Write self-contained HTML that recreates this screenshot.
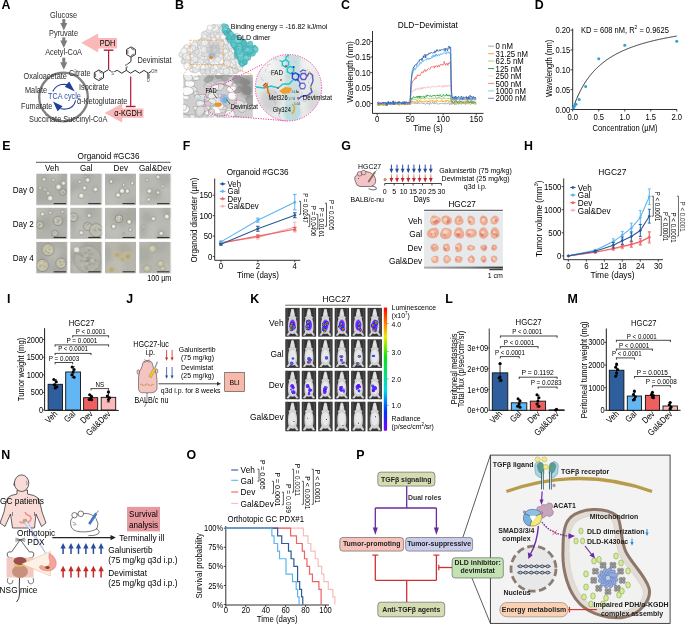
<!DOCTYPE html>
<html><head><meta charset="utf-8"><style>
html,body{margin:0;padding:0;background:#fff;width:685px;height:625px;overflow:hidden}
svg{display:block;font-family:"Liberation Sans",sans-serif;will-change:transform;filter:blur(0.3px)}
</style></head><body>
<svg width="685" height="625" viewBox="0 0 685 625">
<rect width="685" height="625" fill="#fff"/>
<text font-size="12.4" font-weight="bold" fill="#000" transform="translate(1.40 9.30)" >A</text>
<text font-size="7.35" text-anchor="middle" fill="#2a2a2a" transform="translate(63.50 17.60) translate(0 0.3) scale(1 1.15)" >Glucose</text>
<text font-size="7.35" text-anchor="middle" fill="#2a2a2a" transform="translate(63.50 35.60) translate(0 0.3) scale(1 1.15)" >Pyruvate</text>
<text font-size="7.35" text-anchor="middle" fill="#2a2a2a" transform="translate(63.50 54.60) translate(0 0.3) scale(1 1.15)" >Acetyl-CoA</text>
<line x1="63.80" y1="19.10" x2="63.80" y2="23.50" stroke="#7c7c7c" stroke-width="3.0" />
<polygon points="60.30,23.00 67.30,23.00 63.80,30.50" fill="#7c7c7c" />
<line x1="63.80" y1="37.40" x2="63.80" y2="41.00" stroke="#7c7c7c" stroke-width="3.0" />
<polygon points="60.30,40.50 67.30,40.50 63.80,48.00" fill="#7c7c7c" />
<line x1="63.80" y1="57.70" x2="63.80" y2="62.80" stroke="#7c7c7c" stroke-width="3.0" />
<polygon points="60.30,62.30 67.30,62.30 63.80,69.80" fill="#7c7c7c" />
<circle cx="63.50" cy="97.00" r="24.30" fill="none" stroke="#808080" stroke-width="2.3" />
<text font-size="7.35" fill="#2a2a2a" transform="translate(23.60 78.70) translate(0 0.3) scale(1 1.15)" >Oxaloacetate</text>
<text font-size="7.35" fill="#2a2a2a" transform="translate(69.00 75.50) translate(0 0.3) scale(1 1.15)" >Citrate</text>
<text font-size="7.35" fill="#2a2a2a" transform="translate(79.00 89.50) translate(0 0.3) scale(1 1.15)" >Isocitrate</text>
<text font-size="7.35" fill="#2a2a2a" transform="translate(77.00 104.00) translate(0 0.3) scale(1 1.15)" >α-Ketoglutarate</text>
<text font-size="7.35" fill="#2a2a2a" transform="translate(25.00 92.70) translate(0 0.3) scale(1 1.15)" >Malate</text>
<text font-size="7.35" fill="#2a2a2a" transform="translate(21.00 108.30) translate(0 0.3) scale(1 1.15)" >Fumarate</text>
<text font-size="7.35" fill="#2a2a2a" transform="translate(29.00 121.30) translate(0 0.3) scale(1 1.15)" >Succinate Succinyl-CoA</text>
<text font-size="7.3" text-anchor="middle" fill="#2a4f9e" transform="translate(64.50 99.00) translate(0 0.3) scale(1 1.15)" >TCA cycle</text>
<path d="M 52.8 91.6 Q 56 84.5 64 84.3 Q 67 84.4 68 85" fill="none" stroke="#1f3f98" stroke-width="1.1" />
<polygon points="69.20,81.60 64.80,86.80 74.80,91.60" fill="#1f3f98" />
<path d="M 75.6 100.3 Q 74 108 66 109 Q 62.5 109.3 60.5 108.5" fill="none" stroke="#1f3f98" stroke-width="1.1" />
<polygon points="53.00,101.40 57.60,111.20 62.60,106.20" fill="#1f3f98" />
<polygon points="81.10,42.80 98.20,33.50 98.20,38.00 117.00,38.00 117.00,48.40 98.20,48.40 98.20,52.40" fill="#f9b9b9" />
<text font-size="7.3" text-anchor="middle" transform="translate(107.50 45.60) translate(0 0.3) scale(1 1.15)" >PDH</text>
<polygon points="104.60,112.90 122.20,103.60 122.20,108.40 143.50,108.40 143.50,117.70 122.20,117.70 122.20,122.50" fill="#f9b9b9" />
<text font-size="7.3" text-anchor="middle" transform="translate(128.20 115.30) translate(0 0.3) scale(1 1.15)" >α-KGDH</text>
<line x1="108.60" y1="50.20" x2="108.60" y2="69.00" stroke="#b5173a" stroke-width="1.2" />
<line x1="103.80" y1="50.20" x2="113.40" y2="50.20" stroke="#b5173a" stroke-width="1.4" />
<line x1="130.70" y1="76.40" x2="130.70" y2="106.50" stroke="#b5173a" stroke-width="1.2" />
<line x1="125.90" y1="106.50" x2="135.50" y2="106.50" stroke="#b5173a" stroke-width="1.4" />
<text font-size="7.35" fill="#2a2a2a" transform="translate(137.40 62.80) translate(0 0.3) scale(1 1.15)" >Devimistat</text>
<polygon points="103.49,77.95 98.90,80.60 94.31,77.95 94.31,72.65 98.90,70.00 103.49,72.65" fill="none" stroke="#111" stroke-width="0.85" />
<line x1="102.20" y1="77.21" x2="98.90" y2="79.12" stroke="#111" stroke-width="0.6" />
<line x1="95.60" y1="77.21" x2="95.60" y2="73.39" stroke="#111" stroke-width="0.6" />
<line x1="98.90" y1="71.48" x2="102.20" y2="73.39" stroke="#111" stroke-width="0.6" />
<polygon points="135.42,54.55 131.00,57.10 126.58,54.55 126.58,49.45 131.00,46.90 135.42,49.45" fill="none" stroke="#111" stroke-width="0.85" />
<line x1="134.18" y1="53.84" x2="131.00" y2="55.67" stroke="#111" stroke-width="0.6" />
<line x1="127.82" y1="53.84" x2="127.82" y2="50.16" stroke="#111" stroke-width="0.6" />
<line x1="131.00" y1="48.33" x2="134.18" y2="50.16" stroke="#111" stroke-width="0.6" />
<polyline points="103.50,72.65 108.50,69.60 111.30,71.40" fill="none" stroke="#1a1a1a" stroke-width="0.9" />
<polyline points="114.20,71.80 117.20,70.30 121.80,73.20 126.30,70.40 130.60,73.20 135.10,70.40 139.60,73.20 144.00,70.40 148.30,73.20 151.20,71.40" fill="none" stroke="#1a1a1a" stroke-width="0.9" />
<polyline points="126.30,70.40 126.30,68.00" fill="none" stroke="#1a1a1a" stroke-width="0.9" />
<polyline points="127.30,64.20 131.00,61.50 131.00,57.10" fill="none" stroke="#1a1a1a" stroke-width="0.9" />
<line x1="147.80" y1="73.20" x2="147.80" y2="78.20" stroke="#1a1a1a" stroke-width="0.8" />
<line x1="149.00" y1="73.80" x2="149.00" y2="78.20" stroke="#1a1a1a" stroke-width="0.8" />
<text font-size="4.0" text-anchor="middle" fill="#333" transform="translate(112.70 74.40) translate(0 0.3) scale(1 1.15)" >S</text>
<text font-size="4.0" text-anchor="middle" fill="#333" transform="translate(126.30 67.60) translate(0 0.3) scale(1 1.15)" >S</text>
<text font-size="4.0" text-anchor="middle" fill="#333" transform="translate(148.40 81.60) translate(0 0.3) scale(1 1.15)" >O</text>
<text font-size="4.0" fill="#333" transform="translate(151.30 72.40) translate(0 0.3) scale(1 1.15)" >OH</text>
<text font-size="12.4" font-weight="bold" fill="#000" transform="translate(174.90 9.20)" >B</text>
<defs><filter id="bl1" x="-20%" y="-20%" width="140%" height="140%"><feGaussianBlur stdDeviation="1.2"/></filter><filter id="bl2" x="-20%" y="-20%" width="140%" height="140%"><feGaussianBlur stdDeviation="0.6"/></filter><filter id="bl3" x="-30%" y="-30%" width="160%" height="160%"><feGaussianBlur stdDeviation="2.5"/></filter><clipPath id="cpB1"><rect x="183.5" y="74.9" width="69" height="44"/></clipPath><clipPath id="cpB2"><circle cx="288.5" cy="87.7" r="33"/></clipPath></defs>
<polygon points="181.00,57.00 182.00,51.00 186.00,47.00 192.00,43.00 199.00,41.00 203.00,34.00 209.00,28.00 216.00,24.50 222.00,24.00 226.00,28.00 236.00,36.00 247.00,43.00 255.00,47.00 254.00,54.00 248.00,60.00 244.00,67.00 236.00,71.00 226.00,73.50 205.00,73.50 191.00,70.00 183.00,64.00" fill="#e2e2e2" />
<circle cx="198.56" cy="50.84" r="3.33" fill="#e8e8e8" stroke="#a4a4a4" stroke-width="0.35" />
<circle cx="208.86" cy="54.01" r="2.34" fill="#e8e8e8" stroke="#a4a4a4" stroke-width="0.35" />
<circle cx="229.52" cy="68.01" r="2.37" fill="#e8e8e8" stroke="#a4a4a4" stroke-width="0.35" />
<circle cx="220.81" cy="61.29" r="2.03" fill="#f8f8f8" stroke="#a4a4a4" stroke-width="0.35" />
<circle cx="236.07" cy="68.58" r="3.56" fill="#e0e0e0" stroke="#a4a4a4" stroke-width="0.35" />
<circle cx="235.70" cy="70.82" r="2.91" fill="#e8e8e8" stroke="#a4a4a4" stroke-width="0.35" />
<circle cx="210.81" cy="64.45" r="2.01" fill="#eeeeee" stroke="#a4a4a4" stroke-width="0.35" />
<circle cx="214.68" cy="71.59" r="2.08" fill="#eeeeee" stroke="#a4a4a4" stroke-width="0.35" />
<circle cx="219.56" cy="42.45" r="3.23" fill="#f8f8f8" stroke="#a4a4a4" stroke-width="0.35" />
<circle cx="207.37" cy="53.01" r="3.03" fill="#f8f8f8" stroke="#a4a4a4" stroke-width="0.35" />
<circle cx="225.57" cy="69.92" r="3.05" fill="#f3f3f3" stroke="#a4a4a4" stroke-width="0.35" />
<circle cx="233.19" cy="71.23" r="1.97" fill="#f8f8f8" stroke="#a4a4a4" stroke-width="0.35" />
<circle cx="186.90" cy="64.43" r="2.85" fill="#f3f3f3" stroke="#a4a4a4" stroke-width="0.35" />
<circle cx="212.02" cy="29.99" r="2.06" fill="#f8f8f8" stroke="#a4a4a4" stroke-width="0.35" />
<circle cx="202.92" cy="62.75" r="2.19" fill="#e0e0e0" stroke="#a4a4a4" stroke-width="0.35" />
<circle cx="195.40" cy="43.62" r="2.71" fill="#f3f3f3" stroke="#a4a4a4" stroke-width="0.35" />
<circle cx="204.48" cy="72.81" r="2.95" fill="#f8f8f8" stroke="#a4a4a4" stroke-width="0.35" />
<circle cx="215.91" cy="49.56" r="2.45" fill="#f8f8f8" stroke="#a4a4a4" stroke-width="0.35" />
<circle cx="230.22" cy="53.57" r="3.19" fill="#f3f3f3" stroke="#a4a4a4" stroke-width="0.35" />
<circle cx="223.62" cy="54.87" r="3.35" fill="#f3f3f3" stroke="#a4a4a4" stroke-width="0.35" />
<circle cx="213.63" cy="60.18" r="2.32" fill="#f3f3f3" stroke="#a4a4a4" stroke-width="0.35" />
<circle cx="212.39" cy="52.74" r="2.29" fill="#eeeeee" stroke="#a4a4a4" stroke-width="0.35" />
<circle cx="181.56" cy="54.64" r="2.88" fill="#e8e8e8" stroke="#a4a4a4" stroke-width="0.35" />
<circle cx="228.93" cy="46.71" r="3.12" fill="#f3f3f3" stroke="#a4a4a4" stroke-width="0.35" />
<circle cx="235.14" cy="61.12" r="3.11" fill="#e8e8e8" stroke="#a4a4a4" stroke-width="0.35" />
<circle cx="199.59" cy="46.18" r="2.31" fill="#f3f3f3" stroke="#a4a4a4" stroke-width="0.35" />
<circle cx="226.23" cy="38.96" r="2.62" fill="#e0e0e0" stroke="#a4a4a4" stroke-width="0.35" />
<circle cx="208.39" cy="38.57" r="2.40" fill="#e8e8e8" stroke="#a4a4a4" stroke-width="0.35" />
<circle cx="208.79" cy="53.57" r="3.58" fill="#f8f8f8" stroke="#a4a4a4" stroke-width="0.35" />
<circle cx="203.43" cy="41.99" r="2.74" fill="#f8f8f8" stroke="#a4a4a4" stroke-width="0.35" />
<circle cx="224.40" cy="60.96" r="1.89" fill="#e0e0e0" stroke="#a4a4a4" stroke-width="0.35" />
<circle cx="204.18" cy="33.79" r="2.57" fill="#f8f8f8" stroke="#a4a4a4" stroke-width="0.35" />
<circle cx="194.62" cy="45.07" r="3.20" fill="#eeeeee" stroke="#a4a4a4" stroke-width="0.35" />
<circle cx="205.11" cy="39.69" r="2.23" fill="#e0e0e0" stroke="#a4a4a4" stroke-width="0.35" />
<circle cx="206.26" cy="56.46" r="2.49" fill="#eeeeee" stroke="#a4a4a4" stroke-width="0.35" />
<circle cx="221.31" cy="32.11" r="2.46" fill="#e8e8e8" stroke="#a4a4a4" stroke-width="0.35" />
<circle cx="207.02" cy="44.10" r="1.90" fill="#e0e0e0" stroke="#a4a4a4" stroke-width="0.35" />
<circle cx="212.74" cy="43.70" r="3.39" fill="#e0e0e0" stroke="#a4a4a4" stroke-width="0.35" />
<circle cx="213.88" cy="72.36" r="3.12" fill="#e0e0e0" stroke="#a4a4a4" stroke-width="0.35" />
<circle cx="238.15" cy="66.35" r="3.08" fill="#f3f3f3" stroke="#a4a4a4" stroke-width="0.35" />
<circle cx="231.71" cy="49.51" r="1.82" fill="#f3f3f3" stroke="#a4a4a4" stroke-width="0.35" />
<circle cx="202.55" cy="40.08" r="2.71" fill="#e0e0e0" stroke="#a4a4a4" stroke-width="0.35" />
<circle cx="225.92" cy="37.21" r="2.59" fill="#eeeeee" stroke="#a4a4a4" stroke-width="0.35" />
<circle cx="231.71" cy="49.82" r="2.85" fill="#e8e8e8" stroke="#a4a4a4" stroke-width="0.35" />
<circle cx="212.27" cy="71.77" r="2.38" fill="#eeeeee" stroke="#a4a4a4" stroke-width="0.35" />
<circle cx="227.75" cy="40.09" r="2.47" fill="#f8f8f8" stroke="#a4a4a4" stroke-width="0.35" />
<circle cx="199.69" cy="67.67" r="1.80" fill="#eeeeee" stroke="#a4a4a4" stroke-width="0.35" />
<circle cx="217.22" cy="63.46" r="2.18" fill="#e0e0e0" stroke="#a4a4a4" stroke-width="0.35" />
<circle cx="207.44" cy="32.46" r="2.31" fill="#eeeeee" stroke="#a4a4a4" stroke-width="0.35" />
<circle cx="221.70" cy="65.29" r="1.85" fill="#f3f3f3" stroke="#a4a4a4" stroke-width="0.35" />
<circle cx="193.36" cy="63.96" r="2.76" fill="#f3f3f3" stroke="#a4a4a4" stroke-width="0.35" />
<circle cx="229.03" cy="67.72" r="3.29" fill="#e8e8e8" stroke="#a4a4a4" stroke-width="0.35" />
<circle cx="200.95" cy="49.95" r="2.59" fill="#f8f8f8" stroke="#a4a4a4" stroke-width="0.35" />
<circle cx="212.99" cy="47.06" r="2.02" fill="#e0e0e0" stroke="#a4a4a4" stroke-width="0.35" />
<circle cx="186.72" cy="48.61" r="2.20" fill="#e8e8e8" stroke="#a4a4a4" stroke-width="0.35" />
<circle cx="204.64" cy="38.67" r="3.40" fill="#f3f3f3" stroke="#a4a4a4" stroke-width="0.35" />
<circle cx="207.40" cy="56.29" r="2.79" fill="#eeeeee" stroke="#a4a4a4" stroke-width="0.35" />
<circle cx="225.76" cy="41.12" r="3.28" fill="#f8f8f8" stroke="#a4a4a4" stroke-width="0.35" />
<circle cx="189.65" cy="51.44" r="3.39" fill="#e0e0e0" stroke="#a4a4a4" stroke-width="0.35" />
<circle cx="209.12" cy="54.04" r="1.85" fill="#f3f3f3" stroke="#a4a4a4" stroke-width="0.35" />
<circle cx="213.66" cy="41.74" r="2.49" fill="#e0e0e0" stroke="#a4a4a4" stroke-width="0.35" />
<circle cx="218.70" cy="59.25" r="3.30" fill="#e8e8e8" stroke="#a4a4a4" stroke-width="0.35" />
<circle cx="212.80" cy="58.79" r="2.65" fill="#e8e8e8" stroke="#a4a4a4" stroke-width="0.35" />
<circle cx="215.95" cy="34.99" r="2.50" fill="#f8f8f8" stroke="#a4a4a4" stroke-width="0.35" />
<circle cx="221.80" cy="58.84" r="2.94" fill="#f8f8f8" stroke="#a4a4a4" stroke-width="0.35" />
<circle cx="213.22" cy="68.62" r="2.93" fill="#f3f3f3" stroke="#a4a4a4" stroke-width="0.35" />
<circle cx="200.45" cy="46.60" r="2.59" fill="#eeeeee" stroke="#a4a4a4" stroke-width="0.35" />
<circle cx="189.61" cy="65.10" r="2.95" fill="#eeeeee" stroke="#a4a4a4" stroke-width="0.35" />
<circle cx="231.66" cy="69.03" r="1.92" fill="#f3f3f3" stroke="#a4a4a4" stroke-width="0.35" />
<circle cx="188.04" cy="53.15" r="1.92" fill="#eeeeee" stroke="#a4a4a4" stroke-width="0.35" />
<circle cx="189.46" cy="66.73" r="2.38" fill="#e0e0e0" stroke="#a4a4a4" stroke-width="0.35" />
<circle cx="232.54" cy="66.32" r="2.94" fill="#eeeeee" stroke="#a4a4a4" stroke-width="0.35" />
<circle cx="223.99" cy="65.89" r="3.29" fill="#f3f3f3" stroke="#a4a4a4" stroke-width="0.35" />
<circle cx="199.50" cy="54.65" r="2.96" fill="#f8f8f8" stroke="#a4a4a4" stroke-width="0.35" />
<circle cx="208.66" cy="43.02" r="2.21" fill="#f3f3f3" stroke="#a4a4a4" stroke-width="0.35" />
<circle cx="207.32" cy="44.17" r="2.16" fill="#e0e0e0" stroke="#a4a4a4" stroke-width="0.35" />
<circle cx="186.49" cy="48.52" r="3.52" fill="#eeeeee" stroke="#a4a4a4" stroke-width="0.35" />
<circle cx="233.89" cy="62.07" r="2.95" fill="#eeeeee" stroke="#a4a4a4" stroke-width="0.35" />
<circle cx="232.56" cy="49.41" r="3.43" fill="#f8f8f8" stroke="#a4a4a4" stroke-width="0.35" />
<circle cx="217.73" cy="56.08" r="2.74" fill="#f8f8f8" stroke="#a4a4a4" stroke-width="0.35" />
<circle cx="187.48" cy="61.65" r="3.29" fill="#e8e8e8" stroke="#a4a4a4" stroke-width="0.35" />
<circle cx="214.56" cy="60.10" r="2.22" fill="#e0e0e0" stroke="#a4a4a4" stroke-width="0.35" />
<circle cx="195.54" cy="53.04" r="3.28" fill="#f8f8f8" stroke="#a4a4a4" stroke-width="0.35" />
<circle cx="204.56" cy="34.31" r="2.51" fill="#f3f3f3" stroke="#a4a4a4" stroke-width="0.35" />
<circle cx="203.08" cy="59.38" r="3.57" fill="#f8f8f8" stroke="#a4a4a4" stroke-width="0.35" />
<circle cx="212.23" cy="67.24" r="2.21" fill="#f8f8f8" stroke="#a4a4a4" stroke-width="0.35" />
<circle cx="225.60" cy="36.16" r="2.34" fill="#f8f8f8" stroke="#a4a4a4" stroke-width="0.35" />
<circle cx="217.40" cy="42.29" r="2.04" fill="#f8f8f8" stroke="#a4a4a4" stroke-width="0.35" />
<circle cx="205.12" cy="63.03" r="2.46" fill="#f8f8f8" stroke="#a4a4a4" stroke-width="0.35" />
<circle cx="217.41" cy="53.75" r="2.44" fill="#f8f8f8" stroke="#a4a4a4" stroke-width="0.35" />
<circle cx="216.51" cy="66.23" r="3.34" fill="#f8f8f8" stroke="#a4a4a4" stroke-width="0.35" />
<circle cx="217.54" cy="60.20" r="2.17" fill="#eeeeee" stroke="#a4a4a4" stroke-width="0.35" />
<circle cx="216.46" cy="34.17" r="3.10" fill="#f3f3f3" stroke="#a4a4a4" stroke-width="0.35" />
<circle cx="198.31" cy="60.04" r="2.93" fill="#e0e0e0" stroke="#a4a4a4" stroke-width="0.35" />
<circle cx="194.60" cy="59.35" r="3.37" fill="#e8e8e8" stroke="#a4a4a4" stroke-width="0.35" />
<circle cx="199.89" cy="67.85" r="2.13" fill="#eeeeee" stroke="#a4a4a4" stroke-width="0.35" />
<circle cx="204.45" cy="44.43" r="3.49" fill="#eeeeee" stroke="#a4a4a4" stroke-width="0.35" />
<circle cx="187.23" cy="66.20" r="3.47" fill="#f8f8f8" stroke="#a4a4a4" stroke-width="0.35" />
<circle cx="202.76" cy="40.90" r="2.51" fill="#e8e8e8" stroke="#a4a4a4" stroke-width="0.35" />
<circle cx="225.26" cy="57.80" r="2.37" fill="#eeeeee" stroke="#a4a4a4" stroke-width="0.35" />
<circle cx="214.03" cy="47.75" r="2.39" fill="#e8e8e8" stroke="#a4a4a4" stroke-width="0.35" />
<circle cx="196.39" cy="53.01" r="2.49" fill="#eeeeee" stroke="#a4a4a4" stroke-width="0.35" />
<circle cx="222.46" cy="28.32" r="2.23" fill="#f3f3f3" stroke="#a4a4a4" stroke-width="0.35" />
<circle cx="201.43" cy="57.27" r="2.50" fill="#e8e8e8" stroke="#a4a4a4" stroke-width="0.35" />
<circle cx="203.05" cy="57.82" r="2.31" fill="#f3f3f3" stroke="#a4a4a4" stroke-width="0.35" />
<circle cx="231.02" cy="64.72" r="2.27" fill="#f3f3f3" stroke="#a4a4a4" stroke-width="0.35" />
<circle cx="200.72" cy="61.97" r="3.12" fill="#e8e8e8" stroke="#a4a4a4" stroke-width="0.35" />
<circle cx="221.82" cy="28.00" r="2.20" fill="#e0e0e0" stroke="#a4a4a4" stroke-width="0.35" />
<circle cx="218.52" cy="40.66" r="2.11" fill="#e8e8e8" stroke="#a4a4a4" stroke-width="0.35" />
<circle cx="236.01" cy="57.96" r="2.24" fill="#e8e8e8" stroke="#a4a4a4" stroke-width="0.35" />
<circle cx="224.18" cy="31.64" r="2.19" fill="#f3f3f3" stroke="#a4a4a4" stroke-width="0.35" />
<circle cx="230.36" cy="55.44" r="2.90" fill="#e8e8e8" stroke="#a4a4a4" stroke-width="0.35" />
<circle cx="193.97" cy="69.17" r="3.03" fill="#f8f8f8" stroke="#a4a4a4" stroke-width="0.35" />
<circle cx="205.86" cy="60.19" r="2.51" fill="#f8f8f8" stroke="#a4a4a4" stroke-width="0.35" />
<circle cx="226.60" cy="51.41" r="2.56" fill="#e8e8e8" stroke="#a4a4a4" stroke-width="0.35" />
<circle cx="230.50" cy="46.26" r="2.93" fill="#e0e0e0" stroke="#a4a4a4" stroke-width="0.35" />
<circle cx="185.35" cy="59.94" r="2.47" fill="#eeeeee" stroke="#a4a4a4" stroke-width="0.35" />
<circle cx="200.74" cy="42.32" r="3.22" fill="#e0e0e0" stroke="#a4a4a4" stroke-width="0.35" />
<circle cx="219.37" cy="35.10" r="2.68" fill="#f8f8f8" stroke="#a4a4a4" stroke-width="0.35" />
<circle cx="205.96" cy="43.38" r="2.12" fill="#f8f8f8" stroke="#a4a4a4" stroke-width="0.35" />
<circle cx="222.24" cy="62.90" r="3.42" fill="#e0e0e0" stroke="#a4a4a4" stroke-width="0.35" />
<circle cx="207.52" cy="66.88" r="2.20" fill="#f8f8f8" stroke="#a4a4a4" stroke-width="0.35" />
<circle cx="212.50" cy="61.40" r="3.58" fill="#f3f3f3" stroke="#a4a4a4" stroke-width="0.35" />
<circle cx="211.08" cy="32.26" r="2.53" fill="#f8f8f8" stroke="#a4a4a4" stroke-width="0.35" />
<circle cx="221.15" cy="52.12" r="2.67" fill="#e8e8e8" stroke="#a4a4a4" stroke-width="0.35" />
<circle cx="223.10" cy="52.90" r="2.01" fill="#e0e0e0" stroke="#a4a4a4" stroke-width="0.35" />
<circle cx="226.91" cy="60.52" r="2.41" fill="#e8e8e8" stroke="#a4a4a4" stroke-width="0.35" />
<circle cx="231.63" cy="48.07" r="2.85" fill="#eeeeee" stroke="#a4a4a4" stroke-width="0.35" />
<circle cx="220.84" cy="46.41" r="2.43" fill="#e8e8e8" stroke="#a4a4a4" stroke-width="0.35" />
<circle cx="195.09" cy="50.07" r="3.33" fill="#e0e0e0" stroke="#a4a4a4" stroke-width="0.35" />
<circle cx="230.38" cy="45.54" r="2.93" fill="#e8e8e8" stroke="#a4a4a4" stroke-width="0.35" />
<circle cx="224.15" cy="72.83" r="3.35" fill="#e0e0e0" stroke="#a4a4a4" stroke-width="0.35" />
<circle cx="222.03" cy="71.28" r="2.47" fill="#eeeeee" stroke="#a4a4a4" stroke-width="0.35" />
<circle cx="205.20" cy="68.14" r="2.85" fill="#e8e8e8" stroke="#a4a4a4" stroke-width="0.35" />
<circle cx="192.54" cy="48.35" r="2.92" fill="#f8f8f8" stroke="#a4a4a4" stroke-width="0.35" />
<circle cx="234.54" cy="50.48" r="2.87" fill="#f8f8f8" stroke="#a4a4a4" stroke-width="0.35" />
<circle cx="212.92" cy="56.41" r="3.41" fill="#f3f3f3" stroke="#a4a4a4" stroke-width="0.35" />
<circle cx="203.76" cy="46.61" r="2.77" fill="#e0e0e0" stroke="#a4a4a4" stroke-width="0.35" />
<circle cx="194.09" cy="69.67" r="3.30" fill="#f3f3f3" stroke="#a4a4a4" stroke-width="0.35" />
<circle cx="208.94" cy="50.05" r="3.46" fill="#e0e0e0" stroke="#a4a4a4" stroke-width="0.35" />
<circle cx="215.88" cy="32.35" r="3.02" fill="#f3f3f3" stroke="#a4a4a4" stroke-width="0.35" />
<circle cx="211.49" cy="30.92" r="2.56" fill="#f3f3f3" stroke="#a4a4a4" stroke-width="0.35" />
<circle cx="193.12" cy="47.98" r="2.82" fill="#e8e8e8" stroke="#a4a4a4" stroke-width="0.35" />
<circle cx="214.95" cy="43.61" r="2.33" fill="#e8e8e8" stroke="#a4a4a4" stroke-width="0.35" />
<circle cx="211.46" cy="43.02" r="2.81" fill="#e0e0e0" stroke="#a4a4a4" stroke-width="0.35" />
<circle cx="217.02" cy="30.73" r="3.08" fill="#f3f3f3" stroke="#a4a4a4" stroke-width="0.35" />
<circle cx="228.55" cy="40.36" r="2.80" fill="#f3f3f3" stroke="#a4a4a4" stroke-width="0.35" />
<circle cx="236.76" cy="36.58" r="3.45" fill="#e0e0e0" stroke="#a4a4a4" stroke-width="0.35" />
<circle cx="184.21" cy="56.68" r="2.11" fill="#e0e0e0" stroke="#a4a4a4" stroke-width="0.35" />
<circle cx="203.77" cy="54.17" r="2.64" fill="#e0e0e0" stroke="#a4a4a4" stroke-width="0.35" />
<circle cx="202.89" cy="67.04" r="2.80" fill="#f3f3f3" stroke="#a4a4a4" stroke-width="0.35" />
<circle cx="206.07" cy="58.04" r="1.99" fill="#eeeeee" stroke="#a4a4a4" stroke-width="0.35" />
<circle cx="237.70" cy="60.90" r="2.89" fill="#e8e8e8" stroke="#a4a4a4" stroke-width="0.35" />
<circle cx="212.35" cy="34.16" r="2.10" fill="#e8e8e8" stroke="#a4a4a4" stroke-width="0.35" />
<circle cx="236.21" cy="54.10" r="2.01" fill="#f8f8f8" stroke="#a4a4a4" stroke-width="0.35" />
<circle cx="217.99" cy="30.16" r="2.77" fill="#e0e0e0" stroke="#a4a4a4" stroke-width="0.35" />
<circle cx="216.42" cy="62.20" r="3.36" fill="#f8f8f8" stroke="#a4a4a4" stroke-width="0.35" />
<circle cx="198.50" cy="66.71" r="2.37" fill="#f3f3f3" stroke="#a4a4a4" stroke-width="0.35" />
<circle cx="230.11" cy="68.56" r="1.92" fill="#f3f3f3" stroke="#a4a4a4" stroke-width="0.35" />
<circle cx="206.03" cy="41.61" r="3.03" fill="#e8e8e8" stroke="#a4a4a4" stroke-width="0.35" />
<circle cx="186.31" cy="56.40" r="3.49" fill="#eeeeee" stroke="#a4a4a4" stroke-width="0.35" />
<circle cx="191.91" cy="56.16" r="2.18" fill="#eeeeee" stroke="#a4a4a4" stroke-width="0.35" />
<circle cx="197.17" cy="51.81" r="2.66" fill="#e0e0e0" stroke="#a4a4a4" stroke-width="0.35" />
<circle cx="212.73" cy="63.40" r="2.07" fill="#f3f3f3" stroke="#a4a4a4" stroke-width="0.35" />
<circle cx="227.14" cy="63.80" r="3.53" fill="#e8e8e8" stroke="#a4a4a4" stroke-width="0.35" />
<circle cx="221.75" cy="31.97" r="2.28" fill="#f8f8f8" stroke="#a4a4a4" stroke-width="0.35" />
<circle cx="195.54" cy="69.34" r="3.51" fill="#e8e8e8" stroke="#a4a4a4" stroke-width="0.35" />
<circle cx="186.69" cy="46.66" r="2.24" fill="#f3f3f3" stroke="#a4a4a4" stroke-width="0.35" />
<circle cx="197.37" cy="65.96" r="3.22" fill="#f3f3f3" stroke="#a4a4a4" stroke-width="0.35" />
<circle cx="228.00" cy="56.02" r="3.43" fill="#eeeeee" stroke="#a4a4a4" stroke-width="0.35" />
<circle cx="239.39" cy="68.20" r="3.36" fill="#e8e8e8" stroke="#a4a4a4" stroke-width="0.35" />
<circle cx="206.99" cy="53.96" r="3.15" fill="#e8e8e8" stroke="#a4a4a4" stroke-width="0.35" />
<circle cx="214.76" cy="27.88" r="3.57" fill="#f3f3f3" stroke="#a4a4a4" stroke-width="0.35" />
<circle cx="222.06" cy="46.60" r="3.55" fill="#f3f3f3" stroke="#a4a4a4" stroke-width="0.35" />
<circle cx="207.00" cy="47.68" r="3.29" fill="#e8e8e8" stroke="#a4a4a4" stroke-width="0.35" />
<circle cx="185.58" cy="51.29" r="2.10" fill="#e0e0e0" stroke="#a4a4a4" stroke-width="0.35" />
<circle cx="230.58" cy="54.11" r="2.29" fill="#f8f8f8" stroke="#a4a4a4" stroke-width="0.35" />
<circle cx="213.60" cy="26.46" r="2.04" fill="#e0e0e0" stroke="#a4a4a4" stroke-width="0.35" />
<circle cx="227.75" cy="71.36" r="3.14" fill="#f8f8f8" stroke="#a4a4a4" stroke-width="0.35" />
<circle cx="221.79" cy="44.19" r="2.82" fill="#f8f8f8" stroke="#a4a4a4" stroke-width="0.35" />
<circle cx="202.78" cy="71.51" r="2.57" fill="#e0e0e0" stroke="#a4a4a4" stroke-width="0.35" />
<circle cx="220.52" cy="55.88" r="2.26" fill="#f8f8f8" stroke="#a4a4a4" stroke-width="0.35" />
<circle cx="183.16" cy="61.49" r="2.29" fill="#e0e0e0" stroke="#a4a4a4" stroke-width="0.35" />
<circle cx="201.53" cy="44.92" r="2.08" fill="#eeeeee" stroke="#a4a4a4" stroke-width="0.35" />
<circle cx="206.89" cy="61.33" r="2.11" fill="#eeeeee" stroke="#a4a4a4" stroke-width="0.35" />
<circle cx="191.95" cy="62.42" r="2.18" fill="#e8e8e8" stroke="#a4a4a4" stroke-width="0.35" />
<circle cx="209.06" cy="30.55" r="2.71" fill="#e8e8e8" stroke="#a4a4a4" stroke-width="0.35" />
<circle cx="204.33" cy="46.55" r="3.33" fill="#f3f3f3" stroke="#a4a4a4" stroke-width="0.35" />
<circle cx="221.02" cy="50.73" r="2.26" fill="#f8f8f8" stroke="#a4a4a4" stroke-width="0.35" />
<circle cx="208.06" cy="67.19" r="2.81" fill="#f3f3f3" stroke="#a4a4a4" stroke-width="0.35" />
<circle cx="202.24" cy="46.55" r="2.16" fill="#e8e8e8" stroke="#a4a4a4" stroke-width="0.35" />
<circle cx="203.20" cy="34.86" r="2.19" fill="#eeeeee" stroke="#a4a4a4" stroke-width="0.35" />
<circle cx="190.26" cy="50.14" r="2.67" fill="#f3f3f3" stroke="#a4a4a4" stroke-width="0.35" />
<circle cx="221.80" cy="30.78" r="2.07" fill="#f8f8f8" stroke="#a4a4a4" stroke-width="0.35" />
<circle cx="213.72" cy="39.93" r="2.41" fill="#f8f8f8" stroke="#a4a4a4" stroke-width="0.35" />
<circle cx="184.00" cy="50.94" r="3.12" fill="#f3f3f3" stroke="#a4a4a4" stroke-width="0.35" />
<circle cx="199.28" cy="64.51" r="2.05" fill="#f8f8f8" stroke="#a4a4a4" stroke-width="0.35" />
<circle cx="212.62" cy="35.80" r="1.94" fill="#e8e8e8" stroke="#a4a4a4" stroke-width="0.35" />
<circle cx="228.94" cy="57.79" r="1.97" fill="#eeeeee" stroke="#a4a4a4" stroke-width="0.35" />
<circle cx="239.15" cy="63.84" r="2.93" fill="#f8f8f8" stroke="#a4a4a4" stroke-width="0.35" />
<circle cx="219.69" cy="66.04" r="2.50" fill="#e0e0e0" stroke="#a4a4a4" stroke-width="0.35" />
<circle cx="223.04" cy="36.82" r="2.80" fill="#f8f8f8" stroke="#a4a4a4" stroke-width="0.35" />
<circle cx="230.16" cy="69.54" r="2.60" fill="#e8e8e8" stroke="#a4a4a4" stroke-width="0.35" />
<circle cx="231.91" cy="71.22" r="3.06" fill="#eeeeee" stroke="#a4a4a4" stroke-width="0.35" />
<circle cx="212.33" cy="49.48" r="1.93" fill="#e0e0e0" stroke="#a4a4a4" stroke-width="0.35" />
<circle cx="222.67" cy="43.63" r="2.11" fill="#eeeeee" stroke="#a4a4a4" stroke-width="0.35" />
<circle cx="207.45" cy="46.11" r="2.41" fill="#f3f3f3" stroke="#a4a4a4" stroke-width="0.35" />
<circle cx="204.56" cy="49.67" r="3.30" fill="#f3f3f3" stroke="#a4a4a4" stroke-width="0.35" />
<circle cx="212.13" cy="67.11" r="1.98" fill="#e8e8e8" stroke="#a4a4a4" stroke-width="0.35" />
<circle cx="224.81" cy="51.14" r="2.50" fill="#f8f8f8" stroke="#a4a4a4" stroke-width="0.35" />
<circle cx="218.03" cy="36.83" r="2.60" fill="#f3f3f3" stroke="#a4a4a4" stroke-width="0.35" />
<circle cx="235.33" cy="70.32" r="2.93" fill="#e0e0e0" stroke="#a4a4a4" stroke-width="0.35" />
<circle cx="187.99" cy="57.44" r="2.61" fill="#eeeeee" stroke="#a4a4a4" stroke-width="0.35" />
<circle cx="208.96" cy="49.28" r="2.42" fill="#e8e8e8" stroke="#a4a4a4" stroke-width="0.35" />
<circle cx="209.90" cy="65.89" r="2.08" fill="#e0e0e0" stroke="#a4a4a4" stroke-width="0.35" />
<circle cx="204.66" cy="36.36" r="1.97" fill="#f3f3f3" stroke="#a4a4a4" stroke-width="0.35" />
<circle cx="204.76" cy="42.80" r="3.57" fill="#eeeeee" stroke="#a4a4a4" stroke-width="0.35" />
<circle cx="221.05" cy="61.38" r="2.78" fill="#f8f8f8" stroke="#a4a4a4" stroke-width="0.35" />
<circle cx="217.66" cy="36.20" r="2.24" fill="#eeeeee" stroke="#a4a4a4" stroke-width="0.35" />
<circle cx="191.25" cy="69.99" r="1.84" fill="#eeeeee" stroke="#a4a4a4" stroke-width="0.35" />
<circle cx="232.62" cy="56.29" r="2.86" fill="#e8e8e8" stroke="#a4a4a4" stroke-width="0.35" />
<circle cx="194.79" cy="65.60" r="2.15" fill="#f8f8f8" stroke="#a4a4a4" stroke-width="0.35" />
<circle cx="209.83" cy="27.67" r="2.72" fill="#f8f8f8" stroke="#a4a4a4" stroke-width="0.35" />
<circle cx="207.49" cy="70.49" r="2.49" fill="#e8e8e8" stroke="#a4a4a4" stroke-width="0.35" />
<circle cx="207.64" cy="72.39" r="2.74" fill="#e0e0e0" stroke="#a4a4a4" stroke-width="0.35" />
<circle cx="217.84" cy="59.28" r="2.95" fill="#eeeeee" stroke="#a4a4a4" stroke-width="0.35" />
<circle cx="206.94" cy="61.65" r="2.12" fill="#e0e0e0" stroke="#a4a4a4" stroke-width="0.35" />
<circle cx="216.20" cy="50.52" r="2.70" fill="#eeeeee" stroke="#a4a4a4" stroke-width="0.35" />
<circle cx="214.50" cy="50.33" r="2.31" fill="#f8f8f8" stroke="#a4a4a4" stroke-width="0.35" />
<circle cx="226.36" cy="71.44" r="3.49" fill="#e8e8e8" stroke="#a4a4a4" stroke-width="0.35" />
<circle cx="232.19" cy="44.69" r="1.67" fill="#52bcbf" stroke="#36979b" stroke-width="0.3" />
<circle cx="232.02" cy="36.64" r="1.74" fill="#5cc6c8" stroke="#36979b" stroke-width="0.3" />
<circle cx="249.79" cy="47.48" r="2.00" fill="#52bcbf" stroke="#36979b" stroke-width="0.3" />
<circle cx="250.76" cy="46.41" r="2.26" fill="#5cc6c8" stroke="#36979b" stroke-width="0.3" />
<circle cx="246.95" cy="46.60" r="2.37" fill="#52bcbf" stroke="#36979b" stroke-width="0.3" />
<circle cx="248.44" cy="48.91" r="1.59" fill="#70d0d2" stroke="#36979b" stroke-width="0.3" />
<circle cx="235.64" cy="44.34" r="1.97" fill="#66cccd" stroke="#36979b" stroke-width="0.3" />
<circle cx="230.27" cy="39.17" r="3.10" fill="#52bcbf" stroke="#36979b" stroke-width="0.3" />
<circle cx="246.02" cy="57.70" r="1.76" fill="#66cccd" stroke="#36979b" stroke-width="0.3" />
<circle cx="228.11" cy="38.17" r="2.31" fill="#52bcbf" stroke="#36979b" stroke-width="0.3" />
<circle cx="243.38" cy="51.33" r="1.61" fill="#5cc6c8" stroke="#36979b" stroke-width="0.3" />
<circle cx="229.66" cy="30.72" r="1.54" fill="#70d0d2" stroke="#36979b" stroke-width="0.3" />
<circle cx="223.92" cy="30.57" r="2.20" fill="#52bcbf" stroke="#36979b" stroke-width="0.3" />
<circle cx="255.35" cy="49.11" r="2.62" fill="#70d0d2" stroke="#36979b" stroke-width="0.3" />
<circle cx="233.61" cy="42.69" r="2.69" fill="#70d0d2" stroke="#36979b" stroke-width="0.3" />
<circle cx="228.78" cy="32.96" r="1.96" fill="#70d0d2" stroke="#36979b" stroke-width="0.3" />
<circle cx="245.68" cy="56.93" r="2.71" fill="#5cc6c8" stroke="#36979b" stroke-width="0.3" />
<circle cx="239.13" cy="40.17" r="2.92" fill="#70d0d2" stroke="#36979b" stroke-width="0.3" />
<circle cx="240.12" cy="42.77" r="2.35" fill="#66cccd" stroke="#36979b" stroke-width="0.3" />
<circle cx="245.84" cy="56.33" r="2.50" fill="#66cccd" stroke="#36979b" stroke-width="0.3" />
<circle cx="225.81" cy="32.35" r="2.20" fill="#52bcbf" stroke="#36979b" stroke-width="0.3" />
<circle cx="232.63" cy="43.26" r="1.61" fill="#52bcbf" stroke="#36979b" stroke-width="0.3" />
<circle cx="232.68" cy="40.50" r="2.35" fill="#70d0d2" stroke="#36979b" stroke-width="0.3" />
<circle cx="229.75" cy="32.64" r="1.94" fill="#52bcbf" stroke="#36979b" stroke-width="0.3" />
<circle cx="241.69" cy="48.89" r="2.70" fill="#5cc6c8" stroke="#36979b" stroke-width="0.3" />
<circle cx="235.93" cy="46.36" r="2.36" fill="#70d0d2" stroke="#36979b" stroke-width="0.3" />
<circle cx="230.01" cy="31.78" r="1.65" fill="#52bcbf" stroke="#36979b" stroke-width="0.3" />
<circle cx="235.95" cy="38.56" r="2.91" fill="#70d0d2" stroke="#36979b" stroke-width="0.3" />
<circle cx="246.17" cy="50.48" r="3.09" fill="#66cccd" stroke="#36979b" stroke-width="0.3" />
<circle cx="241.73" cy="41.53" r="2.49" fill="#5cc6c8" stroke="#36979b" stroke-width="0.3" />
<circle cx="233.37" cy="35.96" r="2.09" fill="#5cc6c8" stroke="#36979b" stroke-width="0.3" />
<circle cx="239.46" cy="59.38" r="1.80" fill="#66cccd" stroke="#36979b" stroke-width="0.3" />
<circle cx="239.17" cy="40.36" r="3.04" fill="#66cccd" stroke="#36979b" stroke-width="0.3" />
<circle cx="240.63" cy="62.62" r="2.44" fill="#70d0d2" stroke="#36979b" stroke-width="0.3" />
<circle cx="235.01" cy="39.36" r="2.61" fill="#70d0d2" stroke="#36979b" stroke-width="0.3" />
<circle cx="241.79" cy="45.00" r="2.02" fill="#66cccd" stroke="#36979b" stroke-width="0.3" />
<circle cx="239.83" cy="43.68" r="2.64" fill="#52bcbf" stroke="#36979b" stroke-width="0.3" />
<circle cx="238.90" cy="56.34" r="2.50" fill="#52bcbf" stroke="#36979b" stroke-width="0.3" />
<circle cx="241.63" cy="62.27" r="2.58" fill="#52bcbf" stroke="#36979b" stroke-width="0.3" />
<circle cx="250.21" cy="43.67" r="2.67" fill="#66cccd" stroke="#36979b" stroke-width="0.3" />
<circle cx="255.01" cy="48.33" r="2.14" fill="#52bcbf" stroke="#36979b" stroke-width="0.3" />
<circle cx="223.64" cy="26.12" r="1.72" fill="#52bcbf" stroke="#36979b" stroke-width="0.3" />
<circle cx="248.19" cy="57.70" r="2.75" fill="#70d0d2" stroke="#36979b" stroke-width="0.3" />
<circle cx="244.80" cy="58.78" r="2.52" fill="#70d0d2" stroke="#36979b" stroke-width="0.3" />
<circle cx="240.88" cy="54.13" r="3.00" fill="#70d0d2" stroke="#36979b" stroke-width="0.3" />
<circle cx="231.26" cy="33.25" r="1.67" fill="#5cc6c8" stroke="#36979b" stroke-width="0.3" />
<circle cx="237.52" cy="40.71" r="2.23" fill="#70d0d2" stroke="#36979b" stroke-width="0.3" />
<circle cx="240.82" cy="55.53" r="2.27" fill="#70d0d2" stroke="#36979b" stroke-width="0.3" />
<circle cx="232.72" cy="38.14" r="2.11" fill="#70d0d2" stroke="#36979b" stroke-width="0.3" />
<circle cx="243.77" cy="41.42" r="2.11" fill="#52bcbf" stroke="#36979b" stroke-width="0.3" />
<circle cx="245.99" cy="43.99" r="1.77" fill="#5cc6c8" stroke="#36979b" stroke-width="0.3" />
<circle cx="246.41" cy="50.88" r="1.58" fill="#5cc6c8" stroke="#36979b" stroke-width="0.3" />
<circle cx="244.70" cy="45.77" r="2.94" fill="#52bcbf" stroke="#36979b" stroke-width="0.3" />
<circle cx="240.92" cy="45.58" r="2.27" fill="#70d0d2" stroke="#36979b" stroke-width="0.3" />
<circle cx="239.40" cy="43.26" r="2.50" fill="#52bcbf" stroke="#36979b" stroke-width="0.3" />
<circle cx="242.46" cy="49.67" r="1.51" fill="#5cc6c8" stroke="#36979b" stroke-width="0.3" />
<circle cx="238.20" cy="49.15" r="2.96" fill="#66cccd" stroke="#36979b" stroke-width="0.3" />
<circle cx="252.52" cy="54.22" r="2.03" fill="#70d0d2" stroke="#36979b" stroke-width="0.3" />
<circle cx="243.39" cy="45.83" r="2.02" fill="#70d0d2" stroke="#36979b" stroke-width="0.3" />
<circle cx="254.37" cy="46.91" r="1.89" fill="#52bcbf" stroke="#36979b" stroke-width="0.3" />
<circle cx="226.32" cy="26.51" r="2.18" fill="#52bcbf" stroke="#36979b" stroke-width="0.3" />
<circle cx="254.06" cy="49.88" r="2.82" fill="#66cccd" stroke="#36979b" stroke-width="0.3" />
<circle cx="231.43" cy="33.96" r="2.20" fill="#70d0d2" stroke="#36979b" stroke-width="0.3" />
<circle cx="237.15" cy="55.70" r="3.10" fill="#66cccd" stroke="#36979b" stroke-width="0.3" />
<circle cx="247.94" cy="51.65" r="2.95" fill="#66cccd" stroke="#36979b" stroke-width="0.3" />
<circle cx="250.39" cy="54.97" r="1.72" fill="#5cc6c8" stroke="#36979b" stroke-width="0.3" />
<circle cx="230.62" cy="39.69" r="3.08" fill="#52bcbf" stroke="#36979b" stroke-width="0.3" />
<circle cx="237.17" cy="54.18" r="2.75" fill="#70d0d2" stroke="#36979b" stroke-width="0.3" />
<circle cx="234.26" cy="46.38" r="2.01" fill="#66cccd" stroke="#36979b" stroke-width="0.3" />
<circle cx="234.80" cy="39.06" r="2.36" fill="#70d0d2" stroke="#36979b" stroke-width="0.3" />
<circle cx="245.95" cy="45.31" r="3.02" fill="#70d0d2" stroke="#36979b" stroke-width="0.3" />
<circle cx="255.39" cy="50.16" r="2.61" fill="#70d0d2" stroke="#36979b" stroke-width="0.3" />
<circle cx="242.97" cy="61.64" r="1.99" fill="#5cc6c8" stroke="#36979b" stroke-width="0.3" />
<circle cx="234.26" cy="36.54" r="2.33" fill="#52bcbf" stroke="#36979b" stroke-width="0.3" />
<circle cx="235.13" cy="48.91" r="1.63" fill="#66cccd" stroke="#36979b" stroke-width="0.3" />
<circle cx="237.42" cy="52.86" r="2.76" fill="#5cc6c8" stroke="#36979b" stroke-width="0.3" />
<circle cx="252.89" cy="53.33" r="2.77" fill="#66cccd" stroke="#36979b" stroke-width="0.3" />
<circle cx="243.56" cy="43.54" r="2.91" fill="#5cc6c8" stroke="#36979b" stroke-width="0.3" />
<circle cx="245.95" cy="58.08" r="2.89" fill="#70d0d2" stroke="#36979b" stroke-width="0.3" />
<circle cx="246.28" cy="49.82" r="2.80" fill="#70d0d2" stroke="#36979b" stroke-width="0.3" />
<circle cx="251.71" cy="51.91" r="2.06" fill="#52bcbf" stroke="#36979b" stroke-width="0.3" />
<circle cx="238.91" cy="58.24" r="1.71" fill="#52bcbf" stroke="#36979b" stroke-width="0.3" />
<circle cx="235.39" cy="47.13" r="2.57" fill="#52bcbf" stroke="#36979b" stroke-width="0.3" />
<circle cx="241.77" cy="63.23" r="1.97" fill="#66cccd" stroke="#36979b" stroke-width="0.3" />
<circle cx="243.17" cy="52.09" r="2.66" fill="#52bcbf" stroke="#36979b" stroke-width="0.3" />
<circle cx="232.89" cy="41.56" r="2.97" fill="#5cc6c8" stroke="#36979b" stroke-width="0.3" />
<circle cx="228.02" cy="30.13" r="2.20" fill="#5cc6c8" stroke="#36979b" stroke-width="0.3" />
<circle cx="244.88" cy="61.47" r="2.14" fill="#70d0d2" stroke="#36979b" stroke-width="0.3" />
<circle cx="242.20" cy="64.01" r="2.62" fill="#5cc6c8" stroke="#36979b" stroke-width="0.3" />
<circle cx="247.90" cy="48.76" r="2.03" fill="#52bcbf" stroke="#36979b" stroke-width="0.3" />
<circle cx="236.33" cy="50.90" r="2.07" fill="#52bcbf" stroke="#36979b" stroke-width="0.3" />
<circle cx="238.81" cy="55.54" r="2.19" fill="#66cccd" stroke="#36979b" stroke-width="0.3" />
<circle cx="245.25" cy="62.99" r="2.01" fill="#52bcbf" stroke="#36979b" stroke-width="0.3" />
<circle cx="241.86" cy="52.14" r="2.54" fill="#70d0d2" stroke="#36979b" stroke-width="0.3" />
<circle cx="226.21" cy="34.30" r="1.69" fill="#52bcbf" stroke="#36979b" stroke-width="0.3" />
<circle cx="241.05" cy="58.13" r="2.88" fill="#66cccd" stroke="#36979b" stroke-width="0.3" />
<circle cx="240.72" cy="49.88" r="2.13" fill="#5cc6c8" stroke="#36979b" stroke-width="0.3" />
<circle cx="238.55" cy="53.68" r="2.93" fill="#52bcbf" stroke="#36979b" stroke-width="0.3" />
<circle cx="248.13" cy="52.11" r="2.86" fill="#52bcbf" stroke="#36979b" stroke-width="0.3" />
<circle cx="237.54" cy="48.98" r="2.75" fill="#66cccd" stroke="#36979b" stroke-width="0.3" />
<circle cx="248.47" cy="51.02" r="2.40" fill="#5cc6c8" stroke="#36979b" stroke-width="0.3" />
<circle cx="226.49" cy="27.19" r="2.20" fill="#70d0d2" stroke="#36979b" stroke-width="0.3" />
<circle cx="235.17" cy="45.80" r="2.42" fill="#5cc6c8" stroke="#36979b" stroke-width="0.3" />
<circle cx="249.49" cy="50.04" r="3.13" fill="#5cc6c8" stroke="#36979b" stroke-width="0.3" />
<circle cx="239.13" cy="46.95" r="3.20" fill="#66cccd" stroke="#36979b" stroke-width="0.3" />
<circle cx="224.20" cy="30.53" r="2.20" fill="#70d0d2" stroke="#36979b" stroke-width="0.3" />
<circle cx="245.13" cy="52.03" r="2.95" fill="#52bcbf" stroke="#36979b" stroke-width="0.3" />
<circle cx="245.96" cy="50.18" r="2.12" fill="#70d0d2" stroke="#36979b" stroke-width="0.3" />
<circle cx="239.63" cy="58.07" r="1.63" fill="#70d0d2" stroke="#36979b" stroke-width="0.3" />
<circle cx="223.81" cy="25.54" r="2.14" fill="#66cccd" stroke="#36979b" stroke-width="0.3" />
<circle cx="229.88" cy="37.50" r="2.16" fill="#66cccd" stroke="#36979b" stroke-width="0.3" />
<circle cx="237.85" cy="48.49" r="2.79" fill="#52bcbf" stroke="#36979b" stroke-width="0.3" />
<circle cx="233.62" cy="44.85" r="2.73" fill="#5cc6c8" stroke="#36979b" stroke-width="0.3" />
<circle cx="244.99" cy="46.98" r="2.83" fill="#52bcbf" stroke="#36979b" stroke-width="0.3" />
<circle cx="240.09" cy="41.08" r="2.04" fill="#66cccd" stroke="#36979b" stroke-width="0.3" />
<circle cx="255.87" cy="49.07" r="2.39" fill="#70d0d2" stroke="#36979b" stroke-width="0.3" />
<circle cx="228.07" cy="30.20" r="1.82" fill="#52bcbf" stroke="#36979b" stroke-width="0.3" />
<circle cx="245.03" cy="61.91" r="2.44" fill="#52bcbf" stroke="#36979b" stroke-width="0.3" />
<circle cx="247.48" cy="49.77" r="2.22" fill="#70d0d2" stroke="#36979b" stroke-width="0.3" />
<circle cx="239.31" cy="49.19" r="2.63" fill="#70d0d2" stroke="#36979b" stroke-width="0.3" />
<circle cx="240.43" cy="54.44" r="3.14" fill="#70d0d2" stroke="#36979b" stroke-width="0.3" />
<circle cx="225.15" cy="29.13" r="2.20" fill="#70d0d2" stroke="#36979b" stroke-width="0.3" />
<circle cx="232.42" cy="37.45" r="2.34" fill="#52bcbf" stroke="#36979b" stroke-width="0.3" />
<circle cx="231.29" cy="35.71" r="1.53" fill="#70d0d2" stroke="#36979b" stroke-width="0.3" />
<circle cx="229.59" cy="40.08" r="2.43" fill="#5cc6c8" stroke="#36979b" stroke-width="0.3" />
<circle cx="225.06" cy="32.35" r="1.67" fill="#52bcbf" stroke="#36979b" stroke-width="0.3" />
<circle cx="229.61" cy="37.71" r="2.33" fill="#52bcbf" stroke="#36979b" stroke-width="0.3" />
<circle cx="244.13" cy="43.39" r="2.81" fill="#52bcbf" stroke="#36979b" stroke-width="0.3" />
<circle cx="238.87" cy="51.44" r="2.88" fill="#5cc6c8" stroke="#36979b" stroke-width="0.3" />
<circle cx="237.59" cy="39.99" r="3.17" fill="#70d0d2" stroke="#36979b" stroke-width="0.3" />
<g filter="url(#bl3)">
<ellipse cx="214.00" cy="50.00" rx="9.00" ry="7.00" fill="#b4b4b4" opacity="0.6"/>
</g>
<ellipse cx="212.00" cy="56.00" rx="3.50" ry="2.80" fill="#8f9fc8" opacity="0.6"/>
<ellipse cx="211.00" cy="57.50" rx="1.80" ry="1.40" fill="#d8902a" />
<rect x="190.00" y="40.30" width="33.60" height="24.20" fill="none" stroke="#f0a040" stroke-width="0.8" stroke-dasharray="1.6 1.2"/>
<line x1="190.00" y1="64.50" x2="183.50" y2="74.90" stroke="#f0a040" stroke-width="0.8" stroke-dasharray="1.6 1.2"/>
<line x1="223.60" y1="64.50" x2="252.50" y2="74.90" stroke="#f0a040" stroke-width="0.8" stroke-dasharray="1.6 1.2"/>
<clipPath id="cpB1b"><rect x="183.2" y="75.1" width="69.7" height="42.7"/></clipPath>
<g clip-path="url(#cpB1b)">
<rect x="183.20" y="75.10" width="69.70" height="42.70" fill="#cfcfcf" />
<g filter="url(#bl2)">
<path d="M 225.75 105.84 Q 227.18 107.39 226.84 109.24 Q 226.51 111.10 224.04 111.95 Q 221.57 112.80 218.88 112.06 Q 216.19 111.33 216.58 109.42 Q 216.98 107.50 218.21 106.26 Q 219.44 105.02 221.88 104.65 Q 224.32 104.29 225.75 105.84 Z" fill="#ececec" stroke="#8e8e8e" stroke-width="0.5" />
<path d="M 222.60 106.73 Q 223.66 106.09 224.91 106.53 Q 226.17 106.98 227.43 107.68 Q 228.68 108.38 227.35 109.03 Q 226.01 109.68 224.72 109.94 Q 223.43 110.21 222.24 109.66 Q 221.06 109.11 221.30 108.24 Q 221.54 107.37 222.60 106.73 Z" fill="#dcdcdc" stroke="#8e8e8e" stroke-width="0.5" />
<path d="M 187.38 76.30 Q 187.38 74.31 189.82 73.77 Q 192.26 73.24 194.87 73.01 Q 197.48 72.79 198.15 74.69 Q 198.82 76.58 198.08 78.53 Q 197.34 80.48 194.58 80.30 Q 191.82 80.11 189.60 79.21 Q 187.39 78.30 187.38 76.30 Z" fill="#f4f4f4" stroke="#8e8e8e" stroke-width="0.5" />
<path d="M 181.21 104.95 Q 183.91 103.97 186.47 105.14 Q 189.02 106.31 189.30 108.53 Q 189.57 110.76 187.75 112.23 Q 185.92 113.70 183.79 113.08 Q 181.65 112.47 180.10 111.36 Q 178.56 110.24 178.54 108.09 Q 178.52 105.94 181.21 104.95 Z" fill="#fafafa" stroke="#8e8e8e" stroke-width="0.5" />
<path d="M 214.77 107.33 Q 213.80 108.29 212.67 107.45 Q 211.54 106.62 210.42 105.40 Q 209.30 104.19 210.91 103.55 Q 212.52 102.90 213.68 102.85 Q 214.85 102.79 216.21 103.46 Q 217.56 104.14 216.65 105.25 Q 215.73 106.36 214.77 107.33 Z" fill="#dcdcdc" stroke="#8e8e8e" stroke-width="0.5" />
<path d="M 230.42 91.95 Q 232.74 91.04 234.72 92.16 Q 236.70 93.28 237.21 95.00 Q 237.73 96.72 236.47 98.32 Q 235.22 99.91 232.71 100.00 Q 230.20 100.08 228.77 98.44 Q 227.33 96.81 227.72 94.83 Q 228.10 92.85 230.42 91.95 Z" fill="#fafafa" stroke="#8e8e8e" stroke-width="0.5" />
<path d="M 236.12 89.73 Q 234.10 90.54 233.23 88.84 Q 232.36 87.15 231.58 85.54 Q 230.80 83.93 232.81 83.54 Q 234.82 83.16 236.66 83.05 Q 238.51 82.94 239.05 84.49 Q 239.60 86.05 238.87 87.49 Q 238.15 88.93 236.12 89.73 Z" fill="#e4e4e4" stroke="#8e8e8e" stroke-width="0.5" />
<path d="M 234.01 111.01 Q 234.10 111.97 233.02 112.52 Q 231.94 113.07 231.01 112.43 Q 230.08 111.79 229.46 110.89 Q 228.84 109.98 229.89 109.48 Q 230.94 108.97 231.91 108.78 Q 232.87 108.59 233.39 109.32 Q 233.92 110.06 234.01 111.01 Z" fill="#dcdcdc" stroke="#8e8e8e" stroke-width="0.5" />
<path d="M 239.10 89.15 Q 238.11 88.01 238.92 87.00 Q 239.72 85.99 240.82 85.08 Q 241.93 84.16 243.45 84.82 Q 244.97 85.47 245.15 86.70 Q 245.33 87.92 244.53 89.05 Q 243.73 90.17 241.91 90.23 Q 240.08 90.29 239.10 89.15 Z" fill="#a8a8a8" stroke="#8e8e8e" stroke-width="0.5" />
<path d="M 186.79 114.68 Q 188.62 114.34 189.95 115.26 Q 191.28 116.19 191.82 117.83 Q 192.37 119.46 191.00 120.61 Q 189.64 121.76 187.97 121.58 Q 186.29 121.39 184.95 120.08 Q 183.60 118.76 184.28 116.89 Q 184.95 115.01 186.79 114.68 Z" fill="#dcdcdc" stroke="#8e8e8e" stroke-width="0.5" />
<path d="M 213.09 107.67 Q 213.57 108.59 212.84 109.25 Q 212.10 109.91 210.95 110.38 Q 209.81 110.86 208.38 110.37 Q 206.96 109.88 206.94 108.80 Q 206.92 107.73 208.19 107.12 Q 209.47 106.51 211.04 106.63 Q 212.60 106.75 213.09 107.67 Z" fill="#fafafa" stroke="#8e8e8e" stroke-width="0.5" />
<path d="M 203.42 108.74 Q 202.13 109.39 200.54 109.73 Q 198.94 110.08 198.37 109.11 Q 197.80 108.14 198.18 107.45 Q 198.56 106.76 199.47 106.14 Q 200.38 105.53 201.88 105.81 Q 203.38 106.09 204.05 107.09 Q 204.71 108.08 203.42 108.74 Z" fill="#e4e4e4" stroke="#8e8e8e" stroke-width="0.5" />
<path d="M 188.21 74.86 Q 189.45 75.82 188.05 76.65 Q 186.65 77.49 185.18 77.92 Q 183.72 78.35 182.85 77.38 Q 181.99 76.41 181.43 75.14 Q 180.88 73.88 182.58 73.29 Q 184.28 72.71 185.62 73.31 Q 186.96 73.90 188.21 74.86 Z" fill="#f4f4f4" stroke="#8e8e8e" stroke-width="0.5" />
<path d="M 225.40 74.94 Q 226.51 75.74 227.73 76.88 Q 228.95 78.03 227.71 79.39 Q 226.47 80.76 224.47 80.62 Q 222.47 80.48 221.35 79.25 Q 220.24 78.02 220.85 76.70 Q 221.46 75.37 222.87 74.76 Q 224.28 74.14 225.40 74.94 Z" fill="#b4b4b4" stroke="#8e8e8e" stroke-width="0.5" />
<path d="M 188.22 99.27 Q 186.92 100.14 185.23 99.73 Q 183.54 99.32 182.33 98.51 Q 181.13 97.70 181.19 96.20 Q 181.26 94.69 183.63 94.99 Q 186.01 95.29 187.64 95.69 Q 189.27 96.09 189.39 97.24 Q 189.51 98.39 188.22 99.27 Z" fill="#f4f4f4" stroke="#8e8e8e" stroke-width="0.5" />
<path d="M 191.06 119.74 Q 189.47 119.78 188.78 118.50 Q 188.08 117.22 189.06 116.06 Q 190.04 114.91 191.83 114.55 Q 193.61 114.20 194.48 115.39 Q 195.35 116.58 195.28 117.72 Q 195.21 118.85 193.93 119.28 Q 192.65 119.70 191.06 119.74 Z" fill="#ececec" stroke="#8e8e8e" stroke-width="0.5" />
<path d="M 214.98 106.95 Q 215.25 108.03 215.20 109.35 Q 215.14 110.66 213.51 110.48 Q 211.88 110.30 210.99 109.63 Q 210.10 108.95 209.55 107.79 Q 208.99 106.63 210.45 106.19 Q 211.92 105.75 213.32 105.81 Q 214.71 105.87 214.98 106.95 Z" fill="#e4e4e4" stroke="#8e8e8e" stroke-width="0.5" />
<path d="M 220.46 94.11 Q 221.90 94.32 222.06 95.31 Q 222.22 96.29 221.99 97.22 Q 221.76 98.16 220.36 98.43 Q 218.97 98.71 218.38 97.83 Q 217.79 96.96 217.71 96.24 Q 217.63 95.53 218.33 94.71 Q 219.02 93.90 220.46 94.11 Z" fill="#e4e4e4" stroke="#8e8e8e" stroke-width="0.5" />
<path d="M 247.38 84.17 Q 246.31 84.66 245.09 84.68 Q 243.87 84.69 242.98 84.06 Q 242.08 83.42 242.71 82.70 Q 243.34 81.98 244.40 81.66 Q 245.45 81.35 247.14 81.43 Q 248.82 81.51 248.63 82.59 Q 248.45 83.67 247.38 84.17 Z" fill="#a8a8a8" stroke="#8e8e8e" stroke-width="0.5" />
<path d="M 212.20 90.55 Q 210.00 88.98 209.36 87.15 Q 208.71 85.32 211.11 84.36 Q 213.51 83.39 215.71 83.82 Q 217.90 84.25 219.83 85.32 Q 221.77 86.38 220.48 87.85 Q 219.20 89.32 216.80 90.72 Q 214.40 92.11 212.20 90.55 Z" fill="#dcdcdc" stroke="#8e8e8e" stroke-width="0.5" />
<path d="M 207.76 101.12 Q 205.69 101.77 203.58 102.20 Q 201.48 102.64 200.24 101.38 Q 198.99 100.12 199.33 98.62 Q 199.67 97.12 201.96 97.15 Q 204.26 97.19 206.58 97.25 Q 208.90 97.31 209.36 98.89 Q 209.83 100.47 207.76 101.12 Z" fill="#f4f4f4" stroke="#8e8e8e" stroke-width="0.5" />
<path d="M 240.63 88.10 Q 241.84 89.12 241.41 90.33 Q 240.98 91.53 239.39 92.47 Q 237.80 93.40 235.87 92.69 Q 233.93 91.98 232.65 90.56 Q 231.37 89.13 233.28 88.04 Q 235.20 86.95 237.31 87.01 Q 239.41 87.08 240.63 88.10 Z" fill="#a8a8a8" stroke="#8e8e8e" stroke-width="0.5" />
<path d="M 205.65 82.58 Q 207.36 81.22 209.92 80.97 Q 212.49 80.73 214.10 82.51 Q 215.70 84.29 214.80 86.29 Q 213.90 88.28 211.55 88.81 Q 209.20 89.35 206.68 88.78 Q 204.16 88.21 204.05 86.07 Q 203.94 83.94 205.65 82.58 Z" fill="#dcdcdc" stroke="#8e8e8e" stroke-width="0.5" />
<path d="M 209.40 109.57 Q 210.29 107.88 211.79 106.25 Q 213.29 104.61 215.27 105.87 Q 217.24 107.14 218.24 109.10 Q 219.24 111.05 217.22 112.03 Q 215.20 113.00 213.27 113.75 Q 211.35 114.50 209.93 112.87 Q 208.51 111.25 209.40 109.57 Z" fill="#e4e4e4" stroke="#8e8e8e" stroke-width="0.5" />
<path d="M 239.26 111.36 Q 237.31 109.40 237.52 106.85 Q 237.73 104.30 240.03 102.95 Q 242.33 101.60 245.30 101.92 Q 248.28 102.24 247.95 104.90 Q 247.62 107.55 246.81 109.26 Q 245.99 110.97 243.61 112.14 Q 241.22 113.31 239.26 111.36 Z" fill="#dcdcdc" stroke="#8e8e8e" stroke-width="0.5" />
<path d="M 214.97 88.10 Q 213.14 85.92 214.58 83.84 Q 216.01 81.75 218.09 81.22 Q 220.18 80.68 222.92 80.84 Q 225.67 80.99 225.08 83.32 Q 224.49 85.65 223.18 86.87 Q 221.87 88.10 219.33 89.18 Q 216.80 90.27 214.97 88.10 Z" fill="#dcdcdc" stroke="#8e8e8e" stroke-width="0.5" />
<path d="M 216.69 72.76 Q 217.65 71.51 219.15 72.14 Q 220.65 72.78 222.21 73.74 Q 223.76 74.69 222.78 76.22 Q 221.80 77.75 220.09 78.46 Q 218.37 79.17 216.69 78.21 Q 215.00 77.25 215.36 75.63 Q 215.72 74.02 216.69 72.76 Z" fill="#a8a8a8" stroke="#8e8e8e" stroke-width="0.5" />
<path d="M 216.17 109.69 Q 214.46 108.19 214.31 106.29 Q 214.16 104.39 215.21 102.68 Q 216.26 100.98 218.67 100.60 Q 221.07 100.23 222.97 102.29 Q 224.87 104.35 223.61 106.79 Q 222.35 109.22 220.12 110.21 Q 217.88 111.19 216.17 109.69 Z" fill="#fafafa" stroke="#8e8e8e" stroke-width="0.5" />
<path d="M 232.11 73.59 Q 233.21 74.34 232.61 75.49 Q 232.01 76.63 230.93 76.80 Q 229.86 76.97 228.93 76.70 Q 228.00 76.42 227.61 75.47 Q 227.21 74.52 227.91 73.63 Q 228.62 72.75 229.81 72.79 Q 231.00 72.84 232.11 73.59 Z" fill="#a8a8a8" stroke="#8e8e8e" stroke-width="0.5" />
<path d="M 203.90 104.30 Q 202.93 105.42 201.13 106.14 Q 199.33 106.85 197.74 105.95 Q 196.16 105.05 196.07 103.91 Q 195.98 102.77 196.95 101.53 Q 197.91 100.30 200.61 100.18 Q 203.30 100.05 204.08 101.61 Q 204.86 103.17 203.90 104.30 Z" fill="#ececec" stroke="#8e8e8e" stroke-width="0.5" />
<path d="M 196.45 108.90 Q 198.73 107.24 200.73 108.89 Q 202.72 110.54 203.19 112.12 Q 203.67 113.71 203.10 115.35 Q 202.54 117.00 200.49 117.59 Q 198.45 118.18 196.96 116.70 Q 195.47 115.23 194.82 112.90 Q 194.16 110.57 196.45 108.90 Z" fill="#dcdcdc" stroke="#8e8e8e" stroke-width="0.5" />
<path d="M 227.64 81.83 Q 229.04 80.89 230.05 82.10 Q 231.06 83.30 231.90 84.44 Q 232.73 85.59 231.35 86.32 Q 229.97 87.05 228.48 87.15 Q 226.98 87.25 226.42 86.14 Q 225.85 85.03 226.05 83.90 Q 226.24 82.76 227.64 81.83 Z" fill="#f4f4f4" stroke="#8e8e8e" stroke-width="0.5" />
<path d="M 216.58 93.57 Q 218.32 95.89 219.19 98.05 Q 220.06 100.22 218.16 101.65 Q 216.26 103.07 213.69 103.71 Q 211.11 104.35 209.44 102.01 Q 207.76 99.67 207.98 96.41 Q 208.20 93.14 211.52 92.20 Q 214.84 91.26 216.58 93.57 Z" fill="#ececec" stroke="#8e8e8e" stroke-width="0.5" />
<path d="M 195.81 92.17 Q 193.40 93.39 191.20 92.97 Q 189.00 92.56 187.48 91.31 Q 185.95 90.05 186.15 87.98 Q 186.35 85.90 188.95 85.91 Q 191.55 85.92 193.72 86.38 Q 195.88 86.84 197.05 88.90 Q 198.21 90.95 195.81 92.17 Z" fill="#e4e4e4" stroke="#8e8e8e" stroke-width="0.5" />
<path d="M 186.10 109.25 Q 185.36 111.02 182.94 110.20 Q 180.52 109.37 179.22 108.43 Q 177.92 107.49 178.57 106.32 Q 179.23 105.14 180.76 104.65 Q 182.29 104.15 184.53 104.25 Q 186.76 104.36 186.80 105.92 Q 186.84 107.48 186.10 109.25 Z" fill="#f4f4f4" stroke="#8e8e8e" stroke-width="0.5" />
<path d="M 205.10 96.04 Q 206.99 96.35 206.91 97.54 Q 206.83 98.74 206.38 100.20 Q 205.93 101.66 203.52 101.37 Q 201.10 101.07 199.55 100.05 Q 198.00 99.02 198.59 97.64 Q 199.17 96.25 201.19 95.99 Q 203.21 95.73 205.10 96.04 Z" fill="#f4f4f4" stroke="#8e8e8e" stroke-width="0.5" />
<path d="M 252.94 95.78 Q 255.45 96.24 256.92 98.21 Q 258.39 100.18 256.91 102.26 Q 255.43 104.34 252.66 104.47 Q 249.88 104.59 248.09 103.16 Q 246.29 101.73 245.70 99.45 Q 245.11 97.17 247.77 96.24 Q 250.43 95.31 252.94 95.78 Z" fill="#a8a8a8" stroke="#8e8e8e" stroke-width="0.5" />
<path d="M 196.10 110.06 Q 194.98 110.62 194.20 109.81 Q 193.42 108.99 193.01 108.03 Q 192.60 107.06 193.94 106.78 Q 195.29 106.50 196.41 106.60 Q 197.53 106.70 198.13 107.46 Q 198.72 108.23 197.97 108.87 Q 197.22 109.50 196.10 110.06 Z" fill="#ececec" stroke="#8e8e8e" stroke-width="0.5" />
<path d="M 203.64 94.35 Q 205.54 94.48 206.06 96.26 Q 206.59 98.03 205.47 99.77 Q 204.35 101.50 202.47 100.54 Q 200.58 99.58 199.29 98.80 Q 198.00 98.02 198.21 96.47 Q 198.41 94.92 200.08 94.57 Q 201.75 94.22 203.64 94.35 Z" fill="#e4e4e4" stroke="#8e8e8e" stroke-width="0.5" />
<path d="M 231.77 112.04 Q 231.50 113.42 230.06 113.61 Q 228.62 113.79 227.26 113.22 Q 225.90 112.64 226.10 111.22 Q 226.29 109.79 227.19 108.76 Q 228.09 107.73 229.36 108.19 Q 230.63 108.66 231.34 109.66 Q 232.04 110.65 231.77 112.04 Z" fill="#f4f4f4" stroke="#8e8e8e" stroke-width="0.5" />
<path d="M 209.75 110.19 Q 210.70 111.26 210.17 112.29 Q 209.64 113.32 208.76 114.33 Q 207.89 115.34 206.30 114.90 Q 204.71 114.46 204.95 113.21 Q 205.19 111.97 205.65 111.17 Q 206.10 110.37 207.45 109.74 Q 208.79 109.11 209.75 110.19 Z" fill="#fafafa" stroke="#8e8e8e" stroke-width="0.5" />
<path d="M 209.84 99.42 Q 209.53 100.23 208.79 100.57 Q 208.05 100.91 206.90 101.16 Q 205.75 101.41 205.30 100.55 Q 204.85 99.69 205.48 99.05 Q 206.11 98.40 207.09 97.99 Q 208.08 97.57 209.11 98.09 Q 210.14 98.61 209.84 99.42 Z" fill="#dcdcdc" stroke="#8e8e8e" stroke-width="0.5" />
<path d="M 183.90 114.14 Q 186.59 114.50 188.85 115.86 Q 191.11 117.21 189.40 118.96 Q 187.68 120.72 186.17 122.03 Q 184.66 123.34 182.69 122.38 Q 180.72 121.43 179.95 119.69 Q 179.19 117.96 180.19 115.87 Q 181.20 113.78 183.90 114.14 Z" fill="#dcdcdc" stroke="#8e8e8e" stroke-width="0.5" />
<path d="M 217.72 90.33 Q 215.31 89.37 215.48 87.92 Q 215.65 86.46 216.21 85.14 Q 216.76 83.82 219.20 83.52 Q 221.65 83.21 223.20 84.47 Q 224.74 85.73 223.95 87.05 Q 223.16 88.36 221.64 89.83 Q 220.12 91.30 217.72 90.33 Z" fill="#e4e4e4" stroke="#8e8e8e" stroke-width="0.5" />
<path d="M 195.84 95.61 Q 194.70 95.99 194.08 95.07 Q 193.47 94.16 193.44 93.23 Q 193.41 92.29 194.31 91.69 Q 195.21 91.09 196.48 91.23 Q 197.75 91.38 198.26 92.51 Q 198.76 93.64 197.88 94.43 Q 196.99 95.23 195.84 95.61 Z" fill="#dcdcdc" stroke="#8e8e8e" stroke-width="0.5" />
<path d="M 229.16 104.35 Q 227.70 105.03 226.13 105.18 Q 224.57 105.34 223.23 104.53 Q 221.88 103.72 222.71 102.69 Q 223.53 101.66 224.83 100.48 Q 226.13 99.29 227.48 100.45 Q 228.83 101.61 229.73 102.64 Q 230.62 103.66 229.16 104.35 Z" fill="#dcdcdc" stroke="#8e8e8e" stroke-width="0.5" />
<path d="M 204.42 78.89 Q 205.47 77.67 206.95 76.49 Q 208.44 75.31 211.15 75.81 Q 213.86 76.31 213.45 77.98 Q 213.04 79.65 211.87 80.56 Q 210.69 81.46 208.43 82.22 Q 206.16 82.98 204.77 81.54 Q 203.37 80.10 204.42 78.89 Z" fill="#a8a8a8" stroke="#8e8e8e" stroke-width="0.5" />
<path d="M 194.62 84.42 Q 193.81 86.41 191.29 87.40 Q 188.77 88.40 186.83 87.01 Q 184.89 85.62 184.83 84.07 Q 184.78 82.53 185.54 80.68 Q 186.31 78.83 188.69 79.61 Q 191.08 80.39 193.25 81.41 Q 195.42 82.43 194.62 84.42 Z" fill="#fafafa" stroke="#8e8e8e" stroke-width="0.5" />
<path d="M 210.42 85.90 Q 209.35 86.32 208.05 86.40 Q 206.74 86.49 206.04 85.64 Q 205.33 84.79 205.99 83.96 Q 206.64 83.12 207.86 83.09 Q 209.08 83.06 210.58 83.23 Q 212.08 83.41 211.79 84.44 Q 211.49 85.48 210.42 85.90 Z" fill="#dcdcdc" stroke="#8e8e8e" stroke-width="0.5" />
<path d="M 198.93 79.60 Q 197.56 80.39 196.21 80.46 Q 194.86 80.53 193.90 80.07 Q 192.94 79.60 192.92 78.87 Q 192.89 78.13 193.74 77.42 Q 194.60 76.71 196.51 76.63 Q 198.43 76.54 199.37 77.68 Q 200.31 78.81 198.93 79.60 Z" fill="#f4f4f4" stroke="#8e8e8e" stroke-width="0.5" />
<path d="M 234.51 86.12 Q 237.37 86.68 236.22 88.53 Q 235.07 90.38 233.70 91.65 Q 232.32 92.92 230.19 92.31 Q 228.05 91.71 227.08 90.51 Q 226.12 89.31 227.04 88.16 Q 227.95 87.01 229.81 86.28 Q 231.66 85.55 234.51 86.12 Z" fill="#fafafa" stroke="#8e8e8e" stroke-width="0.5" />
<path d="M 236.34 84.34 Q 234.25 82.87 233.00 80.79 Q 231.74 78.71 233.33 76.60 Q 234.92 74.48 237.21 75.38 Q 239.51 76.28 241.98 77.10 Q 244.46 77.91 244.07 80.64 Q 243.69 83.38 241.06 84.60 Q 238.44 85.81 236.34 84.34 Z" fill="#9c9c9c" stroke="#8e8e8e" stroke-width="0.5" />
<path d="M 243.00 86.60 Q 241.63 87.76 240.04 87.45 Q 238.45 87.15 237.44 86.41 Q 236.44 85.67 236.58 84.51 Q 236.73 83.36 238.00 82.81 Q 239.28 82.25 240.86 82.47 Q 242.44 82.69 243.40 84.07 Q 244.37 85.45 243.00 86.60 Z" fill="#b4b4b4" stroke="#8e8e8e" stroke-width="0.5" />
<path d="M 190.01 74.37 Q 192.15 75.33 192.59 77.19 Q 193.02 79.05 191.35 80.28 Q 189.69 81.51 187.80 81.06 Q 185.92 80.61 185.02 79.55 Q 184.13 78.50 183.60 76.69 Q 183.08 74.88 185.47 74.14 Q 187.87 73.40 190.01 74.37 Z" fill="#ececec" stroke="#8e8e8e" stroke-width="0.5" />
<path d="M 243.26 93.31 Q 241.56 92.06 241.93 89.89 Q 242.30 87.73 244.44 86.68 Q 246.58 85.63 248.91 86.45 Q 251.24 87.27 251.23 89.44 Q 251.22 91.60 250.36 93.63 Q 249.51 95.66 247.23 95.11 Q 244.95 94.56 243.26 93.31 Z" fill="#9c9c9c" stroke="#8e8e8e" stroke-width="0.5" />
<path d="M 206.59 105.88 Q 208.22 105.74 209.59 106.61 Q 210.95 107.49 209.96 108.50 Q 208.96 109.52 207.64 110.58 Q 206.32 111.64 204.38 110.90 Q 202.43 110.15 201.79 108.71 Q 201.15 107.26 203.05 106.64 Q 204.96 106.02 206.59 105.88 Z" fill="#e4e4e4" stroke="#8e8e8e" stroke-width="0.5" />
<path d="M 232.50 82.70 Q 232.19 83.88 231.47 85.26 Q 230.75 86.63 228.54 86.13 Q 226.33 85.62 225.01 84.58 Q 223.68 83.54 224.95 82.57 Q 226.22 81.60 227.75 80.77 Q 229.27 79.94 231.04 80.72 Q 232.81 81.51 232.50 82.70 Z" fill="#ececec" stroke="#8e8e8e" stroke-width="0.5" />
<path d="M 253.97 106.35 Q 255.02 107.44 253.62 108.26 Q 252.23 109.07 250.62 109.62 Q 249.00 110.17 248.36 108.86 Q 247.72 107.56 247.24 106.10 Q 246.77 104.65 248.65 104.61 Q 250.53 104.57 251.73 104.92 Q 252.93 105.26 253.97 106.35 Z" fill="#ececec" stroke="#8e8e8e" stroke-width="0.5" />
<path d="M 225.72 112.07 Q 226.59 110.19 229.95 110.02 Q 233.32 109.85 234.19 111.99 Q 235.06 114.14 235.09 116.24 Q 235.12 118.34 232.14 118.18 Q 229.16 118.02 226.16 117.97 Q 223.16 117.93 224.01 115.93 Q 224.85 113.94 225.72 112.07 Z" fill="#f4f4f4" stroke="#8e8e8e" stroke-width="0.5" />
<path d="M 239.48 107.84 Q 237.49 107.30 235.84 105.95 Q 234.19 104.61 234.62 102.22 Q 235.06 99.84 237.64 100.11 Q 240.23 100.37 242.20 100.97 Q 244.17 101.56 244.09 103.46 Q 244.00 105.36 242.74 106.87 Q 241.47 108.37 239.48 107.84 Z" fill="#e4e4e4" stroke="#8e8e8e" stroke-width="0.5" />
<path d="M 191.83 93.78 Q 189.77 94.86 187.15 95.54 Q 184.54 96.22 183.49 94.30 Q 182.44 92.37 182.05 90.11 Q 181.66 87.85 184.77 87.01 Q 187.87 86.18 190.56 87.31 Q 193.25 88.45 193.58 90.57 Q 193.90 92.70 191.83 93.78 Z" fill="#fafafa" stroke="#8e8e8e" stroke-width="0.5" />
<path d="M 211.58 74.84 Q 210.53 74.54 209.87 73.92 Q 209.21 73.29 209.65 72.44 Q 210.09 71.60 211.44 71.70 Q 212.79 71.80 213.87 72.20 Q 214.95 72.59 214.66 73.36 Q 214.37 74.13 213.50 74.63 Q 212.64 75.14 211.58 74.84 Z" fill="#b4b4b4" stroke="#8e8e8e" stroke-width="0.5" />
<path d="M 220.95 111.32 Q 222.31 113.19 219.48 113.53 Q 216.64 113.87 214.20 113.94 Q 211.76 114.02 211.12 112.21 Q 210.47 110.39 211.22 108.49 Q 211.96 106.59 214.80 106.28 Q 217.64 105.98 218.61 107.71 Q 219.58 109.45 220.95 111.32 Z" fill="#fafafa" stroke="#8e8e8e" stroke-width="0.5" />
<path d="M 224.68 103.97 Q 222.83 104.24 221.94 102.52 Q 221.04 100.80 221.71 99.03 Q 222.39 97.26 224.35 96.23 Q 226.32 95.20 227.39 97.01 Q 228.47 98.82 229.07 100.44 Q 229.67 102.06 228.10 102.88 Q 226.52 103.70 224.68 103.97 Z" fill="#ececec" stroke="#8e8e8e" stroke-width="0.5" />
<path d="M 218.44 88.70 Q 218.09 90.13 216.35 90.22 Q 214.61 90.32 213.51 89.48 Q 212.40 88.64 211.86 87.25 Q 211.31 85.87 212.81 85.02 Q 214.30 84.17 216.25 84.11 Q 218.20 84.06 218.50 85.66 Q 218.80 87.26 218.44 88.70 Z" fill="#f4f4f4" stroke="#8e8e8e" stroke-width="0.5" />
<path d="M 213.02 114.46 Q 215.89 114.99 217.36 116.79 Q 218.84 118.58 216.90 119.87 Q 214.97 121.15 213.17 121.75 Q 211.38 122.34 208.62 121.89 Q 205.86 121.45 206.33 119.37 Q 206.81 117.29 208.48 115.60 Q 210.16 113.92 213.02 114.46 Z" fill="#f4f4f4" stroke="#8e8e8e" stroke-width="0.5" />
<path d="M 204.23 112.11 Q 203.36 113.64 201.04 115.45 Q 198.71 117.26 197.23 114.92 Q 195.76 112.58 195.94 110.80 Q 196.12 109.02 197.51 107.36 Q 198.91 105.70 201.56 106.10 Q 204.21 106.50 204.66 108.53 Q 205.11 110.57 204.23 112.11 Z" fill="#dcdcdc" stroke="#8e8e8e" stroke-width="0.5" />
<path d="M 213.84 115.89 Q 212.45 117.09 210.20 116.93 Q 207.95 116.77 208.20 114.78 Q 208.45 112.79 208.47 110.91 Q 208.49 109.02 210.47 109.53 Q 212.46 110.03 213.43 110.92 Q 214.40 111.81 214.82 113.24 Q 215.24 114.68 213.84 115.89 Z" fill="#fafafa" stroke="#8e8e8e" stroke-width="0.5" />
<path d="M 197.97 99.08 Q 196.90 99.42 195.92 98.86 Q 194.94 98.29 194.67 97.23 Q 194.40 96.17 195.33 95.13 Q 196.27 94.08 197.80 94.47 Q 199.34 94.86 200.14 95.94 Q 200.94 97.01 199.98 97.87 Q 199.03 98.73 197.97 99.08 Z" fill="#e4e4e4" stroke="#8e8e8e" stroke-width="0.5" />
<path d="M 238.54 73.56 Q 238.73 74.62 237.12 74.78 Q 235.51 74.94 234.32 74.62 Q 233.13 74.30 232.59 73.46 Q 232.05 72.62 232.95 71.88 Q 233.85 71.14 235.34 71.00 Q 236.83 70.86 237.59 71.68 Q 238.34 72.50 238.54 73.56 Z" fill="#a8a8a8" stroke="#8e8e8e" stroke-width="0.5" />
<path d="M 222.47 104.24 Q 220.10 105.94 217.64 105.48 Q 215.17 105.03 213.46 103.66 Q 211.75 102.29 212.08 100.12 Q 212.41 97.94 214.83 97.49 Q 217.24 97.03 219.25 97.73 Q 221.26 98.42 223.05 100.48 Q 224.83 102.54 222.47 104.24 Z" fill="#e4e4e4" stroke="#8e8e8e" stroke-width="0.5" />
<path d="M 208.76 110.98 Q 209.32 109.93 210.66 109.06 Q 212.00 108.18 213.57 109.24 Q 215.15 110.29 214.22 111.83 Q 213.28 113.36 212.53 114.91 Q 211.77 116.45 210.42 115.38 Q 209.08 114.31 208.64 113.17 Q 208.20 112.03 208.76 110.98 Z" fill="#dcdcdc" stroke="#8e8e8e" stroke-width="0.5" />
<path d="M 234.17 122.29 Q 232.21 122.04 232.13 120.50 Q 232.04 118.96 232.69 118.01 Q 233.33 117.05 234.77 116.07 Q 236.21 115.09 237.11 116.45 Q 238.01 117.82 238.43 119.14 Q 238.85 120.46 237.49 121.50 Q 236.13 122.54 234.17 122.29 Z" fill="#e4e4e4" stroke="#8e8e8e" stroke-width="0.5" />
<path d="M 249.83 82.57 Q 249.48 84.18 247.46 85.24 Q 245.45 86.29 243.79 85.05 Q 242.14 83.81 240.61 82.40 Q 239.08 80.99 240.99 79.78 Q 242.91 78.56 244.86 78.97 Q 246.81 79.38 248.49 80.17 Q 250.17 80.96 249.83 82.57 Z" fill="#9c9c9c" stroke="#8e8e8e" stroke-width="0.5" />
<path d="M 214.62 103.61 Q 213.28 104.68 211.94 103.63 Q 210.60 102.57 209.12 101.66 Q 207.64 100.75 208.97 99.64 Q 210.29 98.52 212.07 98.69 Q 213.84 98.86 214.90 99.61 Q 215.96 100.35 215.96 101.44 Q 215.96 102.54 214.62 103.61 Z" fill="#ececec" stroke="#8e8e8e" stroke-width="0.5" />
</g>
<g filter="url(#bl3)">
<ellipse cx="247.00" cy="86.00" rx="9.00" ry="12.00" fill="#7a7a7a" opacity="0.55"/>
<ellipse cx="218.00" cy="77.00" rx="12.00" ry="3.50" fill="#8a8a8a" opacity="0.45"/>
</g>
<ellipse cx="200.00" cy="98.50" rx="6.00" ry="1.50" fill="#bfe0e0" opacity="0.8"/>
<ellipse cx="224.00" cy="99.00" rx="4.50" ry="5.00" fill="#a9a9e6" opacity="0.8"/>
<ellipse cx="225.00" cy="100.00" rx="2.50" ry="3.00" fill="#4cc0c8" opacity="0.8"/>
<ellipse cx="218.20" cy="104.70" rx="3.50" ry="2.10" fill="#e8962a" />
</g>
<circle cx="220.40" cy="100.00" r="16.00" fill="none" stroke="#e8389a" stroke-width="1.0" stroke-dasharray="1.2 1.3"/>
<line x1="223.30" y1="84.20" x2="262.00" y2="64.50" stroke="#e8389a" stroke-width="1.0" stroke-dasharray="1.2 1.3"/>
<line x1="225.60" y1="115.80" x2="288.00" y2="121.00" stroke="#e8389a" stroke-width="1.0" stroke-dasharray="1.2 1.3"/>
<text font-size="5.8" transform="translate(205.40 92.20) translate(0 0.3) scale(1 1.15)" >FAD</text>
<line x1="213.50" y1="93.50" x2="217.00" y2="98.50" stroke="#111" stroke-width="0.6" />
<text font-size="5.8" transform="translate(230.70 108.20) translate(0 0.3) scale(1 1.15)" >Devimistat</text>
<line x1="230.00" y1="104.00" x2="226.50" y2="99.50" stroke="#111" stroke-width="0.6" />
<g clip-path="url(#cpB2)">
<rect x="255.00" y="54.00" width="68.00" height="68.00" fill="#e8eaea" />
<g filter="url(#bl3)">
<ellipse cx="270.00" cy="100.00" rx="10.00" ry="12.00" fill="#d0d0d0" />
<ellipse cx="314.00" cy="102.00" rx="7.00" ry="12.00" fill="#d8d8d8" />
<ellipse cx="268.00" cy="66.00" rx="8.00" ry="8.00" fill="#f4f4f4" />
<ellipse cx="310.00" cy="64.00" rx="8.00" ry="6.00" fill="#f2f2f2" />
</g>
<path d="M 282.6 90.8 a 5.5 3.9 20 0 1 2.5 4.9" fill="none" stroke="#a8a8a8" stroke-width="0.45" />
<path d="M 257.9 62.7 a 2.5 1.8 46 0 1 1.4 2.1" fill="none" stroke="#a8a8a8" stroke-width="0.45" />
<path d="M 320.3 100.8 a 3.8 2.7 62 0 1 -3.2 2.2" fill="none" stroke="#a8a8a8" stroke-width="0.45" />
<path d="M 277.2 59.9 a 5.4 3.8 10 0 1 -4.0 -3.6" fill="none" stroke="#a8a8a8" stroke-width="0.45" />
<path d="M 260.6 61.2 a 5.9 4.1 56 0 1 4.6 3.7" fill="none" stroke="#a8a8a8" stroke-width="0.45" />
<path d="M 319.0 57.3 a 3.9 2.7 83 0 1 -3.8 0.6" fill="none" stroke="#a8a8a8" stroke-width="0.45" />
<path d="M 268.3 72.1 a 3.4 2.4 61 0 1 3.2 1.0" fill="none" stroke="#a8a8a8" stroke-width="0.45" />
<path d="M 309.1 83.8 a 2.6 1.8 66 0 1 -0.6 -2.6" fill="none" stroke="#a8a8a8" stroke-width="0.45" />
<path d="M 298.5 76.7 a 5.4 3.8 53 0 1 -3.7 -3.9" fill="none" stroke="#a8a8a8" stroke-width="0.45" />
<path d="M 291.1 70.4 a 4.1 2.9 62 0 1 1.1 -3.9" fill="none" stroke="#a8a8a8" stroke-width="0.45" />
<path d="M 278.5 109.1 a 5.4 3.8 14 0 1 5.2 1.5" fill="none" stroke="#a8a8a8" stroke-width="0.45" />
<path d="M 270.5 56.0 a 5.1 3.6 49 0 1 -3.1 -4.1" fill="none" stroke="#a8a8a8" stroke-width="0.45" />
<path d="M 320.7 78.5 a 3.2 2.2 31 0 1 2.4 2.1" fill="none" stroke="#a8a8a8" stroke-width="0.45" />
<path d="M 310.5 95.0 a 2.7 1.9 4 0 1 -2.5 1.1" fill="none" stroke="#a8a8a8" stroke-width="0.45" />
<path d="M 296.5 63.1 a 3.1 2.2 75 0 1 -2.0 -2.4" fill="none" stroke="#a8a8a8" stroke-width="0.45" />
<path d="M 296.3 74.4 a 4.8 3.3 1 0 1 -0.7 4.7" fill="none" stroke="#a8a8a8" stroke-width="0.45" />
<path d="M 273.8 100.4 a 4.7 3.3 76 0 1 1.7 4.4" fill="none" stroke="#a8a8a8" stroke-width="0.45" />
<path d="M 310.0 73.4 a 5.9 4.1 6 0 1 -0.5 5.8" fill="none" stroke="#a8a8a8" stroke-width="0.45" />
<path d="M 289.3 112.1 a 4.6 3.2 44 0 1 -4.4 -1.3" fill="none" stroke="#a8a8a8" stroke-width="0.45" />
<path d="M 274.5 74.8 a 3.9 2.7 85 0 1 -3.7 -1.1" fill="none" stroke="#a8a8a8" stroke-width="0.45" />
<path d="M 260.7 71.6 a 5.8 4.1 7 0 1 -3.2 -4.8" fill="none" stroke="#a8a8a8" stroke-width="0.45" />
<path d="M 284.7 98.0 a 5.7 4.0 81 0 1 4.9 2.9" fill="none" stroke="#a8a8a8" stroke-width="0.45" />
<path d="M 306.1 73.4 a 4.4 3.1 22 0 1 2.0 -3.9" fill="none" stroke="#a8a8a8" stroke-width="0.45" />
<path d="M 301.6 92.0 a 2.8 1.9 37 0 1 -0.4 2.7" fill="none" stroke="#a8a8a8" stroke-width="0.45" />
<path d="M 265.1 117.3 a 3.4 2.4 54 0 1 0.4 3.4" fill="none" stroke="#a8a8a8" stroke-width="0.45" />
<path d="M 290.3 76.1 a 3.6 2.5 82 0 1 -3.6 0.1" fill="none" stroke="#a8a8a8" stroke-width="0.45" />
<path d="M 261.1 115.2 a 5.8 4.0 72 0 1 -2.4 -5.3" fill="none" stroke="#a8a8a8" stroke-width="0.45" />
<path d="M 280.8 118.5 a 5.1 3.6 40 0 1 -2.0 -4.7" fill="none" stroke="#a8a8a8" stroke-width="0.45" />
<path d="M 270.3 100.6 a 5.1 3.6 28 0 1 5.1 0.2" fill="none" stroke="#a8a8a8" stroke-width="0.45" />
<path d="M 290.8 69.0 a 3.0 2.1 1 0 1 1.1 2.7" fill="none" stroke="#a8a8a8" stroke-width="0.45" />
<path d="M 263.8 80.8 a 4.3 3.0 28 0 1 -2.8 -3.2" fill="none" stroke="#a8a8a8" stroke-width="0.45" />
<path d="M 264.3 115.7 a 4.7 3.3 62 0 1 -2.0 -4.2" fill="none" stroke="#a8a8a8" stroke-width="0.45" />
<path d="M 276.9 94.2 a 3.6 2.5 74 0 1 -2.1 -3.0" fill="none" stroke="#a8a8a8" stroke-width="0.45" />
<path d="M 257.1 107.5 a 2.9 2.0 7 0 1 2.9 0.3" fill="none" stroke="#a8a8a8" stroke-width="0.45" />
<path d="M 292.6 111.6 a 5.7 4.0 39 0 1 3.1 4.8" fill="none" stroke="#a8a8a8" stroke-width="0.45" />
<path d="M 317.2 113.6 a 5.4 3.8 25 0 1 0.1 5.4" fill="none" stroke="#a8a8a8" stroke-width="0.45" />
<path d="M 265.7 72.4 a 3.9 2.7 59 0 1 1.1 -3.8" fill="none" stroke="#a8a8a8" stroke-width="0.45" />
<path d="M 267.2 66.8 a 4.1 2.9 43 0 1 3.1 -2.6" fill="none" stroke="#a8a8a8" stroke-width="0.45" />
<path d="M 307.3 100.5 a 5.6 3.9 34 0 1 -5.6 0.1" fill="none" stroke="#a8a8a8" stroke-width="0.45" />
<path d="M 285.7 107.9 a 3.5 2.4 75 0 1 1.2 3.3" fill="none" stroke="#a8a8a8" stroke-width="0.45" />
<path d="M 287.2 97.3 a 3.1 2.2 20 0 1 3.0 0.8" fill="none" stroke="#a8a8a8" stroke-width="0.45" />
<path d="M 283.9 57.2 a 3.5 2.4 39 0 1 3.2 -1.2" fill="none" stroke="#a8a8a8" stroke-width="0.45" />
<path d="M 256.3 108.0 a 3.6 2.5 57 0 1 1.7 3.1" fill="none" stroke="#a8a8a8" stroke-width="0.45" />
<path d="M 299.2 76.4 a 5.0 3.5 31 0 1 3.5 -3.5" fill="none" stroke="#a8a8a8" stroke-width="0.45" />
<path d="M 288.3 55.4 a 4.6 3.2 59 0 1 -1.2 4.4" fill="none" stroke="#a8a8a8" stroke-width="0.45" />
<g filter="url(#bl1)">
<rect x="285.00" y="54.00" width="15.00" height="68.00" fill="#a8d6d8" opacity="0.5"/>
<ellipse cx="292.00" cy="112.00" rx="9.00" ry="8.00" fill="#b4dada" opacity="0.7"/>
</g>
<polyline points="288.62,65.30 285.50,67.10 282.38,65.30 282.38,61.70 285.50,59.90 288.62,61.70 288.62,65.30" fill="none" stroke="#22c4cc" stroke-width="1.5" />
<polyline points="293.62,71.80 290.50,73.60 287.38,71.80 287.38,68.20 290.50,66.40 293.62,68.20 293.62,71.80" fill="none" stroke="#22c4cc" stroke-width="1.5" />
<polyline points="298.62,78.30 295.50,80.10 292.38,78.30 292.38,74.70 295.50,72.90 298.62,74.70 298.62,78.30" fill="none" stroke="#3050d0" stroke-width="1.4" />
<polyline points="285.50,59.90 286.50,56.50 289.00,55.20" fill="none" stroke="#22c4cc" stroke-width="1.3" />
<polyline points="282.40,61.70 279.50,60.50" fill="none" stroke="#22c4cc" stroke-width="1.3" />
<polyline points="293.00,80.00 289.00,84.00 283.00,84.00 278.00,88.00 271.00,86.00 264.00,88.00 256.00,87.00" fill="none" stroke="#22c4cc" stroke-width="1.4" />
<polyline points="264.00,88.00 267.00,84.00 268.00,92.00 270.00,95.00" fill="none" stroke="#d8781e" stroke-width="1.6" />
<line x1="263.00" y1="86.00" x2="266.00" y2="83.00" stroke="#b84a2a" stroke-width="1.3" />
<circle cx="293.60" cy="67.00" r="1.00" fill="#1a30c8" />
<circle cx="292.50" cy="73.50" r="1.00" fill="#1a30c8" />
<circle cx="298.60" cy="74.70" r="1.00" fill="#1a30c8" />
<circle cx="297.60" cy="80.10" r="1.00" fill="#1a30c8" />
<polyline points="306.90,76.50 305.20,79.44 301.80,79.44 300.10,76.50 301.80,73.56 305.20,73.56 306.90,76.50" fill="none" stroke="#5a5ac8" stroke-width="1.4" />
<polyline points="305.70,86.00 304.10,88.77 300.90,88.77 299.30,86.00 300.90,83.23 304.10,83.23 305.70,86.00" fill="none" stroke="#7070d0" stroke-width="1.3" />
<polyline points="298.00,80.00 300.00,83.00 299.50,86.00" fill="none" stroke="#5a5ac8" stroke-width="1.3" />
<polyline points="306.90,76.50 309.50,72.50 312.50,75.00 313.00,81.00 310.50,87.00 312.00,92.00 307.50,95.50 301.50,96.50 298.00,99.50" fill="none" stroke="#5a5ac8" stroke-width="1.4" />
<polyline points="300.00,72.00 303.00,70.00 306.00,71.00" fill="none" stroke="#5a5ac8" stroke-width="1.2" />
<circle cx="309.50" cy="72.50" r="1.00" fill="#d8c020" />
<circle cx="310.50" cy="87.00" r="1.00" fill="#d8c020" />
<polygon points="279.00,91.00 285.00,87.00 292.00,88.00 290.00,93.00 283.00,94.00" fill="#f0a030" />
<path d="M 292 104 Q 297 108 292 114" fill="none" stroke="#f0a030" stroke-width="1.6" />
<circle cx="298.00" cy="92.00" r="0.90" fill="#e03030" />
<circle cx="298.00" cy="98.00" r="0.90" fill="#e03030" />
<circle cx="281.00" cy="80.00" r="0.90" fill="#e03030" />
<circle cx="286.00" cy="66.00" r="0.90" fill="#e03030" />
<circle cx="278.00" cy="88.00" r="0.90" fill="#e03030" />
</g>
<circle cx="288.50" cy="87.70" r="33.20" fill="none" stroke="#e8389a" stroke-width="1.0" stroke-dasharray="1.2 1.3"/>
<text font-size="6.2" transform="translate(270.90 74.30) translate(0 0.3) scale(1 1.15)" >FAD</text>
<text font-size="5.7" transform="translate(268.60 99.80) translate(0 0.3) scale(1 1.15)" >Met326</text>
<text font-size="6.3" transform="translate(302.70 100.00) translate(0 0.3) scale(1 1.15)" >Devimistat</text>
<text font-size="5.7" transform="translate(272.80 111.30) translate(0 0.3) scale(1 1.15)" >Gly324</text>
<text font-size="2.6" fill="#444" transform="translate(291.50 92.50) translate(0 0.3) scale(1 1.15)" >3.6 Å</text>
<text font-size="2.6" fill="#444" transform="translate(289.00 99.50) translate(0 0.3) scale(1 1.15)" >2.7 Å</text>
<text font-size="2.6" fill="#444" transform="translate(294.00 104.50) translate(0 0.3) scale(1 1.15)" >3.4 Å</text>
<text font-size="7.0" transform="translate(230.80 29.00) translate(0 0.3) scale(1 1.15)" >Binding energy = -16.82 kJ/mol</text>
<text font-size="7.0" transform="translate(237.00 39.20) translate(0 0.3) scale(1 1.15)" >DLD dimer</text>
<text font-size="12.4" font-weight="bold" fill="#000" transform="translate(341.10 9.30)" >C</text>
<text font-size="8.3" text-anchor="middle" transform="translate(427.80 27.90) translate(0 0.3) scale(1 1.15)" >DLD−Devimistat</text>
<line x1="372.50" y1="31.00" x2="372.50" y2="113.40" stroke="#1a1a1a" stroke-width="0.9" />
<line x1="372.50" y1="113.40" x2="483.50" y2="113.40" stroke="#1a1a1a" stroke-width="0.9" />
<line x1="370.50" y1="41.50" x2="372.50" y2="41.50" stroke="#1a1a1a" stroke-width="0.8" />
<text font-size="7.9" text-anchor="end" transform="translate(370.60 44.30) translate(0 0.3) scale(1 1.15)" >0.20</text>
<line x1="370.50" y1="57.00" x2="372.50" y2="57.00" stroke="#1a1a1a" stroke-width="0.8" />
<text font-size="7.9" text-anchor="end" transform="translate(370.60 59.80) translate(0 0.3) scale(1 1.15)" >0.15</text>
<line x1="370.50" y1="72.50" x2="372.50" y2="72.50" stroke="#1a1a1a" stroke-width="0.8" />
<text font-size="7.9" text-anchor="end" transform="translate(370.60 75.30) translate(0 0.3) scale(1 1.15)" >0.10</text>
<line x1="370.50" y1="88.00" x2="372.50" y2="88.00" stroke="#1a1a1a" stroke-width="0.8" />
<text font-size="7.9" text-anchor="end" transform="translate(370.60 90.80) translate(0 0.3) scale(1 1.15)" >0.05</text>
<line x1="370.50" y1="103.50" x2="372.50" y2="103.50" stroke="#1a1a1a" stroke-width="0.8" />
<text font-size="7.9" text-anchor="end" transform="translate(370.60 106.30) translate(0 0.3) scale(1 1.15)" >0.00</text>
<line x1="377.20" y1="113.40" x2="377.20" y2="115.40" stroke="#1a1a1a" stroke-width="0.8" />
<text font-size="7.9" text-anchor="middle" transform="translate(377.20 121.80) translate(0 0.3) scale(1 1.15)" >0</text>
<line x1="410.20" y1="113.40" x2="410.20" y2="115.40" stroke="#1a1a1a" stroke-width="0.8" />
<text font-size="7.9" text-anchor="middle" transform="translate(410.20 121.80) translate(0 0.3) scale(1 1.15)" >50</text>
<line x1="443.20" y1="113.40" x2="443.20" y2="115.40" stroke="#1a1a1a" stroke-width="0.8" />
<text font-size="7.9" text-anchor="middle" transform="translate(443.20 121.80) translate(0 0.3) scale(1 1.15)" >100</text>
<line x1="476.20" y1="113.40" x2="476.20" y2="115.40" stroke="#1a1a1a" stroke-width="0.8" />
<text font-size="7.9" text-anchor="middle" transform="translate(476.20 121.80) translate(0 0.3) scale(1 1.15)" >150</text>
<text font-size="8.1" text-anchor="middle" transform="translate(428.00 130.20) translate(0 0.3) scale(1 1.15)" >Time (s)</text>
<text font-size="8.1" text-anchor="middle" transform="translate(352.30 72.00) rotate(-90) translate(0 0.3) scale(1 1.15)" >Wavelength (nm)</text>
<polyline points="377.20,105.08 377.66,104.22 378.12,103.88 378.59,104.67 379.05,105.09 379.51,104.41 379.97,104.11 380.43,103.78 380.90,104.98 381.36,105.01 381.82,103.95 382.28,104.06 382.74,103.49 383.21,103.77 383.67,104.33 384.13,104.41 384.59,102.90 385.05,104.40 385.52,104.65 385.98,104.82 386.44,104.16 386.90,104.13 387.36,104.37 387.83,104.21 388.29,104.03 388.75,103.79 389.21,103.57 389.67,104.03 390.14,105.07 390.60,103.75 391.06,104.85 391.52,104.18 391.98,104.86 392.45,104.07 392.91,104.47 393.37,103.94 393.83,102.30 394.29,104.05 394.76,103.57 395.22,104.70 395.68,104.15 396.14,103.64 396.60,104.02 397.07,103.77 397.53,103.90 397.99,104.47 398.45,103.63 398.91,104.35 399.38,102.92 399.84,104.16 400.30,103.53 400.76,103.88 401.22,103.36 401.69,104.17 402.15,103.32 402.61,103.90 403.07,103.16 403.53,103.48 404.00,103.73 404.46,104.20 404.92,103.37 405.38,103.52 405.84,102.89 406.31,103.95 406.77,103.44 407.23,103.46 407.69,103.56 408.15,103.59 408.62,103.60 409.08,104.00 409.54,104.21 410.00,103.87 410.46,103.19 410.93,102.70 411.39,102.99 411.85,102.94 412.31,103.09 412.77,103.13 413.24,103.40 413.70,103.09 414.16,102.57 414.62,103.67 415.08,103.87 415.55,102.47 416.01,103.37 416.47,102.99 416.93,103.04 417.39,104.10 417.86,102.22 418.32,102.56 418.78,103.41 419.24,103.10 419.70,103.43 420.17,103.97 420.63,103.56 421.09,103.30 421.55,102.91 422.01,103.13 422.48,103.47 422.94,102.79 423.40,103.90 423.86,103.08 424.32,102.91 424.79,103.65 425.25,104.44 425.71,103.98 426.17,103.38 426.63,103.22 427.10,102.68 427.56,104.03 428.02,103.50 428.48,103.16 428.94,103.58 429.41,104.75 429.87,103.07 430.33,102.28 430.79,102.97 431.25,103.98 431.72,103.72 432.18,103.38 432.64,102.19 433.10,103.17 433.56,103.44 434.03,102.68 434.49,103.54 434.95,102.52 435.41,103.86 435.87,103.75 436.34,103.12 436.80,102.75 437.26,103.16 437.72,103.34 438.18,104.46 438.65,103.88 439.11,103.82 439.57,103.78 440.03,103.19 440.49,103.68 440.96,103.08 441.42,103.46 441.88,103.68 442.34,103.44 442.80,103.27 443.27,103.05 443.73,103.75 444.19,103.62 444.65,104.22 445.11,102.65 445.58,102.73 446.04,103.59 446.50,103.75 446.96,104.15 447.42,103.41 447.89,103.39 448.35,102.35 448.81,103.37 449.27,103.91 449.73,104.79 450.20,102.76 450.66,103.40 451.12,104.35 451.58,103.40 452.04,104.35 452.51,101.67 452.97,102.91 453.43,103.20 453.89,103.59 454.35,104.63 454.82,103.57 455.28,104.32 455.74,103.19 456.20,104.63 456.66,103.98 457.13,102.86 457.59,102.63 458.05,104.12 458.51,104.31 458.97,103.04 459.44,103.05 459.90,104.02 460.36,103.87 460.82,103.87 461.28,104.13 461.75,103.86 462.21,102.84 462.67,103.14 463.13,102.42 463.59,103.55 464.06,103.57 464.52,104.02 464.98,103.57 465.44,104.19 465.90,104.44 466.37,103.13 466.83,102.74 467.29,103.06 467.75,102.80 468.21,103.37 468.68,103.88 469.14,103.45 469.60,103.70 470.06,104.09 470.52,104.39 470.99,104.28 471.45,103.50 471.91,103.42 472.37,103.75 472.83,102.75 473.30,103.41 473.76,103.19 474.22,102.86 474.68,103.93 475.14,104.54 475.61,103.10 476.07,103.86" fill="none" stroke="#a8a8a8" stroke-width="0.9" />
<polyline points="377.20,104.05 377.66,104.55 378.12,104.19 378.59,104.30 379.05,105.79 379.51,104.31 379.97,105.03 380.43,105.06 380.90,104.88 381.36,104.24 381.82,104.17 382.28,104.09 382.74,105.48 383.21,104.91 383.67,105.84 384.13,104.63 384.59,104.25 385.05,104.96 385.52,104.42 385.98,104.41 386.44,103.99 386.90,104.95 387.36,104.94 387.83,104.89 388.29,103.56 388.75,103.89 389.21,104.52 389.67,104.33 390.14,104.38 390.60,104.32 391.06,104.52 391.52,104.58 391.98,105.06 392.45,104.72 392.91,103.50 393.37,104.08 393.83,104.32 394.29,104.45 394.76,104.29 395.22,104.13 395.68,104.65 396.14,104.19 396.60,104.16 397.07,104.67 397.53,104.68 397.99,104.78 398.45,104.80 398.91,103.76 399.38,105.46 399.84,104.35 400.30,104.52 400.76,104.51 401.22,104.12 401.69,103.57 402.15,104.11 402.61,104.22 403.07,104.46 403.53,104.19 404.00,103.63 404.46,104.31 404.92,104.69 405.38,104.74 405.84,104.65 406.31,104.79 406.77,103.47 407.23,103.85 407.69,104.15 408.15,103.24 408.62,104.35 409.08,103.59 409.54,103.56 410.00,104.78 410.46,103.82 410.93,102.90 411.39,101.59 411.85,101.18 412.31,102.38 412.77,101.10 413.24,101.81 413.70,101.78 414.16,101.84 414.62,101.70 415.08,102.47 415.55,102.02 416.01,102.14 416.47,101.21 416.93,100.36 417.39,100.01 417.86,101.62 418.32,102.34 418.78,101.64 419.24,101.91 419.70,100.36 420.17,101.09 420.63,101.77 421.09,100.88 421.55,101.09 422.01,102.22 422.48,101.63 422.94,101.47 423.40,101.33 423.86,101.26 424.32,101.50 424.79,101.22 425.25,101.62 425.71,101.78 426.17,100.50 426.63,101.10 427.10,101.05 427.56,102.12 428.02,101.36 428.48,100.83 428.94,101.94 429.41,100.68 429.87,101.45 430.33,101.03 430.79,101.31 431.25,101.12 431.72,100.59 432.18,101.44 432.64,100.40 433.10,101.63 433.56,101.70 434.03,100.83 434.49,101.76 434.95,101.39 435.41,100.72 435.87,100.55 436.34,102.12 436.80,100.92 437.26,100.19 437.72,100.54 438.18,101.30 438.65,101.48 439.11,101.32 439.57,101.77 440.03,101.30 440.49,101.25 440.96,101.23 441.42,100.52 441.88,101.27 442.34,101.91 442.80,100.59 443.27,101.70 443.73,101.37 444.19,101.20 444.65,101.31 445.11,101.65 445.58,101.26 446.04,99.97 446.50,101.44 446.96,101.19 447.42,100.52 447.89,100.72 448.35,100.71 448.81,100.65 449.27,102.14 449.73,101.56 450.20,101.03 450.66,100.84 451.12,101.74 451.58,102.75 452.04,103.27 452.51,103.16 452.97,103.30 453.43,103.06 453.89,102.83 454.35,103.37 454.82,103.62 455.28,103.64 455.74,102.61 456.20,102.51 456.66,102.67 457.13,102.74 457.59,102.75 458.05,103.19 458.51,102.84 458.97,103.74 459.44,103.30 459.90,103.58 460.36,102.81 460.82,103.50 461.28,103.25 461.75,102.98 462.21,102.48 462.67,103.61 463.13,103.68 463.59,102.76 464.06,103.77 464.52,102.95 464.98,103.49 465.44,103.25 465.90,104.15 466.37,102.81 466.83,103.45 467.29,103.66 467.75,102.10 468.21,102.81 468.68,101.34 469.14,102.98 469.60,103.37 470.06,103.13 470.52,102.34 470.99,103.20 471.45,102.95 471.91,102.92 472.37,103.67 472.83,103.12 473.30,103.45 473.76,103.85 474.22,102.73 474.68,102.84 475.14,103.15 475.61,103.67 476.07,104.25" fill="none" stroke="#eda23a" stroke-width="0.9" />
<polyline points="377.20,104.17 377.66,104.47 378.12,105.30 378.59,104.43 379.05,105.19 379.51,104.39 379.97,104.29 380.43,104.17 380.90,104.23 381.36,104.24 381.82,104.92 382.28,104.51 382.74,104.57 383.21,104.41 383.67,104.14 384.13,103.94 384.59,103.39 385.05,105.60 385.52,104.02 385.98,104.33 386.44,103.01 386.90,103.71 387.36,105.06 387.83,103.97 388.29,104.44 388.75,103.64 389.21,104.70 389.67,104.19 390.14,104.20 390.60,104.17 391.06,104.41 391.52,105.06 391.98,103.84 392.45,103.55 392.91,104.10 393.37,104.59 393.83,103.93 394.29,103.73 394.76,104.11 395.22,104.01 395.68,103.25 396.14,104.57 396.60,104.27 397.07,104.97 397.53,104.32 397.99,104.33 398.45,104.44 398.91,104.29 399.38,102.96 399.84,104.00 400.30,103.95 400.76,102.72 401.22,103.90 401.69,104.77 402.15,103.63 402.61,104.33 403.07,102.96 403.53,104.47 404.00,104.11 404.46,104.64 404.92,103.73 405.38,104.30 405.84,103.79 406.31,103.95 406.77,104.06 407.23,103.23 407.69,103.22 408.15,103.67 408.62,104.17 409.08,104.25 409.54,103.53 410.00,102.40 410.46,102.65 410.93,101.56 411.39,100.76 411.85,100.51 412.31,100.17 412.77,99.59 413.24,98.61 413.70,99.29 414.16,99.50 414.62,100.03 415.08,99.03 415.55,99.13 416.01,99.73 416.47,99.62 416.93,99.05 417.39,98.47 417.86,98.64 418.32,98.84 418.78,99.10 419.24,98.73 419.70,98.89 420.17,97.71 420.63,99.43 421.09,99.01 421.55,98.13 422.01,98.91 422.48,98.00 422.94,98.76 423.40,98.64 423.86,98.89 424.32,99.41 424.79,99.17 425.25,97.48 425.71,98.29 426.17,98.29 426.63,98.09 427.10,98.28 427.56,98.03 428.02,98.69 428.48,98.65 428.94,98.00 429.41,98.69 429.87,99.20 430.33,98.60 430.79,98.75 431.25,98.13 431.72,98.82 432.18,98.99 432.64,98.59 433.10,97.59 433.56,98.42 434.03,98.30 434.49,98.37 434.95,98.21 435.41,97.86 435.87,97.61 436.34,99.20 436.80,97.61 437.26,98.32 437.72,98.48 438.18,97.03 438.65,98.38 439.11,97.26 439.57,97.76 440.03,98.81 440.49,98.00 440.96,97.86 441.42,98.31 441.88,99.46 442.34,98.41 442.80,98.32 443.27,98.80 443.73,97.24 444.19,98.33 444.65,98.40 445.11,98.34 445.58,98.59 446.04,98.58 446.50,98.12 446.96,98.00 447.42,98.42 447.89,98.20 448.35,98.88 448.81,97.87 449.27,98.53 449.73,98.02 450.20,98.60 450.66,98.39 451.12,100.62 451.58,102.52 452.04,100.87 452.51,102.26 452.97,102.29 453.43,102.65 453.89,101.42 454.35,101.53 454.82,102.10 455.28,102.98 455.74,102.53 456.20,101.94 456.66,102.53 457.13,102.88 457.59,102.89 458.05,102.67 458.51,102.25 458.97,102.60 459.44,102.25 459.90,100.79 460.36,101.33 460.82,102.81 461.28,102.08 461.75,102.21 462.21,102.33 462.67,101.71 463.13,102.44 463.59,102.43 464.06,102.46 464.52,102.31 464.98,101.58 465.44,101.85 465.90,102.97 466.37,102.49 466.83,102.68 467.29,101.83 467.75,102.14 468.21,101.79 468.68,102.29 469.14,103.27 469.60,102.02 470.06,102.14 470.52,101.99 470.99,102.95 471.45,102.22 471.91,102.62 472.37,102.62 472.83,102.07 473.30,102.07 473.76,102.73 474.22,103.16 474.68,103.56 475.14,102.56 475.61,101.67 476.07,102.29" fill="none" stroke="#a9d36a" stroke-width="0.9" />
<polyline points="377.20,105.31 377.66,104.56 378.12,103.88 378.59,103.21 379.05,103.46 379.51,103.87 379.97,103.95 380.43,104.60 380.90,104.27 381.36,104.20 381.82,104.42 382.28,103.97 382.74,104.20 383.21,103.80 383.67,103.21 384.13,103.57 384.59,103.73 385.05,104.06 385.52,104.73 385.98,103.97 386.44,103.62 386.90,104.42 387.36,103.22 387.83,104.05 388.29,103.66 388.75,104.02 389.21,104.50 389.67,102.74 390.14,104.43 390.60,103.32 391.06,104.09 391.52,103.64 391.98,104.20 392.45,103.98 392.91,103.27 393.37,102.71 393.83,104.18 394.29,103.71 394.76,103.21 395.22,104.03 395.68,103.31 396.14,104.09 396.60,103.35 397.07,103.42 397.53,103.00 397.99,103.44 398.45,104.25 398.91,103.26 399.38,104.18 399.84,103.19 400.30,102.78 400.76,103.25 401.22,103.85 401.69,102.92 402.15,103.45 402.61,104.18 403.07,103.70 403.53,102.75 404.00,103.65 404.46,103.42 404.92,103.65 405.38,104.35 405.84,103.72 406.31,103.25 406.77,103.32 407.23,103.51 407.69,104.53 408.15,102.75 408.62,103.00 409.08,102.83 409.54,102.68 410.00,103.58 410.46,102.23 410.93,99.88 411.39,98.06 411.85,99.16 412.31,97.98 412.77,97.98 413.24,97.13 413.70,96.54 414.16,97.37 414.62,97.80 415.08,97.06 415.55,97.18 416.01,97.80 416.47,96.47 416.93,97.17 417.39,96.50 417.86,97.51 418.32,96.20 418.78,97.50 419.24,96.15 419.70,97.62 420.17,95.90 420.63,96.79 421.09,97.38 421.55,96.65 422.01,96.32 422.48,96.99 422.94,96.69 423.40,96.26 423.86,96.46 424.32,97.96 424.79,96.54 425.25,96.06 425.71,96.11 426.17,95.71 426.63,96.58 427.10,94.84 427.56,95.74 428.02,95.97 428.48,95.54 428.94,95.59 429.41,96.02 429.87,96.38 430.33,95.49 430.79,95.78 431.25,96.98 431.72,96.55 432.18,95.70 432.64,95.87 433.10,95.76 433.56,95.55 434.03,95.80 434.49,95.02 434.95,96.15 435.41,96.03 435.87,95.64 436.34,95.40 436.80,95.36 437.26,94.98 437.72,96.00 438.18,95.12 438.65,95.47 439.11,96.26 439.57,95.77 440.03,94.58 440.49,95.25 440.96,95.90 441.42,96.91 441.88,96.02 442.34,95.99 442.80,95.57 443.27,94.38 443.73,95.19 444.19,95.41 444.65,96.06 445.11,96.18 445.58,95.65 446.04,95.78 446.50,93.94 446.96,95.73 447.42,95.83 447.89,94.90 448.35,95.45 448.81,96.13 449.27,94.80 449.73,95.63 450.20,96.16 450.66,95.28 451.12,99.30 451.58,101.54 452.04,101.44 452.51,101.48 452.97,102.41 453.43,103.03 453.89,103.21 454.35,102.02 454.82,101.30 455.28,101.42 455.74,101.22 456.20,100.97 456.66,101.94 457.13,101.39 457.59,102.76 458.05,101.59 458.51,101.74 458.97,102.00 459.44,102.18 459.90,102.54 460.36,101.88 460.82,101.28 461.28,102.14 461.75,101.67 462.21,102.30 462.67,101.82 463.13,102.48 463.59,101.75 464.06,102.06 464.52,101.78 464.98,102.27 465.44,102.57 465.90,102.12 466.37,101.40 466.83,101.12 467.29,102.12 467.75,101.53 468.21,101.55 468.68,101.74 469.14,102.77 469.60,101.78 470.06,102.46 470.52,101.33 470.99,101.53 471.45,101.62 471.91,103.29 472.37,101.62 472.83,101.58 473.30,102.62 473.76,101.44 474.22,101.91 474.68,102.05 475.14,102.33 475.61,102.49 476.07,102.18" fill="none" stroke="#2ea043" stroke-width="0.9" />
<polyline points="377.20,102.18 377.66,103.69 378.12,103.68 378.59,104.12 379.05,104.09 379.51,104.05 379.97,104.21 380.43,103.27 380.90,103.87 381.36,103.26 381.82,104.31 382.28,103.20 382.74,103.69 383.21,103.32 383.67,103.71 384.13,104.12 384.59,103.00 385.05,103.86 385.52,103.69 385.98,104.07 386.44,103.49 386.90,103.79 387.36,103.42 387.83,103.38 388.29,103.91 388.75,104.28 389.21,103.30 389.67,103.03 390.14,103.14 390.60,104.10 391.06,103.17 391.52,103.27 391.98,103.31 392.45,103.23 392.91,103.61 393.37,103.32 393.83,102.93 394.29,103.67 394.76,104.16 395.22,103.44 395.68,103.27 396.14,104.34 396.60,103.71 397.07,103.03 397.53,103.41 397.99,103.27 398.45,103.97 398.91,102.82 399.38,102.36 399.84,103.38 400.30,103.65 400.76,103.87 401.22,102.78 401.69,103.18 402.15,103.64 402.61,102.57 403.07,102.80 403.53,102.87 404.00,104.11 404.46,103.22 404.92,102.83 405.38,103.79 405.84,102.65 406.31,102.37 406.77,102.57 407.23,103.49 407.69,103.47 408.15,102.59 408.62,102.55 409.08,102.41 409.54,102.42 410.00,103.09 410.46,100.36 410.93,97.20 411.39,93.46 411.85,91.26 412.31,91.83 412.77,91.28 413.24,90.31 413.70,90.19 414.16,90.91 414.62,90.40 415.08,90.46 415.55,88.70 416.01,90.02 416.47,89.09 416.93,88.42 417.39,88.33 417.86,88.48 418.32,88.27 418.78,89.69 419.24,89.12 419.70,89.23 420.17,88.91 420.63,87.29 421.09,89.47 421.55,88.21 422.01,89.07 422.48,87.63 422.94,87.57 423.40,88.44 423.86,87.00 424.32,87.98 424.79,87.25 425.25,87.70 425.71,88.09 426.17,87.92 426.63,87.71 427.10,87.26 427.56,87.45 428.02,86.20 428.48,87.48 428.94,87.56 429.41,87.63 429.87,87.60 430.33,87.89 430.79,87.59 431.25,86.53 431.72,86.92 432.18,86.99 432.64,86.66 433.10,86.22 433.56,86.41 434.03,86.27 434.49,86.92 434.95,86.71 435.41,86.93 435.87,86.52 436.34,86.86 436.80,86.57 437.26,86.42 437.72,86.40 438.18,86.38 438.65,86.45 439.11,85.46 439.57,86.29 440.03,86.60 440.49,85.92 440.96,86.55 441.42,86.51 441.88,85.86 442.34,86.74 442.80,87.52 443.27,85.63 443.73,85.20 444.19,86.59 444.65,86.15 445.11,85.34 445.58,86.66 446.04,86.04 446.50,86.18 446.96,85.61 447.42,86.52 447.89,84.97 448.35,85.49 448.81,85.22 449.27,85.53 449.73,86.44 450.20,85.38 450.66,85.97 451.12,94.43 451.58,98.91 452.04,99.62 452.51,99.81 452.97,99.35 453.43,99.37 453.89,100.31 454.35,99.79 454.82,99.01 455.28,99.52 455.74,100.16 456.20,99.84 456.66,99.96 457.13,99.28 457.59,99.76 458.05,99.58 458.51,98.61 458.97,100.51 459.44,100.31 459.90,100.69 460.36,100.62 460.82,99.33 461.28,99.63 461.75,98.92 462.21,100.82 462.67,100.24 463.13,99.02 463.59,99.24 464.06,99.31 464.52,99.32 464.98,99.76 465.44,99.79 465.90,99.76 466.37,99.34 466.83,99.87 467.29,99.61 467.75,99.01 468.21,100.37 468.68,100.18 469.14,99.48 469.60,99.92 470.06,99.86 470.52,98.67 470.99,99.56 471.45,100.00 471.91,99.20 472.37,98.45 472.83,100.36 473.30,100.13 473.76,99.72 474.22,100.12 474.68,98.64 475.14,99.50 475.61,99.99 476.07,99.52" fill="none" stroke="#fbbcbc" stroke-width="0.9" />
<polyline points="377.20,104.50 377.66,104.32 378.12,103.70 378.59,101.70 379.05,105.72 379.51,103.39 379.97,102.57 380.43,103.09 380.90,102.05 381.36,103.32 381.82,103.57 382.28,103.80 382.74,104.42 383.21,102.25 383.67,104.69 384.13,103.75 384.59,104.09 385.05,104.31 385.52,105.54 385.98,103.94 386.44,103.47 386.90,103.46 387.36,102.84 387.83,103.70 388.29,104.11 388.75,103.27 389.21,102.95 389.67,104.30 390.14,104.83 390.60,104.39 391.06,102.57 391.52,102.61 391.98,104.23 392.45,103.36 392.91,102.71 393.37,102.28 393.83,103.99 394.29,103.62 394.76,102.17 395.22,101.29 395.68,102.05 396.14,104.36 396.60,102.96 397.07,103.60 397.53,103.38 397.99,103.90 398.45,103.73 398.91,103.31 399.38,101.72 399.84,102.67 400.30,102.90 400.76,103.23 401.22,103.90 401.69,103.43 402.15,102.15 402.61,102.49 403.07,101.50 403.53,102.97 404.00,103.20 404.46,104.57 404.92,102.81 405.38,104.64 405.84,101.81 406.31,103.67 406.77,103.12 407.23,104.28 407.69,103.52 408.15,103.89 408.62,102.09 409.08,102.85 409.54,104.07 410.00,104.72 410.46,97.84 410.93,91.42 411.39,87.79 411.85,83.68 412.31,82.63 412.77,81.17 413.24,80.89 413.70,80.17 414.16,79.48 414.62,79.96 415.08,77.55 415.55,77.30 416.01,78.73 416.47,76.74 416.93,75.43 417.39,75.85 417.86,74.56 418.32,75.56 418.78,74.97 419.24,75.76 419.70,75.08 420.17,75.55 420.63,74.42 421.09,73.12 421.55,72.58 422.01,71.72 422.48,72.33 422.94,73.02 423.40,71.50 423.86,71.73 424.32,69.79 424.79,69.38 425.25,70.00 425.71,71.57 426.17,70.79 426.63,69.94 427.10,70.49 427.56,69.19 428.02,68.83 428.48,68.48 428.94,68.80 429.41,69.56 429.87,69.33 430.33,68.51 430.79,67.06 431.25,66.65 431.72,66.99 432.18,67.35 432.64,66.90 433.10,66.60 433.56,66.03 434.03,66.24 434.49,68.16 434.95,65.84 435.41,66.19 435.87,66.77 436.34,65.77 436.80,65.84 437.26,66.00 437.72,67.28 438.18,65.59 438.65,65.07 439.11,65.47 439.57,66.68 440.03,64.79 440.49,64.44 440.96,64.80 441.42,64.47 441.88,65.04 442.34,65.20 442.80,64.07 443.27,64.73 443.73,64.16 444.19,61.40 444.65,63.51 445.11,63.92 445.58,65.35 446.04,63.77 446.50,63.11 446.96,64.29 447.42,63.81 447.89,65.48 448.35,62.96 448.81,63.88 449.27,62.69 449.73,62.03 450.20,63.28 450.66,62.22 451.12,85.86 451.58,96.34 452.04,98.90 452.51,100.01 452.97,98.31 453.43,98.69 453.89,100.34 454.35,98.74 454.82,100.10 455.28,100.78 455.74,98.43 456.20,100.58 456.66,98.44 457.13,99.30 457.59,98.69 458.05,99.03 458.51,98.47 458.97,99.17 459.44,98.97 459.90,99.25 460.36,98.52 460.82,99.81 461.28,98.59 461.75,98.16 462.21,99.52 462.67,99.09 463.13,99.92 463.59,99.72 464.06,99.24 464.52,99.77 464.98,100.24 465.44,99.50 465.90,99.30 466.37,99.19 466.83,98.85 467.29,101.01 467.75,98.24 468.21,99.62 468.68,100.14 469.14,99.79 469.60,99.09 470.06,98.71 470.52,99.79 470.99,99.33 471.45,100.85 471.91,99.32 472.37,99.57 472.83,99.84 473.30,98.70 473.76,97.91 474.22,98.57 474.68,100.15 475.14,98.14 475.61,99.76 476.07,99.51" fill="none" stroke="#f06a6a" stroke-width="0.9" />
<polyline points="377.20,104.00 377.66,103.09 378.12,103.00 378.59,103.34 379.05,103.64 379.51,103.57 379.97,103.78 380.43,102.58 380.90,103.86 381.36,103.53 381.82,103.57 382.28,104.03 382.74,103.57 383.21,104.63 383.67,102.99 384.13,102.87 384.59,103.59 385.05,101.97 385.52,104.02 385.98,102.81 386.44,102.87 386.90,103.74 387.36,103.47 387.83,102.48 388.29,103.19 388.75,102.98 389.21,102.01 389.67,103.02 390.14,104.64 390.60,103.82 391.06,102.45 391.52,103.28 391.98,104.09 392.45,104.85 392.91,102.85 393.37,101.82 393.83,104.19 394.29,104.97 394.76,102.66 395.22,103.54 395.68,103.32 396.14,103.33 396.60,103.82 397.07,102.65 397.53,102.23 397.99,102.70 398.45,103.48 398.91,102.09 399.38,103.07 399.84,102.47 400.30,103.76 400.76,102.38 401.22,102.29 401.69,101.81 402.15,102.89 402.61,102.52 403.07,103.39 403.53,102.12 404.00,102.20 404.46,101.93 404.92,103.18 405.38,103.89 405.84,102.89 406.31,102.99 406.77,103.45 407.23,102.27 407.69,101.97 408.15,102.43 408.62,101.81 409.08,102.41 409.54,103.58 410.00,103.23 410.46,95.78 410.93,85.41 411.39,79.42 411.85,76.46 412.31,73.35 412.77,73.32 413.24,71.54 413.70,69.25 414.16,69.41 414.62,68.25 415.08,70.19 415.55,69.47 416.01,68.27 416.47,66.18 416.93,65.19 417.39,66.66 417.86,66.54 418.32,66.14 418.78,65.63 419.24,63.99 419.70,64.35 420.17,62.10 420.63,62.72 421.09,63.57 421.55,62.44 422.01,62.44 422.48,61.30 422.94,60.89 423.40,61.65 423.86,60.29 424.32,60.27 424.79,60.55 425.25,59.98 425.71,59.35 426.17,59.94 426.63,60.00 427.10,58.09 427.56,58.93 428.02,59.21 428.48,58.08 428.94,59.51 429.41,57.99 429.87,58.99 430.33,57.99 430.79,58.95 431.25,57.85 431.72,56.29 432.18,57.02 432.64,57.73 433.10,55.04 433.56,56.89 434.03,54.93 434.49,56.48 434.95,57.13 435.41,54.16 435.87,55.96 436.34,54.80 436.80,54.29 437.26,56.30 437.72,54.99 438.18,55.41 438.65,54.28 439.11,54.69 439.57,55.64 440.03,54.40 440.49,53.69 440.96,54.49 441.42,53.65 441.88,54.48 442.34,53.98 442.80,53.54 443.27,53.62 443.73,52.57 444.19,52.76 444.65,52.76 445.11,52.78 445.58,53.19 446.04,54.23 446.50,52.26 446.96,51.61 447.42,52.83 447.89,53.16 448.35,52.91 448.81,51.79 449.27,52.51 449.73,53.52 450.20,52.77 450.66,53.22 451.12,81.98 451.58,95.40 452.04,98.55 452.51,97.33 452.97,97.89 453.43,100.20 453.89,99.67 454.35,99.22 454.82,99.17 455.28,100.02 455.74,98.09 456.20,100.21 456.66,98.25 457.13,98.25 457.59,99.16 458.05,99.40 458.51,98.79 458.97,98.72 459.44,100.62 459.90,99.91 460.36,98.39 460.82,98.94 461.28,99.20 461.75,99.69 462.21,99.44 462.67,99.49 463.13,96.47 463.59,99.91 464.06,97.54 464.52,98.44 464.98,98.66 465.44,98.68 465.90,99.17 466.37,97.48 466.83,98.41 467.29,98.87 467.75,98.95 468.21,98.67 468.68,99.81 469.14,99.11 469.60,99.37 470.06,98.32 470.52,98.33 470.99,100.43 471.45,99.03 471.91,98.00 472.37,99.94 472.83,99.85 473.30,97.99 473.76,98.95 474.22,99.23 474.68,99.87 475.14,98.70 475.61,99.32 476.07,98.66" fill="none" stroke="#5cb6f0" stroke-width="0.9" />
<polyline points="377.20,102.82 377.66,102.58 378.12,103.44 378.59,103.60 379.05,103.11 379.51,103.21 379.97,102.97 380.43,103.56 380.90,103.30 381.36,103.58 381.82,103.57 382.28,102.93 382.74,102.07 383.21,103.50 383.67,102.54 384.13,102.73 384.59,102.92 385.05,102.42 385.52,103.46 385.98,102.50 386.44,102.71 386.90,105.92 387.36,102.64 387.83,102.42 388.29,101.26 388.75,103.81 389.21,102.82 389.67,102.59 390.14,103.70 390.60,101.85 391.06,102.48 391.52,103.52 391.98,103.85 392.45,103.18 392.91,100.80 393.37,100.97 393.83,104.90 394.29,104.33 394.76,102.20 395.22,102.85 395.68,103.29 396.14,102.22 396.60,102.65 397.07,102.47 397.53,102.48 397.99,103.62 398.45,101.57 398.91,103.06 399.38,101.70 399.84,102.06 400.30,102.61 400.76,102.51 401.22,102.66 401.69,104.17 402.15,102.87 402.61,102.22 403.07,103.95 403.53,103.83 404.00,101.64 404.46,101.85 404.92,103.85 405.38,102.13 405.84,102.55 406.31,101.67 406.77,102.77 407.23,102.67 407.69,103.11 408.15,102.30 408.62,102.55 409.08,102.99 409.54,102.72 410.00,103.06 410.46,94.25 410.93,85.35 411.39,79.50 411.85,75.05 412.31,70.73 412.77,70.33 413.24,68.06 413.70,67.00 414.16,67.24 414.62,65.45 415.08,65.03 415.55,64.90 416.01,64.91 416.47,63.83 416.93,64.36 417.39,63.01 417.86,62.79 418.32,61.45 418.78,61.08 419.24,61.49 419.70,59.77 420.17,59.08 420.63,59.64 421.09,59.94 421.55,58.49 422.01,60.64 422.48,58.69 422.94,57.35 423.40,55.79 423.86,57.80 424.32,55.54 424.79,54.55 425.25,54.62 425.71,57.96 426.17,54.71 426.63,55.21 427.10,54.23 427.56,54.99 428.02,55.11 428.48,54.52 428.94,52.80 429.41,53.13 429.87,53.87 430.33,53.07 430.79,52.44 431.25,52.48 431.72,52.80 432.18,53.13 432.64,53.01 433.10,52.55 433.56,52.47 434.03,53.17 434.49,52.86 434.95,50.72 435.41,52.27 435.87,52.28 436.34,51.03 436.80,49.60 437.26,49.61 437.72,50.91 438.18,51.31 438.65,50.74 439.11,50.93 439.57,50.50 440.03,49.49 440.49,50.69 440.96,50.33 441.42,49.77 441.88,49.46 442.34,49.99 442.80,49.90 443.27,50.09 443.73,49.67 444.19,48.47 444.65,49.04 445.11,51.42 445.58,48.12 446.04,48.62 446.50,49.23 446.96,48.62 447.42,50.93 447.89,49.67 448.35,47.16 448.81,46.25 449.27,46.14 449.73,48.59 450.20,47.86 450.66,47.15 451.12,80.35 451.58,91.58 452.04,97.12 452.51,97.03 452.97,98.54 453.43,97.28 453.89,97.62 454.35,96.67 454.82,98.61 455.28,97.62 455.74,96.04 456.20,98.64 456.66,97.30 457.13,97.23 457.59,98.04 458.05,97.84 458.51,96.38 458.97,96.62 459.44,97.12 459.90,97.38 460.36,98.59 460.82,97.53 461.28,96.05 461.75,96.70 462.21,98.79 462.67,99.41 463.13,98.18 463.59,97.47 464.06,98.09 464.52,97.88 464.98,97.31 465.44,96.83 465.90,97.43 466.37,96.52 466.83,98.84 467.29,97.20 467.75,97.24 468.21,98.90 468.68,96.52 469.14,99.00 469.60,98.86 470.06,95.29 470.52,96.48 470.99,97.28 471.45,96.43 471.91,96.61 472.37,98.59 472.83,97.19 473.30,96.39 473.76,97.75 474.22,97.55 474.68,98.01 475.14,96.97 475.61,98.09 476.07,98.12" fill="none" stroke="#2f64aa" stroke-width="0.9" />
<line x1="488.10" y1="46.20" x2="494.00" y2="46.20" stroke="#b0b0b0" stroke-width="1.1" />
<text font-size="7.8" transform="translate(495.60 49.00) translate(0 0.3) scale(1 1.15)" >0 nM</text>
<line x1="488.10" y1="53.64" x2="494.00" y2="53.64" stroke="#f4b060" stroke-width="1.1" />
<text font-size="7.8" transform="translate(495.60 56.44) translate(0 0.3) scale(1 1.15)" >31.25 nM</text>
<line x1="488.10" y1="61.08" x2="494.00" y2="61.08" stroke="#b0d888" stroke-width="1.1" />
<text font-size="7.8" transform="translate(495.60 63.88) translate(0 0.3) scale(1 1.15)" >62.5 nM</text>
<line x1="488.10" y1="68.52" x2="494.00" y2="68.52" stroke="#3aa848" stroke-width="1.1" />
<text font-size="7.8" transform="translate(495.60 71.32) translate(0 0.3) scale(1 1.15)" >125 nM</text>
<line x1="488.10" y1="75.96" x2="494.00" y2="75.96" stroke="#fcdcdc" stroke-width="1.1" />
<text font-size="7.8" transform="translate(495.60 78.76) translate(0 0.3) scale(1 1.15)" >250 nM</text>
<line x1="488.10" y1="83.40" x2="494.00" y2="83.40" stroke="#f49090" stroke-width="1.1" />
<text font-size="7.8" transform="translate(495.60 86.20) translate(0 0.3) scale(1 1.15)" >500 nM</text>
<line x1="488.10" y1="90.84" x2="494.00" y2="90.84" stroke="#94cdf6" stroke-width="1.1" />
<text font-size="7.8" transform="translate(495.60 93.64) translate(0 0.3) scale(1 1.15)" >1000 nM</text>
<line x1="488.10" y1="98.28" x2="494.00" y2="98.28" stroke="#7896c4" stroke-width="1.1" />
<text font-size="7.8" transform="translate(495.60 101.08) translate(0 0.3) scale(1 1.15)" >2000 nM</text>
<text font-size="12.4" font-weight="bold" fill="#000" transform="translate(534.80 9.30)" >D</text>
<line x1="572.70" y1="28.50" x2="572.70" y2="109.50" stroke="#1a1a1a" stroke-width="0.9" />
<line x1="572.70" y1="109.50" x2="677.00" y2="109.50" stroke="#1a1a1a" stroke-width="0.9" />
<line x1="570.50" y1="30.20" x2="572.70" y2="30.20" stroke="#1a1a1a" stroke-width="0.8" />
<text font-size="7.6" text-anchor="end" transform="translate(570.30 32.90) translate(0 0.3) scale(1 1.15)" >0.20</text>
<line x1="570.50" y1="50.03" x2="572.70" y2="50.03" stroke="#1a1a1a" stroke-width="0.8" />
<text font-size="7.6" text-anchor="end" transform="translate(570.30 52.73) translate(0 0.3) scale(1 1.15)" >0.15</text>
<line x1="570.50" y1="69.85" x2="572.70" y2="69.85" stroke="#1a1a1a" stroke-width="0.8" />
<text font-size="7.6" text-anchor="end" transform="translate(570.30 72.55) translate(0 0.3) scale(1 1.15)" >0.10</text>
<line x1="570.50" y1="89.67" x2="572.70" y2="89.67" stroke="#1a1a1a" stroke-width="0.8" />
<text font-size="7.6" text-anchor="end" transform="translate(570.30 92.38) translate(0 0.3) scale(1 1.15)" >0.05</text>
<line x1="570.50" y1="109.50" x2="572.70" y2="109.50" stroke="#1a1a1a" stroke-width="0.8" />
<text font-size="7.6" text-anchor="end" transform="translate(570.30 112.20) translate(0 0.3) scale(1 1.15)" >0.00</text>
<line x1="572.70" y1="109.50" x2="572.70" y2="111.50" stroke="#1a1a1a" stroke-width="0.8" />
<text font-size="7.6" text-anchor="middle" transform="translate(572.70 119.90) translate(0 0.3) scale(1 1.15)" >0.0</text>
<line x1="598.73" y1="109.50" x2="598.73" y2="111.50" stroke="#1a1a1a" stroke-width="0.8" />
<text font-size="7.6" text-anchor="middle" transform="translate(598.73 119.90) translate(0 0.3) scale(1 1.15)" >0.5</text>
<line x1="624.75" y1="109.50" x2="624.75" y2="111.50" stroke="#1a1a1a" stroke-width="0.8" />
<text font-size="7.6" text-anchor="middle" transform="translate(624.75 119.90) translate(0 0.3) scale(1 1.15)" >1.0</text>
<line x1="650.78" y1="109.50" x2="650.78" y2="111.50" stroke="#1a1a1a" stroke-width="0.8" />
<text font-size="7.6" text-anchor="middle" transform="translate(650.78 119.90) translate(0 0.3) scale(1 1.15)" >1.5</text>
<line x1="676.80" y1="109.50" x2="676.80" y2="111.50" stroke="#1a1a1a" stroke-width="0.8" />
<text font-size="7.6" text-anchor="middle" transform="translate(676.80 119.90) translate(0 0.3) scale(1 1.15)" >2.0</text>
<text font-size="7.6" text-anchor="middle" transform="translate(625.00 130.50) translate(0 0.3) scale(1 1.15)" >Concentration (µM)</text>
<text font-size="7.6" text-anchor="middle" transform="translate(551.50 68.40) rotate(-90) translate(0 0.3) scale(1 1.15)" >Wavelength (nm)</text>
<text font-size="7.5" transform="translate(581.00 32.30) translate(0 0.3) scale(1 1.15)">KD = 608 nM, R<tspan font-size="5" dy="-2.9">2</tspan><tspan dy="2.9"> = 0.9625</tspan></text>
<polyline points="572.70,109.50 573.22,107.95 573.74,106.45 574.26,105.00 574.78,103.59 575.30,102.22 575.82,100.90 576.34,99.61 576.86,98.37 577.38,97.15 577.91,95.98 578.43,94.83 578.95,93.72 579.47,92.63 579.99,91.58 580.51,90.55 581.03,89.55 581.55,88.58 582.07,87.63 582.59,86.70 583.11,85.80 583.63,84.92 584.15,84.06 584.67,83.22 585.19,82.40 585.71,81.60 586.23,80.82 586.75,80.05 587.27,79.31 587.79,78.58 588.32,77.86 588.84,77.16 589.36,76.48 589.88,75.81 590.40,75.16 590.92,74.52 591.44,73.89 591.96,73.27 592.48,72.67 593.00,72.08 593.52,71.50 594.04,70.93 594.56,70.38 595.08,69.83 595.60,69.30 596.12,68.77 596.64,68.26 597.16,67.75 597.68,67.26 598.20,66.77 598.73,66.29 599.25,65.82 599.77,65.36 600.29,64.90 600.81,64.46 601.33,64.02 601.85,63.59 602.37,63.17 602.89,62.75 603.41,62.34 603.93,61.94 604.45,61.54 604.97,61.15 605.49,60.77 606.01,60.40 606.53,60.02 607.05,59.66 607.57,59.30 608.09,58.95 608.61,58.60 609.13,58.26 609.66,57.92 610.18,57.58 610.70,57.26 611.22,56.93 611.74,56.62 612.26,56.30 612.78,55.99 613.30,55.69 613.82,55.39 614.34,55.09 614.86,54.80 615.38,54.51 615.90,54.23 616.42,53.95 616.94,53.68 617.46,53.40 617.98,53.14 618.50,52.87 619.02,52.61 619.55,52.35 620.07,52.10 620.59,51.85 621.11,51.60 621.63,51.35 622.15,51.11 622.67,50.87 623.19,50.64 623.71,50.41 624.23,50.18 624.75,49.95 625.27,49.73 625.79,49.51 626.31,49.29 626.83,49.07 627.35,48.86 627.87,48.65 628.39,48.44 628.91,48.24 629.43,48.03 629.96,47.83 630.48,47.63 631.00,47.44 631.52,47.24 632.04,47.05 632.56,46.86 633.08,46.67 633.60,46.49 634.12,46.31 634.64,46.13 635.16,45.95 635.68,45.77 636.20,45.59 636.72,45.42 637.24,45.25 637.76,45.08 638.28,44.91 638.80,44.75 639.32,44.58 639.84,44.42 640.37,44.26 640.89,44.10 641.41,43.94 641.93,43.79 642.45,43.63 642.97,43.48 643.49,43.33 644.01,43.18 644.53,43.03 645.05,42.88 645.57,42.74 646.09,42.60 646.61,42.45 647.13,42.31 647.65,42.17 648.17,42.03 648.69,41.90 649.21,41.76 649.73,41.63 650.25,41.49 650.78,41.36 651.30,41.23 651.82,41.10 652.34,40.98 652.86,40.85 653.38,40.72 653.90,40.60 654.42,40.48 654.94,40.35 655.46,40.23 655.98,40.11 656.50,39.99 657.02,39.88 657.54,39.76 658.06,39.64 658.58,39.53 659.10,39.41 659.62,39.30 660.14,39.19 660.66,39.08 661.19,38.97 661.71,38.86 662.23,38.75 662.75,38.65 663.27,38.54 663.79,38.44 664.31,38.33 664.83,38.23 665.35,38.13 665.87,38.02 666.39,37.92 666.91,37.82 667.43,37.72 667.95,37.63 668.47,37.53 668.99,37.43 669.51,37.33 670.03,37.24 670.55,37.15 671.07,37.05 671.60,36.96 672.12,36.87 672.64,36.77 673.16,36.68 673.68,36.59 674.20,36.50 674.72,36.42 675.24,36.33 675.76,36.24 676.28,36.15 676.80,36.07" fill="none" stroke="#1a1a1a" stroke-width="0.9" />
<circle cx="573.51" cy="107.91" r="1.50" fill="#2aa2d6" />
<circle cx="574.31" cy="106.33" r="1.50" fill="#2aa2d6" />
<circle cx="575.95" cy="104.35" r="1.50" fill="#2aa2d6" />
<circle cx="579.21" cy="99.59" r="1.50" fill="#2aa2d6" />
<circle cx="585.71" cy="86.50" r="1.50" fill="#2aa2d6" />
<circle cx="598.73" cy="58.75" r="1.50" fill="#2aa2d6" />
<circle cx="624.75" cy="45.27" r="1.50" fill="#2aa2d6" />
<circle cx="676.80" cy="41.30" r="1.50" fill="#2aa2d6" />
<text font-size="12.4" font-weight="bold" fill="#000" transform="translate(2.20 149.90)" >E</text>
<text font-size="8.2" text-anchor="middle" transform="translate(108.50 158.60) translate(0 0.3) scale(1 1.15)" >Organoid #GC36</text>
<line x1="36.00" y1="162.40" x2="170.60" y2="162.40" stroke="#777" stroke-width="1.4" />
<text font-size="8.1" text-anchor="middle" transform="translate(52.05 170.80) translate(0 0.3) scale(1 1.15)" >Veh</text>
<text font-size="8.1" text-anchor="middle" transform="translate(86.35 170.80) translate(0 0.3) scale(1 1.15)" >Gal</text>
<text font-size="8.1" text-anchor="middle" transform="translate(120.80 170.80) translate(0 0.3) scale(1 1.15)" >Dev</text>
<text font-size="8.1" text-anchor="middle" transform="translate(155.25 170.80) translate(0 0.3) scale(1 1.15)" >Gal&amp;Dev</text>
<text font-size="8.1" text-anchor="end" transform="translate(33.80 192.25) translate(0 0.3) scale(1 1.15)" >Day 0</text>
<text font-size="8.1" text-anchor="end" transform="translate(33.80 226.25) translate(0 0.3) scale(1 1.15)" >Day 2</text>
<text font-size="8.1" text-anchor="end" transform="translate(33.80 260.45) translate(0 0.3) scale(1 1.15)" >Day 4</text>
<text font-size="7.2" text-anchor="end" transform="translate(171.30 280.60) translate(0 0.3) scale(1 1.15)" >100 µm</text>
<defs><filter id="orgb" x="-10%" y="-10%" width="120%" height="120%"><feGaussianBlur stdDeviation="0.45"/></filter><filter id="orgbg" x="-10%" y="-10%" width="120%" height="120%"><feGaussianBlur stdDeviation="2"/></filter></defs>
<svg x="36.30" y="173.70" width="30.90" height="31.30" overflow="hidden">
<rect x="0.00" y="0.00" width="30.90" height="31.30" fill="#b0b1ab" />
<g filter="url(#orgbg)">
<ellipse cx="5.10" cy="21.59" rx="7.17" ry="6.40" fill="#a6a6a0" opacity="0.7"/>
<ellipse cx="30.58" cy="14.86" rx="8.82" ry="4.92" fill="#a6a6a0" opacity="0.7"/>
<ellipse cx="24.36" cy="0.44" rx="8.66" ry="6.14" fill="#a6a6a0" opacity="0.7"/>
<ellipse cx="24.53" cy="7.27" rx="5.16" ry="4.21" fill="#a8a8a2" opacity="0.7"/>
<ellipse cx="19.03" cy="1.07" rx="5.64" ry="6.49" fill="#c2c2bc" opacity="0.7"/>
</g><g filter="url(#orgb)">
<circle cx="7.73" cy="5.63" r="1.80" fill="#dcdcd2" stroke="#66665a" stroke-width="0.45" />
<circle cx="7.73" cy="5.63" r="0.99" fill="#f2f2ea" />
<circle cx="17.00" cy="6.26" r="1.50" fill="#dcdcd2" stroke="#66665a" stroke-width="0.45" />
<circle cx="17.00" cy="6.26" r="0.83" fill="#f2f2ea" />
<circle cx="22.25" cy="13.15" r="2.80" fill="#dcdcd2" stroke="#66665a" stroke-width="0.45" />
<circle cx="22.25" cy="13.15" r="1.54" fill="#f2f2ea" />
<circle cx="26.27" cy="18.15" r="3.20" fill="#bcbcb0" stroke="#5c5c4e" stroke-width="0.55" />
<circle cx="26.27" cy="18.15" r="2.40" fill="none" stroke="#dedad0" stroke-width="0.5" />
<circle cx="25.32" cy="16.87" r="0.51" fill="#a8a490" />
<circle cx="26.35" cy="17.96" r="0.96" fill="#d8d8cc" />
<circle cx="26.92" cy="19.20" r="0.70" fill="#9a9a88" />
<circle cx="26.29" cy="18.21" r="0.93" fill="#9a9a88" />
<circle cx="27.19" cy="9.39" r="2.20" fill="#dcdcd2" stroke="#66665a" stroke-width="0.45" />
<circle cx="27.19" cy="9.39" r="1.21" fill="#f2f2ea" />
<circle cx="11.74" cy="19.41" r="1.60" fill="#dcdcd2" stroke="#66665a" stroke-width="0.45" />
<circle cx="11.74" cy="19.41" r="0.88" fill="#f2f2ea" />
<circle cx="13.91" cy="24.41" r="2.80" fill="#dcdcd2" stroke="#66665a" stroke-width="0.45" />
<circle cx="13.91" cy="24.41" r="1.54" fill="#f2f2ea" />
<circle cx="3.71" cy="14.09" r="1.40" fill="#dcdcd2" stroke="#66665a" stroke-width="0.45" />
<circle cx="3.71" cy="14.09" r="0.77" fill="#f2f2ea" />
<circle cx="8.65" cy="15.65" r="1.40" fill="#dcdcd2" stroke="#66665a" stroke-width="0.45" />
<circle cx="8.65" cy="15.65" r="0.77" fill="#f2f2ea" />
</g>
</svg>
<line x1="53.70" y1="203.60" x2="66.00" y2="203.60" stroke="#333" stroke-width="1.1" />
<svg x="36.30" y="207.80" width="30.90" height="31.10" overflow="hidden">
<rect x="0.00" y="0.00" width="30.90" height="31.10" fill="#b3b3ad" />
<g filter="url(#orgbg)">
<ellipse cx="2.31" cy="6.14" rx="7.37" ry="8.01" fill="#c2c2bc" opacity="0.7"/>
<ellipse cx="3.78" cy="14.81" rx="8.14" ry="5.01" fill="#a6a6a0" opacity="0.7"/>
<ellipse cx="27.43" cy="12.74" rx="5.83" ry="6.26" fill="#a8a8a2" opacity="0.7"/>
<ellipse cx="9.82" cy="15.07" rx="5.33" ry="8.17" fill="#a6a6a0" opacity="0.7"/>
<ellipse cx="22.19" cy="30.88" rx="6.48" ry="6.46" fill="#a6a6a0" opacity="0.7"/>
</g><g filter="url(#orgb)">
<circle cx="3.71" cy="17.10" r="3.50" fill="#bcbcb0" stroke="#5c5c4e" stroke-width="0.55" />
<circle cx="3.71" cy="17.10" r="2.70" fill="none" stroke="#dedad0" stroke-width="0.5" />
<circle cx="3.13" cy="16.83" r="0.99" fill="#9a9a88" />
<circle cx="3.85" cy="17.41" r="0.67" fill="#d8d8cc" />
<circle cx="3.03" cy="18.09" r="0.65" fill="#9a9a88" />
<circle cx="4.61" cy="18.72" r="0.59" fill="#d8d8cc" />
<circle cx="2.74" cy="18.07" r="0.84" fill="#a8a490" />
<circle cx="21.63" cy="13.06" r="4.50" fill="#bcbcb0" stroke="#5c5c4e" stroke-width="0.55" />
<circle cx="21.63" cy="13.06" r="3.70" fill="none" stroke="#dedad0" stroke-width="0.5" />
<circle cx="22.81" cy="12.74" r="0.99" fill="#a8a490" />
<circle cx="19.39" cy="11.64" r="0.75" fill="#d8d8cc" />
<circle cx="20.22" cy="10.63" r="0.62" fill="#a8a490" />
<circle cx="23.82" cy="14.08" r="0.89" fill="#d8d8cc" />
<circle cx="22.44" cy="13.37" r="0.93" fill="#a8a490" />
<circle cx="21.32" cy="14.28" r="0.59" fill="#9a9a88" />
<circle cx="18.54" cy="25.50" r="3.00" fill="#bcbcb0" stroke="#5c5c4e" stroke-width="0.55" />
<circle cx="18.54" cy="25.50" r="2.20" fill="none" stroke="#dedad0" stroke-width="0.5" />
<circle cx="19.20" cy="24.80" r="0.57" fill="#9a9a88" />
<circle cx="18.52" cy="24.78" r="0.63" fill="#a8a490" />
<circle cx="17.46" cy="25.33" r="0.51" fill="#9a9a88" />
<circle cx="18.98" cy="25.18" r="0.58" fill="#d8d8cc" />
<circle cx="6.18" cy="6.22" r="2.00" fill="#dcdcd2" stroke="#66665a" stroke-width="0.45" />
<circle cx="6.18" cy="6.22" r="1.10" fill="#f2f2ea" />
<circle cx="26.27" cy="3.73" r="1.50" fill="#dcdcd2" stroke="#66665a" stroke-width="0.45" />
<circle cx="26.27" cy="3.73" r="0.83" fill="#f2f2ea" />
<circle cx="13.91" cy="4.66" r="1.50" fill="#dcdcd2" stroke="#66665a" stroke-width="0.45" />
<circle cx="13.91" cy="4.66" r="0.83" fill="#f2f2ea" />
</g>
</svg>
<line x1="53.70" y1="237.50" x2="66.00" y2="237.50" stroke="#333" stroke-width="1.1" />
<svg x="36.30" y="241.90" width="30.90" height="31.30" overflow="hidden">
<rect x="0.00" y="0.00" width="30.90" height="31.30" fill="#aeaea6" />
<g filter="url(#orgbg)">
<ellipse cx="18.58" cy="13.34" rx="6.91" ry="8.25" fill="#bebeb8" opacity="0.7"/>
<ellipse cx="4.29" cy="18.42" rx="4.70" ry="7.60" fill="#a8a8a2" opacity="0.7"/>
<ellipse cx="21.18" cy="29.86" rx="4.12" ry="6.97" fill="#a6a6a0" opacity="0.7"/>
<ellipse cx="26.32" cy="18.29" rx="5.29" ry="6.03" fill="#a6a6a0" opacity="0.7"/>
<ellipse cx="4.13" cy="2.97" rx="4.47" ry="4.13" fill="#a8a8a2" opacity="0.7"/>
</g><g filter="url(#orgb)">
<circle cx="11.74" cy="7.82" r="6.00" fill="#c4c0a2" stroke="#66668c" stroke-width="0.6" />
<circle cx="11.74" cy="7.82" r="5.10" fill="none" stroke="#dedad0" stroke-width="0.4" />
<circle cx="11.81" cy="7.51" r="0.55" fill="#d8d4bc" />
<circle cx="13.44" cy="9.55" r="0.63" fill="#d8d4bc" />
<circle cx="13.87" cy="6.01" r="0.57" fill="#d8d4bc" />
<circle cx="12.75" cy="11.02" r="0.80" fill="#a8a488" />
<circle cx="11.75" cy="7.79" r="0.69" fill="#a8a488" />
<circle cx="9.70" cy="9.35" r="0.84" fill="#a8a488" />
<circle cx="11.69" cy="10.96" r="0.63" fill="#a8a488" />
<circle cx="11.77" cy="8.53" r="0.79" fill="#d8d4bc" />
<circle cx="13.22" cy="4.53" r="0.70" fill="#a8a488" />
<circle cx="11.48" cy="7.75" r="0.74" fill="#d8d4bc" />
<circle cx="13.11" cy="7.53" r="0.78" fill="#a8a488" />
<circle cx="15.12" cy="9.25" r="0.89" fill="#d8d4bc" />
<circle cx="6.18" cy="23.47" r="6.00" fill="#c4c0a2" stroke="#66668c" stroke-width="0.6" />
<circle cx="6.18" cy="23.47" r="5.10" fill="none" stroke="#dedad0" stroke-width="0.4" />
<circle cx="8.90" cy="24.66" r="0.67" fill="#a8a488" />
<circle cx="4.54" cy="21.18" r="0.82" fill="#d8d4bc" />
<circle cx="1.92" cy="23.35" r="0.77" fill="#d8d4bc" />
<circle cx="3.91" cy="23.90" r="0.85" fill="#a8a488" />
<circle cx="6.21" cy="23.69" r="0.67" fill="#a8a488" />
<circle cx="5.76" cy="26.09" r="0.66" fill="#d8d4bc" />
<circle cx="5.16" cy="23.77" r="0.65" fill="#d8d4bc" />
<circle cx="6.76" cy="27.55" r="0.76" fill="#a8a488" />
<circle cx="3.98" cy="23.76" r="0.79" fill="#a8a488" />
<circle cx="6.69" cy="20.70" r="0.80" fill="#d8d4bc" />
<circle cx="6.30" cy="27.60" r="0.65" fill="#d8d4bc" />
<circle cx="8.13" cy="19.60" r="0.90" fill="#a8a488" />
<circle cx="24.72" cy="21.28" r="5.00" fill="#c4c0a2" stroke="#66668c" stroke-width="0.6" />
<circle cx="24.72" cy="21.28" r="4.10" fill="none" stroke="#dedad0" stroke-width="0.4" />
<circle cx="25.09" cy="21.89" r="0.85" fill="#a8a488" />
<circle cx="25.24" cy="21.61" r="0.71" fill="#d8d4bc" />
<circle cx="24.64" cy="19.67" r="0.54" fill="#a8a488" />
<circle cx="24.51" cy="20.59" r="0.63" fill="#a8a488" />
<circle cx="24.50" cy="24.61" r="0.63" fill="#d8d4bc" />
<circle cx="27.90" cy="20.13" r="0.86" fill="#a8a488" />
<circle cx="24.90" cy="23.69" r="0.79" fill="#a8a488" />
<circle cx="26.24" cy="20.68" r="0.67" fill="#d8d4bc" />
<circle cx="23.58" cy="19.24" r="0.75" fill="#a8a488" />
<circle cx="25.99" cy="24.40" r="0.51" fill="#d8d4bc" />
<circle cx="17.00" cy="18.78" r="1.00" fill="#dcdcd2" stroke="#66665a" stroke-width="0.45" />
<circle cx="17.00" cy="18.78" r="0.55" fill="#f2f2ea" />
</g>
</svg>
<line x1="53.70" y1="271.80" x2="66.00" y2="271.80" stroke="#333" stroke-width="1.1" />
<svg x="70.30" y="173.70" width="31.50" height="31.30" overflow="hidden">
<rect x="0.00" y="0.00" width="31.50" height="31.30" fill="#b4b5b0" />
<g filter="url(#orgbg)">
<ellipse cx="0.60" cy="15.69" rx="4.20" ry="7.04" fill="#a8a8a2" opacity="0.7"/>
<ellipse cx="7.57" cy="0.24" rx="6.72" ry="4.47" fill="#bebeb8" opacity="0.7"/>
<ellipse cx="5.99" cy="11.60" rx="4.01" ry="4.83" fill="#a8a8a2" opacity="0.7"/>
<ellipse cx="16.68" cy="1.54" rx="4.94" ry="6.01" fill="#a6a6a0" opacity="0.7"/>
<ellipse cx="7.09" cy="25.11" rx="8.22" ry="8.63" fill="#c2c2bc" opacity="0.7"/>
</g><g filter="url(#orgb)">
<circle cx="9.45" cy="7.83" r="1.60" fill="#dcdcd2" stroke="#66665a" stroke-width="0.45" />
<circle cx="9.45" cy="7.83" r="0.88" fill="#f2f2ea" />
<circle cx="14.18" cy="14.09" r="2.20" fill="#dcdcd2" stroke="#66665a" stroke-width="0.45" />
<circle cx="14.18" cy="14.09" r="1.21" fill="#f2f2ea" />
<circle cx="25.20" cy="15.65" r="2.40" fill="#dcdcd2" stroke="#66665a" stroke-width="0.45" />
<circle cx="25.20" cy="15.65" r="1.32" fill="#f2f2ea" />
<circle cx="17.33" cy="6.26" r="2.40" fill="#dcdcd2" stroke="#66665a" stroke-width="0.45" />
<circle cx="17.33" cy="6.26" r="1.32" fill="#f2f2ea" />
<circle cx="11.02" cy="21.91" r="2.80" fill="#dcdcd2" stroke="#66665a" stroke-width="0.45" />
<circle cx="11.02" cy="21.91" r="1.54" fill="#f2f2ea" />
<circle cx="15.12" cy="2.50" r="1.10" fill="#dcdcd2" stroke="#66665a" stroke-width="0.45" />
<circle cx="15.12" cy="2.50" r="0.61" fill="#f2f2ea" />
</g>
</svg>
<line x1="88.30" y1="203.60" x2="100.60" y2="203.60" stroke="#333" stroke-width="1.1" />
<svg x="70.30" y="207.80" width="31.50" height="31.10" overflow="hidden">
<rect x="0.00" y="0.00" width="31.50" height="31.10" fill="#b6b6b0" />
<g filter="url(#orgbg)">
<ellipse cx="20.75" cy="2.27" rx="6.18" ry="8.16" fill="#a6a6a0" opacity="0.7"/>
<ellipse cx="4.79" cy="15.47" rx="6.63" ry="6.68" fill="#a8a8a2" opacity="0.7"/>
<ellipse cx="14.84" cy="24.88" rx="5.69" ry="5.35" fill="#bebeb8" opacity="0.7"/>
<ellipse cx="9.07" cy="19.90" rx="4.05" ry="8.03" fill="#c2c2bc" opacity="0.7"/>
<ellipse cx="5.87" cy="3.05" rx="8.14" ry="5.80" fill="#bebeb8" opacity="0.7"/>
</g><g filter="url(#orgb)">
<circle cx="3.15" cy="9.33" r="4.20" fill="#bcbcb0" stroke="#5c5c4e" stroke-width="0.55" />
<circle cx="3.15" cy="9.33" r="3.40" fill="none" stroke="#dedad0" stroke-width="0.5" />
<circle cx="3.24" cy="9.37" r="0.75" fill="#a8a490" />
<circle cx="3.41" cy="8.28" r="0.52" fill="#9a9a88" />
<circle cx="4.47" cy="8.71" r="0.70" fill="#a8a490" />
<circle cx="4.05" cy="11.74" r="0.71" fill="#d8d8cc" />
<circle cx="3.42" cy="8.82" r="0.52" fill="#d8d8cc" />
<circle cx="1.81" cy="8.27" r="0.82" fill="#9a9a88" />
<circle cx="17.33" cy="18.66" r="4.00" fill="#bcbcb0" stroke="#5c5c4e" stroke-width="0.55" />
<circle cx="17.33" cy="18.66" r="3.20" fill="none" stroke="#dedad0" stroke-width="0.5" />
<circle cx="17.01" cy="17.47" r="0.58" fill="#d8d8cc" />
<circle cx="18.11" cy="16.53" r="0.84" fill="#9a9a88" />
<circle cx="16.64" cy="17.19" r="0.81" fill="#a8a490" />
<circle cx="19.36" cy="17.33" r="0.70" fill="#d8d8cc" />
<circle cx="19.15" cy="17.89" r="0.51" fill="#d8d8cc" />
<circle cx="17.63" cy="19.25" r="0.51" fill="#d8d8cc" />
<circle cx="25.83" cy="22.39" r="6.50" fill="#bcbcb0" stroke="#5c5c4e" stroke-width="0.55" />
<circle cx="25.83" cy="22.39" r="5.70" fill="none" stroke="#dedad0" stroke-width="0.5" />
<circle cx="25.34" cy="21.75" r="0.97" fill="#a8a490" />
<circle cx="23.77" cy="22.39" r="0.61" fill="#a8a490" />
<circle cx="22.18" cy="21.09" r="0.87" fill="#d8d8cc" />
<circle cx="26.84" cy="21.75" r="0.80" fill="#d8d8cc" />
<circle cx="21.88" cy="21.39" r="0.68" fill="#9a9a88" />
<circle cx="30.38" cy="22.21" r="0.98" fill="#9a9a88" />
<circle cx="29.51" cy="22.02" r="0.87" fill="#9a9a88" />
<circle cx="28.18" cy="21.24" r="0.95" fill="#a8a490" />
<circle cx="25.60" cy="23.16" r="0.83" fill="#a8a490" />
<circle cx="18.90" cy="7.77" r="2.00" fill="#dcdcd2" stroke="#66665a" stroke-width="0.45" />
<circle cx="18.90" cy="7.77" r="1.10" fill="#f2f2ea" />
<circle cx="11.02" cy="24.88" r="2.20" fill="#dcdcd2" stroke="#66665a" stroke-width="0.45" />
<circle cx="11.02" cy="24.88" r="1.21" fill="#f2f2ea" />
</g>
</svg>
<line x1="88.30" y1="237.50" x2="100.60" y2="237.50" stroke="#333" stroke-width="1.1" />
<svg x="70.30" y="241.90" width="31.50" height="31.30" overflow="hidden">
<rect x="0.00" y="0.00" width="31.50" height="31.30" fill="#aaa9a0" />
<g filter="url(#orgbg)">
<ellipse cx="20.19" cy="24.13" rx="7.76" ry="7.25" fill="#bebeb8" opacity="0.7"/>
<ellipse cx="5.81" cy="25.89" rx="5.11" ry="6.39" fill="#c2c2bc" opacity="0.7"/>
<ellipse cx="16.94" cy="14.36" rx="4.18" ry="8.11" fill="#a8a8a2" opacity="0.7"/>
<ellipse cx="25.29" cy="23.05" rx="7.65" ry="8.97" fill="#a8a8a2" opacity="0.7"/>
<ellipse cx="4.48" cy="1.03" rx="7.89" ry="8.33" fill="#bebeb8" opacity="0.7"/>
</g><g filter="url(#orgb)">
<circle cx="17.33" cy="17.21" r="13.50" fill="#b2b2a8" stroke="#888" stroke-width="0.5" />
<circle cx="6.25" cy="11.47" r="0.64" fill="none" stroke="#7a7a70" stroke-width="0.35" />
<circle cx="22.04" cy="12.16" r="1.04" fill="none" stroke="#909088" stroke-width="0.35" />
<circle cx="21.68" cy="18.78" r="1.08" fill="none" stroke="#d0d0c8" stroke-width="0.35" />
<circle cx="15.10" cy="21.05" r="0.89" fill="none" stroke="#d0d0c8" stroke-width="0.35" />
<circle cx="10.26" cy="12.20" r="1.11" fill="none" stroke="#7a7a70" stroke-width="0.35" />
<circle cx="15.12" cy="19.43" r="1.05" fill="none" stroke="#7a7a70" stroke-width="0.35" />
<circle cx="19.56" cy="16.12" r="1.09" fill="none" stroke="#7a7a70" stroke-width="0.35" />
<circle cx="17.24" cy="14.11" r="0.59" fill="none" stroke="#d0d0c8" stroke-width="0.35" />
<circle cx="23.44" cy="21.91" r="0.95" fill="none" stroke="#909088" stroke-width="0.35" />
<circle cx="18.99" cy="23.21" r="1.00" fill="none" stroke="#7a7a70" stroke-width="0.35" />
<circle cx="28.35" cy="19.47" r="1.14" fill="none" stroke="#909088" stroke-width="0.35" />
<circle cx="15.69" cy="19.00" r="0.60" fill="none" stroke="#7a7a70" stroke-width="0.35" />
<circle cx="16.53" cy="27.50" r="0.54" fill="none" stroke="#909088" stroke-width="0.35" />
<circle cx="17.18" cy="17.00" r="1.01" fill="none" stroke="#909088" stroke-width="0.35" />
<circle cx="15.59" cy="11.37" r="0.88" fill="none" stroke="#909088" stroke-width="0.35" />
<circle cx="11.75" cy="22.88" r="0.95" fill="none" stroke="#d0d0c8" stroke-width="0.35" />
<circle cx="20.46" cy="21.14" r="0.81" fill="none" stroke="#909088" stroke-width="0.35" />
<circle cx="11.14" cy="18.94" r="0.66" fill="none" stroke="#7a7a70" stroke-width="0.35" />
<circle cx="25.30" cy="18.22" r="0.82" fill="none" stroke="#7a7a70" stroke-width="0.35" />
<circle cx="19.04" cy="6.07" r="1.02" fill="none" stroke="#d0d0c8" stroke-width="0.35" />
<circle cx="15.27" cy="17.35" r="1.06" fill="none" stroke="#d0d0c8" stroke-width="0.35" />
<circle cx="15.99" cy="13.72" r="1.18" fill="none" stroke="#d0d0c8" stroke-width="0.35" />
<circle cx="18.06" cy="18.96" r="0.94" fill="none" stroke="#7a7a70" stroke-width="0.35" />
<circle cx="17.58" cy="18.59" r="0.87" fill="none" stroke="#7a7a70" stroke-width="0.35" />
<circle cx="16.27" cy="16.11" r="0.59" fill="none" stroke="#909088" stroke-width="0.35" />
<circle cx="15.22" cy="10.82" r="0.56" fill="none" stroke="#7a7a70" stroke-width="0.35" />
<circle cx="18.68" cy="24.19" r="0.67" fill="none" stroke="#d0d0c8" stroke-width="0.35" />
<circle cx="8.26" cy="12.49" r="0.86" fill="none" stroke="#909088" stroke-width="0.35" />
<circle cx="19.23" cy="12.59" r="1.17" fill="none" stroke="#909088" stroke-width="0.35" />
<circle cx="11.20" cy="24.88" r="0.52" fill="none" stroke="#d0d0c8" stroke-width="0.35" />
<circle cx="22.16" cy="18.67" r="1.06" fill="none" stroke="#d0d0c8" stroke-width="0.35" />
<circle cx="22.12" cy="27.75" r="0.56" fill="none" stroke="#d0d0c8" stroke-width="0.35" />
<circle cx="18.78" cy="8.34" r="0.87" fill="none" stroke="#7a7a70" stroke-width="0.35" />
<circle cx="16.20" cy="21.72" r="0.84" fill="none" stroke="#d0d0c8" stroke-width="0.35" />
<circle cx="9.64" cy="23.64" r="0.54" fill="none" stroke="#d0d0c8" stroke-width="0.35" />
<circle cx="12.08" cy="14.13" r="1.07" fill="none" stroke="#7a7a70" stroke-width="0.35" />
<circle cx="17.36" cy="15.35" r="0.72" fill="none" stroke="#7a7a70" stroke-width="0.35" />
<circle cx="16.29" cy="25.62" r="1.13" fill="none" stroke="#7a7a70" stroke-width="0.35" />
<circle cx="9.73" cy="24.91" r="0.80" fill="none" stroke="#909088" stroke-width="0.35" />
<circle cx="26.87" cy="24.74" r="0.65" fill="none" stroke="#d0d0c8" stroke-width="0.35" />
<circle cx="6.30" cy="7.82" r="3.00" fill="#e8e8e4" stroke="#777" stroke-width="0.4" />
</g>
</svg>
<line x1="88.30" y1="271.80" x2="100.60" y2="271.80" stroke="#333" stroke-width="1.1" />
<svg x="105.00" y="173.70" width="31.00" height="31.30" overflow="hidden">
<rect x="0.00" y="0.00" width="31.00" height="31.30" fill="#b7b7b2" />
<g filter="url(#orgbg)">
<ellipse cx="22.50" cy="1.46" rx="7.13" ry="7.04" fill="#a8a8a2" opacity="0.7"/>
<ellipse cx="5.78" cy="28.59" rx="6.13" ry="5.00" fill="#c2c2bc" opacity="0.7"/>
<ellipse cx="6.75" cy="5.18" rx="8.82" ry="4.07" fill="#a6a6a0" opacity="0.7"/>
<ellipse cx="26.36" cy="30.17" rx="5.24" ry="5.77" fill="#a8a8a2" opacity="0.7"/>
<ellipse cx="5.88" cy="21.95" rx="8.49" ry="4.91" fill="#bebeb8" opacity="0.7"/>
</g><g filter="url(#orgb)">
<circle cx="6.20" cy="7.83" r="1.80" fill="#dcdcd2" stroke="#66665a" stroke-width="0.45" />
<circle cx="6.20" cy="7.83" r="0.99" fill="#f2f2ea" />
<circle cx="17.05" cy="17.22" r="2.60" fill="#dcdcd2" stroke="#66665a" stroke-width="0.45" />
<circle cx="17.05" cy="17.22" r="1.43" fill="#f2f2ea" />
<circle cx="13.02" cy="21.28" r="2.40" fill="#dcdcd2" stroke="#66665a" stroke-width="0.45" />
<circle cx="13.02" cy="21.28" r="1.32" fill="#f2f2ea" />
<circle cx="22.32" cy="17.22" r="2.20" fill="#dcdcd2" stroke="#66665a" stroke-width="0.45" />
<circle cx="22.32" cy="17.22" r="1.21" fill="#f2f2ea" />
<circle cx="27.28" cy="9.39" r="1.60" fill="#dcdcd2" stroke="#66665a" stroke-width="0.45" />
<circle cx="27.28" cy="9.39" r="0.88" fill="#f2f2ea" />
<circle cx="18.60" cy="10.96" r="1.40" fill="#dcdcd2" stroke="#66665a" stroke-width="0.45" />
<circle cx="18.60" cy="10.96" r="0.77" fill="#f2f2ea" />
</g>
</svg>
<line x1="122.50" y1="203.60" x2="134.80" y2="203.60" stroke="#333" stroke-width="1.1" />
<svg x="105.00" y="207.80" width="31.00" height="31.10" overflow="hidden">
<rect x="0.00" y="0.00" width="31.00" height="31.10" fill="#b8b8b3" />
<g filter="url(#orgbg)">
<ellipse cx="14.88" cy="10.22" rx="8.46" ry="8.23" fill="#a6a6a0" opacity="0.7"/>
<ellipse cx="8.92" cy="23.33" rx="7.48" ry="7.68" fill="#c2c2bc" opacity="0.7"/>
<ellipse cx="27.25" cy="7.65" rx="8.98" ry="5.64" fill="#a8a8a2" opacity="0.7"/>
<ellipse cx="25.45" cy="24.34" rx="7.61" ry="4.14" fill="#bebeb8" opacity="0.7"/>
<ellipse cx="28.40" cy="6.59" rx="8.92" ry="7.83" fill="#a6a6a0" opacity="0.7"/>
</g><g filter="url(#orgb)">
<circle cx="13.95" cy="10.88" r="3.80" fill="#bcbcb0" stroke="#5c5c4e" stroke-width="0.55" />
<circle cx="13.95" cy="10.88" r="3.00" fill="none" stroke="#dedad0" stroke-width="0.5" />
<circle cx="14.44" cy="8.94" r="0.95" fill="#d8d8cc" />
<circle cx="15.09" cy="10.73" r="0.85" fill="#a8a490" />
<circle cx="14.04" cy="11.26" r="0.95" fill="#d8d8cc" />
<circle cx="13.60" cy="10.30" r="0.56" fill="#d8d8cc" />
<circle cx="15.51" cy="11.38" r="0.88" fill="#9a9a88" />
<circle cx="8.68" cy="18.66" r="2.40" fill="#dcdcd2" stroke="#66665a" stroke-width="0.45" />
<circle cx="8.68" cy="18.66" r="1.32" fill="#f2f2ea" />
<circle cx="24.18" cy="13.99" r="2.40" fill="#dcdcd2" stroke="#66665a" stroke-width="0.45" />
<circle cx="24.18" cy="13.99" r="1.32" fill="#f2f2ea" />
<circle cx="25.42" cy="21.77" r="1.60" fill="#dcdcd2" stroke="#66665a" stroke-width="0.45" />
<circle cx="25.42" cy="21.77" r="0.88" fill="#f2f2ea" />
<circle cx="18.60" cy="25.50" r="0.80" fill="#dcdcd2" stroke="#66665a" stroke-width="0.45" />
<circle cx="18.60" cy="25.50" r="0.44" fill="#f2f2ea" />
</g>
</svg>
<line x1="122.50" y1="237.50" x2="134.80" y2="237.50" stroke="#333" stroke-width="1.1" />
<svg x="105.00" y="241.90" width="31.00" height="31.30" overflow="hidden">
<rect x="0.00" y="0.00" width="31.00" height="31.30" fill="#b8b6ac" />
<g filter="url(#orgbg)">
<ellipse cx="14.08" cy="23.89" rx="4.24" ry="7.18" fill="#c2c2bc" opacity="0.7"/>
<ellipse cx="5.47" cy="18.25" rx="7.26" ry="8.36" fill="#bebeb8" opacity="0.7"/>
<ellipse cx="12.82" cy="12.26" rx="7.64" ry="4.58" fill="#bebeb8" opacity="0.7"/>
<ellipse cx="0.17" cy="12.81" rx="7.96" ry="8.39" fill="#a8a8a2" opacity="0.7"/>
<ellipse cx="19.38" cy="9.79" rx="7.51" ry="8.23" fill="#a6a6a0" opacity="0.7"/>
</g><g filter="url(#orgb)">
<ellipse cx="11.78" cy="12.52" rx="4.00" ry="3.40" fill="#c4bc96" filter="url(#bl1)"/>
<ellipse cx="12.28" cy="12.82" rx="2.00" ry="1.60" fill="#a89a70" filter="url(#bl1)"/>
<ellipse cx="22.32" cy="14.08" rx="5.00" ry="4.25" fill="#c4bc96" filter="url(#bl1)"/>
<ellipse cx="22.82" cy="14.38" rx="2.50" ry="2.00" fill="#a89a70" filter="url(#bl1)"/>
<ellipse cx="17.05" cy="17.21" rx="3.00" ry="2.55" fill="#c4bc96" filter="url(#bl1)"/>
<ellipse cx="17.55" cy="17.51" rx="1.50" ry="1.20" fill="#a89a70" filter="url(#bl1)"/>
<ellipse cx="6.20" cy="27.54" rx="4.00" ry="3.40" fill="#c4bc96" filter="url(#bl1)"/>
<ellipse cx="6.70" cy="27.84" rx="2.00" ry="1.60" fill="#a89a70" filter="url(#bl1)"/>
</g>
</svg>
<line x1="122.50" y1="271.80" x2="134.80" y2="271.80" stroke="#333" stroke-width="1.1" />
<svg x="139.30" y="173.70" width="31.30" height="31.30" overflow="hidden">
<rect x="0.00" y="0.00" width="31.30" height="31.30" fill="#b9b9b4" />
<g filter="url(#orgbg)">
<ellipse cx="16.59" cy="20.39" rx="7.15" ry="5.02" fill="#a6a6a0" opacity="0.7"/>
<ellipse cx="25.62" cy="8.72" rx="7.92" ry="4.02" fill="#bebeb8" opacity="0.7"/>
<ellipse cx="1.35" cy="24.70" rx="7.47" ry="6.52" fill="#c2c2bc" opacity="0.7"/>
<ellipse cx="25.14" cy="5.43" rx="6.87" ry="6.77" fill="#a6a6a0" opacity="0.7"/>
<ellipse cx="26.51" cy="19.46" rx="4.84" ry="7.80" fill="#c2c2bc" opacity="0.7"/>
</g><g filter="url(#orgb)">
<circle cx="7.82" cy="6.26" r="1.50" fill="#dcdcd2" stroke="#66665a" stroke-width="0.45" />
<circle cx="7.82" cy="6.26" r="0.83" fill="#f2f2ea" />
<circle cx="18.78" cy="3.13" r="2.00" fill="#dcdcd2" stroke="#66665a" stroke-width="0.45" />
<circle cx="18.78" cy="3.13" r="1.10" fill="#f2f2ea" />
<circle cx="10.02" cy="17.22" r="2.40" fill="#dcdcd2" stroke="#66665a" stroke-width="0.45" />
<circle cx="10.02" cy="17.22" r="1.32" fill="#f2f2ea" />
<circle cx="18.78" cy="18.78" r="1.80" fill="#dcdcd2" stroke="#66665a" stroke-width="0.45" />
<circle cx="18.78" cy="18.78" r="0.99" fill="#f2f2ea" />
<circle cx="9.39" cy="25.67" r="1.80" fill="#dcdcd2" stroke="#66665a" stroke-width="0.45" />
<circle cx="9.39" cy="25.67" r="0.99" fill="#f2f2ea" />
<circle cx="23.47" cy="12.52" r="1.40" fill="#dcdcd2" stroke="#66665a" stroke-width="0.45" />
<circle cx="23.47" cy="12.52" r="0.77" fill="#f2f2ea" />
</g>
</svg>
<line x1="157.10" y1="203.60" x2="169.40" y2="203.60" stroke="#333" stroke-width="1.1" />
<svg x="139.30" y="207.80" width="31.30" height="31.10" overflow="hidden">
<rect x="0.00" y="0.00" width="31.30" height="31.10" fill="#babab5" />
<g filter="url(#orgbg)">
<ellipse cx="5.44" cy="22.76" rx="6.06" ry="5.63" fill="#a8a8a2" opacity="0.7"/>
<ellipse cx="12.02" cy="24.72" rx="5.48" ry="8.64" fill="#c2c2bc" opacity="0.7"/>
<ellipse cx="7.64" cy="9.99" rx="5.52" ry="6.17" fill="#a6a6a0" opacity="0.7"/>
<ellipse cx="31.17" cy="2.60" rx="8.82" ry="8.59" fill="#a8a8a2" opacity="0.7"/>
<ellipse cx="22.28" cy="29.04" rx="4.92" ry="7.60" fill="#a8a8a2" opacity="0.7"/>
</g><g filter="url(#orgb)">
<circle cx="14.08" cy="10.88" r="2.20" fill="#dcdcd2" stroke="#66665a" stroke-width="0.45" />
<circle cx="14.08" cy="10.88" r="1.21" fill="#f2f2ea" />
<circle cx="27.54" cy="8.71" r="2.60" fill="#dcdcd2" stroke="#66665a" stroke-width="0.45" />
<circle cx="27.54" cy="8.71" r="1.43" fill="#f2f2ea" />
<circle cx="21.91" cy="25.50" r="2.20" fill="#dcdcd2" stroke="#66665a" stroke-width="0.45" />
<circle cx="21.91" cy="25.50" r="1.21" fill="#f2f2ea" />
<circle cx="4.69" cy="18.66" r="1.20" fill="#dcdcd2" stroke="#66665a" stroke-width="0.45" />
<circle cx="4.69" cy="18.66" r="0.66" fill="#f2f2ea" />
<circle cx="7.82" cy="4.66" r="1.00" fill="#dcdcd2" stroke="#66665a" stroke-width="0.45" />
<circle cx="7.82" cy="4.66" r="0.55" fill="#f2f2ea" />
</g>
</svg>
<line x1="157.10" y1="237.50" x2="169.40" y2="237.50" stroke="#333" stroke-width="1.1" />
<svg x="139.30" y="241.90" width="31.30" height="31.30" overflow="hidden">
<rect x="0.00" y="0.00" width="31.30" height="31.30" fill="#b6b6ae" />
<g filter="url(#orgbg)">
<ellipse cx="30.73" cy="27.56" rx="8.56" ry="4.42" fill="#a8a8a2" opacity="0.7"/>
<ellipse cx="28.31" cy="29.20" rx="8.09" ry="8.55" fill="#c2c2bc" opacity="0.7"/>
<ellipse cx="22.62" cy="0.97" rx="5.55" ry="4.71" fill="#c2c2bc" opacity="0.7"/>
<ellipse cx="19.72" cy="1.96" rx="8.75" ry="8.83" fill="#a8a8a2" opacity="0.7"/>
<ellipse cx="2.82" cy="12.75" rx="8.92" ry="8.32" fill="#a8a8a2" opacity="0.7"/>
</g><g filter="url(#orgb)">
<circle cx="13.15" cy="6.89" r="4.00" fill="#c2c0a8" stroke="#8a8a72" stroke-width="0.45" />
<circle cx="12.85" cy="6.59" r="2.00" fill="#d0ceb8" />
<circle cx="21.28" cy="21.91" r="3.50" fill="#c2c0a8" stroke="#8a8a72" stroke-width="0.45" />
<circle cx="20.98" cy="21.61" r="1.75" fill="#d0ceb8" />
<circle cx="7.82" cy="26.60" r="3.50" fill="#c2c0a8" stroke="#8a8a72" stroke-width="0.45" />
<circle cx="7.52" cy="26.30" r="1.75" fill="#d0ceb8" />
<circle cx="23.47" cy="26.60" r="2.50" fill="#c2c0a8" stroke="#8a8a72" stroke-width="0.45" />
<circle cx="23.17" cy="26.30" r="1.25" fill="#d0ceb8" />
</g>
</svg>
<line x1="157.10" y1="271.80" x2="169.40" y2="271.80" stroke="#333" stroke-width="1.1" />
<text font-size="12.4" font-weight="bold" fill="#000" transform="translate(182.70 149.90)" >F</text>
<text font-size="8.2" text-anchor="middle" transform="translate(257.60 174.70) translate(0 0.3) scale(1 1.15)" >Organoid #GC36</text>
<line x1="214.70" y1="178.50" x2="214.70" y2="260.30" stroke="#1a1a1a" stroke-width="0.9" />
<line x1="214.70" y1="260.30" x2="300.30" y2="260.30" stroke="#1a1a1a" stroke-width="0.9" />
<line x1="212.70" y1="256.60" x2="214.70" y2="256.60" stroke="#1a1a1a" stroke-width="0.8" />
<text font-size="7.8" text-anchor="end" transform="translate(212.40 259.40) translate(0 0.3) scale(1 1.15)" >0</text>
<line x1="212.70" y1="236.14" x2="214.70" y2="236.14" stroke="#1a1a1a" stroke-width="0.8" />
<text font-size="7.8" text-anchor="end" transform="translate(212.40 238.94) translate(0 0.3) scale(1 1.15)" >50</text>
<line x1="212.70" y1="215.67" x2="214.70" y2="215.67" stroke="#1a1a1a" stroke-width="0.8" />
<text font-size="7.8" text-anchor="end" transform="translate(212.40 218.47) translate(0 0.3) scale(1 1.15)" >100</text>
<line x1="212.70" y1="195.21" x2="214.70" y2="195.21" stroke="#1a1a1a" stroke-width="0.8" />
<text font-size="7.8" text-anchor="end" transform="translate(212.40 198.01) translate(0 0.3) scale(1 1.15)" >150</text>
<line x1="220.90" y1="260.30" x2="220.90" y2="262.30" stroke="#1a1a1a" stroke-width="0.8" />
<text font-size="7.8" text-anchor="middle" transform="translate(220.90 268.80) translate(0 0.3) scale(1 1.15)" >0</text>
<line x1="257.84" y1="260.30" x2="257.84" y2="262.30" stroke="#1a1a1a" stroke-width="0.8" />
<text font-size="7.8" text-anchor="middle" transform="translate(257.84 268.80) translate(0 0.3) scale(1 1.15)" >2</text>
<line x1="294.78" y1="260.30" x2="294.78" y2="262.30" stroke="#1a1a1a" stroke-width="0.8" />
<text font-size="7.8" text-anchor="middle" transform="translate(294.78 268.80) translate(0 0.3) scale(1 1.15)" >4</text>
<text font-size="8.0" text-anchor="middle" transform="translate(258.00 277.20) translate(0 0.3) scale(1 1.15)" >Time (days)</text>
<text font-size="8.0" text-anchor="middle" transform="translate(196.50 220.00) rotate(-90) translate(0 0.3) scale(1 1.15)" >Organoid diameter (µm)</text>
<polyline points="220.90,242.27 257.84,237.36 294.78,227.13" fill="none" stroke="#f8b4b4" stroke-width="1.1" />
<line x1="220.90" y1="243.09" x2="220.90" y2="241.46" stroke="#f8b4b4" stroke-width="1.0" />
<line x1="219.10" y1="243.09" x2="222.70" y2="243.09" stroke="#f8b4b4" stroke-width="1.0" />
<line x1="219.10" y1="241.46" x2="222.70" y2="241.46" stroke="#f8b4b4" stroke-width="1.0" />
<polygon points="219.10,242.27 220.90,240.47 222.70,242.27 220.90,244.07" fill="#f8b4b4" />
<line x1="257.84" y1="239.00" x2="257.84" y2="235.73" stroke="#f8b4b4" stroke-width="1.0" />
<line x1="256.04" y1="239.00" x2="259.64" y2="239.00" stroke="#f8b4b4" stroke-width="1.0" />
<line x1="256.04" y1="235.73" x2="259.64" y2="235.73" stroke="#f8b4b4" stroke-width="1.0" />
<polygon points="256.04,237.36 257.84,235.56 259.64,237.36 257.84,239.16" fill="#f8b4b4" />
<line x1="294.78" y1="232.04" x2="294.78" y2="222.22" stroke="#f8b4b4" stroke-width="1.0" />
<line x1="292.98" y1="232.04" x2="296.58" y2="232.04" stroke="#f8b4b4" stroke-width="1.0" />
<line x1="292.98" y1="222.22" x2="296.58" y2="222.22" stroke="#f8b4b4" stroke-width="1.0" />
<polygon points="292.98,227.13 294.78,225.33 296.58,227.13 294.78,228.93" fill="#f8b4b4" />
<polyline points="220.90,243.09 257.84,236.14 294.78,229.18" fill="none" stroke="#ee6262" stroke-width="1.1" />
<line x1="220.90" y1="243.91" x2="220.90" y2="242.27" stroke="#ee6262" stroke-width="1.0" />
<line x1="219.10" y1="243.91" x2="222.70" y2="243.91" stroke="#ee6262" stroke-width="1.0" />
<line x1="219.10" y1="242.27" x2="222.70" y2="242.27" stroke="#ee6262" stroke-width="1.0" />
<polygon points="219.10,243.09 220.90,241.29 222.70,243.09 220.90,244.89" fill="#ee6262" />
<line x1="257.84" y1="237.36" x2="257.84" y2="234.91" stroke="#ee6262" stroke-width="1.0" />
<line x1="256.04" y1="237.36" x2="259.64" y2="237.36" stroke="#ee6262" stroke-width="1.0" />
<line x1="256.04" y1="234.91" x2="259.64" y2="234.91" stroke="#ee6262" stroke-width="1.0" />
<polygon points="256.04,236.14 257.84,234.34 259.64,236.14 257.84,237.94" fill="#ee6262" />
<line x1="294.78" y1="230.81" x2="294.78" y2="227.54" stroke="#ee6262" stroke-width="1.0" />
<line x1="292.98" y1="230.81" x2="296.58" y2="230.81" stroke="#ee6262" stroke-width="1.0" />
<line x1="292.98" y1="227.54" x2="296.58" y2="227.54" stroke="#ee6262" stroke-width="1.0" />
<polygon points="292.98,229.18 294.78,227.38 296.58,229.18 294.78,230.98" fill="#ee6262" />
<polyline points="220.90,241.87 257.84,220.17 294.78,202.16" fill="none" stroke="#5db5ee" stroke-width="1.1" />
<line x1="220.90" y1="242.68" x2="220.90" y2="241.05" stroke="#5db5ee" stroke-width="1.0" />
<line x1="219.10" y1="242.68" x2="222.70" y2="242.68" stroke="#5db5ee" stroke-width="1.0" />
<line x1="219.10" y1="241.05" x2="222.70" y2="241.05" stroke="#5db5ee" stroke-width="1.0" />
<polygon points="219.10,241.87 220.90,240.07 222.70,241.87 220.90,243.67" fill="#5db5ee" />
<line x1="257.84" y1="222.22" x2="257.84" y2="218.13" stroke="#5db5ee" stroke-width="1.0" />
<line x1="256.04" y1="222.22" x2="259.64" y2="222.22" stroke="#5db5ee" stroke-width="1.0" />
<line x1="256.04" y1="218.13" x2="259.64" y2="218.13" stroke="#5db5ee" stroke-width="1.0" />
<polygon points="256.04,220.17 257.84,218.37 259.64,220.17 257.84,221.97" fill="#5db5ee" />
<line x1="294.78" y1="209.94" x2="294.78" y2="194.39" stroke="#5db5ee" stroke-width="1.0" />
<line x1="292.98" y1="209.94" x2="296.58" y2="209.94" stroke="#5db5ee" stroke-width="1.0" />
<line x1="292.98" y1="194.39" x2="296.58" y2="194.39" stroke="#5db5ee" stroke-width="1.0" />
<polygon points="292.98,202.16 294.78,200.36 296.58,202.16 294.78,203.96" fill="#5db5ee" />
<polyline points="220.90,244.32 257.84,228.77 294.78,215.26" fill="none" stroke="#2b5a98" stroke-width="1.1" />
<line x1="220.90" y1="245.14" x2="220.90" y2="243.50" stroke="#2b5a98" stroke-width="1.0" />
<line x1="219.10" y1="245.14" x2="222.70" y2="245.14" stroke="#2b5a98" stroke-width="1.0" />
<line x1="219.10" y1="243.50" x2="222.70" y2="243.50" stroke="#2b5a98" stroke-width="1.0" />
<polygon points="219.10,244.32 220.90,242.52 222.70,244.32 220.90,246.12" fill="#2b5a98" />
<line x1="257.84" y1="231.22" x2="257.84" y2="226.31" stroke="#2b5a98" stroke-width="1.0" />
<line x1="256.04" y1="231.22" x2="259.64" y2="231.22" stroke="#2b5a98" stroke-width="1.0" />
<line x1="256.04" y1="226.31" x2="259.64" y2="226.31" stroke="#2b5a98" stroke-width="1.0" />
<polygon points="256.04,228.77 257.84,226.97 259.64,228.77 257.84,230.57" fill="#2b5a98" />
<line x1="294.78" y1="217.72" x2="294.78" y2="212.80" stroke="#2b5a98" stroke-width="1.0" />
<line x1="292.98" y1="217.72" x2="296.58" y2="217.72" stroke="#2b5a98" stroke-width="1.0" />
<line x1="292.98" y1="212.80" x2="296.58" y2="212.80" stroke="#2b5a98" stroke-width="1.0" />
<polygon points="292.98,215.26 294.78,213.46 296.58,215.26 294.78,217.06" fill="#2b5a98" />
<line x1="219.80" y1="183.90" x2="225.40" y2="183.90" stroke="#2b5a98" stroke-width="1.1" />
<polygon points="220.80,183.90 222.60,182.10 224.40,183.90 222.60,185.70" fill="#2b5a98" />
<text font-size="7.8" transform="translate(227.60 186.70) translate(0 0.3) scale(1 1.15)" >Veh</text>
<line x1="219.80" y1="191.35" x2="225.40" y2="191.35" stroke="#5db5ee" stroke-width="1.1" />
<polygon points="220.80,191.35 222.60,189.55 224.40,191.35 222.60,193.15" fill="#5db5ee" />
<text font-size="7.8" transform="translate(227.60 194.15) translate(0 0.3) scale(1 1.15)" >Gal</text>
<line x1="219.80" y1="198.80" x2="225.40" y2="198.80" stroke="#ee6262" stroke-width="1.1" />
<polygon points="220.80,198.80 222.60,197.00 224.40,198.80 222.60,200.60" fill="#ee6262" />
<text font-size="7.8" transform="translate(227.60 201.60) translate(0 0.3) scale(1 1.15)" >Dev</text>
<line x1="219.80" y1="206.25" x2="225.40" y2="206.25" stroke="#f8b4b4" stroke-width="1.1" />
<polygon points="220.80,206.25 222.60,204.45 224.40,206.25 222.60,208.05" fill="#f8b4b4" />
<text font-size="7.8" transform="translate(227.60 209.05) translate(0 0.3) scale(1 1.15)" >Gal&amp;Dev</text>
<line x1="300.60" y1="201.30" x2="300.60" y2="214.30" stroke="#1a1a1a" stroke-width="0.7" />
<line x1="299.00" y1="201.30" x2="300.60" y2="201.30" stroke="#1a1a1a" stroke-width="0.7" />
<line x1="299.00" y1="214.30" x2="300.60" y2="214.30" stroke="#1a1a1a" stroke-width="0.7" />
<text font-size="6.6" text-anchor="middle" transform="translate(303.02 208.00) rotate(90) translate(0 0.3) scale(1 1.15)" textLength="29.7" lengthAdjust="spacingAndGlyphs">P = 0.0247</text>
<line x1="309.70" y1="214.80" x2="309.70" y2="226.70" stroke="#1a1a1a" stroke-width="0.7" />
<line x1="308.10" y1="214.80" x2="309.70" y2="214.80" stroke="#1a1a1a" stroke-width="0.7" />
<line x1="308.10" y1="226.70" x2="309.70" y2="226.70" stroke="#1a1a1a" stroke-width="0.7" />
<text font-size="6.6" text-anchor="middle" transform="translate(311.12 221.00) rotate(90) translate(0 0.3) scale(1 1.15)" textLength="30.7" lengthAdjust="spacingAndGlyphs">P = 0.0406</text>
<line x1="317.80" y1="214.30" x2="317.80" y2="229.10" stroke="#1a1a1a" stroke-width="0.7" />
<line x1="316.20" y1="214.30" x2="317.80" y2="214.30" stroke="#1a1a1a" stroke-width="0.7" />
<line x1="316.20" y1="229.10" x2="317.80" y2="229.10" stroke="#1a1a1a" stroke-width="0.7" />
<text font-size="6.6" text-anchor="middle" transform="translate(319.72 222.50) rotate(90) translate(0 0.3) scale(1 1.15)" textLength="29.7" lengthAdjust="spacingAndGlyphs">P = 0.0161</text>
<line x1="326.50" y1="203.20" x2="326.50" y2="226.30" stroke="#1a1a1a" stroke-width="0.7" />
<line x1="324.90" y1="203.20" x2="326.50" y2="203.20" stroke="#1a1a1a" stroke-width="0.7" />
<line x1="324.90" y1="226.30" x2="326.50" y2="226.30" stroke="#1a1a1a" stroke-width="0.7" />
<text font-size="6.6" text-anchor="middle" transform="translate(328.92 215.00) rotate(90) translate(0 0.3) scale(1 1.15)" textLength="30.2" lengthAdjust="spacingAndGlyphs">P = 0.0005</text>
<text font-size="12.4" font-weight="bold" fill="#000" transform="translate(341.20 149.90)" >G</text>
<text font-size="6.9" text-anchor="middle" transform="translate(369.60 168.50) translate(0 0.3) scale(1 1.15)" >HGC27</text>
<text font-size="7.0" text-anchor="middle" transform="translate(367.30 201.50) translate(0 0.3) scale(1 1.15)" >BALB/c-nu</text>
<path d="M 356 183 Q 353 177 357 174.5 Q 360 171 366 171.5 Q 374 172.5 375.5 179 Q 376.5 185 371 186.5 L 360 186.5 Q 356.5 186 356 183 Z" fill="#f3c3c7" stroke="#333" stroke-width="0.6" />
<circle cx="359.60" cy="173.80" r="2.30" fill="#f3c3c7" stroke="#333" stroke-width="0.5" />
<circle cx="363.70" cy="172.60" r="2.30" fill="#f3c3c7" stroke="#333" stroke-width="0.5" />
<circle cx="358.50" cy="178.50" r="0.50" fill="#333" />
<path d="M 372 186 Q 377 186.5 376.5 189 Q 374 191 368.5 188.7" fill="none" stroke="#333" stroke-width="0.7" />
<line x1="368.40" y1="182.00" x2="375.00" y2="172.00" stroke="#555" stroke-width="1.6" />
<line x1="368.60" y1="181.70" x2="374.80" y2="172.30" stroke="#c8a030" stroke-width="0.6" />
<line x1="375.00" y1="172.00" x2="376.60" y2="170.50" stroke="#333" stroke-width="0.6" />
<line x1="384.70" y1="183.50" x2="441.40" y2="183.50" stroke="#1a1a1a" stroke-width="0.8" />
<line x1="384.70" y1="183.50" x2="384.70" y2="185.50" stroke="#1a1a1a" stroke-width="0.8" />
<text font-size="7.0" text-anchor="middle" transform="translate(384.70 193.80) translate(0 0.3) scale(1 1.15)" >0</text>
<line x1="394.15" y1="183.50" x2="394.15" y2="185.50" stroke="#1a1a1a" stroke-width="0.8" />
<text font-size="7.0" text-anchor="middle" transform="translate(394.15 193.80) translate(0 0.3) scale(1 1.15)" >5</text>
<line x1="403.60" y1="183.50" x2="403.60" y2="185.50" stroke="#1a1a1a" stroke-width="0.8" />
<text font-size="7.0" text-anchor="middle" transform="translate(403.60 193.80) translate(0 0.3) scale(1 1.15)" >10</text>
<line x1="413.05" y1="183.50" x2="413.05" y2="185.50" stroke="#1a1a1a" stroke-width="0.8" />
<text font-size="7.0" text-anchor="middle" transform="translate(413.05 193.80) translate(0 0.3) scale(1 1.15)" >15</text>
<line x1="422.50" y1="183.50" x2="422.50" y2="185.50" stroke="#1a1a1a" stroke-width="0.8" />
<text font-size="7.0" text-anchor="middle" transform="translate(422.50 193.80) translate(0 0.3) scale(1 1.15)" >20</text>
<line x1="431.95" y1="183.50" x2="431.95" y2="185.50" stroke="#1a1a1a" stroke-width="0.8" />
<text font-size="7.0" text-anchor="middle" transform="translate(431.95 193.80) translate(0 0.3) scale(1 1.15)" >25</text>
<line x1="441.40" y1="183.50" x2="441.40" y2="185.50" stroke="#1a1a1a" stroke-width="0.8" />
<text font-size="7.0" text-anchor="middle" transform="translate(441.40 193.80) translate(0 0.3) scale(1 1.15)" >30</text>
<circle cx="385.10" cy="179.60" r="1.20" fill="#d8b070" stroke="#333" stroke-width="0.4" />
<text font-size="7.1" text-anchor="middle" transform="translate(421.80 201.50) translate(0 0.3) scale(1 1.15)" >Days</text>
<defs><linearGradient id="gab" x1="0" y1="0" x2="0" y2="1"><stop offset="0" stop-color="#2a4c9c"/><stop offset="1" stop-color="#c8d4ee"/></linearGradient><linearGradient id="gar" x1="0" y1="0" x2="0" y2="1"><stop offset="0" stop-color="#f4c4c4"/><stop offset="1" stop-color="#c62828"/></linearGradient></defs>
<rect x="390.90" y="164.60" width="1.00" height="5.00" fill="#2a4c9c" />
<polygon points="389.50,168.80 393.30,168.80 391.40,173.30" fill="#2a4c9c" />
<rect x="390.90" y="173.80" width="1.00" height="5.00" fill="url(#gar)" />
<polygon points="389.50,178.00 393.30,178.00 391.40,182.50" fill="#c62828" />
<rect x="396.53" y="164.60" width="1.00" height="5.00" fill="#2a4c9c" />
<polygon points="395.13,168.80 398.93,168.80 397.03,173.30" fill="#2a4c9c" />
<rect x="396.53" y="173.80" width="1.00" height="5.00" fill="url(#gar)" />
<polygon points="395.13,178.00 398.93,178.00 397.03,182.50" fill="#c62828" />
<rect x="402.16" y="164.60" width="1.00" height="5.00" fill="#2a4c9c" />
<polygon points="400.76,168.80 404.56,168.80 402.66,173.30" fill="#2a4c9c" />
<rect x="402.16" y="173.80" width="1.00" height="5.00" fill="url(#gar)" />
<polygon points="400.76,178.00 404.56,178.00 402.66,182.50" fill="#c62828" />
<rect x="407.79" y="164.60" width="1.00" height="5.00" fill="#2a4c9c" />
<polygon points="406.39,168.80 410.19,168.80 408.29,173.30" fill="#2a4c9c" />
<rect x="407.79" y="173.80" width="1.00" height="5.00" fill="url(#gar)" />
<polygon points="406.39,178.00 410.19,178.00 408.29,182.50" fill="#c62828" />
<rect x="413.42" y="164.60" width="1.00" height="5.00" fill="#2a4c9c" />
<polygon points="412.02,168.80 415.82,168.80 413.92,173.30" fill="#2a4c9c" />
<rect x="413.42" y="173.80" width="1.00" height="5.00" fill="url(#gar)" />
<polygon points="412.02,178.00 415.82,178.00 413.92,182.50" fill="#c62828" />
<rect x="419.05" y="164.60" width="1.00" height="5.00" fill="#2a4c9c" />
<polygon points="417.65,168.80 421.45,168.80 419.55,173.30" fill="#2a4c9c" />
<rect x="419.05" y="173.80" width="1.00" height="5.00" fill="url(#gar)" />
<polygon points="417.65,178.00 421.45,178.00 419.55,182.50" fill="#c62828" />
<rect x="424.68" y="164.60" width="1.00" height="5.00" fill="#2a4c9c" />
<polygon points="423.28,168.80 427.08,168.80 425.18,173.30" fill="#2a4c9c" />
<rect x="424.68" y="173.80" width="1.00" height="5.00" fill="url(#gar)" />
<polygon points="423.28,178.00 427.08,178.00 425.18,182.50" fill="#c62828" />
<rect x="430.31" y="164.60" width="1.00" height="5.00" fill="#2a4c9c" />
<polygon points="428.91,168.80 432.71,168.80 430.81,173.30" fill="#2a4c9c" />
<rect x="430.31" y="173.80" width="1.00" height="5.00" fill="url(#gar)" />
<polygon points="428.91,178.00 432.71,178.00 430.81,182.50" fill="#c62828" />
<text font-size="7.0" text-anchor="middle" transform="translate(475.50 172.40) translate(0 0.3) scale(1 1.15)" >Galunisertib (75 mg/kg)</text>
<text font-size="7.0" text-anchor="middle" transform="translate(475.60 180.50) translate(0 0.3) scale(1 1.15)" >Devimistat (25 mg/kg)</text>
<text font-size="7.0" text-anchor="middle" transform="translate(475.30 188.80) translate(0 0.3) scale(1 1.15)" >q3d i.p.</text>
<text font-size="8.2" text-anchor="middle" transform="translate(462.10 207.00) translate(0 0.3) scale(1 1.15)" >HGC27</text>
<line x1="424.10" y1="210.30" x2="502.90" y2="210.30" stroke="#444" stroke-width="1.0" />
<rect x="424.10" y="211.50" width="78.80" height="57.10" fill="#e6eaec" />
<linearGradient id="rul" x1="0" x2="1"><stop offset="0" stop-color="#b0b0b0"/><stop offset="0.6" stop-color="#777"/><stop offset="1" stop-color="#333"/></linearGradient>
<rect x="424.10" y="266.60" width="78.80" height="2.00" fill="url(#rul)" />
<line x1="489.30" y1="269.60" x2="502.90" y2="269.60" stroke="#444" stroke-width="1.3" />
<text font-size="7.0" text-anchor="end" transform="translate(502.90 277.40) translate(0 0.3) scale(1 1.15)" >1 cm</text>
<text font-size="8.3" text-anchor="end" transform="translate(422.20 223.60) translate(0 0.3) scale(1 1.15)" >Veh</text>
<text font-size="8.3" text-anchor="end" transform="translate(422.20 236.80) translate(0 0.3) scale(1 1.15)" >Gal</text>
<text font-size="8.3" text-anchor="end" transform="translate(422.20 250.20) translate(0 0.3) scale(1 1.15)" >Dev</text>
<text font-size="8.3" text-anchor="end" transform="translate(422.20 263.30) translate(0 0.3) scale(1 1.15)" >Gal&amp;Dev</text>
<g filter="url(#orgb)">
<path d="M 430.52 223.17 Q 429.61 221.57 430.02 219.94 Q 430.43 218.32 431.44 216.67 Q 432.44 215.02 434.41 215.59 Q 436.39 216.16 438.11 216.84 Q 439.83 217.51 440.65 219.29 Q 441.47 221.08 439.95 222.39 Q 438.44 223.70 436.89 224.72 Q 435.35 225.73 433.39 225.25 Q 431.43 224.77 430.52 223.17 Z" fill="#eaac96" />
<path d="M 431.61 218.38 Q 432.85 218.08 433.89 218.29 Q 434.92 218.49 435.24 219.29 Q 435.56 220.10 435.22 220.99 Q 434.89 221.88 433.56 222.27 Q 432.23 222.67 431.33 221.77 Q 430.43 220.88 430.40 219.78 Q 430.37 218.68 431.61 218.38 Z" fill="#f4c8ac" />
<path d="M 437.48 223.27 Q 436.71 224.03 435.13 223.78 Q 433.56 223.53 433.03 222.57 Q 432.50 221.61 433.20 220.69 Q 433.91 219.77 435.44 219.85 Q 436.97 219.93 437.90 220.49 Q 438.83 221.06 438.55 221.79 Q 438.26 222.51 437.48 223.27 Z" fill="#e28a78" />
<path d="M 438.70 218.04 Q 438.79 219.18 438.36 220.24 Q 437.94 221.30 436.84 220.96 Q 435.74 220.62 434.88 220.10 Q 434.01 219.58 434.42 218.67 Q 434.82 217.77 435.54 217.08 Q 436.27 216.39 437.43 216.65 Q 438.60 216.91 438.70 218.04 Z" fill="#f2c0a4" />
<ellipse cx="434.18" cy="219.40" rx="1.65" ry="1.25" fill="#f8dcc8" opacity="0.9"/>
<ellipse cx="436.73" cy="220.73" rx="1.38" ry="1.00" fill="#d8685e" opacity="0.7"/>
<path d="M 449.89 216.91 Q 451.51 217.79 451.91 219.57 Q 452.32 221.35 451.28 222.92 Q 450.24 224.48 448.36 224.81 Q 446.48 225.14 444.89 224.50 Q 443.29 223.86 442.33 222.53 Q 441.37 221.21 441.23 219.37 Q 441.09 217.54 442.75 216.34 Q 444.42 215.14 446.34 215.59 Q 448.27 216.03 449.89 216.91 Z" fill="#eaac96" />
<path d="M 446.80 219.80 Q 447.24 218.93 448.23 219.01 Q 449.21 219.09 449.79 219.90 Q 450.37 220.71 450.07 221.64 Q 449.77 222.56 448.96 222.67 Q 448.15 222.77 447.24 222.71 Q 446.32 222.66 446.34 221.67 Q 446.37 220.67 446.80 219.80 Z" fill="#f2c0a4" />
<path d="M 442.79 221.05 Q 442.19 220.02 442.87 218.90 Q 443.56 217.78 444.99 217.54 Q 446.43 217.31 446.94 218.52 Q 447.45 219.72 447.78 220.99 Q 448.11 222.27 446.77 222.65 Q 445.44 223.03 444.41 222.55 Q 443.38 222.07 442.79 221.05 Z" fill="#f2c0a4" />
<path d="M 448.23 222.84 Q 447.48 223.00 447.10 222.04 Q 446.73 221.08 446.84 219.99 Q 446.94 218.90 447.70 218.53 Q 448.45 218.15 449.04 218.77 Q 449.62 219.38 450.00 220.41 Q 450.37 221.44 449.68 222.06 Q 448.99 222.69 448.23 222.84 Z" fill="#e28a78" />
<ellipse cx="445.68" cy="219.40" rx="1.65" ry="1.25" fill="#f8dcc8" opacity="0.9"/>
<ellipse cx="447.74" cy="222.42" rx="1.38" ry="1.00" fill="#d8685e" opacity="0.7"/>
<path d="M 454.49 222.29 Q 453.96 220.50 454.79 218.99 Q 455.62 217.49 456.82 216.28 Q 458.03 215.08 459.63 215.59 Q 461.23 216.10 462.13 217.42 Q 463.03 218.75 463.58 220.51 Q 464.13 222.28 462.75 223.43 Q 461.36 224.58 459.83 224.88 Q 458.29 225.18 456.66 224.63 Q 455.03 224.09 454.49 222.29 Z" fill="#eaac96" />
<path d="M 459.05 222.68 Q 458.51 223.05 457.66 222.97 Q 456.81 222.89 456.99 221.62 Q 457.17 220.34 457.46 219.13 Q 457.76 217.92 458.70 217.98 Q 459.65 218.03 460.04 219.26 Q 460.42 220.49 460.00 221.40 Q 459.59 222.32 459.05 222.68 Z" fill="#e28a78" />
<path d="M 458.67 220.07 Q 459.35 219.92 459.98 220.34 Q 460.60 220.76 460.46 221.44 Q 460.31 222.12 459.75 222.78 Q 459.18 223.43 458.28 223.09 Q 457.38 222.76 457.26 222.00 Q 457.14 221.24 457.56 220.73 Q 457.98 220.22 458.67 220.07 Z" fill="#f4c8ac" />
<path d="M 459.58 219.67 Q 460.39 219.92 460.94 220.72 Q 461.50 221.52 460.82 222.38 Q 460.14 223.23 458.92 223.33 Q 457.69 223.42 457.10 222.53 Q 456.50 221.64 456.89 220.85 Q 457.28 220.07 458.03 219.75 Q 458.77 219.43 459.58 219.67 Z" fill="#f2c0a4" />
<ellipse cx="458.32" cy="219.44" rx="1.35" ry="1.20" fill="#f8dcc8" opacity="0.9"/>
<ellipse cx="459.47" cy="220.60" rx="1.12" ry="0.96" fill="#d8685e" opacity="0.7"/>
<path d="M 470.52 215.63 Q 472.16 215.89 473.26 216.80 Q 474.35 217.71 474.90 219.08 Q 475.45 220.46 475.11 222.05 Q 474.77 223.64 473.46 224.55 Q 472.14 225.47 470.66 225.02 Q 469.18 224.58 468.38 223.23 Q 467.58 221.89 467.39 220.26 Q 467.20 218.63 468.04 217.00 Q 468.88 215.38 470.52 215.63 Z" fill="#eaac96" />
<path d="M 472.09 219.47 Q 472.71 219.99 472.87 221.22 Q 473.03 222.45 472.63 223.47 Q 472.22 224.48 471.49 224.76 Q 470.75 225.04 470.55 223.74 Q 470.34 222.44 470.27 221.24 Q 470.19 220.03 470.83 219.49 Q 471.46 218.95 472.09 219.47 Z" fill="#eeb298" />
<path d="M 468.98 220.23 Q 468.80 219.55 468.79 218.71 Q 468.78 217.87 469.59 217.68 Q 470.40 217.50 471.03 218.01 Q 471.67 218.53 471.46 219.27 Q 471.26 220.00 470.87 220.49 Q 470.48 220.98 469.82 220.95 Q 469.15 220.91 468.98 220.23 Z" fill="#eeb298" />
<path d="M 474.38 220.60 Q 474.60 221.81 473.98 222.79 Q 473.37 223.77 472.35 223.81 Q 471.34 223.85 470.84 222.80 Q 470.35 221.75 470.69 220.79 Q 471.04 219.83 471.71 219.35 Q 472.38 218.86 473.27 219.12 Q 474.17 219.38 474.38 220.60 Z" fill="#f2c0a4" />
<ellipse cx="470.75" cy="219.44" rx="1.29" ry="1.20" fill="#f8dcc8" opacity="0.9"/>
<ellipse cx="469.78" cy="221.90" rx="1.07" ry="0.96" fill="#d8685e" opacity="0.7"/>
<path d="M 479.76 220.66 Q 479.61 218.80 480.44 217.12 Q 481.27 215.44 482.82 215.53 Q 484.36 215.63 485.56 216.36 Q 486.76 217.10 487.45 218.60 Q 488.15 220.11 487.81 221.90 Q 487.47 223.70 486.19 224.71 Q 484.91 225.73 483.50 225.27 Q 482.09 224.81 481.00 223.66 Q 479.90 222.51 479.76 220.66 Z" fill="#eaac96" />
<path d="M 482.53 220.41 Q 481.92 219.73 481.61 218.45 Q 481.31 217.17 482.49 217.01 Q 483.67 216.86 484.45 217.23 Q 485.23 217.60 485.49 218.48 Q 485.76 219.36 485.46 220.48 Q 485.17 221.60 484.15 221.34 Q 483.13 221.08 482.53 220.41 Z" fill="#e28a78" />
<path d="M 483.24 219.57 Q 483.43 218.76 484.18 218.50 Q 484.93 218.25 485.69 218.70 Q 486.45 219.14 486.35 220.09 Q 486.24 221.05 485.71 221.76 Q 485.17 222.47 484.17 222.54 Q 483.16 222.61 483.11 221.49 Q 483.06 220.37 483.24 219.57 Z" fill="#e28a78" />
<path d="M 483.91 222.46 Q 482.79 222.80 482.10 221.80 Q 481.41 220.79 481.60 219.64 Q 481.78 218.49 482.83 218.28 Q 483.88 218.07 484.64 218.45 Q 485.40 218.84 485.70 219.66 Q 486.01 220.48 485.52 221.30 Q 485.04 222.13 483.91 222.46 Z" fill="#f4c8ac" />
<ellipse cx="483.25" cy="219.34" rx="1.29" ry="1.32" fill="#f8dcc8" opacity="0.9"/>
<path d="M 496.51 215.91 Q 498.06 216.64 498.81 218.30 Q 499.55 219.97 498.59 221.37 Q 497.63 222.78 496.59 223.74 Q 495.55 224.71 494.15 224.51 Q 492.76 224.32 491.56 223.38 Q 490.36 222.43 490.31 220.79 Q 490.26 219.15 491.19 217.92 Q 492.12 216.70 493.54 215.94 Q 494.96 215.19 496.51 215.91 Z" fill="#eaac96" />
<path d="M 492.62 219.01 Q 492.80 218.10 493.52 217.78 Q 494.24 217.45 494.81 217.93 Q 495.38 218.41 495.60 219.19 Q 495.83 219.96 495.35 220.59 Q 494.87 221.22 494.21 221.13 Q 493.54 221.04 492.99 220.48 Q 492.44 219.92 492.62 219.01 Z" fill="#f2c0a4" />
<path d="M 496.17 220.30 Q 496.21 221.65 495.13 222.42 Q 494.05 223.19 492.97 222.58 Q 491.90 221.97 491.31 220.83 Q 490.72 219.68 491.47 218.63 Q 492.21 217.58 493.28 217.60 Q 494.36 217.61 495.24 218.28 Q 496.13 218.96 496.17 220.30 Z" fill="#eeb298" />
<path d="M 492.39 219.52 Q 492.94 218.88 493.85 219.14 Q 494.76 219.40 494.96 220.24 Q 495.16 221.08 494.73 221.75 Q 494.30 222.42 493.56 222.34 Q 492.82 222.25 491.96 221.99 Q 491.10 221.73 491.47 220.94 Q 491.84 220.15 492.39 219.52 Z" fill="#f2c0a4" />
<ellipse cx="493.87" cy="219.50" rx="1.26" ry="1.12" fill="#f8dcc8" opacity="0.9"/>
<ellipse cx="495.91" cy="220.49" rx="1.05" ry="0.90" fill="#d8685e" opacity="0.7"/>
<path d="M 437.87 235.98 Q 436.83 237.45 434.99 237.88 Q 433.15 238.32 430.93 238.11 Q 428.70 237.91 427.47 235.98 Q 426.25 234.04 427.13 231.99 Q 428.01 229.95 429.90 228.95 Q 431.79 227.94 434.06 227.65 Q 436.34 227.35 437.75 229.04 Q 439.16 230.73 439.03 232.62 Q 438.91 234.50 437.87 235.98 Z" fill="#eaac96" />
<path d="M 433.56 234.31 Q 432.72 234.07 432.21 233.20 Q 431.69 232.32 432.29 231.31 Q 432.88 230.30 434.09 230.40 Q 435.31 230.50 435.71 231.39 Q 436.12 232.27 436.32 233.27 Q 436.52 234.26 435.46 234.41 Q 434.39 234.55 433.56 234.31 Z" fill="#f4c8ac" />
<path d="M 436.03 234.55 Q 435.63 235.90 434.73 236.73 Q 433.83 237.57 432.73 237.03 Q 431.62 236.50 430.92 235.11 Q 430.21 233.71 431.32 232.81 Q 432.42 231.92 433.41 231.84 Q 434.40 231.76 435.42 232.48 Q 436.44 233.20 436.03 234.55 Z" fill="#e28a78" />
<path d="M 433.29 233.08 Q 434.10 232.62 434.65 233.37 Q 435.19 234.12 435.25 234.88 Q 435.30 235.65 434.74 236.20 Q 434.18 236.75 433.30 236.75 Q 432.41 236.76 431.77 235.92 Q 431.12 235.08 431.80 234.31 Q 432.48 233.54 433.29 233.08 Z" fill="#f2c0a4" />
<ellipse cx="432.60" cy="232.20" rx="1.80" ry="1.38" fill="#f8dcc8" opacity="0.9"/>
<path d="M 440.17 233.13 Q 441.17 231.09 442.21 229.30 Q 443.25 227.51 445.30 227.80 Q 447.36 228.08 449.47 228.71 Q 451.58 229.33 451.79 231.56 Q 451.99 233.78 451.15 235.66 Q 450.30 237.54 448.44 238.43 Q 446.57 239.32 444.33 239.15 Q 442.08 238.98 440.63 237.08 Q 439.17 235.18 440.17 233.13 Z" fill="#eaac96" />
<path d="M 447.70 235.45 Q 446.99 236.28 445.85 236.52 Q 444.71 236.76 444.22 235.80 Q 443.73 234.84 443.87 234.00 Q 444.01 233.15 444.78 232.60 Q 445.55 232.04 446.53 232.37 Q 447.50 232.70 447.95 233.66 Q 448.41 234.62 447.70 235.45 Z" fill="#e28a78" />
<path d="M 449.62 234.97 Q 448.94 235.92 447.64 236.61 Q 446.34 237.30 445.52 235.86 Q 444.69 234.41 445.20 233.04 Q 445.70 231.66 446.70 230.49 Q 447.70 229.32 448.81 230.36 Q 449.92 231.40 450.11 232.71 Q 450.30 234.02 449.62 234.97 Z" fill="#eeb298" />
<path d="M 442.95 233.10 Q 442.00 232.13 442.60 231.13 Q 443.19 230.13 444.38 229.38 Q 445.56 228.63 447.11 229.16 Q 448.66 229.68 448.91 230.90 Q 449.15 232.12 448.13 233.01 Q 447.11 233.90 445.51 233.98 Q 443.91 234.07 442.95 233.10 Z" fill="#f4c8ac" />
<ellipse cx="445.10" cy="232.10" rx="1.80" ry="1.50" fill="#f8dcc8" opacity="0.9"/>
<path d="M 458.41 227.23 Q 460.61 226.94 461.89 228.62 Q 463.16 230.30 463.85 232.00 Q 464.54 233.71 464.14 235.81 Q 463.75 237.92 461.66 238.39 Q 459.56 238.86 457.77 238.30 Q 455.98 237.75 454.73 236.31 Q 453.48 234.86 453.87 233.02 Q 454.27 231.17 455.24 229.35 Q 456.21 227.52 458.41 227.23 Z" fill="#eaac96" />
<path d="M 460.75 233.99 Q 459.45 234.53 457.90 234.11 Q 456.36 233.70 456.48 232.42 Q 456.61 231.14 457.56 230.53 Q 458.51 229.92 459.64 229.83 Q 460.78 229.74 461.39 230.53 Q 462.01 231.33 462.03 232.39 Q 462.05 233.46 460.75 233.99 Z" fill="#eeb298" />
<path d="M 458.73 230.20 Q 460.16 229.88 461.32 230.08 Q 462.48 230.28 462.75 231.06 Q 463.01 231.84 462.84 232.76 Q 462.66 233.69 461.28 233.75 Q 459.89 233.80 459.01 233.18 Q 458.14 232.55 457.72 231.53 Q 457.31 230.52 458.73 230.20 Z" fill="#eeb298" />
<path d="M 457.13 233.47 Q 458.20 233.22 459.03 233.55 Q 459.87 233.89 460.10 234.52 Q 460.33 235.15 460.08 236.03 Q 459.83 236.91 458.50 236.91 Q 457.18 236.90 456.55 236.15 Q 455.92 235.40 456.00 234.56 Q 456.07 233.72 457.13 233.47 Z" fill="#e28a78" />
<ellipse cx="458.18" cy="232.20" rx="1.65" ry="1.38" fill="#f8dcc8" opacity="0.9"/>
<ellipse cx="458.60" cy="234.47" rx="1.38" ry="1.10" fill="#d8685e" opacity="0.7"/>
<path d="M 475.06 236.51 Q 473.50 237.61 471.62 237.73 Q 469.74 237.84 467.87 237.17 Q 465.99 236.50 465.53 234.74 Q 465.07 232.99 465.68 231.22 Q 466.29 229.45 468.33 229.03 Q 470.37 228.60 472.44 228.66 Q 474.51 228.72 475.88 230.21 Q 477.25 231.70 476.93 233.55 Q 476.61 235.40 475.06 236.51 Z" fill="#eaac96" />
<path d="M 471.23 234.03 Q 469.94 234.08 468.69 233.62 Q 467.44 233.17 467.83 232.18 Q 468.22 231.19 469.12 230.49 Q 470.01 229.79 471.03 230.33 Q 472.05 230.87 472.65 231.52 Q 473.25 232.17 472.88 233.08 Q 472.52 233.98 471.23 234.03 Z" fill="#f2c0a4" />
<path d="M 470.43 230.14 Q 471.54 230.01 472.46 230.89 Q 473.37 231.78 472.85 232.94 Q 472.33 234.11 471.59 234.67 Q 470.84 235.24 469.72 235.18 Q 468.59 235.13 468.46 233.80 Q 468.32 232.47 468.82 231.37 Q 469.32 230.27 470.43 230.14 Z" fill="#eeb298" />
<path d="M 473.45 231.00 Q 474.80 231.92 473.92 233.14 Q 473.04 234.36 471.95 234.77 Q 470.87 235.18 469.66 234.93 Q 468.45 234.67 468.33 233.60 Q 468.21 232.53 468.82 231.67 Q 469.42 230.81 470.77 230.44 Q 472.11 230.08 473.45 231.00 Z" fill="#f2c0a4" />
<ellipse cx="470.13" cy="232.30" rx="1.74" ry="1.25" fill="#f8dcc8" opacity="0.9"/>
<ellipse cx="469.15" cy="234.57" rx="1.45" ry="1.00" fill="#d8685e" opacity="0.7"/>
<path d="M 480.07 229.14 Q 481.22 227.48 483.38 227.35 Q 485.54 227.23 486.57 229.01 Q 487.60 230.79 488.32 232.47 Q 489.05 234.14 488.00 235.68 Q 486.96 237.22 485.30 238.36 Q 483.65 239.50 481.88 238.52 Q 480.12 237.54 479.36 235.91 Q 478.60 234.29 478.76 232.55 Q 478.92 230.80 480.07 229.14 Z" fill="#eaac96" />
<path d="M 485.09 232.36 Q 486.18 233.28 485.64 234.45 Q 485.09 235.62 483.99 236.37 Q 482.90 237.13 481.95 236.30 Q 481.00 235.46 480.39 234.59 Q 479.77 233.72 480.45 232.72 Q 481.13 231.71 482.56 231.58 Q 484.00 231.44 485.09 232.36 Z" fill="#e28a78" />
<path d="M 480.83 235.50 Q 480.25 234.61 480.66 233.79 Q 481.08 232.97 482.22 232.85 Q 483.35 232.73 484.51 232.95 Q 485.67 233.17 485.89 234.08 Q 486.10 234.98 485.14 235.59 Q 484.18 236.19 482.79 236.29 Q 481.41 236.38 480.83 235.50 Z" fill="#e28a78" />
<path d="M 481.80 233.30 Q 482.15 231.95 482.89 231.01 Q 483.62 230.08 484.65 230.52 Q 485.69 230.97 486.51 232.00 Q 487.34 233.03 486.56 234.11 Q 485.78 235.19 484.71 235.77 Q 483.63 236.34 482.54 235.50 Q 481.45 234.66 481.80 233.30 Z" fill="#eeb298" />
<ellipse cx="482.70" cy="232.24" rx="1.59" ry="1.32" fill="#f8dcc8" opacity="0.9"/>
<ellipse cx="482.13" cy="235.14" rx="1.32" ry="1.06" fill="#d8685e" opacity="0.7"/>
<path d="M 494.53 238.71 Q 492.71 238.92 491.62 237.30 Q 490.53 235.68 490.56 233.88 Q 490.59 232.08 491.12 230.14 Q 491.64 228.20 493.54 227.47 Q 495.43 226.75 496.91 228.09 Q 498.40 229.44 498.97 231.11 Q 499.54 232.78 499.49 234.69 Q 499.43 236.60 497.89 237.55 Q 496.35 238.50 494.53 238.71 Z" fill="#eaac96" />
<path d="M 494.38 234.44 Q 493.69 234.98 492.80 234.71 Q 491.90 234.44 491.51 233.53 Q 491.12 232.62 491.52 231.52 Q 491.92 230.42 493.01 230.73 Q 494.11 231.05 494.99 231.55 Q 495.88 232.05 495.47 232.98 Q 495.06 233.90 494.38 234.44 Z" fill="#e28a78" />
<path d="M 491.67 235.26 Q 491.01 234.59 491.49 233.84 Q 491.97 233.08 492.92 232.43 Q 493.87 231.78 494.69 232.55 Q 495.51 233.32 495.58 234.14 Q 495.65 234.95 495.16 235.97 Q 494.67 236.99 493.50 236.45 Q 492.33 235.92 491.67 235.26 Z" fill="#f2c0a4" />
<path d="M 495.68 231.43 Q 496.37 232.26 496.00 233.50 Q 495.64 234.73 494.82 235.24 Q 494.01 235.76 493.28 235.08 Q 492.55 234.41 492.26 233.17 Q 491.97 231.92 492.70 231.18 Q 493.44 230.44 494.21 230.52 Q 494.98 230.59 495.68 231.43 Z" fill="#e28a78" />
<ellipse cx="494.25" cy="232.20" rx="1.50" ry="1.38" fill="#f8dcc8" opacity="0.9"/>
<ellipse cx="496.95" cy="235.30" rx="1.25" ry="1.10" fill="#d8685e" opacity="0.7"/>
<path d="M 437.43 250.45 Q 436.01 251.05 434.62 251.51 Q 433.23 251.96 432.25 250.91 Q 431.27 249.86 430.69 248.61 Q 430.12 247.35 430.73 246.01 Q 431.35 244.67 432.76 243.93 Q 434.18 243.20 435.59 243.86 Q 437.01 244.53 437.93 245.66 Q 438.85 246.78 438.85 248.31 Q 438.86 249.84 437.43 250.45 Z" fill="#eaac96" />
<path d="M 434.52 246.21 Q 435.09 246.75 435.08 247.35 Q 435.08 247.96 434.48 248.45 Q 433.89 248.94 432.94 248.81 Q 431.99 248.68 431.63 248.00 Q 431.26 247.33 431.73 246.74 Q 432.19 246.15 433.07 245.91 Q 433.95 245.67 434.52 246.21 Z" fill="#e28a78" />
<path d="M 436.73 247.15 Q 437.08 247.81 436.23 248.12 Q 435.38 248.44 434.62 248.31 Q 433.87 248.17 433.16 247.69 Q 432.46 247.22 433.10 246.70 Q 433.75 246.17 434.46 245.98 Q 435.18 245.79 435.78 246.14 Q 436.38 246.50 436.73 247.15 Z" fill="#e28a78" />
<path d="M 436.45 247.72 Q 436.22 248.75 435.51 249.08 Q 434.81 249.41 434.23 248.78 Q 433.65 248.14 433.63 247.13 Q 433.60 246.11 434.09 245.46 Q 434.57 244.81 435.18 245.00 Q 435.79 245.19 436.24 245.94 Q 436.69 246.68 436.45 247.72 Z" fill="#f2c0a4" />
<ellipse cx="433.87" cy="247.00" rx="1.26" ry="1.00" fill="#f8dcc8" opacity="0.9"/>
<ellipse cx="434.60" cy="247.81" rx="1.05" ry="0.80" fill="#d8685e" opacity="0.7"/>
<path d="M 449.02 244.74 Q 449.68 246.14 450.05 247.65 Q 450.43 249.16 449.49 250.31 Q 448.56 251.46 447.34 251.69 Q 446.12 251.92 444.99 251.35 Q 443.87 250.78 443.20 249.45 Q 442.54 248.11 442.88 246.53 Q 443.22 244.95 444.44 244.33 Q 445.65 243.70 447.00 243.52 Q 448.36 243.35 449.02 244.74 Z" fill="#eaac96" />
<path d="M 445.10 247.60 Q 445.24 246.60 445.99 246.44 Q 446.75 246.29 447.04 247.27 Q 447.33 248.25 447.44 249.29 Q 447.54 250.32 446.89 250.87 Q 446.25 251.42 445.57 251.03 Q 444.88 250.64 444.92 249.62 Q 444.97 248.61 445.10 247.60 Z" fill="#e28a78" />
<path d="M 447.28 250.66 Q 446.73 250.75 446.15 250.24 Q 445.58 249.73 445.58 248.52 Q 445.57 247.31 446.26 246.72 Q 446.95 246.13 447.62 246.59 Q 448.30 247.06 448.36 248.08 Q 448.42 249.10 448.12 249.83 Q 447.83 250.57 447.28 250.66 Z" fill="#eeb298" />
<path d="M 445.56 250.49 Q 445.06 250.88 444.42 250.49 Q 443.78 250.10 443.81 249.06 Q 443.83 248.01 444.36 247.49 Q 444.88 246.97 445.55 246.88 Q 446.22 246.79 446.36 247.75 Q 446.50 248.71 446.28 249.40 Q 446.06 250.10 445.56 250.49 Z" fill="#e28a78" />
<ellipse cx="445.93" cy="246.90" rx="1.14" ry="1.12" fill="#f8dcc8" opacity="0.9"/>
<path d="M 457.69 243.16 Q 458.86 242.46 460.17 243.12 Q 461.47 243.77 462.07 245.55 Q 462.66 247.33 462.11 249.05 Q 461.56 250.78 460.45 251.47 Q 459.34 252.17 458.11 252.32 Q 456.89 252.47 456.06 251.16 Q 455.24 249.86 454.98 248.12 Q 454.72 246.38 455.61 245.12 Q 456.51 243.86 457.69 243.16 Z" fill="#eaac96" />
<path d="M 456.38 245.12 Q 456.93 244.36 457.49 244.55 Q 458.05 244.74 458.49 245.52 Q 458.94 246.30 458.68 247.37 Q 458.43 248.44 457.90 248.88 Q 457.37 249.32 456.95 248.67 Q 456.52 248.02 456.18 246.95 Q 455.84 245.88 456.38 245.12 Z" fill="#f4c8ac" />
<path d="M 458.52 248.46 Q 458.38 249.19 457.88 249.41 Q 457.38 249.63 456.87 249.38 Q 456.36 249.14 456.37 248.40 Q 456.39 247.66 456.70 247.20 Q 457.01 246.73 457.46 246.74 Q 457.92 246.75 458.29 247.24 Q 458.66 247.72 458.52 248.46 Z" fill="#eeb298" />
<path d="M 459.45 248.65 Q 458.97 249.44 458.27 249.04 Q 457.56 248.64 457.30 247.82 Q 457.04 247.00 457.29 246.18 Q 457.54 245.36 458.26 244.83 Q 458.98 244.29 459.65 245.06 Q 460.32 245.82 460.12 246.84 Q 459.93 247.86 459.45 248.65 Z" fill="#f2c0a4" />
<ellipse cx="457.98" cy="246.84" rx="1.05" ry="1.20" fill="#f8dcc8" opacity="0.9"/>
<ellipse cx="457.23" cy="247.92" rx="0.88" ry="0.96" fill="#d8685e" opacity="0.7"/>
<path d="M 469.03 245.10 Q 470.33 244.60 471.54 245.03 Q 472.75 245.46 474.02 246.03 Q 475.29 246.60 475.30 247.84 Q 475.32 249.08 474.11 249.77 Q 472.91 250.47 471.61 250.61 Q 470.30 250.76 468.93 250.40 Q 467.55 250.04 467.17 248.91 Q 466.80 247.77 467.26 246.68 Q 467.73 245.59 469.03 245.10 Z" fill="#eaac96" />
<path d="M 471.47 248.18 Q 471.63 248.57 471.17 248.86 Q 470.71 249.16 470.04 249.14 Q 469.38 249.11 468.72 248.79 Q 468.07 248.47 468.50 248.02 Q 468.94 247.57 469.61 247.46 Q 470.27 247.35 470.79 247.57 Q 471.32 247.79 471.47 248.18 Z" fill="#e28a78" />
<path d="M 471.71 248.39 Q 470.95 248.45 470.21 248.09 Q 469.47 247.73 469.45 246.86 Q 469.43 246.00 470.26 245.67 Q 471.09 245.34 471.74 245.66 Q 472.38 245.97 472.78 246.52 Q 473.18 247.06 472.82 247.70 Q 472.46 248.33 471.71 248.39 Z" fill="#eeb298" />
<path d="M 470.15 247.14 Q 470.76 246.71 471.69 246.66 Q 472.63 246.61 472.62 247.45 Q 472.60 248.30 472.38 248.88 Q 472.15 249.46 471.47 249.57 Q 470.79 249.68 470.15 249.34 Q 469.51 249.00 469.52 248.29 Q 469.54 247.57 470.15 247.14 Z" fill="#f4c8ac" />
<ellipse cx="470.43" cy="247.20" rx="1.14" ry="0.75" fill="#f8dcc8" opacity="0.9"/>
<path d="M 487.33 247.96 Q 487.31 249.10 486.54 250.07 Q 485.78 251.04 484.43 251.36 Q 483.07 251.69 482.22 250.69 Q 481.36 249.70 480.62 248.66 Q 479.87 247.62 480.41 246.39 Q 480.95 245.15 482.26 244.90 Q 483.57 244.64 484.80 244.73 Q 486.03 244.82 486.69 245.82 Q 487.36 246.81 487.33 247.96 Z" fill="#eaac96" />
<path d="M 485.04 250.27 Q 484.50 250.41 484.22 249.82 Q 483.95 249.23 484.01 248.63 Q 484.07 248.03 484.47 247.53 Q 484.87 247.03 485.38 247.39 Q 485.89 247.74 486.03 248.39 Q 486.17 249.04 485.87 249.59 Q 485.58 250.13 485.04 250.27 Z" fill="#e28a78" />
<path d="M 483.77 245.06 Q 484.47 245.55 484.38 246.39 Q 484.30 247.22 483.88 247.70 Q 483.47 248.19 482.85 248.23 Q 482.24 248.28 481.91 247.66 Q 481.58 247.05 481.59 246.21 Q 481.61 245.38 482.34 244.97 Q 483.07 244.56 483.77 245.06 Z" fill="#eeb298" />
<path d="M 486.24 246.66 Q 486.59 247.15 486.27 247.73 Q 485.95 248.32 485.29 248.28 Q 484.63 248.24 484.13 247.89 Q 483.63 247.55 483.71 246.95 Q 483.79 246.35 484.30 246.02 Q 484.82 245.69 485.36 245.92 Q 485.89 246.16 486.24 246.66 Z" fill="#e28a78" />
<ellipse cx="483.48" cy="247.14" rx="1.05" ry="0.82" fill="#f8dcc8" opacity="0.9"/>
<ellipse cx="482.88" cy="247.89" rx="0.88" ry="0.66" fill="#d8685e" opacity="0.7"/>
<path d="M 493.74 244.61 Q 494.80 244.24 495.81 244.91 Q 496.82 245.58 497.13 246.80 Q 497.45 248.03 496.76 248.97 Q 496.08 249.91 495.21 250.45 Q 494.34 250.99 493.36 250.70 Q 492.38 250.40 491.50 249.63 Q 490.63 248.86 491.10 247.77 Q 491.57 246.67 492.13 245.83 Q 492.68 244.98 493.74 244.61 Z" fill="#eaac96" />
<path d="M 495.03 248.65 Q 494.76 249.01 494.34 249.12 Q 493.92 249.23 493.74 248.80 Q 493.55 248.37 493.43 247.83 Q 493.32 247.30 493.79 247.11 Q 494.26 246.92 494.71 247.08 Q 495.16 247.23 495.22 247.76 Q 495.29 248.29 495.03 248.65 Z" fill="#e28a78" />
<path d="M 494.77 248.77 Q 494.38 248.78 494.12 248.34 Q 493.85 247.90 493.81 247.16 Q 493.77 246.42 494.23 246.03 Q 494.70 245.63 495.23 245.91 Q 495.76 246.19 495.68 246.99 Q 495.60 247.80 495.37 248.28 Q 495.15 248.77 494.77 248.77 Z" fill="#eeb298" />
<path d="M 494.02 247.79 Q 493.75 248.55 493.29 248.37 Q 492.84 248.18 492.44 247.80 Q 492.04 247.43 492.18 246.67 Q 492.33 245.90 492.67 245.35 Q 493.00 244.80 493.50 245.04 Q 493.99 245.29 494.14 246.16 Q 494.30 247.03 494.02 247.79 Z" fill="#e28a78" />
<ellipse cx="493.55" cy="247.16" rx="0.90" ry="0.80" fill="#f8dcc8" opacity="0.9"/>
<ellipse cx="493.21" cy="248.11" rx="0.75" ry="0.64" fill="#d8685e" opacity="0.7"/>
<path d="M 438.63 259.87 Q 438.66 261.19 437.61 262.28 Q 436.55 263.37 434.93 263.33 Q 433.31 263.29 432.32 262.16 Q 431.33 261.04 431.15 259.70 Q 430.96 258.36 431.86 257.42 Q 432.76 256.47 433.91 256.05 Q 435.06 255.63 436.60 255.65 Q 438.14 255.66 438.37 257.11 Q 438.60 258.55 438.63 259.87 Z" fill="#eaac96" />
<path d="M 436.28 259.26 Q 436.30 260.17 435.52 260.59 Q 434.73 261.01 434.07 260.67 Q 433.40 260.33 433.02 259.79 Q 432.63 259.26 433.00 258.71 Q 433.38 258.16 434.00 258.05 Q 434.62 257.94 435.44 258.15 Q 436.25 258.36 436.28 259.26 Z" fill="#f2c0a4" />
<path d="M 435.57 258.16 Q 435.71 259.04 435.08 259.62 Q 434.46 260.20 433.44 260.51 Q 432.42 260.81 431.78 259.81 Q 431.15 258.81 431.78 257.95 Q 432.40 257.09 433.17 256.72 Q 433.95 256.34 434.69 256.81 Q 435.43 257.28 435.57 258.16 Z" fill="#f4c8ac" />
<path d="M 434.57 261.17 Q 433.96 261.04 433.41 260.45 Q 432.85 259.87 433.12 258.94 Q 433.38 258.00 434.20 257.98 Q 435.02 257.96 435.73 258.31 Q 436.44 258.66 436.27 259.50 Q 436.10 260.34 435.64 260.82 Q 435.19 261.31 434.57 261.17 Z" fill="#f4c8ac" />
<ellipse cx="434.40" cy="258.34" rx="1.20" ry="0.95" fill="#f8dcc8" opacity="0.9"/>
<path d="M 443.36 258.52 Q 443.76 257.16 444.60 255.92 Q 445.44 254.68 446.87 254.97 Q 448.30 255.26 449.19 256.24 Q 450.07 257.21 450.91 258.58 Q 451.75 259.95 450.56 260.99 Q 449.37 262.03 448.20 262.98 Q 447.03 263.94 445.56 263.36 Q 444.09 262.79 443.53 261.33 Q 442.96 259.87 443.36 258.52 Z" fill="#eaac96" />
<path d="M 446.63 256.19 Q 447.30 255.62 447.92 256.24 Q 448.54 256.87 448.53 257.80 Q 448.52 258.74 448.31 259.76 Q 448.11 260.79 447.28 260.90 Q 446.45 261.00 446.17 259.92 Q 445.88 258.84 445.92 257.80 Q 445.96 256.76 446.63 256.19 Z" fill="#f2c0a4" />
<path d="M 444.69 259.84 Q 444.86 259.04 445.46 258.76 Q 446.06 258.48 446.54 259.01 Q 447.02 259.54 447.24 260.44 Q 447.47 261.34 446.90 261.96 Q 446.33 262.58 445.68 262.37 Q 445.03 262.16 444.77 261.40 Q 444.51 260.64 444.69 259.84 Z" fill="#eeb298" />
<path d="M 445.98 260.26 Q 445.65 259.28 446.14 258.52 Q 446.62 257.76 447.45 257.31 Q 448.28 256.87 449.10 257.51 Q 449.93 258.15 449.78 259.17 Q 449.63 260.20 448.90 260.60 Q 448.16 261.00 447.23 261.12 Q 446.30 261.24 445.98 260.26 Z" fill="#f2c0a4" />
<ellipse cx="446.40" cy="258.26" rx="1.20" ry="1.05" fill="#f8dcc8" opacity="0.9"/>
<path d="M 461.83 261.21 Q 461.35 262.48 459.72 262.75 Q 458.10 263.03 456.59 262.49 Q 455.09 261.95 454.85 260.67 Q 454.60 259.39 454.88 258.27 Q 455.15 257.15 456.24 256.33 Q 457.34 255.51 458.70 255.90 Q 460.06 256.29 461.58 256.80 Q 463.10 257.30 462.71 258.63 Q 462.32 259.95 461.83 261.21 Z" fill="#eaac96" />
<path d="M 456.26 259.18 Q 456.62 258.63 457.23 258.58 Q 457.84 258.53 458.53 258.81 Q 459.22 259.09 459.24 259.95 Q 459.26 260.81 458.54 261.30 Q 457.82 261.79 457.19 261.32 Q 456.56 260.86 456.23 260.30 Q 455.90 259.74 456.26 259.18 Z" fill="#f4c8ac" />
<path d="M 458.80 260.25 Q 458.44 260.83 457.53 260.76 Q 456.62 260.68 456.08 260.34 Q 455.54 259.99 455.44 259.45 Q 455.33 258.90 456.08 258.59 Q 456.83 258.29 457.78 258.35 Q 458.73 258.42 458.94 259.05 Q 459.15 259.67 458.80 260.25 Z" fill="#e28a78" />
<path d="M 460.22 260.98 Q 459.66 261.52 458.91 261.67 Q 458.16 261.83 457.81 260.98 Q 457.46 260.13 457.68 259.31 Q 457.90 258.49 458.56 258.19 Q 459.21 257.88 459.79 258.32 Q 460.36 258.77 460.57 259.60 Q 460.78 260.43 460.22 260.98 Z" fill="#eeb298" />
<ellipse cx="457.87" cy="258.40" rx="1.26" ry="0.88" fill="#f8dcc8" opacity="0.9"/>
<path d="M 469.17 262.23 Q 468.00 261.40 467.70 260.04 Q 467.40 258.69 468.22 257.65 Q 469.04 256.62 470.11 255.70 Q 471.18 254.77 472.42 255.49 Q 473.66 256.21 474.25 257.25 Q 474.84 258.29 475.13 259.62 Q 475.42 260.95 474.34 261.95 Q 473.27 262.95 471.80 263.01 Q 470.34 263.07 469.17 262.23 Z" fill="#eaac96" />
<path d="M 471.56 259.35 Q 471.01 258.97 470.71 258.46 Q 470.41 257.95 470.85 257.39 Q 471.29 256.83 472.01 257.10 Q 472.73 257.37 473.31 257.68 Q 473.88 257.99 473.56 258.49 Q 473.24 258.99 472.67 259.36 Q 472.11 259.73 471.56 259.35 Z" fill="#e28a78" />
<path d="M 470.61 258.28 Q 471.38 258.03 472.03 258.42 Q 472.67 258.82 472.72 259.60 Q 472.76 260.39 472.43 261.14 Q 472.10 261.90 471.26 261.96 Q 470.42 262.01 469.85 261.23 Q 469.28 260.44 469.56 259.49 Q 469.84 258.53 470.61 258.28 Z" fill="#f4c8ac" />
<path d="M 470.73 257.87 Q 471.32 257.72 471.85 258.02 Q 472.37 258.31 472.58 258.96 Q 472.79 259.61 472.18 259.98 Q 471.58 260.35 470.95 260.23 Q 470.33 260.12 469.98 259.62 Q 469.62 259.12 469.88 258.57 Q 470.14 258.02 470.73 257.87 Z" fill="#f4c8ac" />
<ellipse cx="470.94" cy="258.38" rx="1.11" ry="0.90" fill="#f8dcc8" opacity="0.9"/>
<path d="M 485.65 256.70 Q 486.21 257.81 486.63 259.15 Q 487.06 260.49 486.22 261.59 Q 485.38 262.70 484.20 262.84 Q 483.03 262.97 482.20 262.17 Q 481.37 261.37 480.76 260.30 Q 480.15 259.23 480.64 258.06 Q 481.14 256.90 482.01 256.24 Q 482.88 255.58 483.98 255.58 Q 485.09 255.58 485.65 256.70 Z" fill="#eaac96" />
<path d="M 482.58 260.57 Q 482.60 259.80 482.91 259.15 Q 483.22 258.50 483.83 258.65 Q 484.43 258.80 484.95 259.35 Q 485.47 259.90 485.17 260.70 Q 484.87 261.50 484.27 261.96 Q 483.68 262.42 483.12 261.88 Q 482.56 261.33 482.58 260.57 Z" fill="#e28a78" />
<path d="M 483.30 257.97 Q 483.84 257.47 484.30 258.08 Q 484.75 258.69 484.88 259.57 Q 485.01 260.46 484.73 261.26 Q 484.44 262.07 483.86 262.28 Q 483.27 262.48 483.08 261.49 Q 482.88 260.49 482.81 259.48 Q 482.75 258.46 483.30 257.97 Z" fill="#e28a78" />
<path d="M 484.54 260.00 Q 484.26 260.62 483.80 260.59 Q 483.35 260.56 483.11 259.93 Q 482.86 259.30 482.76 258.31 Q 482.65 257.31 483.25 257.09 Q 483.84 256.86 484.31 257.28 Q 484.78 257.69 484.80 258.54 Q 484.81 259.39 484.54 260.00 Z" fill="#eeb298" />
<ellipse cx="483.02" cy="258.34" rx="0.96" ry="0.95" fill="#f8dcc8" opacity="0.9"/>
<path d="M 491.72 256.15 Q 492.75 255.30 493.97 255.42 Q 495.20 255.53 496.29 256.26 Q 497.38 256.98 497.37 258.37 Q 497.36 259.76 496.70 260.77 Q 496.04 261.78 495.01 262.37 Q 493.99 262.96 493.05 262.25 Q 492.11 261.54 491.44 260.63 Q 490.77 259.71 490.73 258.35 Q 490.68 256.99 491.72 256.15 Z" fill="#eaac96" />
<path d="M 493.39 257.22 Q 493.96 257.60 494.29 258.22 Q 494.61 258.84 494.24 259.38 Q 493.87 259.92 493.42 260.15 Q 492.97 260.38 492.50 260.01 Q 492.04 259.64 491.96 258.87 Q 491.88 258.09 492.35 257.47 Q 492.81 256.84 493.39 257.22 Z" fill="#f4c8ac" />
<path d="M 492.19 258.87 Q 492.51 258.12 493.30 258.16 Q 494.09 258.20 494.67 258.76 Q 495.24 259.31 495.05 260.11 Q 494.85 260.90 494.23 261.45 Q 493.61 262.00 492.75 261.72 Q 491.89 261.44 491.88 260.53 Q 491.86 259.63 492.19 258.87 Z" fill="#e28a78" />
<path d="M 492.83 260.35 Q 492.61 259.49 492.90 258.69 Q 493.19 257.89 493.96 257.91 Q 494.73 257.94 495.48 258.27 Q 496.23 258.61 495.95 259.43 Q 495.68 260.24 495.20 260.80 Q 494.72 261.36 493.89 261.28 Q 493.06 261.21 492.83 260.35 Z" fill="#f4c8ac" />
<ellipse cx="493.52" cy="258.40" rx="0.96" ry="0.88" fill="#f8dcc8" opacity="0.9"/>
</g>
<text font-size="12.4" font-weight="bold" fill="#000" transform="translate(524.00 149.90)" >H</text>
<text font-size="8.4" text-anchor="middle" transform="translate(612.30 174.60) translate(0 0.3) scale(1 1.15)" >HGC27</text>
<line x1="563.70" y1="178.40" x2="563.70" y2="259.70" stroke="#1a1a1a" stroke-width="0.9" />
<line x1="563.70" y1="259.70" x2="663.00" y2="259.70" stroke="#1a1a1a" stroke-width="0.9" />
<line x1="561.70" y1="255.90" x2="563.70" y2="255.90" stroke="#1a1a1a" stroke-width="0.8" />
<text font-size="7.8" text-anchor="end" transform="translate(561.30 258.70) translate(0 0.3) scale(1 1.15)" >0</text>
<line x1="561.70" y1="232.80" x2="563.70" y2="232.80" stroke="#1a1a1a" stroke-width="0.8" />
<text font-size="7.8" text-anchor="end" transform="translate(561.30 235.60) translate(0 0.3) scale(1 1.15)" >500</text>
<line x1="561.70" y1="209.70" x2="563.70" y2="209.70" stroke="#1a1a1a" stroke-width="0.8" />
<text font-size="7.8" text-anchor="end" transform="translate(561.30 212.50) translate(0 0.3) scale(1 1.15)" >1000</text>
<line x1="561.70" y1="186.60" x2="563.70" y2="186.60" stroke="#1a1a1a" stroke-width="0.8" />
<text font-size="7.8" text-anchor="end" transform="translate(561.30 189.40) translate(0 0.3) scale(1 1.15)" >1500</text>
<line x1="568.30" y1="259.70" x2="568.30" y2="261.70" stroke="#1a1a1a" stroke-width="0.8" />
<text font-size="7.8" text-anchor="middle" transform="translate(568.30 268.20) translate(0 0.3) scale(1 1.15)" >0</text>
<line x1="586.30" y1="259.70" x2="586.30" y2="261.70" stroke="#1a1a1a" stroke-width="0.8" />
<text font-size="7.8" text-anchor="middle" transform="translate(586.30 268.20) translate(0 0.3) scale(1 1.15)" >6</text>
<line x1="604.30" y1="259.70" x2="604.30" y2="261.70" stroke="#1a1a1a" stroke-width="0.8" />
<text font-size="7.8" text-anchor="middle" transform="translate(604.30 268.20) translate(0 0.3) scale(1 1.15)" >12</text>
<line x1="622.30" y1="259.70" x2="622.30" y2="261.70" stroke="#1a1a1a" stroke-width="0.8" />
<text font-size="7.8" text-anchor="middle" transform="translate(622.30 268.20) translate(0 0.3) scale(1 1.15)" >18</text>
<line x1="640.30" y1="259.70" x2="640.30" y2="261.70" stroke="#1a1a1a" stroke-width="0.8" />
<text font-size="7.8" text-anchor="middle" transform="translate(640.30 268.20) translate(0 0.3) scale(1 1.15)" >24</text>
<line x1="658.30" y1="259.70" x2="658.30" y2="261.70" stroke="#1a1a1a" stroke-width="0.8" />
<text font-size="7.8" text-anchor="middle" transform="translate(658.30 268.20) translate(0 0.3) scale(1 1.15)" >30</text>
<text font-size="8.45" text-anchor="middle" transform="translate(612.50 277.60) translate(0 0.3) scale(1 1.15)" >Time (days)</text>
<text font-size="8.2" text-anchor="middle" transform="translate(541.30 218.80) rotate(-90) translate(0 0.3) scale(1 1.15)">Tumor volume (mm<tspan font-size="5.4" dy="-2.8">3</tspan><tspan dy="2.8">)</tspan></text>
<polyline points="568.30,255.90 595.30,252.20 613.30,248.97 622.30,247.12 631.30,244.81 640.30,242.50 649.30,236.50" fill="none" stroke="#f8b4b4" stroke-width="1.1" />
<polygon points="566.60,255.90 568.30,254.20 570.00,255.90 568.30,257.60" fill="#f8b4b4" />
<line x1="595.30" y1="252.90" x2="595.30" y2="251.51" stroke="#f8b4b4" stroke-width="1.0" />
<line x1="593.80" y1="252.90" x2="596.80" y2="252.90" stroke="#f8b4b4" stroke-width="0.9" />
<line x1="593.80" y1="251.51" x2="596.80" y2="251.51" stroke="#f8b4b4" stroke-width="0.9" />
<polygon points="593.60,252.20 595.30,250.50 597.00,252.20 595.30,253.90" fill="#f8b4b4" />
<line x1="613.30" y1="250.36" x2="613.30" y2="247.58" stroke="#f8b4b4" stroke-width="1.0" />
<line x1="611.80" y1="250.36" x2="614.80" y2="250.36" stroke="#f8b4b4" stroke-width="0.9" />
<line x1="611.80" y1="247.58" x2="614.80" y2="247.58" stroke="#f8b4b4" stroke-width="0.9" />
<polygon points="611.60,248.97 613.30,247.27 615.00,248.97 613.30,250.67" fill="#f8b4b4" />
<line x1="622.30" y1="248.97" x2="622.30" y2="245.27" stroke="#f8b4b4" stroke-width="1.0" />
<line x1="620.80" y1="248.97" x2="623.80" y2="248.97" stroke="#f8b4b4" stroke-width="0.9" />
<line x1="620.80" y1="245.27" x2="623.80" y2="245.27" stroke="#f8b4b4" stroke-width="0.9" />
<polygon points="620.60,247.12 622.30,245.42 624.00,247.12 622.30,248.82" fill="#f8b4b4" />
<line x1="631.30" y1="247.12" x2="631.30" y2="242.50" stroke="#f8b4b4" stroke-width="1.0" />
<line x1="629.80" y1="247.12" x2="632.80" y2="247.12" stroke="#f8b4b4" stroke-width="0.9" />
<line x1="629.80" y1="242.50" x2="632.80" y2="242.50" stroke="#f8b4b4" stroke-width="0.9" />
<polygon points="629.60,244.81 631.30,243.11 633.00,244.81 631.30,246.51" fill="#f8b4b4" />
<line x1="640.30" y1="245.27" x2="640.30" y2="239.73" stroke="#f8b4b4" stroke-width="1.0" />
<line x1="638.80" y1="245.27" x2="641.80" y2="245.27" stroke="#f8b4b4" stroke-width="0.9" />
<line x1="638.80" y1="239.73" x2="641.80" y2="239.73" stroke="#f8b4b4" stroke-width="0.9" />
<polygon points="638.60,242.50 640.30,240.80 642.00,242.50 640.30,244.20" fill="#f8b4b4" />
<line x1="649.30" y1="241.12" x2="649.30" y2="231.88" stroke="#f8b4b4" stroke-width="1.0" />
<line x1="647.80" y1="241.12" x2="650.80" y2="241.12" stroke="#f8b4b4" stroke-width="0.9" />
<line x1="647.80" y1="231.88" x2="650.80" y2="231.88" stroke="#f8b4b4" stroke-width="0.9" />
<polygon points="647.60,236.50 649.30,234.80 651.00,236.50 649.30,238.20" fill="#f8b4b4" />
<polyline points="568.30,255.90 595.30,252.20 613.30,248.51 622.30,246.20 631.30,244.35 640.30,241.58 649.30,237.42" fill="none" stroke="#ee6262" stroke-width="1.1" />
<polygon points="566.60,255.90 568.30,254.20 570.00,255.90 568.30,257.60" fill="#ee6262" />
<line x1="595.30" y1="252.90" x2="595.30" y2="251.51" stroke="#ee6262" stroke-width="1.0" />
<line x1="593.80" y1="252.90" x2="596.80" y2="252.90" stroke="#ee6262" stroke-width="0.9" />
<line x1="593.80" y1="251.51" x2="596.80" y2="251.51" stroke="#ee6262" stroke-width="0.9" />
<polygon points="593.60,252.20 595.30,250.50 597.00,252.20 595.30,253.90" fill="#ee6262" />
<line x1="613.30" y1="249.89" x2="613.30" y2="247.12" stroke="#ee6262" stroke-width="1.0" />
<line x1="611.80" y1="249.89" x2="614.80" y2="249.89" stroke="#ee6262" stroke-width="0.9" />
<line x1="611.80" y1="247.12" x2="614.80" y2="247.12" stroke="#ee6262" stroke-width="0.9" />
<polygon points="611.60,248.51 613.30,246.81 615.00,248.51 613.30,250.21" fill="#ee6262" />
<line x1="622.30" y1="248.05" x2="622.30" y2="244.35" stroke="#ee6262" stroke-width="1.0" />
<line x1="620.80" y1="248.05" x2="623.80" y2="248.05" stroke="#ee6262" stroke-width="0.9" />
<line x1="620.80" y1="244.35" x2="623.80" y2="244.35" stroke="#ee6262" stroke-width="0.9" />
<polygon points="620.60,246.20 622.30,244.50 624.00,246.20 622.30,247.90" fill="#ee6262" />
<line x1="631.30" y1="247.12" x2="631.30" y2="241.58" stroke="#ee6262" stroke-width="1.0" />
<line x1="629.80" y1="247.12" x2="632.80" y2="247.12" stroke="#ee6262" stroke-width="0.9" />
<line x1="629.80" y1="241.58" x2="632.80" y2="241.58" stroke="#ee6262" stroke-width="0.9" />
<polygon points="629.60,244.35 631.30,242.65 633.00,244.35 631.30,246.05" fill="#ee6262" />
<line x1="640.30" y1="244.81" x2="640.30" y2="238.34" stroke="#ee6262" stroke-width="1.0" />
<line x1="638.80" y1="244.81" x2="641.80" y2="244.81" stroke="#ee6262" stroke-width="0.9" />
<line x1="638.80" y1="238.34" x2="641.80" y2="238.34" stroke="#ee6262" stroke-width="0.9" />
<polygon points="638.60,241.58 640.30,239.88 642.00,241.58 640.30,243.28" fill="#ee6262" />
<line x1="649.30" y1="242.96" x2="649.30" y2="231.88" stroke="#ee6262" stroke-width="1.0" />
<line x1="647.80" y1="242.96" x2="650.80" y2="242.96" stroke="#ee6262" stroke-width="0.9" />
<line x1="647.80" y1="231.88" x2="650.80" y2="231.88" stroke="#ee6262" stroke-width="0.9" />
<polygon points="647.60,237.42 649.30,235.72 651.00,237.42 649.30,239.12" fill="#ee6262" />
<polyline points="568.30,255.90 595.30,250.36 613.30,241.58 622.30,235.11 631.30,228.18 640.30,217.55 649.30,196.76" fill="none" stroke="#5db5ee" stroke-width="1.1" />
<polygon points="566.60,255.90 568.30,254.20 570.00,255.90 568.30,257.60" fill="#5db5ee" />
<line x1="595.30" y1="251.28" x2="595.30" y2="249.43" stroke="#5db5ee" stroke-width="1.0" />
<line x1="593.80" y1="251.28" x2="596.80" y2="251.28" stroke="#5db5ee" stroke-width="0.9" />
<line x1="593.80" y1="249.43" x2="596.80" y2="249.43" stroke="#5db5ee" stroke-width="0.9" />
<polygon points="593.60,250.36 595.30,248.66 597.00,250.36 595.30,252.06" fill="#5db5ee" />
<line x1="613.30" y1="244.35" x2="613.30" y2="238.81" stroke="#5db5ee" stroke-width="1.0" />
<line x1="611.80" y1="244.35" x2="614.80" y2="244.35" stroke="#5db5ee" stroke-width="0.9" />
<line x1="611.80" y1="238.81" x2="614.80" y2="238.81" stroke="#5db5ee" stroke-width="0.9" />
<polygon points="611.60,241.58 613.30,239.88 615.00,241.58 613.30,243.28" fill="#5db5ee" />
<line x1="622.30" y1="238.81" x2="622.30" y2="231.41" stroke="#5db5ee" stroke-width="1.0" />
<line x1="620.80" y1="238.81" x2="623.80" y2="238.81" stroke="#5db5ee" stroke-width="0.9" />
<line x1="620.80" y1="231.41" x2="623.80" y2="231.41" stroke="#5db5ee" stroke-width="0.9" />
<polygon points="620.60,235.11 622.30,233.41 624.00,235.11 622.30,236.81" fill="#5db5ee" />
<line x1="631.30" y1="233.26" x2="631.30" y2="223.10" stroke="#5db5ee" stroke-width="1.0" />
<line x1="629.80" y1="233.26" x2="632.80" y2="233.26" stroke="#5db5ee" stroke-width="0.9" />
<line x1="629.80" y1="223.10" x2="632.80" y2="223.10" stroke="#5db5ee" stroke-width="0.9" />
<polygon points="629.60,228.18 631.30,226.48 633.00,228.18 631.30,229.88" fill="#5db5ee" />
<line x1="640.30" y1="224.48" x2="640.30" y2="210.62" stroke="#5db5ee" stroke-width="1.0" />
<line x1="638.80" y1="224.48" x2="641.80" y2="224.48" stroke="#5db5ee" stroke-width="0.9" />
<line x1="638.80" y1="210.62" x2="641.80" y2="210.62" stroke="#5db5ee" stroke-width="0.9" />
<polygon points="638.60,217.55 640.30,215.85 642.00,217.55 640.30,219.25" fill="#5db5ee" />
<line x1="649.30" y1="204.62" x2="649.30" y2="188.91" stroke="#5db5ee" stroke-width="1.0" />
<line x1="647.80" y1="204.62" x2="650.80" y2="204.62" stroke="#5db5ee" stroke-width="0.9" />
<line x1="647.80" y1="188.91" x2="650.80" y2="188.91" stroke="#5db5ee" stroke-width="0.9" />
<polygon points="647.60,196.76 649.30,195.06 651.00,196.76 649.30,198.46" fill="#5db5ee" />
<polyline points="568.30,255.90 595.30,251.28 613.30,245.27 622.30,240.65 631.30,236.50 640.30,230.49 649.30,216.17" fill="none" stroke="#2b5a98" stroke-width="1.1" />
<polygon points="566.60,255.90 568.30,254.20 570.00,255.90 568.30,257.60" fill="#2b5a98" />
<line x1="595.30" y1="252.20" x2="595.30" y2="250.36" stroke="#2b5a98" stroke-width="1.0" />
<line x1="593.80" y1="252.20" x2="596.80" y2="252.20" stroke="#2b5a98" stroke-width="0.9" />
<line x1="593.80" y1="250.36" x2="596.80" y2="250.36" stroke="#2b5a98" stroke-width="0.9" />
<polygon points="593.60,251.28 595.30,249.58 597.00,251.28 595.30,252.98" fill="#2b5a98" />
<line x1="613.30" y1="248.05" x2="613.30" y2="242.50" stroke="#2b5a98" stroke-width="1.0" />
<line x1="611.80" y1="248.05" x2="614.80" y2="248.05" stroke="#2b5a98" stroke-width="0.9" />
<line x1="611.80" y1="242.50" x2="614.80" y2="242.50" stroke="#2b5a98" stroke-width="0.9" />
<polygon points="611.60,245.27 613.30,243.57 615.00,245.27 613.30,246.97" fill="#2b5a98" />
<line x1="622.30" y1="244.35" x2="622.30" y2="236.96" stroke="#2b5a98" stroke-width="1.0" />
<line x1="620.80" y1="244.35" x2="623.80" y2="244.35" stroke="#2b5a98" stroke-width="0.9" />
<line x1="620.80" y1="236.96" x2="623.80" y2="236.96" stroke="#2b5a98" stroke-width="0.9" />
<polygon points="620.60,240.65 622.30,238.95 624.00,240.65 622.30,242.35" fill="#2b5a98" />
<line x1="631.30" y1="241.12" x2="631.30" y2="231.88" stroke="#2b5a98" stroke-width="1.0" />
<line x1="629.80" y1="241.12" x2="632.80" y2="241.12" stroke="#2b5a98" stroke-width="0.9" />
<line x1="629.80" y1="231.88" x2="632.80" y2="231.88" stroke="#2b5a98" stroke-width="0.9" />
<polygon points="629.60,236.50 631.30,234.80 633.00,236.50 631.30,238.20" fill="#2b5a98" />
<line x1="640.30" y1="236.50" x2="640.30" y2="224.48" stroke="#2b5a98" stroke-width="1.0" />
<line x1="638.80" y1="236.50" x2="641.80" y2="236.50" stroke="#2b5a98" stroke-width="0.9" />
<line x1="638.80" y1="224.48" x2="641.80" y2="224.48" stroke="#2b5a98" stroke-width="0.9" />
<polygon points="638.60,230.49 640.30,228.79 642.00,230.49 640.30,232.19" fill="#2b5a98" />
<line x1="649.30" y1="223.10" x2="649.30" y2="209.24" stroke="#2b5a98" stroke-width="1.0" />
<line x1="647.80" y1="223.10" x2="650.80" y2="223.10" stroke="#2b5a98" stroke-width="0.9" />
<line x1="647.80" y1="209.24" x2="650.80" y2="209.24" stroke="#2b5a98" stroke-width="0.9" />
<polygon points="647.60,216.17 649.30,214.47 651.00,216.17 649.30,217.87" fill="#2b5a98" />
<line x1="570.30" y1="187.50" x2="575.50" y2="187.50" stroke="#2b5a98" stroke-width="1.1" />
<polygon points="571.10,187.50 572.90,185.70 574.70,187.50 572.90,189.30" fill="#2b5a98" />
<text font-size="8.2" transform="translate(577.80 190.40) translate(0 0.3) scale(1 1.15)" >Veh</text>
<line x1="570.30" y1="195.10" x2="575.50" y2="195.10" stroke="#5db5ee" stroke-width="1.1" />
<polygon points="571.10,195.10 572.90,193.30 574.70,195.10 572.90,196.90" fill="#5db5ee" />
<text font-size="8.2" transform="translate(577.80 198.00) translate(0 0.3) scale(1 1.15)" >Gal</text>
<line x1="570.30" y1="202.70" x2="575.50" y2="202.70" stroke="#ee6262" stroke-width="1.1" />
<polygon points="571.10,202.70 572.90,200.90 574.70,202.70 572.90,204.50" fill="#ee6262" />
<text font-size="8.2" transform="translate(577.80 205.60) translate(0 0.3) scale(1 1.15)" >Dev</text>
<line x1="570.30" y1="210.30" x2="575.50" y2="210.30" stroke="#f8b4b4" stroke-width="1.1" />
<polygon points="571.10,210.30 572.90,208.50 574.70,210.30 572.90,212.10" fill="#f8b4b4" />
<text font-size="8.2" transform="translate(577.80 213.20) translate(0 0.3) scale(1 1.15)" >Gal&amp;Dev</text>
<line x1="653.30" y1="196.20" x2="653.30" y2="216.20" stroke="#1a1a1a" stroke-width="0.7" />
<line x1="651.70" y1="196.20" x2="653.30" y2="196.20" stroke="#1a1a1a" stroke-width="0.7" />
<line x1="651.70" y1="216.20" x2="653.30" y2="216.20" stroke="#1a1a1a" stroke-width="0.7" />
<text font-size="6.4" text-anchor="middle" transform="translate(655.20 206.60) rotate(90) translate(0 0.3) scale(1 1.15)" textLength="29.6" lengthAdjust="spacingAndGlyphs">P &lt; 0.0001</text>
<line x1="661.30" y1="216.20" x2="661.30" y2="235.40" stroke="#1a1a1a" stroke-width="0.7" />
<line x1="659.70" y1="216.20" x2="661.30" y2="216.20" stroke="#1a1a1a" stroke-width="0.7" />
<line x1="659.70" y1="235.40" x2="661.30" y2="235.40" stroke="#1a1a1a" stroke-width="0.7" />
<text font-size="6.4" text-anchor="middle" transform="translate(663.20 226.50) rotate(90) translate(0 0.3) scale(1 1.15)" textLength="29.1" lengthAdjust="spacingAndGlyphs">P &lt; 0.0001</text>
<line x1="669.60" y1="216.20" x2="669.60" y2="237.00" stroke="#1a1a1a" stroke-width="0.7" />
<line x1="668.00" y1="216.20" x2="669.60" y2="216.20" stroke="#1a1a1a" stroke-width="0.7" />
<line x1="668.00" y1="237.00" x2="669.60" y2="237.00" stroke="#1a1a1a" stroke-width="0.7" />
<text font-size="6.4" text-anchor="middle" transform="translate(671.50 227.60) rotate(90) translate(0 0.3) scale(1 1.15)" textLength="30.2" lengthAdjust="spacingAndGlyphs">P &lt; 0.0001</text>
<line x1="678.50" y1="196.20" x2="678.50" y2="236.00" stroke="#333" stroke-width="0.7" />
<line x1="676.90" y1="196.20" x2="678.50" y2="196.20" stroke="#333" stroke-width="0.7" />
<line x1="676.90" y1="236.00" x2="678.50" y2="236.00" stroke="#333" stroke-width="0.7" />
<text font-size="6.4" text-anchor="middle" fill="#333" transform="translate(680.30 216.70) rotate(90) translate(0 0.3) scale(1 1.15)" textLength="30.2" lengthAdjust="spacingAndGlyphs">P &lt; 0.0001</text>
<text font-size="12.4" font-weight="bold" fill="#000" transform="translate(7.10 303.20)" >I</text>
<text font-size="7.7" text-anchor="middle" transform="translate(81.60 325.20) translate(0 0.3) scale(1 1.15)" >HGC27</text>
<line x1="44.60" y1="328.20" x2="44.60" y2="410.40" stroke="#1a1a1a" stroke-width="1.0" />
<line x1="44.60" y1="410.40" x2="118.80" y2="410.40" stroke="#1a1a1a" stroke-width="1.0" />
<line x1="42.60" y1="410.00" x2="44.60" y2="410.00" stroke="#1a1a1a" stroke-width="0.8" />
<text font-size="7.4" text-anchor="end" transform="translate(43.20 412.70) translate(0 0.3) scale(1 1.15)" >0</text>
<line x1="42.60" y1="392.40" x2="44.60" y2="392.40" stroke="#1a1a1a" stroke-width="0.8" />
<text font-size="7.4" text-anchor="end" transform="translate(43.20 395.10) translate(0 0.3) scale(1 1.15)" >500</text>
<line x1="42.60" y1="374.80" x2="44.60" y2="374.80" stroke="#1a1a1a" stroke-width="0.8" />
<text font-size="7.4" text-anchor="end" transform="translate(43.20 377.50) translate(0 0.3) scale(1 1.15)" >1000</text>
<line x1="42.60" y1="357.20" x2="44.60" y2="357.20" stroke="#1a1a1a" stroke-width="0.8" />
<text font-size="7.4" text-anchor="end" transform="translate(43.20 359.90) translate(0 0.3) scale(1 1.15)" >1500</text>
<line x1="42.60" y1="339.60" x2="44.60" y2="339.60" stroke="#1a1a1a" stroke-width="0.8" />
<text font-size="7.4" text-anchor="end" transform="translate(43.20 342.30) translate(0 0.3) scale(1 1.15)" >2000</text>
<text font-size="7.6" text-anchor="middle" transform="translate(23.90 369.50) rotate(-90) translate(0 0.3) scale(1 1.15)" >Tumor weight (mg)</text>
<rect x="48.10" y="384.30" width="14.40" height="25.70" fill="#2e5f9c" stroke="#111" stroke-width="0.9" />
<line x1="55.30" y1="388.88" x2="55.30" y2="379.73" stroke="#1a1a1a" stroke-width="0.9" />
<line x1="53.70" y1="379.73" x2="56.90" y2="379.73" stroke="#1a1a1a" stroke-width="0.9" />
<line x1="53.70" y1="388.88" x2="56.90" y2="388.88" stroke="#1a1a1a" stroke-width="0.9" />
<circle cx="53.80" cy="379.38" r="1.50" fill="#000" />
<circle cx="56.30" cy="381.84" r="1.50" fill="#000" />
<circle cx="54.30" cy="384.66" r="1.50" fill="#000" />
<circle cx="56.80" cy="386.77" r="1.50" fill="#000" />
<circle cx="55.30" cy="387.82" r="1.50" fill="#000" />
<rect x="65.70" y="371.98" width="14.80" height="38.02" fill="#62b6f3" stroke="#111" stroke-width="0.9" />
<line x1="73.10" y1="377.26" x2="73.10" y2="366.70" stroke="#1a1a1a" stroke-width="0.9" />
<line x1="71.50" y1="366.70" x2="74.70" y2="366.70" stroke="#1a1a1a" stroke-width="0.9" />
<line x1="71.50" y1="377.26" x2="74.70" y2="377.26" stroke="#1a1a1a" stroke-width="0.9" />
<circle cx="72.10" cy="367.06" r="1.50" fill="#000" />
<circle cx="74.10" cy="369.52" r="1.50" fill="#000" />
<circle cx="73.10" cy="371.98" r="1.50" fill="#000" />
<circle cx="71.90" cy="374.80" r="1.50" fill="#000" />
<circle cx="74.10" cy="377.26" r="1.50" fill="#000" />
<rect x="83.60" y="397.68" width="14.10" height="12.32" fill="#ee6060" stroke="#111" stroke-width="0.9" />
<line x1="90.65" y1="400.14" x2="90.65" y2="395.22" stroke="#1a1a1a" stroke-width="0.9" />
<line x1="89.05" y1="395.22" x2="92.25" y2="395.22" stroke="#1a1a1a" stroke-width="0.9" />
<line x1="89.05" y1="400.14" x2="92.25" y2="400.14" stroke="#1a1a1a" stroke-width="0.9" />
<circle cx="89.65" cy="394.86" r="1.50" fill="#000" />
<circle cx="91.65" cy="396.62" r="1.50" fill="#000" />
<circle cx="90.65" cy="398.38" r="1.50" fill="#000" />
<circle cx="89.15" cy="399.44" r="1.50" fill="#000" />
<circle cx="91.65" cy="399.79" r="1.50" fill="#000" />
<rect x="101.20" y="397.33" width="14.50" height="12.67" fill="#fbbaba" stroke="#111" stroke-width="0.9" />
<line x1="108.45" y1="401.90" x2="108.45" y2="392.75" stroke="#1a1a1a" stroke-width="0.9" />
<line x1="106.85" y1="392.75" x2="110.05" y2="392.75" stroke="#1a1a1a" stroke-width="0.9" />
<line x1="106.85" y1="401.90" x2="110.05" y2="401.90" stroke="#1a1a1a" stroke-width="0.9" />
<circle cx="108.45" cy="391.70" r="1.50" fill="#000" />
<circle cx="107.25" cy="395.92" r="1.50" fill="#000" />
<circle cx="109.65" cy="397.68" r="1.50" fill="#000" />
<circle cx="108.45" cy="399.44" r="1.50" fill="#000" />
<line x1="72.70" y1="335.80" x2="108.60" y2="335.80" stroke="#1a1a1a" stroke-width="0.8" />
<line x1="72.70" y1="335.40" x2="72.70" y2="337.60" stroke="#1a1a1a" stroke-width="0.8" />
<line x1="108.60" y1="335.40" x2="108.60" y2="337.60" stroke="#1a1a1a" stroke-width="0.8" />
<text font-size="6.2" text-anchor="middle" transform="translate(90.70 333.50) translate(0 0.3) scale(1 1.15)" textLength="29.9" lengthAdjust="spacingAndGlyphs">P &lt; 0.0001</text>
<line x1="55.10" y1="344.90" x2="108.60" y2="344.90" stroke="#1a1a1a" stroke-width="0.8" />
<line x1="55.10" y1="344.50" x2="55.10" y2="346.70" stroke="#1a1a1a" stroke-width="0.8" />
<line x1="108.60" y1="344.50" x2="108.60" y2="346.70" stroke="#1a1a1a" stroke-width="0.8" />
<text font-size="6.2" text-anchor="middle" transform="translate(81.90 342.30) translate(0 0.3) scale(1 1.15)" textLength="31.0" lengthAdjust="spacingAndGlyphs">P = 0.0001</text>
<line x1="55.10" y1="353.40" x2="91.00" y2="353.40" stroke="#1a1a1a" stroke-width="0.8" />
<line x1="55.10" y1="353.00" x2="55.10" y2="355.20" stroke="#1a1a1a" stroke-width="0.8" />
<line x1="91.00" y1="353.00" x2="91.00" y2="355.20" stroke="#1a1a1a" stroke-width="0.8" />
<text font-size="6.2" text-anchor="middle" transform="translate(73.10 351.10) translate(0 0.3) scale(1 1.15)" textLength="29.9" lengthAdjust="spacingAndGlyphs">P &lt; 0.0001</text>
<line x1="55.10" y1="362.50" x2="72.70" y2="362.50" stroke="#1a1a1a" stroke-width="0.8" />
<line x1="55.10" y1="362.10" x2="55.10" y2="364.30" stroke="#1a1a1a" stroke-width="0.8" />
<line x1="72.70" y1="362.10" x2="72.70" y2="364.30" stroke="#1a1a1a" stroke-width="0.8" />
<text font-size="6.2" text-anchor="middle" transform="translate(64.00 360.40) translate(0 0.3) scale(1 1.15)" textLength="30.4" lengthAdjust="spacingAndGlyphs">P = 0.0003</text>
<line x1="91.00" y1="388.60" x2="108.60" y2="388.60" stroke="#1a1a1a" stroke-width="0.8" />
<line x1="91.00" y1="388.20" x2="91.00" y2="390.40" stroke="#1a1a1a" stroke-width="0.8" />
<line x1="108.60" y1="388.20" x2="108.60" y2="390.40" stroke="#1a1a1a" stroke-width="0.8" />
<text font-size="6.2" text-anchor="middle" transform="translate(99.80 386.30) translate(0 0.3) scale(1 1.15)" >NS</text>
<text font-size="7.7" text-anchor="end" transform="translate(57.90 414.20) rotate(-45) translate(0 0.3) scale(1 1.15)" >Veh</text>
<text font-size="7.7" text-anchor="end" transform="translate(75.70 414.20) rotate(-45) translate(0 0.3) scale(1 1.15)" >Gal</text>
<text font-size="7.7" text-anchor="end" transform="translate(93.25 414.20) rotate(-45) translate(0 0.3) scale(1 1.15)" >Dev</text>
<text font-size="7.7" text-anchor="end" transform="translate(111.05 414.20) rotate(-45) translate(0 0.3) scale(1 1.15)" >Gal&amp;Dev</text>
<text font-size="12.4" font-weight="bold" fill="#000" transform="translate(126.20 303.20)" >J</text>
<text font-size="7.2" text-anchor="middle" transform="translate(151.10 346.40) translate(0 0.3) scale(1 1.15)" >HGC27-luc</text>
<text font-size="7.2" text-anchor="middle" transform="translate(150.30 354.80) translate(0 0.3) scale(1 1.15)" >i.p.</text>
<path d="M 143 362.5 Q 147.5 358.5 152 362.5 L 153.5 368 Q 157 372 157 380 L 157 389 Q 156 392.5 152 392.8 L 142.5 392.8 Q 138.5 392.5 138.5 388 L 138.5 378 Q 138.5 371 141.5 368 Z" fill="#f4c4c0" stroke="#444" stroke-width="0.6" />
<ellipse cx="138.30" cy="372.00" rx="1.30" ry="2.20" fill="#f4c4c0" stroke="#444" stroke-width="0.5" />
<ellipse cx="156.60" cy="371.00" rx="1.30" ry="2.20" fill="#f4c4c0" stroke="#444" stroke-width="0.5" />
<path d="M 144 359 L 150 363 M 150 359 L 144 363 M 143.5 361 L 150.5 361" fill="none" stroke="#666" stroke-width="0.4" />
<path d="M 147 392.8 L 147 400 Q 146.5 404 144.5 407" fill="none" stroke="#555" stroke-width="0.7" />
<path d="M 140.5 384 Q 144 386.5 147 384 Q 150 386.5 153.5 384" fill="none" stroke="#b08a28" stroke-width="1.2" stroke-dasharray="0.9 0.7"/>
<polygon points="148.80,376.50 151.20,377.80 155.80,369.50 153.40,368.20" fill="#f0cc20" stroke="#777" stroke-width="0.4" />
<line x1="154.60" y1="368.80" x2="157.40" y2="361.80" stroke="#8a9aa4" stroke-width="1.3" />
<text font-size="7.2" text-anchor="middle" transform="translate(151.40 402.70) translate(0 0.3) scale(1 1.15)" >BALB/c nu</text>
<line x1="166.60" y1="350.00" x2="166.60" y2="358.50" stroke="#c62828" stroke-width="0.8" />
<polygon points="165.10,357.50 168.10,357.50 166.60,360.70" fill="#c62828" />
<line x1="166.60" y1="367.00" x2="166.60" y2="376.50" stroke="#2a4c9c" stroke-width="0.8" />
<polygon points="165.10,375.50 168.10,375.50 166.60,378.80" fill="#2a4c9c" />
<line x1="172.10" y1="350.00" x2="172.10" y2="358.50" stroke="#c62828" stroke-width="0.8" />
<polygon points="170.60,357.50 173.60,357.50 172.10,360.70" fill="#c62828" />
<line x1="172.10" y1="367.00" x2="172.10" y2="376.50" stroke="#2a4c9c" stroke-width="0.8" />
<polygon points="170.60,375.50 173.60,375.50 172.10,378.80" fill="#2a4c9c" />
<text font-size="6.9" text-anchor="middle" transform="translate(197.20 352.00) translate(0 0.3) scale(1 1.15)" >Galunisertib</text>
<text font-size="6.9" text-anchor="middle" transform="translate(197.50 360.00) translate(0 0.3) scale(1 1.15)" >(75 mg/kg)</text>
<text font-size="6.9" text-anchor="middle" transform="translate(197.20 369.90) translate(0 0.3) scale(1 1.15)" >Devimistat</text>
<text font-size="6.9" text-anchor="middle" transform="translate(197.50 378.00) translate(0 0.3) scale(1 1.15)" >(25 mg/kg)</text>
<line x1="158.50" y1="383.80" x2="218.00" y2="383.80" stroke="#333" stroke-width="0.9" />
<polygon points="217.00,381.80 221.00,383.80 217.00,385.80" fill="#333" />
<text font-size="6.9" text-anchor="middle" transform="translate(190.70 392.20) translate(0 0.3) scale(1 1.15)" >q3d i.p. for 8 weeks</text>
<rect x="224.70" y="372.30" width="19.90" height="19.40" fill="#f6b9ab" stroke="#444" stroke-width="0.6" />
<text font-size="6.9" text-anchor="middle" transform="translate(234.60 384.50) translate(0 0.3) scale(1 1.15)" >BLI</text>
<text font-size="12.4" font-weight="bold" fill="#000" transform="translate(250.20 303.20)" >K</text>
<text font-size="8.4" text-anchor="middle" transform="translate(336.50 301.90) translate(0 0.3) scale(1 1.15)" >HGC27</text>
<line x1="285.20" y1="305.20" x2="381.20" y2="305.20" stroke="#555" stroke-width="0.9" />
<text font-size="8.4" text-anchor="end" transform="translate(283.60 325.25) translate(0 0.3) scale(1 1.15)" >Veh</text>
<text font-size="8.4" text-anchor="end" transform="translate(283.60 356.60) translate(0 0.3) scale(1 1.15)" >Gal</text>
<text font-size="8.4" text-anchor="end" transform="translate(283.60 388.00) translate(0 0.3) scale(1 1.15)" >Dev</text>
<text font-size="8.4" text-anchor="end" transform="translate(283.60 419.50) translate(0 0.3) scale(1 1.15)" >Gal&amp;Dev</text>
<defs><radialGradient id="hot"><stop offset="0" stop-color="#ff2000"/><stop offset="0.35" stop-color="#ff3000"/><stop offset="0.55" stop-color="#20e020"/><stop offset="0.7" stop-color="#0040ff"/><stop offset="1" stop-color="#5000ff" stop-opacity="0.9"/></radialGradient><radialGradient id="hot2"><stop offset="0" stop-color="#20d020"/><stop offset="0.4" stop-color="#1060ff"/><stop offset="1" stop-color="#6010ff" stop-opacity="0.9"/></radialGradient></defs>
<defs><radialGradient id="pur"><stop offset="0" stop-color="#3020ff" stop-opacity="0.95"/><stop offset="0.7" stop-color="#6a10ff" stop-opacity="0.85"/><stop offset="1" stop-color="#8000ff" stop-opacity="0"/></radialGradient></defs>
<rect x="285.30" y="307.90" width="14.40" height="28.70" fill="#353535" />
<line x1="287.10" y1="307.90" x2="287.10" y2="336.60" stroke="#4a4a4a" stroke-width="1.4" />
<line x1="297.90" y1="307.90" x2="297.90" y2="336.60" stroke="#4a4a4a" stroke-width="1.4" />
<path d="M 291.3 309.09999999999997 Q 292.5 308.2 293.7 309.09999999999997 L 294.3 311.9 Q 295.1 314.4 294.9 315.9 L 296.7 317.4 L 295.9 318.4 Q 297.1 321.9 297.0 325.9 Q 297.2 329.9 296.3 331.9 L 298.5 335.40000000000003 L 296.5 335.8 L 294.7 333.6 L 292.5 334.1 L 290.3 333.6 L 288.5 335.8 L 286.5 335.40000000000003 L 288.7 331.9 Q 287.8 329.9 288.0 325.9 Q 287.9 321.9 289.1 318.4 L 288.3 317.4 L 290.1 315.9 Q 289.9 314.4 290.7 311.9 Z" fill="#d2d2d2" />
<ellipse cx="292.50" cy="324.90" rx="3.40" ry="6.50" fill="#e8e8e8" filter="url(#orgb)"/>
<ellipse cx="292.50" cy="312.90" rx="1.40" ry="3.00" fill="#e2e2e2" />
<ellipse cx="292.50" cy="325.12" rx="3.60" ry="6.50" fill="url(#pur)" />
<ellipse cx="292.13" cy="323.86" rx="1.70" ry="1.49" fill="url(#hot)" />
<ellipse cx="293.39" cy="326.24" rx="1.61" ry="2.31" fill="url(#hot)" />
<ellipse cx="291.42" cy="329.00" rx="1.76" ry="2.25" fill="url(#hot)" />
<ellipse cx="293.81" cy="327.25" rx="2.05" ry="2.10" fill="url(#hot)" />
<ellipse cx="290.93" cy="326.35" rx="1.45" ry="2.17" fill="url(#hot)" />
<rect x="301.75" y="307.90" width="14.40" height="28.70" fill="#353535" />
<line x1="303.55" y1="307.90" x2="303.55" y2="336.60" stroke="#4a4a4a" stroke-width="1.4" />
<line x1="314.35" y1="307.90" x2="314.35" y2="336.60" stroke="#4a4a4a" stroke-width="1.4" />
<path d="M 307.75 309.09999999999997 Q 308.95 308.2 310.15 309.09999999999997 L 310.75 311.9 Q 311.55 314.4 311.34999999999997 315.9 L 313.15 317.4 L 312.34999999999997 318.4 Q 313.55 321.9 313.45 325.9 Q 313.65 329.9 312.75 331.9 L 314.95 335.40000000000003 L 312.95 335.8 L 311.15 333.6 L 308.95 334.1 L 306.75 333.6 L 304.95 335.8 L 302.95 335.40000000000003 L 305.15 331.9 Q 304.25 329.9 304.45 325.9 Q 304.34999999999997 321.9 305.55 318.4 L 304.75 317.4 L 306.55 315.9 Q 306.34999999999997 314.4 307.15 311.9 Z" fill="#d2d2d2" />
<ellipse cx="308.95" cy="324.90" rx="3.40" ry="6.50" fill="#e8e8e8" filter="url(#orgb)"/>
<ellipse cx="308.95" cy="312.90" rx="1.40" ry="3.00" fill="#e2e2e2" />
<ellipse cx="308.95" cy="325.12" rx="3.60" ry="6.50" fill="url(#pur)" />
<ellipse cx="307.44" cy="327.90" rx="1.91" ry="2.35" fill="url(#hot)" />
<ellipse cx="307.70" cy="326.24" rx="2.27" ry="2.00" fill="url(#hot)" />
<ellipse cx="308.13" cy="321.64" rx="2.33" ry="1.82" fill="url(#hot)" />
<rect x="318.20" y="307.90" width="14.40" height="28.70" fill="#353535" />
<line x1="320.00" y1="307.90" x2="320.00" y2="336.60" stroke="#4a4a4a" stroke-width="1.4" />
<line x1="330.80" y1="307.90" x2="330.80" y2="336.60" stroke="#4a4a4a" stroke-width="1.4" />
<path d="M 324.2 309.09999999999997 Q 325.4 308.2 326.59999999999997 309.09999999999997 L 327.2 311.9 Q 328.0 314.4 327.79999999999995 315.9 L 329.59999999999997 317.4 L 328.79999999999995 318.4 Q 330.0 321.9 329.9 325.9 Q 330.09999999999997 329.9 329.2 331.9 L 331.4 335.40000000000003 L 329.4 335.8 L 327.59999999999997 333.6 L 325.4 334.1 L 323.2 333.6 L 321.4 335.8 L 319.4 335.40000000000003 L 321.59999999999997 331.9 Q 320.7 329.9 320.9 325.9 Q 320.79999999999995 321.9 322.0 318.4 L 321.2 317.4 L 323.0 315.9 Q 322.79999999999995 314.4 323.59999999999997 311.9 Z" fill="#d2d2d2" />
<ellipse cx="325.40" cy="324.90" rx="3.40" ry="6.50" fill="#e8e8e8" filter="url(#orgb)"/>
<ellipse cx="325.40" cy="312.90" rx="1.40" ry="3.00" fill="#e2e2e2" />
<ellipse cx="325.40" cy="325.12" rx="3.60" ry="6.50" fill="url(#pur)" />
<ellipse cx="323.85" cy="328.97" rx="2.19" ry="2.31" fill="url(#hot)" />
<ellipse cx="323.32" cy="324.55" rx="1.36" ry="2.13" fill="url(#hot)" />
<ellipse cx="324.77" cy="330.45" rx="1.71" ry="2.15" fill="url(#hot)" />
<ellipse cx="326.99" cy="323.22" rx="1.91" ry="2.35" fill="url(#hot)" />
<ellipse cx="325.52" cy="324.43" rx="1.59" ry="2.17" fill="url(#hot)" />
<rect x="334.65" y="307.90" width="14.40" height="28.70" fill="#353535" />
<line x1="336.45" y1="307.90" x2="336.45" y2="336.60" stroke="#4a4a4a" stroke-width="1.4" />
<line x1="347.25" y1="307.90" x2="347.25" y2="336.60" stroke="#4a4a4a" stroke-width="1.4" />
<path d="M 340.65 309.09999999999997 Q 341.84999999999997 308.2 343.04999999999995 309.09999999999997 L 343.65 311.9 Q 344.45 314.4 344.24999999999994 315.9 L 346.04999999999995 317.4 L 345.24999999999994 318.4 Q 346.45 321.9 346.34999999999997 325.9 Q 346.54999999999995 329.9 345.65 331.9 L 347.84999999999997 335.40000000000003 L 345.84999999999997 335.8 L 344.04999999999995 333.6 L 341.84999999999997 334.1 L 339.65 333.6 L 337.84999999999997 335.8 L 335.84999999999997 335.40000000000003 L 338.04999999999995 331.9 Q 337.15 329.9 337.34999999999997 325.9 Q 337.24999999999994 321.9 338.45 318.4 L 337.65 317.4 L 339.45 315.9 Q 339.24999999999994 314.4 340.04999999999995 311.9 Z" fill="#d2d2d2" />
<ellipse cx="341.85" cy="324.90" rx="3.40" ry="6.50" fill="#e8e8e8" filter="url(#orgb)"/>
<ellipse cx="341.85" cy="312.90" rx="1.40" ry="3.00" fill="#e2e2e2" />
<ellipse cx="341.85" cy="325.12" rx="3.60" ry="6.50" fill="url(#pur)" />
<ellipse cx="342.92" cy="329.14" rx="1.89" ry="2.29" fill="url(#hot)" />
<ellipse cx="340.77" cy="323.90" rx="1.68" ry="1.49" fill="url(#hot)" />
<ellipse cx="340.10" cy="326.59" rx="2.16" ry="1.67" fill="url(#hot)" />
<rect x="351.10" y="307.90" width="14.40" height="28.70" fill="#353535" />
<line x1="352.90" y1="307.90" x2="352.90" y2="336.60" stroke="#4a4a4a" stroke-width="1.4" />
<line x1="363.70" y1="307.90" x2="363.70" y2="336.60" stroke="#4a4a4a" stroke-width="1.4" />
<path d="M 357.1 309.09999999999997 Q 358.3 308.2 359.5 309.09999999999997 L 360.1 311.9 Q 360.90000000000003 314.4 360.7 315.9 L 362.5 317.4 L 361.7 318.4 Q 362.90000000000003 321.9 362.8 325.9 Q 363.0 329.9 362.1 331.9 L 364.3 335.40000000000003 L 362.3 335.8 L 360.5 333.6 L 358.3 334.1 L 356.1 333.6 L 354.3 335.8 L 352.3 335.40000000000003 L 354.5 331.9 Q 353.6 329.9 353.8 325.9 Q 353.7 321.9 354.90000000000003 318.4 L 354.1 317.4 L 355.90000000000003 315.9 Q 355.7 314.4 356.5 311.9 Z" fill="#d2d2d2" />
<ellipse cx="358.30" cy="324.90" rx="3.40" ry="6.50" fill="#e8e8e8" filter="url(#orgb)"/>
<ellipse cx="358.30" cy="312.90" rx="1.40" ry="3.00" fill="#e2e2e2" />
<ellipse cx="358.30" cy="325.12" rx="3.60" ry="6.50" fill="url(#pur)" />
<ellipse cx="359.39" cy="324.31" rx="1.81" ry="1.60" fill="url(#hot)" />
<ellipse cx="358.88" cy="328.14" rx="1.64" ry="1.38" fill="url(#hot)" />
<ellipse cx="360.40" cy="329.96" rx="1.32" ry="1.92" fill="url(#hot)" />
<rect x="367.55" y="307.90" width="14.40" height="28.70" fill="#353535" />
<line x1="369.35" y1="307.90" x2="369.35" y2="336.60" stroke="#4a4a4a" stroke-width="1.4" />
<line x1="380.15" y1="307.90" x2="380.15" y2="336.60" stroke="#4a4a4a" stroke-width="1.4" />
<path d="M 373.55 309.09999999999997 Q 374.75 308.2 375.95 309.09999999999997 L 376.55 311.9 Q 377.35 314.4 377.15 315.9 L 378.95 317.4 L 378.15 318.4 Q 379.35 321.9 379.25 325.9 Q 379.45 329.9 378.55 331.9 L 380.75 335.40000000000003 L 378.75 335.8 L 376.95 333.6 L 374.75 334.1 L 372.55 333.6 L 370.75 335.8 L 368.75 335.40000000000003 L 370.95 331.9 Q 370.05 329.9 370.25 325.9 Q 370.15 321.9 371.35 318.4 L 370.55 317.4 L 372.35 315.9 Q 372.15 314.4 372.95 311.9 Z" fill="#d2d2d2" />
<ellipse cx="374.75" cy="324.90" rx="3.40" ry="6.50" fill="#e8e8e8" filter="url(#orgb)"/>
<ellipse cx="374.75" cy="312.90" rx="1.40" ry="3.00" fill="#e2e2e2" />
<ellipse cx="374.75" cy="325.12" rx="3.60" ry="6.50" fill="url(#pur)" />
<ellipse cx="373.19" cy="325.69" rx="2.35" ry="2.38" fill="url(#hot)" />
<ellipse cx="376.12" cy="322.66" rx="2.39" ry="2.36" fill="url(#hot)" />
<ellipse cx="375.51" cy="329.93" rx="1.36" ry="2.37" fill="url(#hot)" />
<ellipse cx="373.91" cy="329.75" rx="1.65" ry="1.65" fill="url(#hot)" />
<ellipse cx="373.29" cy="325.02" rx="2.06" ry="1.64" fill="url(#hot)" />
<rect x="285.30" y="339.30" width="14.40" height="28.60" fill="#353535" />
<line x1="287.10" y1="339.30" x2="287.10" y2="367.90" stroke="#4a4a4a" stroke-width="1.4" />
<line x1="297.90" y1="339.30" x2="297.90" y2="367.90" stroke="#4a4a4a" stroke-width="1.4" />
<path d="M 291.3 340.5 Q 292.5 339.6 293.7 340.5 L 294.3 343.3 Q 295.1 345.8 294.9 347.3 L 296.7 348.8 L 295.9 349.8 Q 297.1 353.3 297.0 357.3 Q 297.2 361.3 296.3 363.3 L 298.5 366.7 L 296.5 367.09999999999997 L 294.7 364.9 L 292.5 365.4 L 290.3 364.9 L 288.5 367.09999999999997 L 286.5 366.7 L 288.7 363.3 Q 287.8 361.3 288.0 357.3 Q 287.9 353.3 289.1 349.8 L 288.3 348.8 L 290.1 347.3 Q 289.9 345.8 290.7 343.3 Z" fill="#d2d2d2" />
<ellipse cx="292.50" cy="356.30" rx="3.40" ry="6.50" fill="#e8e8e8" filter="url(#orgb)"/>
<ellipse cx="292.50" cy="344.30" rx="1.40" ry="3.00" fill="#e2e2e2" />
<ellipse cx="292.95" cy="358.49" rx="1.26" ry="1.27" fill="url(#hot2)" />
<ellipse cx="291.71" cy="363.25" rx="1.66" ry="1.84" fill="url(#hot2)" />
<rect x="301.75" y="339.30" width="14.40" height="28.60" fill="#353535" />
<line x1="303.55" y1="339.30" x2="303.55" y2="367.90" stroke="#4a4a4a" stroke-width="1.4" />
<line x1="314.35" y1="339.30" x2="314.35" y2="367.90" stroke="#4a4a4a" stroke-width="1.4" />
<path d="M 307.75 340.5 Q 308.95 339.6 310.15 340.5 L 310.75 343.3 Q 311.55 345.8 311.34999999999997 347.3 L 313.15 348.8 L 312.34999999999997 349.8 Q 313.55 353.3 313.45 357.3 Q 313.65 361.3 312.75 363.3 L 314.95 366.7 L 312.95 367.09999999999997 L 311.15 364.9 L 308.95 365.4 L 306.75 364.9 L 304.95 367.09999999999997 L 302.95 366.7 L 305.15 363.3 Q 304.25 361.3 304.45 357.3 Q 304.34999999999997 353.3 305.55 349.8 L 304.75 348.8 L 306.55 347.3 Q 306.34999999999997 345.8 307.15 343.3 Z" fill="#d2d2d2" />
<ellipse cx="308.95" cy="356.30" rx="3.40" ry="6.50" fill="#e8e8e8" filter="url(#orgb)"/>
<ellipse cx="308.95" cy="344.30" rx="1.40" ry="3.00" fill="#e2e2e2" />
<ellipse cx="310.07" cy="360.06" rx="1.86" ry="1.38" fill="url(#hot)" />
<ellipse cx="309.00" cy="358.85" rx="1.97" ry="1.80" fill="url(#hot2)" />
<ellipse cx="308.90" cy="362.06" rx="1.98" ry="1.68" fill="url(#hot)" />
<rect x="318.20" y="339.30" width="14.40" height="28.60" fill="#353535" />
<line x1="320.00" y1="339.30" x2="320.00" y2="367.90" stroke="#4a4a4a" stroke-width="1.4" />
<line x1="330.80" y1="339.30" x2="330.80" y2="367.90" stroke="#4a4a4a" stroke-width="1.4" />
<path d="M 324.2 340.5 Q 325.4 339.6 326.59999999999997 340.5 L 327.2 343.3 Q 328.0 345.8 327.79999999999995 347.3 L 329.59999999999997 348.8 L 328.79999999999995 349.8 Q 330.0 353.3 329.9 357.3 Q 330.09999999999997 361.3 329.2 363.3 L 331.4 366.7 L 329.4 367.09999999999997 L 327.59999999999997 364.9 L 325.4 365.4 L 323.2 364.9 L 321.4 367.09999999999997 L 319.4 366.7 L 321.59999999999997 363.3 Q 320.7 361.3 320.9 357.3 Q 320.79999999999995 353.3 322.0 349.8 L 321.2 348.8 L 323.0 347.3 Q 322.79999999999995 345.8 323.59999999999997 343.3 Z" fill="#d2d2d2" />
<ellipse cx="325.40" cy="356.30" rx="3.40" ry="6.50" fill="#e8e8e8" filter="url(#orgb)"/>
<ellipse cx="325.40" cy="344.30" rx="1.40" ry="3.00" fill="#e2e2e2" />
<ellipse cx="326.53" cy="357.85" rx="1.66" ry="1.94" fill="url(#hot2)" />
<rect x="334.65" y="339.30" width="14.40" height="28.60" fill="#353535" />
<line x1="336.45" y1="339.30" x2="336.45" y2="367.90" stroke="#4a4a4a" stroke-width="1.4" />
<line x1="347.25" y1="339.30" x2="347.25" y2="367.90" stroke="#4a4a4a" stroke-width="1.4" />
<path d="M 340.65 340.5 Q 341.84999999999997 339.6 343.04999999999995 340.5 L 343.65 343.3 Q 344.45 345.8 344.24999999999994 347.3 L 346.04999999999995 348.8 L 345.24999999999994 349.8 Q 346.45 353.3 346.34999999999997 357.3 Q 346.54999999999995 361.3 345.65 363.3 L 347.84999999999997 366.7 L 345.84999999999997 367.09999999999997 L 344.04999999999995 364.9 L 341.84999999999997 365.4 L 339.65 364.9 L 337.84999999999997 367.09999999999997 L 335.84999999999997 366.7 L 338.04999999999995 363.3 Q 337.15 361.3 337.34999999999997 357.3 Q 337.24999999999994 353.3 338.45 349.8 L 337.65 348.8 L 339.45 347.3 Q 339.24999999999994 345.8 340.04999999999995 343.3 Z" fill="#d2d2d2" />
<ellipse cx="341.85" cy="356.30" rx="3.40" ry="6.50" fill="#e8e8e8" filter="url(#orgb)"/>
<ellipse cx="341.85" cy="344.30" rx="1.40" ry="3.00" fill="#e2e2e2" />
<ellipse cx="341.31" cy="356.51" rx="1.98" ry="1.37" fill="url(#hot)" />
<ellipse cx="341.43" cy="360.11" rx="1.61" ry="1.62" fill="url(#hot2)" />
<ellipse cx="343.12" cy="362.74" rx="1.64" ry="1.34" fill="url(#hot)" />
<rect x="351.10" y="339.30" width="14.40" height="28.60" fill="#353535" />
<line x1="352.90" y1="339.30" x2="352.90" y2="367.90" stroke="#4a4a4a" stroke-width="1.4" />
<line x1="363.70" y1="339.30" x2="363.70" y2="367.90" stroke="#4a4a4a" stroke-width="1.4" />
<path d="M 357.1 340.5 Q 358.3 339.6 359.5 340.5 L 360.1 343.3 Q 360.90000000000003 345.8 360.7 347.3 L 362.5 348.8 L 361.7 349.8 Q 362.90000000000003 353.3 362.8 357.3 Q 363.0 361.3 362.1 363.3 L 364.3 366.7 L 362.3 367.09999999999997 L 360.5 364.9 L 358.3 365.4 L 356.1 364.9 L 354.3 367.09999999999997 L 352.3 366.7 L 354.5 363.3 Q 353.6 361.3 353.8 357.3 Q 353.7 353.3 354.90000000000003 349.8 L 354.1 348.8 L 355.90000000000003 347.3 Q 355.7 345.8 356.5 343.3 Z" fill="#d2d2d2" />
<ellipse cx="358.30" cy="356.30" rx="3.40" ry="6.50" fill="#e8e8e8" filter="url(#orgb)"/>
<ellipse cx="358.30" cy="344.30" rx="1.40" ry="3.00" fill="#e2e2e2" />
<ellipse cx="359.32" cy="356.21" rx="1.64" ry="1.56" fill="url(#hot)" />
<ellipse cx="357.62" cy="363.51" rx="1.86" ry="1.57" fill="url(#hot)" />
<rect x="367.55" y="339.30" width="14.40" height="28.60" fill="#353535" />
<line x1="369.35" y1="339.30" x2="369.35" y2="367.90" stroke="#4a4a4a" stroke-width="1.4" />
<line x1="380.15" y1="339.30" x2="380.15" y2="367.90" stroke="#4a4a4a" stroke-width="1.4" />
<path d="M 373.55 340.5 Q 374.75 339.6 375.95 340.5 L 376.55 343.3 Q 377.35 345.8 377.15 347.3 L 378.95 348.8 L 378.15 349.8 Q 379.35 353.3 379.25 357.3 Q 379.45 361.3 378.55 363.3 L 380.75 366.7 L 378.75 367.09999999999997 L 376.95 364.9 L 374.75 365.4 L 372.55 364.9 L 370.75 367.09999999999997 L 368.75 366.7 L 370.95 363.3 Q 370.05 361.3 370.25 357.3 Q 370.15 353.3 371.35 349.8 L 370.55 348.8 L 372.35 347.3 Q 372.15 345.8 372.95 343.3 Z" fill="#d2d2d2" />
<ellipse cx="374.75" cy="356.30" rx="3.40" ry="6.50" fill="#e8e8e8" filter="url(#orgb)"/>
<ellipse cx="374.75" cy="344.30" rx="1.40" ry="3.00" fill="#e2e2e2" />
<ellipse cx="373.46" cy="355.88" rx="1.73" ry="1.21" fill="url(#hot2)" />
<rect x="285.30" y="370.80" width="14.40" height="28.40" fill="#353535" />
<line x1="287.10" y1="370.80" x2="287.10" y2="399.20" stroke="#4a4a4a" stroke-width="1.4" />
<line x1="297.90" y1="370.80" x2="297.90" y2="399.20" stroke="#4a4a4a" stroke-width="1.4" />
<path d="M 291.3 372.0 Q 292.5 371.1 293.7 372.0 L 294.3 374.8 Q 295.1 377.3 294.9 378.8 L 296.7 380.3 L 295.9 381.3 Q 297.1 384.8 297.0 388.8 Q 297.2 392.8 296.3 394.8 L 298.5 398.0 L 296.5 398.4 L 294.7 396.2 L 292.5 396.7 L 290.3 396.2 L 288.5 398.4 L 286.5 398.0 L 288.7 394.8 Q 287.8 392.8 288.0 388.8 Q 287.9 384.8 289.1 381.3 L 288.3 380.3 L 290.1 378.8 Q 289.9 377.3 290.7 374.8 Z" fill="#d2d2d2" />
<ellipse cx="292.50" cy="387.80" rx="3.40" ry="6.50" fill="#e8e8e8" filter="url(#orgb)"/>
<ellipse cx="292.50" cy="375.80" rx="1.40" ry="3.00" fill="#e2e2e2" />
<ellipse cx="293.23" cy="387.57" rx="1.76" ry="2.38" fill="url(#pur)" />
<ellipse cx="293.46" cy="391.99" rx="2.39" ry="2.06" fill="url(#pur)" />
<ellipse cx="293.61" cy="392.87" rx="2.29" ry="1.63" fill="url(#pur)" />
<ellipse cx="292.15" cy="386.05" rx="2.36" ry="2.34" fill="url(#pur)" />
<ellipse cx="291.15" cy="389.59" rx="1.09" ry="1.14" fill="url(#hot2)" />
<ellipse cx="292.69" cy="391.98" rx="1.58" ry="1.18" fill="url(#hot2)" />
<rect x="301.75" y="370.80" width="14.40" height="28.40" fill="#353535" />
<line x1="303.55" y1="370.80" x2="303.55" y2="399.20" stroke="#4a4a4a" stroke-width="1.4" />
<line x1="314.35" y1="370.80" x2="314.35" y2="399.20" stroke="#4a4a4a" stroke-width="1.4" />
<path d="M 307.75 372.0 Q 308.95 371.1 310.15 372.0 L 310.75 374.8 Q 311.55 377.3 311.34999999999997 378.8 L 313.15 380.3 L 312.34999999999997 381.3 Q 313.55 384.8 313.45 388.8 Q 313.65 392.8 312.75 394.8 L 314.95 398.0 L 312.95 398.4 L 311.15 396.2 L 308.95 396.7 L 306.75 396.2 L 304.95 398.4 L 302.95 398.0 L 305.15 394.8 Q 304.25 392.8 304.45 388.8 Q 304.34999999999997 384.8 305.55 381.3 L 304.75 380.3 L 306.55 378.8 Q 306.34999999999997 377.3 307.15 374.8 Z" fill="#d2d2d2" />
<ellipse cx="308.95" cy="387.80" rx="3.40" ry="6.50" fill="#e8e8e8" filter="url(#orgb)"/>
<ellipse cx="308.95" cy="375.80" rx="1.40" ry="3.00" fill="#e2e2e2" />
<ellipse cx="309.04" cy="393.47" rx="1.66" ry="2.35" fill="url(#pur)" />
<ellipse cx="309.97" cy="390.34" rx="2.29" ry="1.93" fill="url(#pur)" />
<ellipse cx="307.63" cy="386.08" rx="2.27" ry="2.52" fill="url(#pur)" />
<ellipse cx="308.70" cy="387.17" rx="0.95" ry="1.19" fill="url(#hot2)" />
<ellipse cx="309.75" cy="389.11" rx="0.99" ry="1.25" fill="url(#hot2)" />
<ellipse cx="311.00" cy="389.87" rx="1.45" ry="0.96" fill="url(#hot2)" />
<rect x="318.20" y="370.80" width="14.40" height="28.40" fill="#353535" />
<line x1="320.00" y1="370.80" x2="320.00" y2="399.20" stroke="#4a4a4a" stroke-width="1.4" />
<line x1="330.80" y1="370.80" x2="330.80" y2="399.20" stroke="#4a4a4a" stroke-width="1.4" />
<path d="M 324.2 372.0 Q 325.4 371.1 326.59999999999997 372.0 L 327.2 374.8 Q 328.0 377.3 327.79999999999995 378.8 L 329.59999999999997 380.3 L 328.79999999999995 381.3 Q 330.0 384.8 329.9 388.8 Q 330.09999999999997 392.8 329.2 394.8 L 331.4 398.0 L 329.4 398.4 L 327.59999999999997 396.2 L 325.4 396.7 L 323.2 396.2 L 321.4 398.4 L 319.4 398.0 L 321.59999999999997 394.8 Q 320.7 392.8 320.9 388.8 Q 320.79999999999995 384.8 322.0 381.3 L 321.2 380.3 L 323.0 378.8 Q 322.79999999999995 377.3 323.59999999999997 374.8 Z" fill="#d2d2d2" />
<ellipse cx="325.40" cy="387.80" rx="3.40" ry="6.50" fill="#e8e8e8" filter="url(#orgb)"/>
<ellipse cx="325.40" cy="375.80" rx="1.40" ry="3.00" fill="#e2e2e2" />
<ellipse cx="325.50" cy="388.31" rx="2.02" ry="2.36" fill="url(#pur)" />
<ellipse cx="324.20" cy="389.76" rx="1.73" ry="2.13" fill="url(#pur)" />
<ellipse cx="324.77" cy="391.84" rx="2.30" ry="2.56" fill="url(#pur)" />
<ellipse cx="325.08" cy="390.25" rx="1.73" ry="2.31" fill="url(#pur)" />
<ellipse cx="325.08" cy="387.74" rx="1.43" ry="1.43" fill="url(#hot2)" />
<ellipse cx="326.69" cy="387.46" rx="1.07" ry="1.08" fill="url(#hot2)" />
<rect x="334.65" y="370.80" width="14.40" height="28.40" fill="#353535" />
<line x1="336.45" y1="370.80" x2="336.45" y2="399.20" stroke="#4a4a4a" stroke-width="1.4" />
<line x1="347.25" y1="370.80" x2="347.25" y2="399.20" stroke="#4a4a4a" stroke-width="1.4" />
<path d="M 340.65 372.0 Q 341.84999999999997 371.1 343.04999999999995 372.0 L 343.65 374.8 Q 344.45 377.3 344.24999999999994 378.8 L 346.04999999999995 380.3 L 345.24999999999994 381.3 Q 346.45 384.8 346.34999999999997 388.8 Q 346.54999999999995 392.8 345.65 394.8 L 347.84999999999997 398.0 L 345.84999999999997 398.4 L 344.04999999999995 396.2 L 341.84999999999997 396.7 L 339.65 396.2 L 337.84999999999997 398.4 L 335.84999999999997 398.0 L 338.04999999999995 394.8 Q 337.15 392.8 337.34999999999997 388.8 Q 337.24999999999994 384.8 338.45 381.3 L 337.65 380.3 L 339.45 378.8 Q 339.24999999999994 377.3 340.04999999999995 374.8 Z" fill="#d2d2d2" />
<ellipse cx="341.85" cy="387.80" rx="3.40" ry="6.50" fill="#e8e8e8" filter="url(#orgb)"/>
<ellipse cx="341.85" cy="375.80" rx="1.40" ry="3.00" fill="#e2e2e2" />
<ellipse cx="341.41" cy="390.41" rx="1.87" ry="1.68" fill="url(#pur)" />
<ellipse cx="340.42" cy="389.39" rx="1.80" ry="1.67" fill="url(#pur)" />
<ellipse cx="341.15" cy="387.46" rx="2.33" ry="2.06" fill="url(#pur)" />
<ellipse cx="343.85" cy="391.33" rx="1.12" ry="1.50" fill="url(#hot2)" />
<ellipse cx="343.67" cy="389.38" rx="1.00" ry="0.97" fill="url(#hot2)" />
<rect x="351.10" y="370.80" width="14.40" height="28.40" fill="#353535" />
<line x1="352.90" y1="370.80" x2="352.90" y2="399.20" stroke="#4a4a4a" stroke-width="1.4" />
<line x1="363.70" y1="370.80" x2="363.70" y2="399.20" stroke="#4a4a4a" stroke-width="1.4" />
<path d="M 357.1 372.0 Q 358.3 371.1 359.5 372.0 L 360.1 374.8 Q 360.90000000000003 377.3 360.7 378.8 L 362.5 380.3 L 361.7 381.3 Q 362.90000000000003 384.8 362.8 388.8 Q 363.0 392.8 362.1 394.8 L 364.3 398.0 L 362.3 398.4 L 360.5 396.2 L 358.3 396.7 L 356.1 396.2 L 354.3 398.4 L 352.3 398.0 L 354.5 394.8 Q 353.6 392.8 353.8 388.8 Q 353.7 384.8 354.90000000000003 381.3 L 354.1 380.3 L 355.90000000000003 378.8 Q 355.7 377.3 356.5 374.8 Z" fill="#d2d2d2" />
<ellipse cx="358.30" cy="387.80" rx="3.40" ry="6.50" fill="#e8e8e8" filter="url(#orgb)"/>
<ellipse cx="358.30" cy="375.80" rx="1.40" ry="3.00" fill="#e2e2e2" />
<ellipse cx="357.39" cy="386.82" rx="2.29" ry="2.44" fill="url(#pur)" />
<ellipse cx="358.08" cy="387.30" rx="1.66" ry="2.00" fill="url(#pur)" />
<ellipse cx="359.71" cy="386.73" rx="1.85" ry="1.64" fill="url(#pur)" />
<ellipse cx="358.54" cy="385.51" rx="2.14" ry="2.09" fill="url(#pur)" />
<ellipse cx="358.78" cy="390.87" rx="1.21" ry="1.44" fill="url(#hot2)" />
<ellipse cx="356.84" cy="388.53" rx="1.03" ry="1.50" fill="url(#hot2)" />
<ellipse cx="359.32" cy="391.03" rx="1.04" ry="1.44" fill="url(#hot2)" />
<rect x="367.55" y="370.80" width="14.40" height="28.40" fill="#353535" />
<line x1="369.35" y1="370.80" x2="369.35" y2="399.20" stroke="#4a4a4a" stroke-width="1.4" />
<line x1="380.15" y1="370.80" x2="380.15" y2="399.20" stroke="#4a4a4a" stroke-width="1.4" />
<path d="M 373.55 372.0 Q 374.75 371.1 375.95 372.0 L 376.55 374.8 Q 377.35 377.3 377.15 378.8 L 378.95 380.3 L 378.15 381.3 Q 379.35 384.8 379.25 388.8 Q 379.45 392.8 378.55 394.8 L 380.75 398.0 L 378.75 398.4 L 376.95 396.2 L 374.75 396.7 L 372.55 396.2 L 370.75 398.4 L 368.75 398.0 L 370.95 394.8 Q 370.05 392.8 370.25 388.8 Q 370.15 384.8 371.35 381.3 L 370.55 380.3 L 372.35 378.8 Q 372.15 377.3 372.95 374.8 Z" fill="#d2d2d2" />
<ellipse cx="374.75" cy="387.80" rx="3.40" ry="6.50" fill="#e8e8e8" filter="url(#orgb)"/>
<ellipse cx="374.75" cy="375.80" rx="1.40" ry="3.00" fill="#e2e2e2" />
<ellipse cx="373.27" cy="390.61" rx="1.88" ry="2.10" fill="url(#pur)" />
<ellipse cx="373.45" cy="389.98" rx="2.19" ry="2.41" fill="url(#pur)" />
<ellipse cx="373.33" cy="387.01" rx="1.95" ry="1.99" fill="url(#pur)" />
<ellipse cx="375.39" cy="388.22" rx="1.87" ry="2.47" fill="url(#pur)" />
<ellipse cx="374.00" cy="388.29" rx="1.05" ry="1.02" fill="url(#hot2)" />
<ellipse cx="372.64" cy="385.84" rx="1.51" ry="1.36" fill="url(#hot2)" />
<rect x="285.30" y="401.80" width="14.40" height="29.40" fill="#353535" />
<line x1="287.10" y1="401.80" x2="287.10" y2="431.20" stroke="#4a4a4a" stroke-width="1.4" />
<line x1="297.90" y1="401.80" x2="297.90" y2="431.20" stroke="#4a4a4a" stroke-width="1.4" />
<path d="M 291.3 403.0 Q 292.5 402.1 293.7 403.0 L 294.3 405.8 Q 295.1 408.3 294.9 409.8 L 296.7 411.3 L 295.9 412.3 Q 297.1 415.8 297.0 419.8 Q 297.2 423.8 296.3 425.8 L 298.5 430.0 L 296.5 430.4 L 294.7 428.2 L 292.5 428.7 L 290.3 428.2 L 288.5 430.4 L 286.5 430.0 L 288.7 425.8 Q 287.8 423.8 288.0 419.8 Q 287.9 415.8 289.1 412.3 L 288.3 411.3 L 290.1 409.8 Q 289.9 408.3 290.7 405.8 Z" fill="#d2d2d2" />
<ellipse cx="292.50" cy="418.80" rx="3.40" ry="6.50" fill="#e8e8e8" filter="url(#orgb)"/>
<ellipse cx="292.50" cy="406.80" rx="1.40" ry="3.00" fill="#e2e2e2" />
<ellipse cx="293.92" cy="421.61" rx="0.80" ry="0.80" fill="url(#pur)" />
<rect x="301.75" y="401.80" width="14.40" height="29.40" fill="#353535" />
<line x1="303.55" y1="401.80" x2="303.55" y2="431.20" stroke="#4a4a4a" stroke-width="1.4" />
<line x1="314.35" y1="401.80" x2="314.35" y2="431.20" stroke="#4a4a4a" stroke-width="1.4" />
<path d="M 307.75 403.0 Q 308.95 402.1 310.15 403.0 L 310.75 405.8 Q 311.55 408.3 311.34999999999997 409.8 L 313.15 411.3 L 312.34999999999997 412.3 Q 313.55 415.8 313.45 419.8 Q 313.65 423.8 312.75 425.8 L 314.95 430.0 L 312.95 430.4 L 311.15 428.2 L 308.95 428.7 L 306.75 428.2 L 304.95 430.4 L 302.95 430.0 L 305.15 425.8 Q 304.25 423.8 304.45 419.8 Q 304.34999999999997 415.8 305.55 412.3 L 304.75 411.3 L 306.55 409.8 Q 306.34999999999997 408.3 307.15 405.8 Z" fill="#d2d2d2" />
<ellipse cx="308.95" cy="418.80" rx="3.40" ry="6.50" fill="#e8e8e8" filter="url(#orgb)"/>
<ellipse cx="308.95" cy="406.80" rx="1.40" ry="3.00" fill="#e2e2e2" />
<ellipse cx="307.88" cy="418.11" rx="0.80" ry="0.80" fill="url(#pur)" />
<rect x="318.20" y="401.80" width="14.40" height="29.40" fill="#353535" />
<line x1="320.00" y1="401.80" x2="320.00" y2="431.20" stroke="#4a4a4a" stroke-width="1.4" />
<line x1="330.80" y1="401.80" x2="330.80" y2="431.20" stroke="#4a4a4a" stroke-width="1.4" />
<path d="M 324.2 403.0 Q 325.4 402.1 326.59999999999997 403.0 L 327.2 405.8 Q 328.0 408.3 327.79999999999995 409.8 L 329.59999999999997 411.3 L 328.79999999999995 412.3 Q 330.0 415.8 329.9 419.8 Q 330.09999999999997 423.8 329.2 425.8 L 331.4 430.0 L 329.4 430.4 L 327.59999999999997 428.2 L 325.4 428.7 L 323.2 428.2 L 321.4 430.4 L 319.4 430.0 L 321.59999999999997 425.8 Q 320.7 423.8 320.9 419.8 Q 320.79999999999995 415.8 322.0 412.3 L 321.2 411.3 L 323.0 409.8 Q 322.79999999999995 408.3 323.59999999999997 405.8 Z" fill="#d2d2d2" />
<ellipse cx="325.40" cy="418.80" rx="3.40" ry="6.50" fill="#e8e8e8" filter="url(#orgb)"/>
<ellipse cx="325.40" cy="406.80" rx="1.40" ry="3.00" fill="#e2e2e2" />
<ellipse cx="326.43" cy="419.50" rx="0.80" ry="0.80" fill="url(#pur)" />
<rect x="334.65" y="401.80" width="14.40" height="29.40" fill="#353535" />
<line x1="336.45" y1="401.80" x2="336.45" y2="431.20" stroke="#4a4a4a" stroke-width="1.4" />
<line x1="347.25" y1="401.80" x2="347.25" y2="431.20" stroke="#4a4a4a" stroke-width="1.4" />
<path d="M 340.65 403.0 Q 341.84999999999997 402.1 343.04999999999995 403.0 L 343.65 405.8 Q 344.45 408.3 344.24999999999994 409.8 L 346.04999999999995 411.3 L 345.24999999999994 412.3 Q 346.45 415.8 346.34999999999997 419.8 Q 346.54999999999995 423.8 345.65 425.8 L 347.84999999999997 430.0 L 345.84999999999997 430.4 L 344.04999999999995 428.2 L 341.84999999999997 428.7 L 339.65 428.2 L 337.84999999999997 430.4 L 335.84999999999997 430.0 L 338.04999999999995 425.8 Q 337.15 423.8 337.34999999999997 419.8 Q 337.24999999999994 415.8 338.45 412.3 L 337.65 411.3 L 339.45 409.8 Q 339.24999999999994 408.3 340.04999999999995 405.8 Z" fill="#d2d2d2" />
<ellipse cx="341.85" cy="418.80" rx="3.40" ry="6.50" fill="#e8e8e8" filter="url(#orgb)"/>
<ellipse cx="341.85" cy="406.80" rx="1.40" ry="3.00" fill="#e2e2e2" />
<ellipse cx="343.00" cy="425.23" rx="0.80" ry="0.80" fill="url(#pur)" />
<rect x="351.10" y="401.80" width="14.40" height="29.40" fill="#353535" />
<line x1="352.90" y1="401.80" x2="352.90" y2="431.20" stroke="#4a4a4a" stroke-width="1.4" />
<line x1="363.70" y1="401.80" x2="363.70" y2="431.20" stroke="#4a4a4a" stroke-width="1.4" />
<path d="M 357.1 403.0 Q 358.3 402.1 359.5 403.0 L 360.1 405.8 Q 360.90000000000003 408.3 360.7 409.8 L 362.5 411.3 L 361.7 412.3 Q 362.90000000000003 415.8 362.8 419.8 Q 363.0 423.8 362.1 425.8 L 364.3 430.0 L 362.3 430.4 L 360.5 428.2 L 358.3 428.7 L 356.1 428.2 L 354.3 430.4 L 352.3 430.0 L 354.5 425.8 Q 353.6 423.8 353.8 419.8 Q 353.7 415.8 354.90000000000003 412.3 L 354.1 411.3 L 355.90000000000003 409.8 Q 355.7 408.3 356.5 405.8 Z" fill="#d2d2d2" />
<ellipse cx="358.30" cy="418.80" rx="3.40" ry="6.50" fill="#e8e8e8" filter="url(#orgb)"/>
<ellipse cx="358.30" cy="406.80" rx="1.40" ry="3.00" fill="#e2e2e2" />
<ellipse cx="358.39" cy="423.16" rx="0.80" ry="0.80" fill="url(#pur)" />
<rect x="367.55" y="401.80" width="14.40" height="29.40" fill="#353535" />
<line x1="369.35" y1="401.80" x2="369.35" y2="431.20" stroke="#4a4a4a" stroke-width="1.4" />
<line x1="380.15" y1="401.80" x2="380.15" y2="431.20" stroke="#4a4a4a" stroke-width="1.4" />
<path d="M 373.55 403.0 Q 374.75 402.1 375.95 403.0 L 376.55 405.8 Q 377.35 408.3 377.15 409.8 L 378.95 411.3 L 378.15 412.3 Q 379.35 415.8 379.25 419.8 Q 379.45 423.8 378.55 425.8 L 380.75 430.0 L 378.75 430.4 L 376.95 428.2 L 374.75 428.7 L 372.55 428.2 L 370.75 430.4 L 368.75 430.0 L 370.95 425.8 Q 370.05 423.8 370.25 419.8 Q 370.15 415.8 371.35 412.3 L 370.55 411.3 L 372.35 409.8 Q 372.15 408.3 372.95 405.8 Z" fill="#d2d2d2" />
<ellipse cx="374.75" cy="418.80" rx="3.40" ry="6.50" fill="#e8e8e8" filter="url(#orgb)"/>
<ellipse cx="374.75" cy="406.80" rx="1.40" ry="3.00" fill="#e2e2e2" />
<ellipse cx="375.64" cy="416.85" rx="0.80" ry="0.80" fill="url(#pur)" />
<defs><linearGradient id="cbar" x1="0" y1="0" x2="0" y2="1"><stop offset="0" stop-color="#ff0000"/><stop offset="0.13" stop-color="#ff8000"/><stop offset="0.24" stop-color="#e8f000"/><stop offset="0.4" stop-color="#10e010"/><stop offset="0.67" stop-color="#00d8e8"/><stop offset="0.85" stop-color="#0030ff"/><stop offset="1" stop-color="#8000ff"/></linearGradient></defs>
<rect x="383.80" y="307.60" width="3.30" height="123.10" fill="url(#cbar)" />
<line x1="387.10" y1="323.50" x2="388.60" y2="323.50" stroke="#666" stroke-width="0.6" />
<line x1="387.10" y1="351.50" x2="388.60" y2="351.50" stroke="#666" stroke-width="0.6" />
<line x1="387.10" y1="378.80" x2="388.60" y2="378.80" stroke="#666" stroke-width="0.6" />
<line x1="387.10" y1="405.30" x2="388.60" y2="405.30" stroke="#666" stroke-width="0.6" />
<text font-size="6.9" transform="translate(391.60 309.30) translate(0 0.3) scale(1 1.15)" >Luminescence</text>
<text font-size="6.9" transform="translate(391.60 317.50) translate(0 0.3) scale(1 1.15)">(x10<tspan font-size="4.5" dy="-2.5">7</tspan><tspan dy="2.5">)</tspan></text>
<text font-size="6.9" transform="translate(391.60 326.20) translate(0 0.3) scale(1 1.15)" >4.0</text>
<text font-size="6.9" transform="translate(391.60 354.20) translate(0 0.3) scale(1 1.15)" >3.0</text>
<text font-size="6.9" transform="translate(391.60 381.50) translate(0 0.3) scale(1 1.15)" >2.0</text>
<text font-size="6.9" transform="translate(391.60 408.00) translate(0 0.3) scale(1 1.15)" >1.0</text>
<text font-size="6.9" transform="translate(391.60 420.40) translate(0 0.3) scale(1 1.15)" >Radiance</text>
<text font-size="6.9" transform="translate(391.60 428.60) translate(0 0.3) scale(1 1.15)">(p/sec/cm<tspan font-size="4.5" dy="-2.5">2</tspan><tspan dy="2.5">/sr)</tspan></text>
<text font-size="12.4" font-weight="bold" fill="#000" transform="translate(445.20 303.20)" >L</text>
<text font-size="7.8" text-anchor="middle" transform="translate(528.60 325.00) translate(0 0.3) scale(1 1.15)" >HGC27</text>
<line x1="489.30" y1="328.50" x2="489.30" y2="410.30" stroke="#666" stroke-width="1.3" />
<line x1="489.30" y1="410.30" x2="564.50" y2="410.30" stroke="#1a1a1a" stroke-width="1.0" />
<line x1="487.30" y1="410.30" x2="489.30" y2="410.30" stroke="#666" stroke-width="0.9" />
<text font-size="7.5" text-anchor="end" transform="translate(488.30 413.00) translate(0 0.3) scale(1 1.15)" >0e+00</text>
<line x1="487.30" y1="389.50" x2="489.30" y2="389.50" stroke="#666" stroke-width="0.9" />
<text font-size="7.5" text-anchor="end" transform="translate(488.30 392.20) translate(0 0.3) scale(1 1.15)" >1e+09</text>
<line x1="487.30" y1="368.70" x2="489.30" y2="368.70" stroke="#666" stroke-width="0.9" />
<text font-size="7.5" text-anchor="end" transform="translate(488.30 371.40) translate(0 0.3) scale(1 1.15)" >2e+09</text>
<line x1="487.30" y1="347.90" x2="489.30" y2="347.90" stroke="#666" stroke-width="0.9" />
<text font-size="7.5" text-anchor="end" transform="translate(488.30 350.60) translate(0 0.3) scale(1 1.15)" >3e+09</text>
<text font-size="7.4" text-anchor="middle" transform="translate(456.40 369.00) rotate(-90) translate(0 0.3) scale(1 1.15)" >Peritoneal metastasis</text>
<text font-size="7.4" text-anchor="middle" transform="translate(464.00 369.00) rotate(-90) translate(0 0.3) scale(1 1.15)">Total flux (p/sec/cm<tspan font-size="4.8" dy="-2.6">2</tspan><tspan dy="2.6">/sr)</tspan></text>
<rect x="492.30" y="372.86" width="15.50" height="37.44" fill="#2e5f9c" stroke="#111" stroke-width="0.9" />
<line x1="500.05" y1="381.60" x2="500.05" y2="364.12" stroke="#1a1a1a" stroke-width="0.9" />
<line x1="498.45" y1="364.12" x2="501.65" y2="364.12" stroke="#1a1a1a" stroke-width="0.9" />
<line x1="498.45" y1="381.60" x2="501.65" y2="381.60" stroke="#1a1a1a" stroke-width="0.9" />
<circle cx="500.05" cy="363.50" r="1.50" fill="#000" />
<circle cx="499.05" cy="378.06" r="1.50" fill="#000" />
<circle cx="501.05" cy="380.14" r="1.50" fill="#000" />
<circle cx="500.05" cy="377.02" r="1.50" fill="#000" />
<rect x="511.30" y="402.81" width="15.50" height="7.49" fill="#62b6f3" stroke="#111" stroke-width="0.9" />
<line x1="519.05" y1="405.93" x2="519.05" y2="399.69" stroke="#1a1a1a" stroke-width="0.9" />
<line x1="517.45" y1="399.69" x2="520.65" y2="399.69" stroke="#1a1a1a" stroke-width="0.9" />
<line x1="517.45" y1="405.93" x2="520.65" y2="405.93" stroke="#1a1a1a" stroke-width="0.9" />
<circle cx="518.05" cy="398.86" r="1.50" fill="#000" />
<circle cx="520.05" cy="400.94" r="1.50" fill="#000" />
<circle cx="519.05" cy="404.06" r="1.50" fill="#000" />
<circle cx="517.55" cy="406.14" r="1.50" fill="#000" />
<circle cx="520.05" cy="407.18" r="1.50" fill="#000" />
<rect x="530.30" y="401.15" width="15.30" height="9.15" fill="#ee6060" stroke="#111" stroke-width="0.9" />
<line x1="537.95" y1="406.97" x2="537.95" y2="395.32" stroke="#1a1a1a" stroke-width="0.9" />
<line x1="536.35" y1="395.32" x2="539.55" y2="395.32" stroke="#1a1a1a" stroke-width="0.9" />
<line x1="536.35" y1="406.97" x2="539.55" y2="406.97" stroke="#1a1a1a" stroke-width="0.9" />
<circle cx="536.95" cy="394.70" r="1.50" fill="#000" />
<circle cx="538.95" cy="397.82" r="1.50" fill="#000" />
<circle cx="537.95" cy="400.94" r="1.50" fill="#000" />
<circle cx="536.95" cy="404.06" r="1.50" fill="#000" />
<circle cx="538.95" cy="406.14" r="1.50" fill="#000" />
<rect x="549.20" y="409.88" width="14.80" height="0.42" fill="#fbbaba" stroke="#111" stroke-width="0.9" />
<circle cx="556.60" cy="409.26" r="1.50" fill="#000" />
<circle cx="555.60" cy="409.88" r="1.50" fill="#000" />
<line x1="500.40" y1="336.00" x2="557.10" y2="336.00" stroke="#1a1a1a" stroke-width="0.8" />
<line x1="500.40" y1="335.60" x2="500.40" y2="337.80" stroke="#1a1a1a" stroke-width="0.8" />
<line x1="557.10" y1="335.60" x2="557.10" y2="337.80" stroke="#1a1a1a" stroke-width="0.8" />
<text font-size="6.2" text-anchor="middle" transform="translate(527.20 333.80) translate(0 0.3) scale(1 1.15)" textLength="29.9" lengthAdjust="spacingAndGlyphs">P &lt; 0.0001</text>
<line x1="500.40" y1="346.60" x2="538.10" y2="346.60" stroke="#1a1a1a" stroke-width="0.8" />
<line x1="500.40" y1="346.20" x2="500.40" y2="348.40" stroke="#1a1a1a" stroke-width="0.8" />
<line x1="538.10" y1="346.20" x2="538.10" y2="348.40" stroke="#1a1a1a" stroke-width="0.8" />
<text font-size="6.2" text-anchor="middle" transform="translate(519.00 344.30) translate(0 0.3) scale(1 1.15)" textLength="30.3" lengthAdjust="spacingAndGlyphs">P &lt; 0.0001</text>
<line x1="500.40" y1="356.60" x2="519.20" y2="356.60" stroke="#1a1a1a" stroke-width="0.8" />
<line x1="500.40" y1="356.20" x2="500.40" y2="358.40" stroke="#1a1a1a" stroke-width="0.8" />
<line x1="519.20" y1="356.20" x2="519.20" y2="358.40" stroke="#1a1a1a" stroke-width="0.8" />
<text font-size="6.2" text-anchor="middle" transform="translate(510.00 354.40) translate(0 0.3) scale(1 1.15)" textLength="29.9" lengthAdjust="spacingAndGlyphs">P &lt; 0.0001</text>
<line x1="519.20" y1="377.20" x2="557.10" y2="377.20" stroke="#1a1a1a" stroke-width="0.8" />
<line x1="519.20" y1="376.80" x2="519.20" y2="379.00" stroke="#1a1a1a" stroke-width="0.8" />
<line x1="557.10" y1="376.80" x2="557.10" y2="379.00" stroke="#1a1a1a" stroke-width="0.8" />
<text font-size="6.2" text-anchor="middle" transform="translate(537.70 374.80) translate(0 0.3) scale(1 1.15)" textLength="32.4" lengthAdjust="spacingAndGlyphs">P = 0.1192</text>
<line x1="538.10" y1="387.10" x2="557.10" y2="387.10" stroke="#1a1a1a" stroke-width="0.8" />
<line x1="538.10" y1="386.70" x2="538.10" y2="388.90" stroke="#1a1a1a" stroke-width="0.8" />
<line x1="557.10" y1="386.70" x2="557.10" y2="388.90" stroke="#1a1a1a" stroke-width="0.8" />
<text font-size="6.2" text-anchor="middle" transform="translate(546.10 384.80) translate(0 0.3) scale(1 1.15)" textLength="30.8" lengthAdjust="spacingAndGlyphs">P = 0.0283</text>
<text font-size="7.7" text-anchor="end" transform="translate(502.65 414.20) rotate(-45) translate(0 0.3) scale(1 1.15)" >Veh</text>
<text font-size="7.7" text-anchor="end" transform="translate(521.65 414.20) rotate(-45) translate(0 0.3) scale(1 1.15)" >Gal</text>
<text font-size="7.7" text-anchor="end" transform="translate(540.55 414.20) rotate(-45) translate(0 0.3) scale(1 1.15)" >Dev</text>
<text font-size="7.7" text-anchor="end" transform="translate(559.20 414.20) rotate(-45) translate(0 0.3) scale(1 1.15)" >Gal&amp;Dev</text>
<text font-size="12.4" font-weight="bold" fill="#000" transform="translate(567.50 303.20)" >M</text>
<text font-size="7.6" text-anchor="middle" transform="translate(643.70 325.50) translate(0 0.3) scale(1 1.15)" >HGC27</text>
<line x1="606.30" y1="328.50" x2="606.30" y2="410.30" stroke="#1a1a1a" stroke-width="1.0" />
<line x1="606.30" y1="410.30" x2="680.60" y2="410.30" stroke="#1a1a1a" stroke-width="1.0" />
<line x1="604.30" y1="410.30" x2="606.30" y2="410.30" stroke="#1a1a1a" stroke-width="0.8" />
<text font-size="7.4" text-anchor="end" transform="translate(604.60 413.00) translate(0 0.3) scale(1 1.15)" >0</text>
<line x1="604.30" y1="387.67" x2="606.30" y2="387.67" stroke="#1a1a1a" stroke-width="0.8" />
<text font-size="7.4" text-anchor="end" transform="translate(604.60 390.37) translate(0 0.3) scale(1 1.15)" >1000</text>
<line x1="604.30" y1="365.04" x2="606.30" y2="365.04" stroke="#1a1a1a" stroke-width="0.8" />
<text font-size="7.4" text-anchor="end" transform="translate(604.60 367.74) translate(0 0.3) scale(1 1.15)" >2000</text>
<line x1="604.30" y1="342.41" x2="606.30" y2="342.41" stroke="#1a1a1a" stroke-width="0.8" />
<text font-size="7.4" text-anchor="end" transform="translate(604.60 345.11) translate(0 0.3) scale(1 1.15)" >3000</text>
<text font-size="7.55" text-anchor="middle" transform="translate(586.50 369.80) rotate(-90) translate(0 0.3) scale(1 1.15)" >Peritoneal tumor weight (mg)</text>
<rect x="609.30" y="370.24" width="14.60" height="40.06" fill="#2e5f9c" stroke="#111" stroke-width="0.9" />
<line x1="616.60" y1="375.22" x2="616.60" y2="365.27" stroke="#1a1a1a" stroke-width="0.9" />
<line x1="615.00" y1="365.27" x2="618.20" y2="365.27" stroke="#1a1a1a" stroke-width="0.9" />
<line x1="615.00" y1="375.22" x2="618.20" y2="375.22" stroke="#1a1a1a" stroke-width="0.9" />
<circle cx="616.60" cy="363.91" r="1.50" fill="#000" />
<circle cx="615.60" cy="367.30" r="1.50" fill="#000" />
<circle cx="617.60" cy="369.57" r="1.50" fill="#000" />
<circle cx="616.60" cy="372.96" r="1.50" fill="#000" />
<circle cx="615.60" cy="376.36" r="1.50" fill="#000" />
<rect x="627.30" y="396.04" width="14.20" height="14.26" fill="#62b6f3" stroke="#111" stroke-width="0.9" />
<line x1="634.40" y1="400.12" x2="634.40" y2="391.97" stroke="#1a1a1a" stroke-width="0.9" />
<line x1="632.80" y1="391.97" x2="636.00" y2="391.97" stroke="#1a1a1a" stroke-width="0.9" />
<line x1="632.80" y1="400.12" x2="636.00" y2="400.12" stroke="#1a1a1a" stroke-width="0.9" />
<circle cx="634.40" cy="391.06" r="1.50" fill="#000" />
<circle cx="633.40" cy="394.46" r="1.50" fill="#000" />
<circle cx="635.40" cy="396.72" r="1.50" fill="#000" />
<circle cx="634.40" cy="398.99" r="1.50" fill="#000" />
<circle cx="633.40" cy="400.12" r="1.50" fill="#000" />
<rect x="645.40" y="395.36" width="14.10" height="14.94" fill="#ee6060" stroke="#111" stroke-width="0.9" />
<line x1="652.45" y1="398.08" x2="652.45" y2="392.65" stroke="#1a1a1a" stroke-width="0.9" />
<line x1="650.85" y1="392.65" x2="654.05" y2="392.65" stroke="#1a1a1a" stroke-width="0.9" />
<line x1="650.85" y1="398.08" x2="654.05" y2="398.08" stroke="#1a1a1a" stroke-width="0.9" />
<circle cx="652.45" cy="392.20" r="1.50" fill="#000" />
<circle cx="651.45" cy="394.46" r="1.50" fill="#000" />
<circle cx="653.45" cy="395.59" r="1.50" fill="#000" />
<circle cx="652.45" cy="396.72" r="1.50" fill="#000" />
<circle cx="653.45" cy="397.63" r="1.50" fill="#000" />
<rect x="663.00" y="406.00" width="14.40" height="4.30" fill="#fbbaba" stroke="#111" stroke-width="0.9" />
<line x1="670.20" y1="409.39" x2="670.20" y2="402.61" stroke="#1a1a1a" stroke-width="0.9" />
<line x1="668.60" y1="402.61" x2="671.80" y2="402.61" stroke="#1a1a1a" stroke-width="0.9" />
<line x1="668.60" y1="409.39" x2="671.80" y2="409.39" stroke="#1a1a1a" stroke-width="0.9" />
<circle cx="670.20" cy="402.38" r="1.50" fill="#000" />
<circle cx="669.20" cy="404.64" r="1.50" fill="#000" />
<circle cx="671.20" cy="406.91" r="1.50" fill="#000" />
<circle cx="670.20" cy="408.49" r="1.50" fill="#000" />
<line x1="616.40" y1="340.30" x2="670.40" y2="340.30" stroke="#1a1a1a" stroke-width="0.8" />
<line x1="616.40" y1="339.90" x2="616.40" y2="342.10" stroke="#1a1a1a" stroke-width="0.8" />
<line x1="670.40" y1="339.90" x2="670.40" y2="342.10" stroke="#1a1a1a" stroke-width="0.8" />
<text font-size="6.2" text-anchor="middle" transform="translate(641.80 338.20) translate(0 0.3) scale(1 1.15)" textLength="29.9" lengthAdjust="spacingAndGlyphs">P &lt; 0.0001</text>
<line x1="616.40" y1="349.10" x2="652.40" y2="349.10" stroke="#1a1a1a" stroke-width="0.8" />
<line x1="616.40" y1="348.70" x2="616.40" y2="350.90" stroke="#1a1a1a" stroke-width="0.8" />
<line x1="652.40" y1="348.70" x2="652.40" y2="350.90" stroke="#1a1a1a" stroke-width="0.8" />
<text font-size="6.2" text-anchor="middle" transform="translate(634.10 347.30) translate(0 0.3) scale(1 1.15)" textLength="30.3" lengthAdjust="spacingAndGlyphs">P &lt; 0.0001</text>
<line x1="616.40" y1="357.90" x2="634.50" y2="357.90" stroke="#1a1a1a" stroke-width="0.8" />
<line x1="616.40" y1="357.50" x2="616.40" y2="359.70" stroke="#1a1a1a" stroke-width="0.8" />
<line x1="634.50" y1="357.50" x2="634.50" y2="359.70" stroke="#1a1a1a" stroke-width="0.8" />
<text font-size="6.2" text-anchor="middle" transform="translate(626.80 356.10) translate(0 0.3) scale(1 1.15)" textLength="29.5" lengthAdjust="spacingAndGlyphs">P &lt; 0.0001</text>
<line x1="634.50" y1="376.50" x2="670.40" y2="376.50" stroke="#1a1a1a" stroke-width="0.8" />
<line x1="634.50" y1="376.10" x2="634.50" y2="378.30" stroke="#1a1a1a" stroke-width="0.8" />
<line x1="670.40" y1="376.10" x2="670.40" y2="378.30" stroke="#1a1a1a" stroke-width="0.8" />
<text font-size="6.2" text-anchor="middle" transform="translate(652.30 374.20) translate(0 0.3) scale(1 1.15)" textLength="31.3" lengthAdjust="spacingAndGlyphs">P = 0.0015</text>
<line x1="652.40" y1="385.70" x2="670.40" y2="385.70" stroke="#1a1a1a" stroke-width="0.8" />
<line x1="652.40" y1="385.30" x2="652.40" y2="387.50" stroke="#1a1a1a" stroke-width="0.8" />
<line x1="670.40" y1="385.30" x2="670.40" y2="387.50" stroke="#1a1a1a" stroke-width="0.8" />
<text font-size="6.2" text-anchor="middle" transform="translate(661.30 383.60) translate(0 0.3) scale(1 1.15)" textLength="30.9" lengthAdjust="spacingAndGlyphs">P = 0.0008</text>
<text font-size="7.7" text-anchor="end" transform="translate(619.20 414.20) rotate(-45) translate(0 0.3) scale(1 1.15)" >Veh</text>
<text font-size="7.7" text-anchor="end" transform="translate(637.00 414.20) rotate(-45) translate(0 0.3) scale(1 1.15)" >Gal</text>
<text font-size="7.7" text-anchor="end" transform="translate(655.05 414.20) rotate(-45) translate(0 0.3) scale(1 1.15)" >Dev</text>
<text font-size="7.7" text-anchor="end" transform="translate(672.80 414.20) rotate(-45) translate(0 0.3) scale(1 1.15)" >Gal&amp;Dev</text>
<text font-size="12.4" font-weight="bold" fill="#000" transform="translate(1.20 458.70)" >N</text>
<path d="M 17 490 L 17 494 Q 10 495 7.5 498 Q 5.5 503 4 512 L 0 523 L 5 526.5 L 10.5 514 L 12.5 528 L 34.5 528 L 36 514 L 41.5 526.5 L 46 523 L 42 512 Q 40.5 503 38 498 Q 35 495 27.5 494 L 27.5 490 Z" fill="#f9dcd8" stroke="#222" stroke-width="0.7" />
<ellipse cx="21.60" cy="483.20" rx="7.20" ry="8.30" fill="#f9dcd8" stroke="#222" stroke-width="0.7" />
<path d="M 14.5 482 L 13.5 485 L 15 485.5" fill="none" stroke="#222" stroke-width="0.5" />
<path d="M 26 481 Q 28 482 26.5 485" fill="none" stroke="#444" stroke-width="0.5" />
<path d="M 12.5 512 L 12.5 516 M 34.5 512 L 34.5 516" fill="none" stroke="#222" stroke-width="0.5" />
<path d="M 25 512 Q 26 515 29 515.5 Q 32 517 30.5 520.5 Q 28 523.5 23 522.5 Q 20.5 523 19.5 521.5" fill="none" stroke="#f09090" stroke-width="1.6" />
<ellipse cx="25.00" cy="520.50" rx="2.00" ry="1.30" fill="#e8a020" stroke="#906010" stroke-width="0.3" />
<text font-size="8.3" text-anchor="middle" transform="translate(22.00 504.10) translate(0 0.3) scale(1 1.15)" >GC patients</text>
<polygon points="23.50,521.00 27.50,522.00 45.50,553.00" fill="#e4ecfa" stroke="#7a9ae0" stroke-width="0.5" />
<text font-size="8.3" text-anchor="middle" transform="translate(36.10 535.70) translate(0 0.3) scale(1 1.15)" >Orthotopic</text>
<text font-size="8.3" text-anchor="middle" transform="translate(35.90 545.00) translate(0 0.3) scale(1 1.15)" >PDX</text>
<path d="M 15.5 538 L 25 541.5 M 15.5 541.5 L 25 538 M 15 539.8 L 25.5 539.8" fill="none" stroke="#222" stroke-width="0.5" />
<path d="M 20 540 L 11.5 552 M 20.5 540 L 29.5 552" fill="none" stroke="#222" stroke-width="0.7" />
<path d="M 11.5 552 Q 6 551 7.5 556 Q 9 559 12 558 M 29.5 552 Q 35 551 33.5 556 Q 32 559 29 558" fill="#fff" stroke="#222" stroke-width="0.7" />
<rect x="6.60" y="557.50" width="27.00" height="20.00" fill="#f1c9c0" />
<ellipse cx="20.00" cy="561.00" rx="6.50" ry="4.00" fill="#9a4e4e" />
<ellipse cx="20.00" cy="571.50" rx="8.00" ry="6.50" fill="#c8917e" />
<path d="M 14 565 Q 18 567 25 565" fill="none" stroke="#e8c040" stroke-width="1.4" />
<path d="M 8 578 Q 6 583 10 584 Q 13 584 13 580 M 33 578 Q 35 583 31 584 Q 28 584 28 580" fill="#fff" stroke="#222" stroke-width="0.6" />
<path d="M 19.5 578 Q 19 588 19.5 594 Q 19.5 599 16.5 602" fill="none" stroke="#222" stroke-width="0.9" />
<polygon points="22.00,564.00 50.40,551.50 50.40,576.00" fill="#fdf1e6" stroke="#e8c090" stroke-width="0.6" />
<path d="M 49 553.5 Q 54 555 56 561 Q 57.5 568 51 570.5 Q 44 572 40 568.5 Q 38.5 566 41 565.5 Q 45 567.5 48.5 566 Q 51.5 562.5 49 558 Z" fill="#f4a49a" stroke="#e07070" stroke-width="0.5" />
<ellipse cx="47.50" cy="567.50" rx="2.20" ry="1.50" fill="#7a5018" />
<text font-size="8.3" text-anchor="middle" transform="translate(18.50 593.00) translate(0 0.3) scale(1 1.15)" >NSG mice</text>
<path d="M 71 526 Q 69 519 74.5 516.5 Q 78 512 84 513.5 Q 92 513 96 518.5 Q 99.5 524 97 528.5 Q 92 532.5 80 531.8 Q 72 531 71 526 Z" fill="#fff" stroke="#222" stroke-width="0.6" />
<circle cx="74.50" cy="515.20" r="2.70" fill="#fff" stroke="#222" stroke-width="0.6" />
<circle cx="80.80" cy="513.80" r="2.80" fill="#fff" stroke="#222" stroke-width="0.6" />
<path d="M 72.5 522 L 76 523.5 M 73 525 L 76.5 524.5" fill="none" stroke="#222" stroke-width="0.4" />
<path d="M 96 528.5 Q 101 531 98 534 Q 95 536 88.5 535.6" fill="none" stroke="#222" stroke-width="0.6" />
<polygon points="88.50,523.30 90.30,524.60 97.00,514.20 95.20,512.90" fill="#3a7ed0" stroke="#1e3e78" stroke-width="0.4" />
<line x1="96.10" y1="513.50" x2="98.60" y2="510.60" stroke="#1e3e78" stroke-width="0.7" />
<line x1="52.30" y1="537.60" x2="112.00" y2="537.60" stroke="#222" stroke-width="1.1" />
<polygon points="110.50,534.90 115.80,537.60 110.50,540.30" fill="#222" />
<text font-size="8.3" transform="translate(119.20 540.20) translate(0 0.3) scale(1 1.15)" >Terminally ill</text>
<rect x="127.00" y="506.90" width="33.00" height="24.50" fill="#e6999f" />
<text font-size="8.1" text-anchor="middle" transform="translate(143.50 516.90) translate(0 0.3) scale(1 1.15)" >Survival</text>
<text font-size="8.1" text-anchor="middle" transform="translate(143.50 527.40) translate(0 0.3) scale(1 1.15)" >analysis</text>
<line x1="63.10" y1="546.50" x2="63.10" y2="553.90" stroke="#2a4c9c" stroke-width="1.5" />
<polygon points="60.40,548.60 65.80,548.60 63.10,543.00" fill="#2a4c9c" />
<line x1="63.10" y1="569.00" x2="63.10" y2="577.50" stroke="#c62828" stroke-width="1.5" />
<polygon points="60.40,571.30 65.80,571.30 63.10,565.70" fill="#c62828" />
<line x1="71.00" y1="546.50" x2="71.00" y2="553.90" stroke="#2a4c9c" stroke-width="1.5" />
<polygon points="68.30,548.60 73.70,548.60 71.00,543.00" fill="#2a4c9c" />
<line x1="71.00" y1="569.00" x2="71.00" y2="577.50" stroke="#c62828" stroke-width="1.5" />
<polygon points="68.30,571.30 73.70,571.30 71.00,565.70" fill="#c62828" />
<line x1="78.50" y1="546.50" x2="78.50" y2="553.90" stroke="#2a4c9c" stroke-width="1.5" />
<polygon points="75.80,548.60 81.20,548.60 78.50,543.00" fill="#2a4c9c" />
<line x1="78.50" y1="569.00" x2="78.50" y2="577.50" stroke="#c62828" stroke-width="1.5" />
<polygon points="75.80,571.30 81.20,571.30 78.50,565.70" fill="#c62828" />
<line x1="85.90" y1="546.50" x2="85.90" y2="553.90" stroke="#2a4c9c" stroke-width="1.5" />
<polygon points="83.20,548.60 88.60,548.60 85.90,543.00" fill="#2a4c9c" />
<line x1="85.90" y1="569.00" x2="85.90" y2="577.50" stroke="#c62828" stroke-width="1.5" />
<polygon points="83.20,571.30 88.60,571.30 85.90,565.70" fill="#c62828" />
<line x1="93.40" y1="546.50" x2="93.40" y2="553.90" stroke="#2a4c9c" stroke-width="1.5" />
<polygon points="90.70,548.60 96.10,548.60 93.40,543.00" fill="#2a4c9c" />
<line x1="93.40" y1="569.00" x2="93.40" y2="577.50" stroke="#c62828" stroke-width="1.5" />
<polygon points="90.70,571.30 96.10,571.30 93.40,565.70" fill="#c62828" />
<line x1="101.10" y1="546.50" x2="101.10" y2="553.90" stroke="#2a4c9c" stroke-width="1.5" />
<polygon points="98.40,548.60 103.80,548.60 101.10,543.00" fill="#2a4c9c" />
<line x1="101.10" y1="569.00" x2="101.10" y2="577.50" stroke="#c62828" stroke-width="1.5" />
<polygon points="98.40,571.30 103.80,571.30 101.10,565.70" fill="#c62828" />
<text font-size="8.3" transform="translate(108.30 552.80) translate(0 0.3) scale(1 1.15)" >Galunisertib</text>
<text font-size="8.3" transform="translate(108.30 562.40) translate(0 0.3) scale(1 1.15)" >(75 mg/kg q3d i.p.)</text>
<text font-size="8.3" transform="translate(108.30 575.60) translate(0 0.3) scale(1 1.15)" >Devimistat</text>
<text font-size="8.3" transform="translate(108.30 585.20) translate(0 0.3) scale(1 1.15)" >(25 mg/kg q3d i.p.)</text>
<text font-size="12.4" font-weight="bold" fill="#000" transform="translate(186.60 458.70)" >O</text>
<text font-size="7.8" text-anchor="middle" transform="translate(265.70 521.20) translate(0 0.3) scale(1 1.15)" >Orthotopic GC PDX#1</text>
<line x1="225.80" y1="526.00" x2="225.80" y2="605.00" stroke="#1a1a1a" stroke-width="0.9" />
<line x1="225.80" y1="605.00" x2="329.00" y2="605.00" stroke="#1a1a1a" stroke-width="0.9" />
<line x1="223.80" y1="604.60" x2="225.80" y2="604.60" stroke="#1a1a1a" stroke-width="0.8" />
<text font-size="7.5" text-anchor="end" transform="translate(223.20 607.30) translate(0 0.3) scale(1 1.15)" >0%</text>
<line x1="223.80" y1="585.50" x2="225.80" y2="585.50" stroke="#1a1a1a" stroke-width="0.8" />
<text font-size="7.5" text-anchor="end" transform="translate(223.20 588.20) translate(0 0.3) scale(1 1.15)" >25%</text>
<line x1="223.80" y1="566.40" x2="225.80" y2="566.40" stroke="#1a1a1a" stroke-width="0.8" />
<text font-size="7.5" text-anchor="end" transform="translate(223.20 569.10) translate(0 0.3) scale(1 1.15)" >50%</text>
<line x1="223.80" y1="547.30" x2="225.80" y2="547.30" stroke="#1a1a1a" stroke-width="0.8" />
<text font-size="7.5" text-anchor="end" transform="translate(223.20 550.00) translate(0 0.3) scale(1 1.15)" >75%</text>
<line x1="223.80" y1="528.20" x2="225.80" y2="528.20" stroke="#1a1a1a" stroke-width="0.8" />
<text font-size="7.5" text-anchor="end" transform="translate(223.20 530.90) translate(0 0.3) scale(1 1.15)" >100%</text>
<line x1="225.80" y1="605.00" x2="225.80" y2="607.00" stroke="#1a1a1a" stroke-width="0.8" />
<text font-size="7.6" text-anchor="middle" transform="translate(225.80 612.80) translate(0 0.3) scale(1 1.15)" >0</text>
<line x1="245.74" y1="605.00" x2="245.74" y2="607.00" stroke="#1a1a1a" stroke-width="0.8" />
<text font-size="7.6" text-anchor="middle" transform="translate(245.74 612.80) translate(0 0.3) scale(1 1.15)" >20</text>
<line x1="265.68" y1="605.00" x2="265.68" y2="607.00" stroke="#1a1a1a" stroke-width="0.8" />
<text font-size="7.6" text-anchor="middle" transform="translate(265.68 612.80) translate(0 0.3) scale(1 1.15)" >40</text>
<line x1="285.62" y1="605.00" x2="285.62" y2="607.00" stroke="#1a1a1a" stroke-width="0.8" />
<text font-size="7.6" text-anchor="middle" transform="translate(285.62 612.80) translate(0 0.3) scale(1 1.15)" >60</text>
<line x1="305.56" y1="605.00" x2="305.56" y2="607.00" stroke="#1a1a1a" stroke-width="0.8" />
<text font-size="7.6" text-anchor="middle" transform="translate(305.56 612.80) translate(0 0.3) scale(1 1.15)" >80</text>
<line x1="325.50" y1="605.00" x2="325.50" y2="607.00" stroke="#1a1a1a" stroke-width="0.8" />
<text font-size="7.6" text-anchor="middle" transform="translate(325.50 612.80) translate(0 0.3) scale(1 1.15)" >100</text>
<text font-size="7.8" text-anchor="middle" transform="translate(277.10 622.00) translate(0 0.3) scale(1 1.15)" >Time (days)</text>
<text font-size="7.8" text-anchor="middle" transform="translate(201.80 565.90) rotate(-90) translate(0 0.3) scale(1 1.15)" >Survival probability</text>
<polyline points="225.80,528.20 303.37,528.20 303.37,535.84 307.95,535.84 307.95,543.48 310.84,543.48 310.84,551.12 315.23,551.12 315.23,558.76 318.12,558.76 318.12,566.40 321.71,566.40 321.71,574.04 323.90,574.04 323.90,581.68 328.29,581.68 328.29,589.32 332.78,589.32 332.78,596.96 334.87,596.96 334.87,604.60" fill="none" stroke="#f9bcbc" stroke-width="1.2" />
<polyline points="225.80,528.20 290.61,528.20 290.61,535.84 296.49,535.84 296.49,543.48 302.27,543.48 302.27,551.12 304.46,551.12 304.46,558.76 306.96,558.76 306.96,566.40 309.55,566.40 309.55,574.04 312.44,574.04 312.44,581.68 318.92,581.68 318.92,589.32 321.11,589.32 321.11,596.96 321.11,596.96 321.11,604.60" fill="none" stroke="#ee6262" stroke-width="1.2" />
<polyline points="225.80,528.20 277.64,528.20 277.64,535.84 281.73,535.84 281.73,543.48 288.51,543.48 288.51,551.12 291.10,551.12 291.10,558.76 293.90,558.76 293.90,566.40 297.58,566.40 297.58,574.04 297.58,574.04 297.58,581.68 299.68,581.68 299.68,589.32 301.57,589.32 301.57,596.96 302.77,596.96 302.77,604.60" fill="none" stroke="#2b5a98" stroke-width="1.2" />
<polyline points="225.80,528.20 271.86,528.20 271.86,535.84 274.05,535.84 274.05,543.48 277.64,543.48 277.64,551.12 279.54,551.12 279.54,558.76 286.02,558.76 286.02,566.40 286.02,566.40 286.02,574.04 292.50,574.04 292.50,581.68 296.19,581.68 296.19,589.32 297.58,589.32 297.58,596.96 299.08,596.96 299.08,604.60" fill="none" stroke="#5db5ee" stroke-width="1.2" />
<line x1="231.20" y1="470.00" x2="238.20" y2="470.00" stroke="#2b5a98" stroke-width="1.1" />
<text font-size="8.3" transform="translate(240.60 473.00) translate(0 0.3) scale(1 1.15)" >Veh</text>
<line x1="231.20" y1="480.30" x2="238.20" y2="480.30" stroke="#5db5ee" stroke-width="1.1" />
<text font-size="8.3" transform="translate(240.60 483.30) translate(0 0.3) scale(1 1.15)" >Gal</text>
<line x1="231.20" y1="492.00" x2="238.20" y2="492.00" stroke="#ee6262" stroke-width="1.1" />
<text font-size="8.3" transform="translate(240.60 495.00) translate(0 0.3) scale(1 1.15)" >Dev</text>
<line x1="231.20" y1="503.40" x2="238.20" y2="503.40" stroke="#f9bcbc" stroke-width="1.1" />
<text font-size="8.3" transform="translate(240.60 506.40) translate(0 0.3) scale(1 1.15)" >Gal&amp;Dev</text>
<line x1="259.00" y1="469.20" x2="259.00" y2="481.10" stroke="#1a1a1a" stroke-width="0.7" />
<line x1="257.40" y1="469.20" x2="259.00" y2="469.20" stroke="#1a1a1a" stroke-width="0.7" />
<line x1="257.40" y1="481.10" x2="259.00" y2="481.10" stroke="#1a1a1a" stroke-width="0.7" />
<text font-size="6.9" text-anchor="middle" transform="translate(260.62 474.70) rotate(90) translate(0 0.3) scale(1 1.15)" textLength="29.6" lengthAdjust="spacingAndGlyphs">P = 0.065</text>
<line x1="273.50" y1="481.30" x2="273.50" y2="493.30" stroke="#1a1a1a" stroke-width="0.7" />
<line x1="271.90" y1="481.30" x2="273.50" y2="481.30" stroke="#1a1a1a" stroke-width="0.7" />
<line x1="271.90" y1="493.30" x2="273.50" y2="493.30" stroke="#1a1a1a" stroke-width="0.7" />
<text font-size="6.9" text-anchor="middle" transform="translate(275.42 489.50) rotate(90) translate(0 0.3) scale(1 1.15)" textLength="34.0" lengthAdjust="spacingAndGlyphs">P = 0.0001</text>
<line x1="283.40" y1="492.20" x2="283.40" y2="504.80" stroke="#1a1a1a" stroke-width="0.7" />
<line x1="281.80" y1="492.20" x2="283.40" y2="492.20" stroke="#1a1a1a" stroke-width="0.7" />
<line x1="281.80" y1="504.80" x2="283.40" y2="504.80" stroke="#1a1a1a" stroke-width="0.7" />
<text font-size="6.9" text-anchor="middle" transform="translate(285.82 498.50) rotate(90) translate(0 0.3) scale(1 1.15)" textLength="29.0" lengthAdjust="spacingAndGlyphs">P = 0.039</text>
<line x1="293.60" y1="469.20" x2="293.60" y2="492.20" stroke="#1a1a1a" stroke-width="0.7" />
<line x1="292.00" y1="469.20" x2="293.60" y2="469.20" stroke="#1a1a1a" stroke-width="0.7" />
<line x1="292.00" y1="492.20" x2="293.60" y2="492.20" stroke="#1a1a1a" stroke-width="0.7" />
<text font-size="6.9" text-anchor="middle" transform="translate(295.72 479.90) rotate(90) translate(0 0.3) scale(1 1.15)" textLength="32.2" lengthAdjust="spacingAndGlyphs">P = 0.0011</text>
<line x1="303.40" y1="481.30" x2="303.40" y2="504.30" stroke="#1a1a1a" stroke-width="0.7" />
<line x1="301.80" y1="481.30" x2="303.40" y2="481.30" stroke="#1a1a1a" stroke-width="0.7" />
<line x1="301.80" y1="504.30" x2="303.40" y2="504.30" stroke="#1a1a1a" stroke-width="0.7" />
<text font-size="6.9" text-anchor="middle" transform="translate(305.52 493.00) rotate(90) translate(0 0.3) scale(1 1.15)" textLength="33.3" lengthAdjust="spacingAndGlyphs">P &lt; 0.0001</text>
<line x1="313.30" y1="469.20" x2="313.30" y2="504.30" stroke="#1a1a1a" stroke-width="0.7" />
<line x1="311.70" y1="469.20" x2="313.30" y2="469.20" stroke="#1a1a1a" stroke-width="0.7" />
<line x1="311.70" y1="504.30" x2="313.30" y2="504.30" stroke="#1a1a1a" stroke-width="0.7" />
<text font-size="6.9" text-anchor="middle" transform="translate(314.82 486.50) rotate(90) translate(0 0.3) scale(1 1.15)" textLength="33.4" lengthAdjust="spacingAndGlyphs">P &lt; 0.0001</text>
<text font-size="12.4" font-weight="bold" fill="#000" transform="translate(356.30 458.70)" >P</text>
<line x1="463.00" y1="537.00" x2="490.40" y2="455.10" stroke="#333" stroke-width="0.8" />
<line x1="471.70" y1="577.40" x2="490.40" y2="623.40" stroke="#333" stroke-width="0.8" />
<rect x="490.40" y="455.10" width="179.70" height="168.30" fill="#f3f3f3" stroke="#333" stroke-width="0.9" />
<rect x="377.80" y="472.10" width="57.10" height="14.00" fill="#d6dcb2" stroke="#555" stroke-width="0.6" rx="3" />
<text font-size="6.95" text-anchor="middle" font-weight="bold" fill="#222" transform="translate(406.30 481.20) translate(0 0.3) scale(1 1.15)" >TGFβ signaling</text>
<line x1="406.70" y1="486.10" x2="406.70" y2="508.00" stroke="#6a2aa0" stroke-width="1.3" />
<line x1="375.30" y1="508.00" x2="436.40" y2="508.00" stroke="#6a2aa0" stroke-width="1.3" />
<line x1="375.30" y1="508.00" x2="375.30" y2="531.00" stroke="#6a2aa0" stroke-width="1.3" />
<polygon points="372.80,527.50 377.80,527.50 375.30,535.00" fill="#6a2aa0" />
<line x1="436.40" y1="508.00" x2="436.40" y2="531.00" stroke="#6a2aa0" stroke-width="1.3" />
<polygon points="433.90,527.50 438.90,527.50 436.40,535.00" fill="#6a2aa0" />
<text font-size="6.9" font-weight="bold" fill="#333" transform="translate(408.00 499.90) translate(0 0.3) scale(1 1.15)" >Dual roles</text>
<rect x="339.80" y="537.50" width="63.80" height="13.60" fill="#f6c2ba" stroke="#555" stroke-width="0.6" rx="3" />
<text font-size="6.95" text-anchor="middle" font-weight="bold" fill="#222" transform="translate(371.70 546.10) translate(0 0.3) scale(1 1.15)" >Tumor-promoting</text>
<rect x="405.60" y="537.50" width="67.00" height="13.60" fill="#c9cceb" stroke="#555" stroke-width="0.6" rx="3" />
<text font-size="6.95" text-anchor="middle" font-weight="bold" fill="#222" transform="translate(439.10 546.10) translate(0 0.3) scale(1 1.15)" >Tumor-suppressive</text>
<line x1="375.30" y1="555.10" x2="375.30" y2="580.30" stroke="#d03030" stroke-width="1.3" />
<line x1="372.30" y1="555.10" x2="378.30" y2="555.10" stroke="#d03030" stroke-width="1.2" />
<line x1="436.40" y1="555.10" x2="436.40" y2="580.30" stroke="#d03030" stroke-width="1.3" />
<line x1="433.40" y1="555.10" x2="439.40" y2="555.10" stroke="#d03030" stroke-width="1.2" />
<line x1="375.30" y1="580.30" x2="436.40" y2="580.30" stroke="#d03030" stroke-width="1.3" />
<line x1="406.70" y1="580.30" x2="406.70" y2="602.20" stroke="#d03030" stroke-width="1.3" />
<line x1="438.80" y1="567.50" x2="452.10" y2="567.50" stroke="#d03030" stroke-width="1.3" />
<line x1="438.80" y1="564.80" x2="438.80" y2="570.20" stroke="#d03030" stroke-width="1.2" />
<rect x="377.80" y="602.20" width="66.90" height="14.60" fill="#d6dcb2" stroke="#555" stroke-width="0.6" rx="3" />
<text font-size="6.95" text-anchor="middle" font-weight="bold" fill="#222" transform="translate(411.20 611.60) translate(0 0.3) scale(1 1.15)" >Anti-TGFβ agents</text>
<rect x="452.10" y="557.80" width="51.20" height="20.20" fill="#c3e2b2" stroke="#555" stroke-width="0.6" rx="3" />
<text font-size="6.95" text-anchor="middle" font-weight="bold" fill="#222" transform="translate(477.70 565.00) translate(0 0.3) scale(1 1.15)" >DLD inhibitor:</text>
<text font-size="6.95" text-anchor="middle" font-weight="bold" fill="#222" transform="translate(477.70 572.90) translate(0 0.3) scale(1 1.15)" >devimistat</text>
<path d="M 506.4 491.5 Q 580 465.5 652 491.5" fill="none" stroke="#b89c4c" stroke-width="3.4" />
<text font-size="7.0" font-weight="bold" fill="#222" transform="translate(492.70 466.90) translate(0 0.3) scale(1 1.15)" >TGFβ ligand</text>
<text font-size="7.0" font-weight="bold" fill="#222" transform="translate(561.10 473.60) translate(0 0.3) scale(1 1.15)" >TGFβ receptor</text>
<path d="M 534.8 468 Q 534 462 539 461.5 Q 542 462 542.5 467 L 542.5 478 Q 538 478 535.5 474 Z" fill="#a6d6e6" stroke="#4a7a8a" stroke-width="0.4" />
<path d="M 558.2 468 Q 559 462 554 461.5 Q 551 462 550.5 467 L 550.5 478 Q 555 478 557.5 474 Z" fill="#a6d6e6" stroke="#4a7a8a" stroke-width="0.4" />
<path d="M 537 466 Q 538 462 541 462.5 Q 544 463 544 468 L 544 474 Q 540 474 538.5 471 Z" fill="#5f9c90" stroke="#3a6a60" stroke-width="0.3" />
<path d="M 556 466 Q 555 462 552 462.5 Q 549 463 549 468 L 549 474 Q 553 474 554.5 471 Z" fill="#5f9c90" stroke="#3a6a60" stroke-width="0.3" />
<line x1="541.50" y1="472.00" x2="541.50" y2="489.50" stroke="#3e5e66" stroke-width="0.9" />
<line x1="543.50" y1="472.00" x2="543.50" y2="489.50" stroke="#3e5e66" stroke-width="0.9" />
<line x1="549.50" y1="472.00" x2="549.50" y2="489.50" stroke="#3e5e66" stroke-width="0.9" />
<line x1="551.50" y1="472.00" x2="551.50" y2="489.50" stroke="#3e5e66" stroke-width="0.9" />
<rect x="542.20" y="472.00" width="1.00" height="17.00" fill="#c8e0e8" />
<rect x="550.20" y="472.00" width="1.00" height="17.00" fill="#c8e0e8" />
<circle cx="554.00" cy="485.50" r="1.40" fill="#d090c8" stroke="#666" stroke-width="0.3" />
<circle cx="537.60" cy="459.40" r="2.50" fill="#f6ea88" stroke="#a89a30" stroke-width="0.4" />
<circle cx="544.30" cy="459.40" r="2.50" fill="#f6ea88" stroke="#a89a30" stroke-width="0.4" />
<circle cx="545.80" cy="466.90" r="2.50" fill="#f6ea88" stroke="#a89a30" stroke-width="0.4" />
<line x1="542.10" y1="491.50" x2="541.60" y2="501.00" stroke="#6a2aa0" stroke-width="1.2" />
<polygon points="539.60,499.50 543.60,499.50 541.40,505.00" fill="#6a2aa0" />
<path d="M 537 510 Q 536 506 540.5 506.5 Q 543 503 546 505 Q 548 501.5 551.5 503.5 Q 554.5 506 551.5 509 Q 555 511.5 552.5 515 Q 549.5 518 546.5 515.5 Q 543.5 519.5 540 517.5 Q 536.5 515 537 510 Z" fill="#c6a4ba" stroke="#7a5a70" stroke-width="0.4" />
<text font-size="7.0" font-weight="bold" fill="#222" transform="translate(553.20 507.80) translate(0 0.3) scale(1 1.15)" >ACAT1</text>
<path d="M 524.5 513.5 Q 528 508.5 534 509.5 Q 540 510 541.5 513.5 L 533 517.5 Z" fill="#8cc0e8" stroke="#2a4a70" stroke-width="0.5" />
<path d="M 524.5 513.5 L 533 517.5 L 530 526 Q 525 525.5 523.5 520 Q 523 516 524.5 513.5 Z" fill="#7ab0e0" stroke="#2a4a70" stroke-width="0.5" />
<path d="M 541.5 513.5 L 533 517.5 L 530 526 Q 536 527 540 523 Q 543 518 541.5 513.5 Z" fill="#f2ea84" stroke="#6a6020" stroke-width="0.5" />
<polygon points="529.50,515.80 536.50,515.80 532.50,521.50" fill="#ffffff" />
<circle cx="524.50" cy="512.00" r="1.30" fill="#c890c0" stroke="#444" stroke-width="0.3" />
<circle cx="541.50" cy="513.00" r="1.30" fill="#c890c0" stroke="#444" stroke-width="0.3" />
<text font-size="7.0" text-anchor="middle" font-weight="bold" fill="#222" transform="translate(516.30 533.10) translate(0 0.3) scale(1 1.15)" >SMAD3/3/4</text>
<text font-size="7.0" text-anchor="middle" font-weight="bold" fill="#222" transform="translate(516.40 540.80) translate(0 0.3) scale(1 1.15)" >complex</text>
<circle cx="533.50" cy="568.70" r="22.50" fill="#e8e8e8" stroke="#8c7c70" stroke-width="2.8" stroke-dasharray="7.5 3.5"/>
<path d="M 517.5 566.3 Q 520.25 569.3 523.0 566.3 Q 525.75 563.3 528.5 566.3 Q 531.25 569.3 534.0 566.3 Q 536.75 563.3 539.5 566.3 Q 542.25 569.3 545.0 566.3 Q 547.75 563.3 550.5 566.3" fill="#b8cce0" stroke="#2e3646" stroke-width="0.85" />
<path d="M 517.5 566.3 Q 520.25 563.3 523.0 566.3 Q 525.75 569.3 528.5 566.3 Q 531.25 563.3 534.0 566.3 Q 536.75 569.3 539.5 566.3 Q 542.25 563.3 545.0 566.3 Q 547.75 569.3 550.5 566.3" fill="#b8cce0" stroke="#2e3646" stroke-width="0.85" />
<line x1="519.05" y1="565.30" x2="519.05" y2="567.30" stroke="#5a6478" stroke-width="0.5" />
<line x1="521.45" y1="565.30" x2="521.45" y2="567.30" stroke="#5a6478" stroke-width="0.5" />
<line x1="524.55" y1="565.30" x2="524.55" y2="567.30" stroke="#5a6478" stroke-width="0.5" />
<line x1="526.95" y1="565.30" x2="526.95" y2="567.30" stroke="#5a6478" stroke-width="0.5" />
<line x1="530.05" y1="565.30" x2="530.05" y2="567.30" stroke="#5a6478" stroke-width="0.5" />
<line x1="532.45" y1="565.30" x2="532.45" y2="567.30" stroke="#5a6478" stroke-width="0.5" />
<line x1="535.55" y1="565.30" x2="535.55" y2="567.30" stroke="#5a6478" stroke-width="0.5" />
<line x1="537.95" y1="565.30" x2="537.95" y2="567.30" stroke="#5a6478" stroke-width="0.5" />
<line x1="541.05" y1="565.30" x2="541.05" y2="567.30" stroke="#5a6478" stroke-width="0.5" />
<line x1="543.45" y1="565.30" x2="543.45" y2="567.30" stroke="#5a6478" stroke-width="0.5" />
<line x1="546.55" y1="565.30" x2="546.55" y2="567.30" stroke="#5a6478" stroke-width="0.5" />
<line x1="548.95" y1="565.30" x2="548.95" y2="567.30" stroke="#5a6478" stroke-width="0.5" />
<path d="M 517.5 572.6 Q 520.25 575.6 523.0 572.6 Q 525.75 569.6 528.5 572.6 Q 531.25 575.6 534.0 572.6 Q 536.75 569.6 539.5 572.6 Q 542.25 575.6 545.0 572.6 Q 547.75 569.6 550.5 572.6" fill="#b8cce0" stroke="#2e3646" stroke-width="0.85" />
<path d="M 517.5 572.6 Q 520.25 569.6 523.0 572.6 Q 525.75 575.6 528.5 572.6 Q 531.25 569.6 534.0 572.6 Q 536.75 575.6 539.5 572.6 Q 542.25 569.6 545.0 572.6 Q 547.75 575.6 550.5 572.6" fill="#b8cce0" stroke="#2e3646" stroke-width="0.85" />
<line x1="519.05" y1="571.60" x2="519.05" y2="573.60" stroke="#5a6478" stroke-width="0.5" />
<line x1="521.45" y1="571.60" x2="521.45" y2="573.60" stroke="#5a6478" stroke-width="0.5" />
<line x1="524.55" y1="571.60" x2="524.55" y2="573.60" stroke="#5a6478" stroke-width="0.5" />
<line x1="526.95" y1="571.60" x2="526.95" y2="573.60" stroke="#5a6478" stroke-width="0.5" />
<line x1="530.05" y1="571.60" x2="530.05" y2="573.60" stroke="#5a6478" stroke-width="0.5" />
<line x1="532.45" y1="571.60" x2="532.45" y2="573.60" stroke="#5a6478" stroke-width="0.5" />
<line x1="535.55" y1="571.60" x2="535.55" y2="573.60" stroke="#5a6478" stroke-width="0.5" />
<line x1="537.95" y1="571.60" x2="537.95" y2="573.60" stroke="#5a6478" stroke-width="0.5" />
<line x1="541.05" y1="571.60" x2="541.05" y2="573.60" stroke="#5a6478" stroke-width="0.5" />
<line x1="543.45" y1="571.60" x2="543.45" y2="573.60" stroke="#5a6478" stroke-width="0.5" />
<line x1="546.55" y1="571.60" x2="546.55" y2="573.60" stroke="#5a6478" stroke-width="0.5" />
<line x1="548.95" y1="571.60" x2="548.95" y2="573.60" stroke="#5a6478" stroke-width="0.5" />
<text font-size="7.0" text-anchor="middle" font-weight="bold" fill="#222" transform="translate(517.00 594.70) translate(0 0.3) scale(1 1.15)" >Nucleus</text>
<path d="M 570 518 C 580 508, 605 506, 617 516 C 622 522, 620 540, 626 552 C 632 564, 645 575, 649 588 C 652 600, 640 614, 625 617 C 610 620, 590 614, 580 604 C 568 592, 562 570, 563 550 C 563 535, 564 524, 570 518 Z" fill="#e2dcd6" stroke="#8e7668" stroke-width="3.0" />
<path d="M 575 523 C 584 514, 602 513, 612 520 C 616 527, 614 543, 620 556 C 627 569, 639 579, 643 590 C 645 600, 636 609, 624 611 C 610 613, 593 608, 585 600 C 574 589, 569 569, 569 551 C 569 538, 570 529, 575 523 Z" fill="#f1f1ef" stroke="#d8cfc6" stroke-width="0.7" />
<text font-size="7.0" text-anchor="middle" font-weight="bold" fill="#222" transform="translate(614.00 519.00) translate(0 0.3) scale(1 1.15)" >Mitochondrion</text>
<text font-size="7.0" font-weight="bold" fill="#222" transform="translate(587.00 534.00) translate(0 0.3) scale(1 1.15)" >DLD dimerization</text>
<text font-size="7.0" font-weight="bold" fill="#222" transform="translate(587.00 543.60) translate(0 0.3) scale(1 1.15)" >DLD-K430ac</text>
<line x1="647.00" y1="529.00" x2="647.00" y2="534.00" stroke="#2a8ad8" stroke-width="1.0" />
<polygon points="645.30,532.50 648.70,532.50 647.00,536.00" fill="#2a8ad8" />
<line x1="632.00" y1="538.50" x2="632.00" y2="543.50" stroke="#2a8ad8" stroke-width="1.0" />
<polygon points="630.30,542.00 633.70,542.00 632.00,545.50" fill="#2a8ad8" />
<ellipse cx="581.00" cy="531.00" rx="2.10" ry="3.00" fill="#d6eb9a" stroke="#6a8a30" stroke-width="0.45" />
<ellipse cx="576.00" cy="541.00" rx="2.10" ry="3.00" fill="#d6eb9a" stroke="#6a8a30" stroke-width="0.45" />
<ellipse cx="582.60" cy="541.00" rx="2.10" ry="3.00" fill="#d6eb9a" stroke="#6a8a30" stroke-width="0.45" />
<path d="M 585 546 L 592 555" fill="none" stroke="#6a2aa0" stroke-width="1.2" />
<polygon points="589.50,555.50 593.50,552.50 595.00,558.50" fill="#6a2aa0" />
<circle cx="620.78" cy="578.84" r="1.60" fill="#9a9a9a" stroke="#4a4a4a" stroke-width="0.35" />
<circle cx="623.78" cy="578.84" r="1.60" fill="#9a9a9a" stroke="#4a4a4a" stroke-width="0.35" />
<circle cx="620.78" cy="581.84" r="1.60" fill="#9a9a9a" stroke="#4a4a4a" stroke-width="0.35" />
<circle cx="623.78" cy="581.84" r="1.60" fill="#9a9a9a" stroke="#4a4a4a" stroke-width="0.35" />
<circle cx="615.82" cy="586.84" r="1.60" fill="#9a9a9a" stroke="#4a4a4a" stroke-width="0.35" />
<circle cx="618.82" cy="586.84" r="1.60" fill="#9a9a9a" stroke="#4a4a4a" stroke-width="0.35" />
<circle cx="615.82" cy="589.84" r="1.60" fill="#9a9a9a" stroke="#4a4a4a" stroke-width="0.35" />
<circle cx="618.82" cy="589.84" r="1.60" fill="#9a9a9a" stroke="#4a4a4a" stroke-width="0.35" />
<circle cx="606.50" cy="590.00" r="1.60" fill="#9a9a9a" stroke="#4a4a4a" stroke-width="0.35" />
<circle cx="609.50" cy="590.00" r="1.60" fill="#9a9a9a" stroke="#4a4a4a" stroke-width="0.35" />
<circle cx="606.50" cy="593.00" r="1.60" fill="#9a9a9a" stroke="#4a4a4a" stroke-width="0.35" />
<circle cx="609.50" cy="593.00" r="1.60" fill="#9a9a9a" stroke="#4a4a4a" stroke-width="0.35" />
<circle cx="597.18" cy="586.84" r="1.60" fill="#9a9a9a" stroke="#4a4a4a" stroke-width="0.35" />
<circle cx="600.18" cy="586.84" r="1.60" fill="#9a9a9a" stroke="#4a4a4a" stroke-width="0.35" />
<circle cx="597.18" cy="589.84" r="1.60" fill="#9a9a9a" stroke="#4a4a4a" stroke-width="0.35" />
<circle cx="600.18" cy="589.84" r="1.60" fill="#9a9a9a" stroke="#4a4a4a" stroke-width="0.35" />
<circle cx="592.22" cy="578.84" r="1.60" fill="#9a9a9a" stroke="#4a4a4a" stroke-width="0.35" />
<circle cx="595.22" cy="578.84" r="1.60" fill="#9a9a9a" stroke="#4a4a4a" stroke-width="0.35" />
<circle cx="592.22" cy="581.84" r="1.60" fill="#9a9a9a" stroke="#4a4a4a" stroke-width="0.35" />
<circle cx="595.22" cy="581.84" r="1.60" fill="#9a9a9a" stroke="#4a4a4a" stroke-width="0.35" />
<circle cx="593.94" cy="569.75" r="1.60" fill="#9a9a9a" stroke="#4a4a4a" stroke-width="0.35" />
<circle cx="596.94" cy="569.75" r="1.60" fill="#9a9a9a" stroke="#4a4a4a" stroke-width="0.35" />
<circle cx="593.94" cy="572.75" r="1.60" fill="#9a9a9a" stroke="#4a4a4a" stroke-width="0.35" />
<circle cx="596.94" cy="572.75" r="1.60" fill="#9a9a9a" stroke="#4a4a4a" stroke-width="0.35" />
<circle cx="601.54" cy="563.81" r="1.60" fill="#9a9a9a" stroke="#4a4a4a" stroke-width="0.35" />
<circle cx="604.54" cy="563.81" r="1.60" fill="#9a9a9a" stroke="#4a4a4a" stroke-width="0.35" />
<circle cx="601.54" cy="566.81" r="1.60" fill="#9a9a9a" stroke="#4a4a4a" stroke-width="0.35" />
<circle cx="604.54" cy="566.81" r="1.60" fill="#9a9a9a" stroke="#4a4a4a" stroke-width="0.35" />
<circle cx="611.46" cy="563.81" r="1.60" fill="#9a9a9a" stroke="#4a4a4a" stroke-width="0.35" />
<circle cx="614.46" cy="563.81" r="1.60" fill="#9a9a9a" stroke="#4a4a4a" stroke-width="0.35" />
<circle cx="611.46" cy="566.81" r="1.60" fill="#9a9a9a" stroke="#4a4a4a" stroke-width="0.35" />
<circle cx="614.46" cy="566.81" r="1.60" fill="#9a9a9a" stroke="#4a4a4a" stroke-width="0.35" />
<circle cx="619.06" cy="569.75" r="1.60" fill="#9a9a9a" stroke="#4a4a4a" stroke-width="0.35" />
<circle cx="622.06" cy="569.75" r="1.60" fill="#9a9a9a" stroke="#4a4a4a" stroke-width="0.35" />
<circle cx="619.06" cy="572.75" r="1.60" fill="#9a9a9a" stroke="#4a4a4a" stroke-width="0.35" />
<circle cx="622.06" cy="572.75" r="1.60" fill="#9a9a9a" stroke="#4a4a4a" stroke-width="0.35" />
<ellipse cx="614.00" cy="578.00" rx="4.80" ry="2.20" fill="#94acdc" stroke="#3e5e9e" stroke-width="0.35" transform="rotate(35 614.00 578.00)"/>
<ellipse cx="613.20" cy="581.00" rx="4.80" ry="2.20" fill="#94acdc" stroke="#3e5e9e" stroke-width="0.35" transform="rotate(65 613.20 581.00)"/>
<ellipse cx="611.00" cy="583.20" rx="4.80" ry="2.20" fill="#94acdc" stroke="#3e5e9e" stroke-width="0.35" transform="rotate(95 611.00 583.20)"/>
<ellipse cx="608.00" cy="584.00" rx="4.80" ry="2.20" fill="#94acdc" stroke="#3e5e9e" stroke-width="0.35" transform="rotate(125 608.00 584.00)"/>
<ellipse cx="605.00" cy="583.20" rx="4.80" ry="2.20" fill="#94acdc" stroke="#3e5e9e" stroke-width="0.35" transform="rotate(155 605.00 583.20)"/>
<ellipse cx="602.80" cy="581.00" rx="4.80" ry="2.20" fill="#94acdc" stroke="#3e5e9e" stroke-width="0.35" transform="rotate(185 602.80 581.00)"/>
<ellipse cx="602.00" cy="578.00" rx="4.80" ry="2.20" fill="#94acdc" stroke="#3e5e9e" stroke-width="0.35" transform="rotate(215 602.00 578.00)"/>
<ellipse cx="602.80" cy="575.00" rx="4.80" ry="2.20" fill="#94acdc" stroke="#3e5e9e" stroke-width="0.35" transform="rotate(245 602.80 575.00)"/>
<ellipse cx="605.00" cy="572.80" rx="4.80" ry="2.20" fill="#94acdc" stroke="#3e5e9e" stroke-width="0.35" transform="rotate(275 605.00 572.80)"/>
<ellipse cx="608.00" cy="572.00" rx="4.80" ry="2.20" fill="#94acdc" stroke="#3e5e9e" stroke-width="0.35" transform="rotate(305 608.00 572.00)"/>
<ellipse cx="611.00" cy="572.80" rx="4.80" ry="2.20" fill="#94acdc" stroke="#3e5e9e" stroke-width="0.35" transform="rotate(335 611.00 572.80)"/>
<ellipse cx="613.20" cy="575.00" rx="4.80" ry="2.20" fill="#94acdc" stroke="#3e5e9e" stroke-width="0.35" transform="rotate(365 613.20 575.00)"/>
<circle cx="608.00" cy="578.00" r="2.60" fill="#c0cce8" stroke="#3e5e9e" stroke-width="0.3" />
<ellipse cx="594.00" cy="561.00" rx="2.30" ry="3.10" fill="#d6eb9a" stroke="#6a8a30" stroke-width="0.45" />
<ellipse cx="599.00" cy="559.50" rx="2.30" ry="3.10" fill="#d6eb9a" stroke="#6a8a30" stroke-width="0.45" />
<ellipse cx="616.00" cy="556.00" rx="2.30" ry="3.10" fill="#d6eb9a" stroke="#6a8a30" stroke-width="0.45" />
<ellipse cx="621.00" cy="563.00" rx="2.30" ry="3.10" fill="#d6eb9a" stroke="#6a8a30" stroke-width="0.45" />
<ellipse cx="628.00" cy="571.00" rx="2.30" ry="3.10" fill="#d6eb9a" stroke="#6a8a30" stroke-width="0.45" />
<ellipse cx="628.00" cy="585.00" rx="2.30" ry="3.10" fill="#d6eb9a" stroke="#6a8a30" stroke-width="0.45" />
<ellipse cx="619.00" cy="595.00" rx="2.30" ry="3.10" fill="#d6eb9a" stroke="#6a8a30" stroke-width="0.45" />
<ellipse cx="606.00" cy="598.00" rx="2.30" ry="3.10" fill="#d6eb9a" stroke="#6a8a30" stroke-width="0.45" />
<ellipse cx="593.00" cy="596.00" rx="2.30" ry="3.10" fill="#d6eb9a" stroke="#6a8a30" stroke-width="0.45" />
<ellipse cx="586.00" cy="587.00" rx="2.30" ry="3.10" fill="#d6eb9a" stroke="#6a8a30" stroke-width="0.45" />
<ellipse cx="586.00" cy="574.00" rx="2.30" ry="3.10" fill="#d6eb9a" stroke="#6a8a30" stroke-width="0.45" />
<ellipse cx="622.00" cy="591.00" rx="2.30" ry="3.10" fill="#d6eb9a" stroke="#6a8a30" stroke-width="0.45" />
<ellipse cx="584.00" cy="597.00" rx="2.30" ry="3.10" fill="#d6eb9a" stroke="#6a8a30" stroke-width="0.45" />
<ellipse cx="591.00" cy="604.00" rx="2.30" ry="3.10" fill="#d6eb9a" stroke="#6a8a30" stroke-width="0.45" />
<ellipse cx="603.00" cy="604.00" rx="2.30" ry="3.10" fill="#d6eb9a" stroke="#6a8a30" stroke-width="0.45" />
<path d="M 538.4 526 Q 537 543 530.5 554" fill="none" stroke="#6a2aa0" stroke-width="1.4" />
<polygon points="527.80,552.20 532.80,555.00 528.40,559.00" fill="#6a2aa0" />
<path d="M 542 522 Q 550 534 569 536" fill="none" stroke="#6a2aa0" stroke-width="1.3" stroke-dasharray="1.6 1.2"/>
<polygon points="568.50,533.30 575.00,536.10 568.50,538.90" fill="#6a2aa0" />
<path d="M 552.5 530 L 557 535 M 557 530 L 552.5 535" fill="none" stroke="#e04040" stroke-width="0.7" />
<text font-size="7.0" text-anchor="middle" font-weight="bold" fill="#222" transform="translate(631.00 607.00) translate(0 0.3) scale(1 1.15)" >Impaired PDH/α-KGDH</text>
<text font-size="7.0" text-anchor="middle" font-weight="bold" fill="#222" transform="translate(632.00 615.60) translate(0 0.3) scale(1 1.15)" >complex assembly</text>
<rect x="499.80" y="602.50" width="68.40" height="14.30" fill="#f9d1b2" stroke="#8a7a70" stroke-width="0.6" rx="7" />
<text font-size="7.0" text-anchor="middle" font-weight="bold" fill="#222" transform="translate(534.00 611.90) translate(0 0.3) scale(1 1.15)" >Energy metabolism</text>
<line x1="568.20" y1="609.60" x2="597.00" y2="609.60" stroke="#d03030" stroke-width="1.1" />
<line x1="569.50" y1="606.80" x2="569.50" y2="612.40" stroke="#d03030" stroke-width="1.2" />
</svg></body></html>
